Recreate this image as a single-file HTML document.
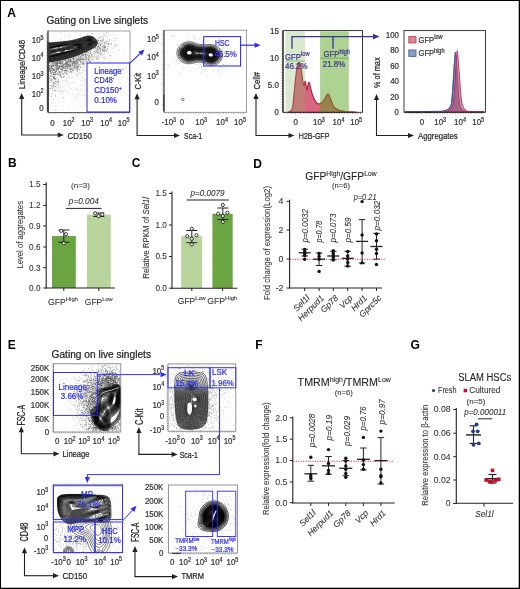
<!DOCTYPE html>
<html><head><meta charset="utf-8"><style>
html,body{margin:0;padding:0;background:#fff;}
body{width:520px;height:589px;overflow:hidden;}
svg{display:block;will-change:transform;}
</style></head><body>
<svg width="520" height="589" viewBox="0 0 520 589" font-family='"Liberation Sans", sans-serif'>
<rect x="0.00" y="0.00" width="520.00" height="589.00" fill="#fff" />
<text transform="translate(7.30 17.10)" font-size="12" fill="#000" font-weight="bold" >A</text>
<text transform="translate(46.50 24.30)" font-size="10" fill="#222" textLength="101.5" lengthAdjust="spacingAndGlyphs" stroke="#222" stroke-width="0.22" >Gating on Live singlets</text>
<path d="M105.2 46.5h0.55v0.55h-0.55zM87.8 59.5h0.55v0.55h-0.55zM73.2 57.7h0.55v0.55h-0.55zM56.2 65.2h0.55v0.55h-0.55zM60.3 66.3h0.55v0.55h-0.55zM71.0 61.7h0.55v0.55h-0.55zM61.6 77.5h0.55v0.55h-0.55zM98.1 50.2h0.55v0.55h-0.55zM77.4 66.6h0.55v0.55h-0.55zM65.5 59.7h0.55v0.55h-0.55zM52.1 77.8h0.55v0.55h-0.55zM69.9 60.3h0.55v0.55h-0.55zM50.4 80.1h0.55v0.55h-0.55zM104.1 47.1h0.55v0.55h-0.55zM78.6 66.0h0.55v0.55h-0.55zM48.6 64.4h0.55v0.55h-0.55zM58.9 62.2h0.55v0.55h-0.55zM86.5 58.6h0.55v0.55h-0.55zM58.4 79.9h0.55v0.55h-0.55zM97.5 58.0h0.55v0.55h-0.55zM103.9 58.0h0.55v0.55h-0.55zM60.3 74.5h0.55v0.55h-0.55zM59.1 67.2h0.55v0.55h-0.55zM52.7 64.0h0.55v0.55h-0.55zM72.2 64.3h0.55v0.55h-0.55zM53.2 82.8h0.55v0.55h-0.55zM53.6 71.8h0.55v0.55h-0.55zM80.9 58.5h0.55v0.55h-0.55zM74.5 60.5h0.55v0.55h-0.55zM67.7 63.0h0.55v0.55h-0.55zM80.4 67.0h0.55v0.55h-0.55zM77.4 61.4h0.55v0.55h-0.55zM104.5 45.8h0.55v0.55h-0.55zM66.1 62.3h0.55v0.55h-0.55zM59.4 71.1h0.55v0.55h-0.55zM65.3 69.0h0.55v0.55h-0.55zM85.2 59.1h0.55v0.55h-0.55zM59.3 76.4h0.55v0.55h-0.55zM73.1 58.3h0.55v0.55h-0.55zM84.0 63.0h0.55v0.55h-0.55zM79.8 57.1h0.55v0.55h-0.55zM63.2 64.4h0.55v0.55h-0.55zM64.3 64.4h0.55v0.55h-0.55zM55.6 71.2h0.55v0.55h-0.55zM103.6 38.6h0.55v0.55h-0.55zM70.3 65.5h0.55v0.55h-0.55zM90.9 57.0h0.55v0.55h-0.55zM57.9 68.0h0.55v0.55h-0.55zM62.1 62.7h0.55v0.55h-0.55zM109.5 43.7h0.55v0.55h-0.55zM82.4 64.6h0.55v0.55h-0.55zM69.2 64.0h0.55v0.55h-0.55zM80.7 60.1h0.55v0.55h-0.55zM49.1 69.8h0.55v0.55h-0.55zM55.6 71.9h0.55v0.55h-0.55zM76.8 61.1h0.55v0.55h-0.55zM104.3 42.6h0.55v0.55h-0.55zM51.9 67.5h0.55v0.55h-0.55zM73.8 68.8h0.55v0.55h-0.55zM50.1 79.0h0.55v0.55h-0.55zM62.1 63.6h0.55v0.55h-0.55zM103.2 44.9h0.55v0.55h-0.55zM80.5 63.7h0.55v0.55h-0.55zM62.3 66.0h0.55v0.55h-0.55zM66.3 64.7h0.55v0.55h-0.55zM83.2 61.9h0.55v0.55h-0.55zM72.3 63.7h0.55v0.55h-0.55zM102.9 48.8h0.55v0.55h-0.55zM101.2 43.8h0.55v0.55h-0.55zM51.5 73.3h0.55v0.55h-0.55zM106.2 41.2h0.55v0.55h-0.55zM84.8 63.7h0.55v0.55h-0.55zM77.3 56.7h0.55v0.55h-0.55zM70.6 66.5h0.55v0.55h-0.55zM61.2 63.0h0.55v0.55h-0.55zM103.7 49.0h0.55v0.55h-0.55zM102.5 47.3h0.55v0.55h-0.55zM87.7 52.4h0.55v0.55h-0.55zM55.0 81.3h0.55v0.55h-0.55zM76.9 66.7h0.55v0.55h-0.55zM59.6 63.2h0.55v0.55h-0.55zM76.1 63.5h0.55v0.55h-0.55zM102.4 42.4h0.55v0.55h-0.55zM107.5 41.5h0.55v0.55h-0.55zM83.5 62.3h0.55v0.55h-0.55zM76.0 58.0h0.55v0.55h-0.55zM89.6 56.5h0.55v0.55h-0.55zM83.3 58.4h0.55v0.55h-0.55zM54.5 66.3h0.55v0.55h-0.55zM76.5 61.7h0.55v0.55h-0.55zM82.0 55.3h0.55v0.55h-0.55zM104.1 44.7h0.55v0.55h-0.55zM56.0 63.8h0.55v0.55h-0.55zM107.0 48.0h0.55v0.55h-0.55zM65.2 70.7h0.55v0.55h-0.55zM52.6 70.1h0.55v0.55h-0.55zM82.4 59.4h0.55v0.55h-0.55zM50.3 85.2h0.55v0.55h-0.55zM55.6 109.6h0.55v0.55h-0.55zM54.5 83.0h0.55v0.55h-0.55zM99.6 48.4h0.55v0.55h-0.55zM88.9 54.6h0.55v0.55h-0.55zM66.1 72.2h0.55v0.55h-0.55zM54.4 77.1h0.55v0.55h-0.55zM80.0 59.2h0.55v0.55h-0.55zM73.6 64.7h0.55v0.55h-0.55zM72.8 58.6h0.55v0.55h-0.55zM67.4 74.2h0.55v0.55h-0.55zM54.0 76.2h0.55v0.55h-0.55zM71.3 61.6h0.55v0.55h-0.55zM97.0 52.6h0.55v0.55h-0.55zM67.5 64.9h0.55v0.55h-0.55zM62.6 67.8h0.55v0.55h-0.55zM98.1 51.8h0.55v0.55h-0.55zM68.8 65.4h0.55v0.55h-0.55zM94.6 50.9h0.55v0.55h-0.55zM74.6 58.1h0.55v0.55h-0.55zM100.3 40.1h0.55v0.55h-0.55zM57.6 68.5h0.55v0.55h-0.55zM97.8 40.5h0.55v0.55h-0.55zM105.9 45.8h0.55v0.55h-0.55zM70.2 63.9h0.55v0.55h-0.55zM49.7 70.9h0.55v0.55h-0.55zM66.6 59.4h0.55v0.55h-0.55zM75.6 62.8h0.55v0.55h-0.55zM57.3 66.4h0.55v0.55h-0.55zM56.7 67.2h0.55v0.55h-0.55zM70.9 59.5h0.55v0.55h-0.55zM89.5 52.4h0.55v0.55h-0.55zM65.6 62.8h0.55v0.55h-0.55zM85.1 60.9h0.55v0.55h-0.55zM100.6 54.4h0.55v0.55h-0.55zM57.5 73.2h0.55v0.55h-0.55zM77.5 66.4h0.55v0.55h-0.55zM68.2 64.2h0.55v0.55h-0.55zM71.2 71.2h0.55v0.55h-0.55zM73.7 57.5h0.55v0.55h-0.55zM86.0 60.4h0.55v0.55h-0.55zM69.1 60.4h0.55v0.55h-0.55zM84.7 54.9h0.55v0.55h-0.55zM90.8 50.1h0.55v0.55h-0.55zM79.7 60.9h0.55v0.55h-0.55zM89.4 58.8h0.55v0.55h-0.55zM61.3 66.6h0.55v0.55h-0.55zM86.5 59.0h0.55v0.55h-0.55zM71.3 61.6h0.55v0.55h-0.55zM65.2 67.1h0.55v0.55h-0.55zM101.1 49.4h0.55v0.55h-0.55zM100.2 48.4h0.55v0.55h-0.55zM53.5 65.7h0.55v0.55h-0.55zM58.9 73.5h0.55v0.55h-0.55zM102.4 48.9h0.55v0.55h-0.55zM60.9 68.7h0.55v0.55h-0.55zM68.3 65.5h0.55v0.55h-0.55zM56.1 63.7h0.55v0.55h-0.55zM81.9 57.6h0.55v0.55h-0.55zM64.6 60.5h0.55v0.55h-0.55zM52.6 66.5h0.55v0.55h-0.55zM75.4 69.7h0.55v0.55h-0.55zM60.4 75.1h0.55v0.55h-0.55zM62.9 63.0h0.55v0.55h-0.55zM75.9 67.5h0.55v0.55h-0.55zM64.8 72.3h0.55v0.55h-0.55zM55.4 74.1h0.55v0.55h-0.55zM77.9 60.9h0.55v0.55h-0.55zM62.3 70.7h0.55v0.55h-0.55zM62.4 60.2h0.55v0.55h-0.55zM52.1 86.5h0.55v0.55h-0.55zM53.4 70.1h0.55v0.55h-0.55zM65.7 70.9h0.55v0.55h-0.55zM51.8 79.9h0.55v0.55h-0.55zM65.7 60.6h0.55v0.55h-0.55zM76.1 67.2h0.55v0.55h-0.55zM58.1 84.5h0.55v0.55h-0.55zM64.7 73.6h0.55v0.55h-0.55zM75.7 61.1h0.55v0.55h-0.55zM62.8 61.6h0.55v0.55h-0.55zM104.7 40.9h0.55v0.55h-0.55zM103.5 33.8h0.55v0.55h-0.55zM99.7 40.0h0.55v0.55h-0.55zM71.9 70.6h0.55v0.55h-0.55zM49.9 81.8h0.55v0.55h-0.55zM52.2 68.2h0.55v0.55h-0.55zM56.0 80.8h0.55v0.55h-0.55zM71.5 65.7h0.55v0.55h-0.55zM79.9 56.5h0.55v0.55h-0.55zM63.5 68.1h0.55v0.55h-0.55zM64.1 68.6h0.55v0.55h-0.55zM79.1 59.3h0.55v0.55h-0.55zM53.6 69.6h0.55v0.55h-0.55zM70.4 60.4h0.55v0.55h-0.55zM50.0 72.5h0.55v0.55h-0.55zM49.8 67.4h0.55v0.55h-0.55zM65.9 68.3h0.55v0.55h-0.55zM68.3 58.9h0.55v0.55h-0.55zM85.3 55.1h0.55v0.55h-0.55zM89.8 61.1h0.55v0.55h-0.55zM104.9 46.1h0.55v0.55h-0.55zM107.3 46.8h0.55v0.55h-0.55zM73.6 61.0h0.55v0.55h-0.55zM97.7 56.2h0.55v0.55h-0.55zM64.0 63.2h0.55v0.55h-0.55zM103.7 51.4h0.55v0.55h-0.55zM90.4 61.9h0.55v0.55h-0.55zM58.7 67.2h0.55v0.55h-0.55zM57.7 62.9h0.55v0.55h-0.55zM98.1 45.6h0.55v0.55h-0.55zM57.5 61.4h0.55v0.55h-0.55zM76.7 58.7h0.55v0.55h-0.55zM53.0 72.2h0.55v0.55h-0.55zM77.3 63.3h0.55v0.55h-0.55zM76.9 63.0h0.55v0.55h-0.55zM55.3 62.0h0.55v0.55h-0.55zM61.9 62.6h0.55v0.55h-0.55zM74.2 67.7h0.55v0.55h-0.55zM104.0 49.6h0.55v0.55h-0.55zM63.4 66.9h0.55v0.55h-0.55zM82.8 67.3h0.55v0.55h-0.55zM100.5 40.2h0.55v0.55h-0.55zM58.4 65.7h0.55v0.55h-0.55zM55.8 70.0h0.55v0.55h-0.55zM86.2 58.2h0.55v0.55h-0.55zM89.2 61.5h0.55v0.55h-0.55zM89.4 60.4h0.55v0.55h-0.55zM109.2 55.6h0.55v0.55h-0.55zM79.9 59.4h0.55v0.55h-0.55zM69.0 61.5h0.55v0.55h-0.55zM82.3 72.4h0.55v0.55h-0.55zM70.7 59.6h0.55v0.55h-0.55zM70.7 59.1h0.55v0.55h-0.55zM61.2 77.2h0.55v0.55h-0.55zM92.8 59.5h0.55v0.55h-0.55zM66.1 61.7h0.55v0.55h-0.55zM80.3 57.8h0.55v0.55h-0.55zM85.6 60.3h0.55v0.55h-0.55zM75.4 66.4h0.55v0.55h-0.55zM93.3 53.4h0.55v0.55h-0.55zM104.1 44.5h0.55v0.55h-0.55zM67.3 68.3h0.55v0.55h-0.55zM85.1 61.1h0.55v0.55h-0.55zM50.8 64.2h0.55v0.55h-0.55zM92.2 54.7h0.55v0.55h-0.55zM74.0 61.1h0.55v0.55h-0.55zM95.8 51.2h0.55v0.55h-0.55zM93.3 51.4h0.55v0.55h-0.55zM61.0 69.0h0.55v0.55h-0.55zM76.9 65.6h0.55v0.55h-0.55zM51.2 65.9h0.55v0.55h-0.55zM98.0 53.8h0.55v0.55h-0.55zM69.0 68.0h0.55v0.55h-0.55zM75.9 59.8h0.55v0.55h-0.55zM70.9 59.9h0.55v0.55h-0.55zM54.0 68.3h0.55v0.55h-0.55zM83.0 54.1h0.55v0.55h-0.55zM104.3 53.6h0.55v0.55h-0.55zM81.1 55.5h0.55v0.55h-0.55zM107.3 48.1h0.55v0.55h-0.55zM55.7 78.0h0.55v0.55h-0.55zM58.5 67.0h0.55v0.55h-0.55zM54.0 69.7h0.55v0.55h-0.55zM57.0 64.5h0.55v0.55h-0.55zM67.1 61.2h0.55v0.55h-0.55zM99.8 44.2h0.55v0.55h-0.55zM81.5 61.0h0.55v0.55h-0.55zM54.6 74.4h0.55v0.55h-0.55zM95.5 52.5h0.55v0.55h-0.55zM54.8 63.0h0.55v0.55h-0.55zM54.3 79.3h0.55v0.55h-0.55zM96.5 58.5h0.55v0.55h-0.55zM51.4 73.3h0.55v0.55h-0.55zM86.7 52.6h0.55v0.55h-0.55zM62.2 69.4h0.55v0.55h-0.55zM101.7 48.5h0.55v0.55h-0.55zM80.5 61.6h0.55v0.55h-0.55zM50.0 71.7h0.55v0.55h-0.55zM103.3 56.9h0.55v0.55h-0.55zM52.4 63.4h0.55v0.55h-0.55zM61.2 62.6h0.55v0.55h-0.55zM59.7 60.9h0.55v0.55h-0.55zM53.2 64.9h0.55v0.55h-0.55zM53.3 77.8h0.55v0.55h-0.55zM48.9 78.0h0.55v0.55h-0.55zM83.2 55.1h0.55v0.55h-0.55zM106.4 50.2h0.55v0.55h-0.55zM99.1 41.8h0.55v0.55h-0.55zM82.4 63.3h0.55v0.55h-0.55zM90.9 54.9h0.55v0.55h-0.55zM61.3 65.7h0.55v0.55h-0.55zM69.4 63.4h0.55v0.55h-0.55zM61.0 62.8h0.55v0.55h-0.55zM100.4 48.8h0.55v0.55h-0.55zM69.3 65.0h0.55v0.55h-0.55zM70.5 60.1h0.55v0.55h-0.55zM94.5 57.2h0.55v0.55h-0.55zM60.3 68.2h0.55v0.55h-0.55zM51.6 69.0h0.55v0.55h-0.55zM63.1 64.3h0.55v0.55h-0.55zM63.0 76.2h0.55v0.55h-0.55zM53.2 68.9h0.55v0.55h-0.55zM62.6 65.3h0.55v0.55h-0.55zM52.7 63.4h0.55v0.55h-0.55zM60.7 71.9h0.55v0.55h-0.55zM87.7 55.8h0.55v0.55h-0.55zM86.6 56.6h0.55v0.55h-0.55zM91.6 55.6h0.55v0.55h-0.55zM56.4 68.4h0.55v0.55h-0.55zM82.3 59.5h0.55v0.55h-0.55zM51.0 67.2h0.55v0.55h-0.55zM76.4 62.3h0.55v0.55h-0.55zM53.4 86.5h0.55v0.55h-0.55zM66.9 64.4h0.55v0.55h-0.55zM99.9 51.2h0.55v0.55h-0.55zM69.2 61.7h0.55v0.55h-0.55zM92.2 35.9h0.55v0.55h-0.55zM56.0 70.5h0.55v0.55h-0.55zM66.7 60.7h0.55v0.55h-0.55zM96.4 46.7h0.55v0.55h-0.55zM60.5 66.5h0.55v0.55h-0.55zM57.6 64.5h0.55v0.55h-0.55zM57.1 61.2h0.55v0.55h-0.55zM57.9 73.9h0.55v0.55h-0.55zM58.1 70.2h0.55v0.55h-0.55zM62.4 65.0h0.55v0.55h-0.55zM49.8 90.8h0.55v0.55h-0.55zM53.6 91.5h0.55v0.55h-0.55zM95.2 48.8h0.55v0.55h-0.55zM56.6 63.7h0.55v0.55h-0.55zM57.2 66.6h0.55v0.55h-0.55zM54.8 71.5h0.55v0.55h-0.55zM66.7 68.8h0.55v0.55h-0.55zM87.1 61.5h0.55v0.55h-0.55zM68.7 66.6h0.55v0.55h-0.55zM69.2 69.7h0.55v0.55h-0.55zM63.4 60.6h0.55v0.55h-0.55zM52.4 69.4h0.55v0.55h-0.55zM57.1 66.5h0.55v0.55h-0.55zM60.1 66.2h0.55v0.55h-0.55zM70.3 59.0h0.55v0.55h-0.55zM56.1 62.4h0.55v0.55h-0.55zM52.8 68.3h0.55v0.55h-0.55zM103.1 40.6h0.55v0.55h-0.55zM54.6 79.2h0.55v0.55h-0.55zM76.3 63.3h0.55v0.55h-0.55zM53.9 82.8h0.55v0.55h-0.55zM56.1 61.9h0.55v0.55h-0.55zM49.3 65.0h0.55v0.55h-0.55zM105.3 42.7h0.55v0.55h-0.55zM66.7 60.9h0.55v0.55h-0.55zM53.3 73.3h0.55v0.55h-0.55zM66.0 62.8h0.55v0.55h-0.55zM57.2 74.4h0.55v0.55h-0.55zM79.9 61.3h0.55v0.55h-0.55zM66.6 70.1h0.55v0.55h-0.55zM63.9 65.3h0.55v0.55h-0.55zM58.1 62.7h0.55v0.55h-0.55zM60.6 71.5h0.55v0.55h-0.55zM91.6 54.5h0.55v0.55h-0.55zM105.5 47.7h0.55v0.55h-0.55zM79.8 60.7h0.55v0.55h-0.55zM57.1 88.2h0.55v0.55h-0.55zM52.0 62.0h0.55v0.55h-0.55zM53.6 77.8h0.55v0.55h-0.55zM101.0 46.4h0.55v0.55h-0.55zM58.9 66.3h0.55v0.55h-0.55zM69.1 61.8h0.55v0.55h-0.55zM48.9 71.4h0.55v0.55h-0.55zM106.2 42.7h0.55v0.55h-0.55zM61.0 61.5h0.55v0.55h-0.55zM62.7 67.0h0.55v0.55h-0.55zM52.0 88.4h0.55v0.55h-0.55zM59.2 66.1h0.55v0.55h-0.55zM88.0 60.2h0.55v0.55h-0.55zM62.6 70.9h0.55v0.55h-0.55zM60.0 66.8h0.55v0.55h-0.55zM66.9 61.0h0.55v0.55h-0.55zM66.0 70.0h0.55v0.55h-0.55zM55.0 95.3h0.55v0.55h-0.55zM64.9 67.7h0.55v0.55h-0.55zM73.2 65.6h0.55v0.55h-0.55zM66.6 64.6h0.55v0.55h-0.55zM69.5 66.0h0.55v0.55h-0.55zM97.8 53.0h0.55v0.55h-0.55zM68.7 77.4h0.55v0.55h-0.55zM102.2 36.0h0.55v0.55h-0.55zM61.9 91.1h0.55v0.55h-0.55zM57.1 61.3h0.55v0.55h-0.55zM58.5 79.7h0.55v0.55h-0.55zM52.5 69.5h0.55v0.55h-0.55zM74.5 62.7h0.55v0.55h-0.55zM51.0 81.6h0.55v0.55h-0.55zM59.1 61.3h0.55v0.55h-0.55zM65.0 66.2h0.55v0.55h-0.55zM58.7 65.5h0.55v0.55h-0.55zM72.1 62.8h0.55v0.55h-0.55zM83.7 54.8h0.55v0.55h-0.55zM71.5 62.9h0.55v0.55h-0.55zM53.0 87.1h0.55v0.55h-0.55zM103.0 48.8h0.55v0.55h-0.55zM85.4 53.8h0.55v0.55h-0.55zM52.4 62.0h0.55v0.55h-0.55zM83.4 63.2h0.55v0.55h-0.55zM56.4 68.1h0.55v0.55h-0.55zM73.4 58.6h0.55v0.55h-0.55zM70.7 63.2h0.55v0.55h-0.55zM91.4 54.6h0.55v0.55h-0.55zM55.2 86.3h0.55v0.55h-0.55zM51.7 70.2h0.55v0.55h-0.55zM106.5 42.9h0.55v0.55h-0.55zM62.6 97.5h0.55v0.55h-0.55zM83.1 66.3h0.55v0.55h-0.55zM93.1 48.7h0.55v0.55h-0.55zM81.3 54.2h0.55v0.55h-0.55zM57.1 63.7h0.55v0.55h-0.55zM104.6 48.5h0.55v0.55h-0.55zM69.9 64.8h0.55v0.55h-0.55zM53.3 74.1h0.55v0.55h-0.55zM80.6 55.9h0.55v0.55h-0.55zM53.9 90.2h0.55v0.55h-0.55zM51.5 72.1h0.55v0.55h-0.55zM76.6 58.9h0.55v0.55h-0.55zM54.9 72.9h0.55v0.55h-0.55zM72.5 69.4h0.55v0.55h-0.55zM64.0 66.4h0.55v0.55h-0.55zM76.7 62.4h0.55v0.55h-0.55zM96.1 50.9h0.55v0.55h-0.55zM70.2 69.8h0.55v0.55h-0.55zM57.2 61.5h0.55v0.55h-0.55zM77.2 68.8h0.55v0.55h-0.55zM69.6 61.4h0.55v0.55h-0.55zM52.6 68.2h0.55v0.55h-0.55zM68.5 62.5h0.55v0.55h-0.55zM76.8 71.3h0.55v0.55h-0.55zM51.6 68.6h0.55v0.55h-0.55zM102.9 38.3h0.55v0.55h-0.55zM96.4 57.9h0.55v0.55h-0.55zM53.7 70.0h0.55v0.55h-0.55zM53.0 77.4h0.55v0.55h-0.55zM69.6 62.0h0.55v0.55h-0.55zM54.5 73.4h0.55v0.55h-0.55zM102.4 46.4h0.55v0.55h-0.55zM49.5 67.8h0.55v0.55h-0.55zM56.2 67.8h0.55v0.55h-0.55zM59.4 62.8h0.55v0.55h-0.55zM102.1 55.5h0.55v0.55h-0.55zM98.7 43.2h0.55v0.55h-0.55zM81.6 63.1h0.55v0.55h-0.55zM52.9 76.8h0.55v0.55h-0.55zM61.6 60.2h0.55v0.55h-0.55zM88.2 59.2h0.55v0.55h-0.55zM71.6 66.9h0.55v0.55h-0.55zM60.8 60.8h0.55v0.55h-0.55zM67.4 65.3h0.55v0.55h-0.55zM112.8 47.9h0.55v0.55h-0.55zM72.9 61.9h0.55v0.55h-0.55zM51.4 78.7h0.55v0.55h-0.55zM106.1 49.4h0.55v0.55h-0.55zM67.5 66.9h0.55v0.55h-0.55zM56.4 66.6h0.55v0.55h-0.55zM79.7 70.3h0.55v0.55h-0.55zM58.1 74.2h0.55v0.55h-0.55zM58.8 60.9h0.55v0.55h-0.55zM49.2 69.2h0.55v0.55h-0.55zM49.5 69.0h0.55v0.55h-0.55zM61.8 63.1h0.55v0.55h-0.55zM68.4 59.9h0.55v0.55h-0.55zM69.0 66.9h0.55v0.55h-0.55zM52.2 66.5h0.55v0.55h-0.55zM98.0 46.4h0.55v0.55h-0.55zM61.3 64.7h0.55v0.55h-0.55zM86.3 53.7h0.55v0.55h-0.55zM73.7 62.9h0.55v0.55h-0.55zM70.3 58.3h0.55v0.55h-0.55zM62.1 62.9h0.55v0.55h-0.55zM67.2 66.3h0.55v0.55h-0.55zM48.6 82.3h0.55v0.55h-0.55zM103.8 56.5h0.55v0.55h-0.55zM97.4 51.1h0.55v0.55h-0.55zM98.9 37.9h0.55v0.55h-0.55zM60.1 63.3h0.55v0.55h-0.55zM56.4 62.0h0.55v0.55h-0.55zM100.3 51.6h0.55v0.55h-0.55zM98.2 46.0h0.55v0.55h-0.55zM90.5 53.4h0.55v0.55h-0.55zM53.7 76.2h0.55v0.55h-0.55zM88.5 53.4h0.55v0.55h-0.55zM49.2 68.4h0.55v0.55h-0.55zM53.6 74.1h0.55v0.55h-0.55zM76.4 69.7h0.55v0.55h-0.55zM73.4 58.9h0.55v0.55h-0.55zM51.8 79.0h0.55v0.55h-0.55zM83.2 54.4h0.55v0.55h-0.55zM68.0 59.4h0.55v0.55h-0.55zM50.7 68.6h0.55v0.55h-0.55zM87.0 52.0h0.55v0.55h-0.55zM67.5 67.8h0.55v0.55h-0.55zM59.2 61.8h0.55v0.55h-0.55zM82.1 61.2h0.55v0.55h-0.55zM52.3 72.1h0.55v0.55h-0.55zM70.0 65.4h0.55v0.55h-0.55zM94.7 53.6h0.55v0.55h-0.55zM86.1 54.5h0.55v0.55h-0.55zM80.1 61.4h0.55v0.55h-0.55zM90.6 52.4h0.55v0.55h-0.55zM97.8 49.0h0.55v0.55h-0.55zM52.2 66.4h0.55v0.55h-0.55zM105.1 46.8h0.55v0.55h-0.55zM111.0 43.6h0.55v0.55h-0.55zM69.5 59.6h0.55v0.55h-0.55zM77.3 59.7h0.55v0.55h-0.55zM111.7 47.3h0.55v0.55h-0.55zM65.1 70.8h0.55v0.55h-0.55zM91.6 59.3h0.55v0.55h-0.55zM66.0 72.2h0.55v0.55h-0.55zM98.8 57.2h0.55v0.55h-0.55zM99.9 50.1h0.55v0.55h-0.55zM51.8 65.2h0.55v0.55h-0.55zM60.3 67.9h0.55v0.55h-0.55zM78.3 62.2h0.55v0.55h-0.55zM62.5 61.3h0.55v0.55h-0.55zM99.5 47.8h0.55v0.55h-0.55zM50.2 67.9h0.55v0.55h-0.55zM106.6 40.8h0.55v0.55h-0.55zM75.0 62.2h0.55v0.55h-0.55zM61.1 91.7h0.55v0.55h-0.55zM97.8 55.8h0.55v0.55h-0.55zM54.8 64.6h0.55v0.55h-0.55zM57.7 63.5h0.55v0.55h-0.55zM89.1 57.0h0.55v0.55h-0.55zM49.8 65.6h0.55v0.55h-0.55zM85.3 63.2h0.55v0.55h-0.55zM55.6 65.8h0.55v0.55h-0.55zM52.8 62.1h0.55v0.55h-0.55zM84.3 59.1h0.55v0.55h-0.55zM62.8 71.7h0.55v0.55h-0.55zM100.2 45.1h0.55v0.55h-0.55zM77.8 69.7h0.55v0.55h-0.55zM53.3 78.3h0.55v0.55h-0.55zM78.2 66.5h0.55v0.55h-0.55zM54.6 70.0h0.55v0.55h-0.55zM59.0 65.9h0.55v0.55h-0.55zM100.7 53.1h0.55v0.55h-0.55zM73.0 66.7h0.55v0.55h-0.55zM63.8 75.9h0.55v0.55h-0.55zM65.4 67.7h0.55v0.55h-0.55zM54.7 62.2h0.55v0.55h-0.55zM80.9 67.8h0.55v0.55h-0.55zM61.7 69.4h0.55v0.55h-0.55zM100.5 49.6h0.55v0.55h-0.55zM70.4 63.2h0.55v0.55h-0.55zM86.9 52.2h0.55v0.55h-0.55zM73.7 70.5h0.55v0.55h-0.55zM94.8 56.3h0.55v0.55h-0.55zM57.6 72.6h0.55v0.55h-0.55zM85.8 52.4h0.55v0.55h-0.55zM49.3 66.5h0.55v0.55h-0.55zM65.0 62.7h0.55v0.55h-0.55zM71.7 69.7h0.55v0.55h-0.55zM56.4 67.5h0.55v0.55h-0.55zM63.8 63.7h0.55v0.55h-0.55zM58.2 66.7h0.55v0.55h-0.55zM62.6 67.2h0.55v0.55h-0.55zM65.7 60.8h0.55v0.55h-0.55zM61.0 67.0h0.55v0.55h-0.55zM83.8 59.9h0.55v0.55h-0.55zM76.3 67.7h0.55v0.55h-0.55zM94.5 48.5h0.55v0.55h-0.55zM53.1 77.7h0.55v0.55h-0.55zM97.4 47.7h0.55v0.55h-0.55zM69.4 71.7h0.55v0.55h-0.55zM67.7 64.4h0.55v0.55h-0.55zM60.9 65.8h0.55v0.55h-0.55zM68.3 64.9h0.55v0.55h-0.55zM72.2 64.5h0.55v0.55h-0.55zM75.9 63.3h0.55v0.55h-0.55zM70.2 62.0h0.55v0.55h-0.55zM53.2 99.0h0.55v0.55h-0.55zM101.5 42.7h0.55v0.55h-0.55zM85.6 54.8h0.55v0.55h-0.55zM58.1 61.3h0.55v0.55h-0.55zM74.3 67.8h0.55v0.55h-0.55zM51.4 66.3h0.55v0.55h-0.55zM85.2 54.6h0.55v0.55h-0.55zM77.5 67.6h0.55v0.55h-0.55zM70.0 59.8h0.55v0.55h-0.55zM70.4 61.3h0.55v0.55h-0.55zM65.9 74.4h0.55v0.55h-0.55zM115.1 38.4h0.55v0.55h-0.55zM99.4 42.4h0.55v0.55h-0.55zM98.5 50.3h0.55v0.55h-0.55zM57.9 79.5h0.55v0.55h-0.55zM58.6 72.7h0.55v0.55h-0.55zM57.1 63.1h0.55v0.55h-0.55zM55.0 72.4h0.55v0.55h-0.55zM50.1 74.8h0.55v0.55h-0.55zM114.5 44.6h0.55v0.55h-0.55zM98.6 34.5h0.55v0.55h-0.55zM89.7 51.1h0.55v0.55h-0.55zM72.5 63.3h0.55v0.55h-0.55zM71.5 71.8h0.55v0.55h-0.55zM69.7 60.6h0.55v0.55h-0.55zM67.1 71.4h0.55v0.55h-0.55zM85.3 53.6h0.55v0.55h-0.55zM55.5 74.1h0.55v0.55h-0.55zM97.3 50.7h0.55v0.55h-0.55zM75.5 59.0h0.55v0.55h-0.55zM100.3 49.4h0.55v0.55h-0.55zM80.0 62.0h0.55v0.55h-0.55zM69.9 65.3h0.55v0.55h-0.55zM90.0 51.2h0.55v0.55h-0.55zM53.7 68.1h0.55v0.55h-0.55zM82.4 55.7h0.55v0.55h-0.55zM52.0 89.2h0.55v0.55h-0.55zM48.8 77.0h0.55v0.55h-0.55zM103.4 45.6h0.55v0.55h-0.55zM78.6 66.2h0.55v0.55h-0.55zM96.5 56.0h0.55v0.55h-0.55zM70.2 67.5h0.55v0.55h-0.55zM53.3 76.0h0.55v0.55h-0.55zM59.1 73.6h0.55v0.55h-0.55zM68.5 68.0h0.55v0.55h-0.55zM58.2 62.4h0.55v0.55h-0.55zM58.0 65.4h0.55v0.55h-0.55zM51.1 70.2h0.55v0.55h-0.55zM80.0 59.1h0.55v0.55h-0.55zM70.2 58.4h0.55v0.55h-0.55zM55.1 83.2h0.55v0.55h-0.55zM67.9 58.9h0.55v0.55h-0.55zM52.8 70.4h0.55v0.55h-0.55zM54.9 72.8h0.55v0.55h-0.55zM55.0 74.7h0.55v0.55h-0.55zM53.1 69.1h0.55v0.55h-0.55zM108.6 39.9h0.55v0.55h-0.55zM66.4 65.3h0.55v0.55h-0.55zM53.8 63.3h0.55v0.55h-0.55zM67.2 63.8h0.55v0.55h-0.55zM58.2 82.4h0.55v0.55h-0.55zM101.3 40.2h0.55v0.55h-0.55zM66.3 59.8h0.55v0.55h-0.55zM57.7 89.9h0.55v0.55h-0.55zM86.6 61.3h0.55v0.55h-0.55zM49.9 71.6h0.55v0.55h-0.55zM95.8 48.7h0.55v0.55h-0.55zM67.3 63.5h0.55v0.55h-0.55zM59.9 62.8h0.55v0.55h-0.55zM95.6 50.4h0.55v0.55h-0.55zM57.6 65.0h0.55v0.55h-0.55zM56.2 62.9h0.55v0.55h-0.55zM62.7 67.1h0.55v0.55h-0.55zM65.2 61.6h0.55v0.55h-0.55zM75.7 64.1h0.55v0.55h-0.55zM52.6 84.3h0.55v0.55h-0.55zM49.5 68.6h0.55v0.55h-0.55zM107.3 38.5h0.55v0.55h-0.55zM50.5 73.2h0.55v0.55h-0.55zM55.3 68.7h0.55v0.55h-0.55zM110.9 44.3h0.55v0.55h-0.55zM80.6 57.9h0.55v0.55h-0.55zM74.6 62.2h0.55v0.55h-0.55zM54.1 79.6h0.55v0.55h-0.55zM57.3 62.1h0.55v0.55h-0.55zM51.3 67.2h0.55v0.55h-0.55zM73.8 63.5h0.55v0.55h-0.55zM58.4 69.4h0.55v0.55h-0.55zM55.5 72.5h0.55v0.55h-0.55zM76.9 69.6h0.55v0.55h-0.55zM50.6 66.0h0.55v0.55h-0.55zM52.2 65.4h0.55v0.55h-0.55zM50.6 70.5h0.55v0.55h-0.55zM102.3 42.2h0.55v0.55h-0.55zM59.3 66.4h0.55v0.55h-0.55zM49.5 70.7h0.55v0.55h-0.55zM63.1 76.9h0.55v0.55h-0.55zM104.7 45.9h0.55v0.55h-0.55zM67.8 58.8h0.55v0.55h-0.55zM66.1 91.0h0.55v0.55h-0.55zM67.1 68.4h0.55v0.55h-0.55zM88.7 58.5h0.55v0.55h-0.55zM72.4 58.4h0.55v0.55h-0.55zM72.5 58.4h0.55v0.55h-0.55zM64.1 72.4h0.55v0.55h-0.55zM77.1 66.7h0.55v0.55h-0.55zM73.2 61.3h0.55v0.55h-0.55zM54.0 62.6h0.55v0.55h-0.55zM79.3 64.4h0.55v0.55h-0.55zM61.0 66.2h0.55v0.55h-0.55zM60.2 75.4h0.55v0.55h-0.55zM58.2 81.1h0.55v0.55h-0.55zM63.2 60.8h0.55v0.55h-0.55zM104.5 50.3h0.55v0.55h-0.55zM52.3 85.3h0.55v0.55h-0.55zM51.2 75.0h0.55v0.55h-0.55zM61.4 69.4h0.55v0.55h-0.55zM87.6 34.6h0.55v0.55h-0.55zM96.4 47.0h0.55v0.55h-0.55zM70.8 65.0h0.55v0.55h-0.55zM57.4 68.1h0.55v0.55h-0.55zM82.5 54.6h0.55v0.55h-0.55zM62.0 63.8h0.55v0.55h-0.55zM79.5 60.9h0.55v0.55h-0.55zM114.0 46.0h0.55v0.55h-0.55zM65.3 70.0h0.55v0.55h-0.55zM98.0 44.5h0.55v0.55h-0.55zM102.6 47.5h0.55v0.55h-0.55zM82.2 63.9h0.55v0.55h-0.55zM63.0 65.5h0.55v0.55h-0.55zM67.2 67.0h0.55v0.55h-0.55zM65.9 66.6h0.55v0.55h-0.55zM81.7 59.5h0.55v0.55h-0.55zM74.9 61.3h0.55v0.55h-0.55zM68.6 61.2h0.55v0.55h-0.55zM91.2 55.0h0.55v0.55h-0.55zM59.3 65.7h0.55v0.55h-0.55zM82.3 55.4h0.55v0.55h-0.55zM100.5 44.5h0.55v0.55h-0.55zM56.4 74.4h0.55v0.55h-0.55zM118.4 49.6h0.55v0.55h-0.55zM102.4 40.6h0.55v0.55h-0.55zM96.5 48.4h0.55v0.55h-0.55zM100.8 37.1h0.55v0.55h-0.55zM49.0 70.6h0.55v0.55h-0.55zM60.5 63.0h0.55v0.55h-0.55zM77.9 62.6h0.55v0.55h-0.55zM83.4 61.4h0.55v0.55h-0.55zM104.7 43.5h0.55v0.55h-0.55zM57.1 62.0h0.55v0.55h-0.55zM104.3 51.1h0.55v0.55h-0.55zM60.5 64.9h0.55v0.55h-0.55zM56.4 69.4h0.55v0.55h-0.55zM50.8 75.5h0.55v0.55h-0.55zM102.1 51.5h0.55v0.55h-0.55zM106.5 32.5h0.55v0.55h-0.55zM56.2 70.6h0.55v0.55h-0.55zM89.9 61.2h0.55v0.55h-0.55zM54.0 89.9h0.55v0.55h-0.55zM71.2 64.7h0.55v0.55h-0.55zM81.1 56.5h0.55v0.55h-0.55zM72.0 64.7h0.55v0.55h-0.55zM97.1 48.8h0.55v0.55h-0.55zM84.9 56.1h0.55v0.55h-0.55zM62.3 66.4h0.55v0.55h-0.55zM88.5 59.4h0.55v0.55h-0.55zM97.7 48.9h0.55v0.55h-0.55zM85.4 54.6h0.55v0.55h-0.55zM51.7 66.8h0.55v0.55h-0.55zM66.7 61.7h0.55v0.55h-0.55zM70.9 69.1h0.55v0.55h-0.55zM94.5 51.4h0.55v0.55h-0.55zM88.3 58.0h0.55v0.55h-0.55zM70.6 64.3h0.55v0.55h-0.55zM63.4 64.5h0.55v0.55h-0.55zM74.9 66.9h0.55v0.55h-0.55zM67.4 68.7h0.55v0.55h-0.55zM82.7 62.6h0.55v0.55h-0.55zM82.1 58.6h0.55v0.55h-0.55zM52.0 74.7h0.55v0.55h-0.55zM82.1 62.1h0.55v0.55h-0.55zM100.1 53.9h0.55v0.55h-0.55zM72.8 70.8h0.55v0.55h-0.55zM75.7 64.7h0.55v0.55h-0.55zM74.8 57.2h0.55v0.55h-0.55zM74.5 65.1h0.55v0.55h-0.55zM53.9 77.6h0.55v0.55h-0.55zM57.1 63.7h0.55v0.55h-0.55zM58.6 74.0h0.55v0.55h-0.55zM108.2 44.4h0.55v0.55h-0.55zM52.0 89.4h0.55v0.55h-0.55zM69.9 71.6h0.55v0.55h-0.55zM96.6 52.1h0.55v0.55h-0.55zM65.7 66.1h0.55v0.55h-0.55zM55.7 68.1h0.55v0.55h-0.55zM49.9 75.1h0.55v0.55h-0.55zM51.6 69.0h0.55v0.55h-0.55zM74.0 63.4h0.55v0.55h-0.55zM99.8 37.4h0.55v0.55h-0.55zM92.6 53.8h0.55v0.55h-0.55zM58.3 67.6h0.55v0.55h-0.55zM103.9 41.9h0.55v0.55h-0.55zM64.8 66.4h0.55v0.55h-0.55zM80.6 55.6h0.55v0.55h-0.55zM59.9 61.0h0.55v0.55h-0.55zM57.9 70.9h0.55v0.55h-0.55zM59.5 63.7h0.55v0.55h-0.55zM63.4 66.0h0.55v0.55h-0.55zM97.8 45.8h0.55v0.55h-0.55zM51.8 63.3h0.55v0.55h-0.55zM51.4 68.7h0.55v0.55h-0.55zM49.7 75.9h0.55v0.55h-0.55zM108.4 46.6h0.55v0.55h-0.55zM69.8 66.8h0.55v0.55h-0.55zM74.2 62.6h0.55v0.55h-0.55zM60.1 73.9h0.55v0.55h-0.55zM62.4 65.2h0.55v0.55h-0.55zM86.1 60.5h0.55v0.55h-0.55zM103.1 46.3h0.55v0.55h-0.55zM76.3 74.6h0.55v0.55h-0.55zM49.0 68.9h0.55v0.55h-0.55zM77.9 67.1h0.55v0.55h-0.55zM55.3 64.9h0.55v0.55h-0.55zM55.6 81.0h0.55v0.55h-0.55zM52.7 65.6h0.55v0.55h-0.55zM60.4 73.3h0.55v0.55h-0.55zM65.1 67.1h0.55v0.55h-0.55zM77.3 58.1h0.55v0.55h-0.55zM54.5 70.4h0.55v0.55h-0.55zM52.7 82.4h0.55v0.55h-0.55zM64.4 76.2h0.55v0.55h-0.55zM49.4 78.8h0.55v0.55h-0.55zM62.0 72.7h0.55v0.55h-0.55zM98.3 40.1h0.55v0.55h-0.55zM49.9 67.5h0.55v0.55h-0.55zM54.3 64.5h0.55v0.55h-0.55zM52.7 69.4h0.55v0.55h-0.55zM70.5 66.3h0.55v0.55h-0.55zM52.6 76.1h0.55v0.55h-0.55zM54.1 69.4h0.55v0.55h-0.55zM62.6 67.0h0.55v0.55h-0.55zM60.2 61.0h0.55v0.55h-0.55zM99.0 43.6h0.55v0.55h-0.55zM53.8 74.6h0.55v0.55h-0.55zM98.3 52.3h0.55v0.55h-0.55zM98.4 47.4h0.55v0.55h-0.55zM67.3 63.8h0.55v0.55h-0.55zM104.7 47.3h0.55v0.55h-0.55zM76.6 56.0h0.55v0.55h-0.55zM85.8 56.5h0.55v0.55h-0.55zM78.9 55.8h0.55v0.55h-0.55zM63.3 65.2h0.55v0.55h-0.55zM49.2 64.9h0.55v0.55h-0.55zM77.9 59.0h0.55v0.55h-0.55zM74.1 64.7h0.55v0.55h-0.55zM59.8 66.8h0.55v0.55h-0.55zM58.8 67.8h0.55v0.55h-0.55zM57.9 65.4h0.55v0.55h-0.55zM82.4 56.8h0.55v0.55h-0.55zM103.7 33.6h0.55v0.55h-0.55zM66.9 58.9h0.55v0.55h-0.55zM100.1 44.1h0.55v0.55h-0.55zM57.4 81.1h0.55v0.55h-0.55zM66.0 63.1h0.55v0.55h-0.55zM90.0 60.7h0.55v0.55h-0.55zM55.6 78.3h0.55v0.55h-0.55zM106.2 36.4h0.55v0.55h-0.55zM75.5 67.1h0.55v0.55h-0.55zM116.9 44.6h0.55v0.55h-0.55zM88.9 55.3h0.55v0.55h-0.55zM78.9 69.4h0.55v0.55h-0.55zM55.9 84.9h0.55v0.55h-0.55zM57.2 63.0h0.55v0.55h-0.55zM50.0 69.8h0.55v0.55h-0.55zM59.8 68.7h0.55v0.55h-0.55zM61.3 71.0h0.55v0.55h-0.55zM51.6 79.6h0.55v0.55h-0.55zM65.7 72.9h0.55v0.55h-0.55zM104.7 45.0h0.55v0.55h-0.55zM83.9 70.3h0.55v0.55h-0.55zM50.8 68.0h0.55v0.55h-0.55zM97.7 39.5h0.55v0.55h-0.55zM55.7 63.2h0.55v0.55h-0.55zM52.9 84.3h0.55v0.55h-0.55zM62.8 71.7h0.55v0.55h-0.55zM104.3 35.2h0.55v0.55h-0.55zM92.9 56.5h0.55v0.55h-0.55zM99.7 44.3h0.55v0.55h-0.55zM57.4 77.4h0.55v0.55h-0.55zM57.2 63.8h0.55v0.55h-0.55zM64.1 70.3h0.55v0.55h-0.55zM73.5 58.9h0.55v0.55h-0.55zM53.8 68.4h0.55v0.55h-0.55zM62.8 70.3h0.55v0.55h-0.55zM75.0 66.4h0.55v0.55h-0.55zM75.1 63.6h0.55v0.55h-0.55zM80.6 62.4h0.55v0.55h-0.55zM90.3 52.9h0.55v0.55h-0.55zM68.3 60.5h0.55v0.55h-0.55zM56.0 70.2h0.55v0.55h-0.55zM48.8 82.4h0.55v0.55h-0.55zM85.4 57.9h0.55v0.55h-0.55zM71.2 68.7h0.55v0.55h-0.55zM54.1 88.4h0.55v0.55h-0.55zM69.3 64.1h0.55v0.55h-0.55zM50.5 88.1h0.55v0.55h-0.55zM78.9 64.2h0.55v0.55h-0.55zM55.3 69.3h0.55v0.55h-0.55zM97.6 37.5h0.55v0.55h-0.55zM73.3 69.9h0.55v0.55h-0.55zM111.7 40.7h0.55v0.55h-0.55zM97.8 61.3h0.55v0.55h-0.55zM79.7 72.3h0.55v0.55h-0.55zM75.1 66.4h0.55v0.55h-0.55zM62.5 69.3h0.55v0.55h-0.55zM74.4 66.4h0.55v0.55h-0.55zM62.5 76.9h0.55v0.55h-0.55zM51.8 94.8h0.55v0.55h-0.55zM56.1 64.5h0.55v0.55h-0.55zM65.3 63.3h0.55v0.55h-0.55zM98.6 46.1h0.55v0.55h-0.55zM115.0 44.7h0.55v0.55h-0.55zM58.8 63.7h0.55v0.55h-0.55zM51.3 65.5h0.55v0.55h-0.55zM67.3 60.7h0.55v0.55h-0.55zM96.6 49.7h0.55v0.55h-0.55zM77.4 60.4h0.55v0.55h-0.55zM50.5 76.3h0.55v0.55h-0.55zM74.6 65.3h0.55v0.55h-0.55zM85.2 54.2h0.55v0.55h-0.55zM61.5 67.9h0.55v0.55h-0.55zM48.7 66.8h0.55v0.55h-0.55zM68.8 62.3h0.55v0.55h-0.55zM57.1 61.5h0.55v0.55h-0.55zM77.5 74.6h0.55v0.55h-0.55zM57.5 72.8h0.55v0.55h-0.55zM59.3 66.7h0.55v0.55h-0.55zM50.7 81.0h0.55v0.55h-0.55zM64.1 70.1h0.55v0.55h-0.55zM75.0 57.1h0.55v0.55h-0.55zM88.2 56.3h0.55v0.55h-0.55zM101.4 56.0h0.55v0.55h-0.55zM109.0 39.5h0.55v0.55h-0.55zM64.8 70.4h0.55v0.55h-0.55zM55.4 64.9h0.55v0.55h-0.55zM75.7 59.7h0.55v0.55h-0.55zM78.9 58.1h0.55v0.55h-0.55zM65.7 64.3h0.55v0.55h-0.55zM89.8 58.8h0.55v0.55h-0.55zM70.5 69.1h0.55v0.55h-0.55zM58.4 68.1h0.55v0.55h-0.55zM97.2 52.9h0.55v0.55h-0.55zM56.8 63.4h0.55v0.55h-0.55zM102.2 50.1h0.55v0.55h-0.55zM50.7 87.3h0.55v0.55h-0.55zM60.2 75.1h0.55v0.55h-0.55zM55.5 74.7h0.55v0.55h-0.55zM92.0 56.0h0.55v0.55h-0.55zM49.2 77.8h0.55v0.55h-0.55zM88.3 56.6h0.55v0.55h-0.55zM102.4 39.6h0.55v0.55h-0.55zM78.5 65.7h0.55v0.55h-0.55zM74.1 61.0h0.55v0.55h-0.55zM65.2 65.3h0.55v0.55h-0.55zM54.9 67.1h0.55v0.55h-0.55zM83.2 59.7h0.55v0.55h-0.55zM84.3 56.8h0.55v0.55h-0.55zM78.4 59.5h0.55v0.55h-0.55zM61.9 70.5h0.55v0.55h-0.55zM60.7 65.9h0.55v0.55h-0.55zM74.3 63.7h0.55v0.55h-0.55zM99.6 53.6h0.55v0.55h-0.55zM59.9 60.7h0.55v0.55h-0.55zM73.5 61.0h0.55v0.55h-0.55zM53.8 62.1h0.55v0.55h-0.55zM74.8 64.8h0.55v0.55h-0.55zM76.0 68.4h0.55v0.55h-0.55zM78.1 58.2h0.55v0.55h-0.55zM108.8 41.4h0.55v0.55h-0.55zM50.4 71.3h0.55v0.55h-0.55zM99.7 47.1h0.55v0.55h-0.55zM65.0 61.9h0.55v0.55h-0.55zM79.3 60.2h0.55v0.55h-0.55zM69.6 72.5h0.55v0.55h-0.55zM61.8 69.2h0.55v0.55h-0.55zM61.8 66.9h0.55v0.55h-0.55zM86.5 61.6h0.55v0.55h-0.55zM76.9 64.1h0.55v0.55h-0.55zM84.0 64.3h0.55v0.55h-0.55zM90.5 52.3h0.55v0.55h-0.55zM110.7 55.1h0.55v0.55h-0.55zM75.5 60.4h0.55v0.55h-0.55zM72.1 62.1h0.55v0.55h-0.55zM49.7 66.1h0.55v0.55h-0.55zM64.9 62.1h0.55v0.55h-0.55zM105.4 49.9h0.55v0.55h-0.55zM60.4 87.4h0.55v0.55h-0.55zM83.3 60.0h0.55v0.55h-0.55zM53.4 70.6h0.55v0.55h-0.55zM56.7 85.4h0.55v0.55h-0.55zM71.4 72.3h0.55v0.55h-0.55zM78.6 64.4h0.55v0.55h-0.55zM58.9 81.7h0.55v0.55h-0.55zM77.7 61.2h0.55v0.55h-0.55zM49.8 68.7h0.55v0.55h-0.55zM78.7 65.1h0.55v0.55h-0.55zM73.4 62.1h0.55v0.55h-0.55zM60.7 73.7h0.55v0.55h-0.55zM56.1 61.6h0.55v0.55h-0.55zM51.1 96.1h0.55v0.55h-0.55zM49.0 70.8h0.55v0.55h-0.55zM65.8 60.4h0.55v0.55h-0.55zM51.9 74.0h0.55v0.55h-0.55zM53.6 78.3h0.55v0.55h-0.55zM99.2 47.4h0.55v0.55h-0.55zM61.0 65.6h0.55v0.55h-0.55zM55.8 71.5h0.55v0.55h-0.55zM52.0 70.7h0.55v0.55h-0.55zM70.7 60.6h0.55v0.55h-0.55zM55.8 64.3h0.55v0.55h-0.55zM65.8 70.3h0.55v0.55h-0.55zM82.6 64.4h0.55v0.55h-0.55zM72.0 63.2h0.55v0.55h-0.55zM80.4 59.1h0.55v0.55h-0.55zM80.3 58.0h0.55v0.55h-0.55zM52.9 65.0h0.55v0.55h-0.55zM67.7 64.0h0.55v0.55h-0.55zM60.6 62.4h0.55v0.55h-0.55zM53.0 65.8h0.55v0.55h-0.55zM77.2 70.7h0.55v0.55h-0.55zM72.1 69.0h0.55v0.55h-0.55zM50.3 70.7h0.55v0.55h-0.55zM73.5 63.8h0.55v0.55h-0.55zM107.7 43.1h0.55v0.55h-0.55zM89.4 60.7h0.55v0.55h-0.55zM53.6 68.3h0.55v0.55h-0.55zM66.2 65.7h0.55v0.55h-0.55zM51.7 66.4h0.55v0.55h-0.55zM71.5 61.3h0.55v0.55h-0.55zM107.1 49.9h0.55v0.55h-0.55zM61.4 67.7h0.55v0.55h-0.55zM82.4 54.0h0.55v0.55h-0.55zM77.8 63.2h0.55v0.55h-0.55zM94.2 54.7h0.55v0.55h-0.55zM63.3 74.1h0.55v0.55h-0.55zM102.1 51.8h0.55v0.55h-0.55zM66.6 65.6h0.55v0.55h-0.55zM64.6 59.9h0.55v0.55h-0.55zM61.3 76.5h0.55v0.55h-0.55zM73.5 68.0h0.55v0.55h-0.55zM72.3 61.8h0.55v0.55h-0.55zM56.1 71.1h0.55v0.55h-0.55zM100.6 36.7h0.55v0.55h-0.55zM74.1 68.6h0.55v0.55h-0.55zM68.8 64.1h0.55v0.55h-0.55zM82.6 55.5h0.55v0.55h-0.55zM60.7 75.3h0.55v0.55h-0.55zM82.5 63.2h0.55v0.55h-0.55zM54.0 78.4h0.55v0.55h-0.55zM55.1 65.6h0.55v0.55h-0.55zM56.6 62.8h0.55v0.55h-0.55zM73.8 65.7h0.55v0.55h-0.55zM50.9 66.5h0.55v0.55h-0.55zM53.8 84.8h0.55v0.55h-0.55zM100.8 53.4h0.55v0.55h-0.55zM66.3 73.2h0.55v0.55h-0.55zM54.4 64.3h0.55v0.55h-0.55zM62.0 65.6h0.55v0.55h-0.55zM67.7 60.9h0.55v0.55h-0.55zM104.3 58.5h0.55v0.55h-0.55zM52.5 69.6h0.55v0.55h-0.55zM56.2 68.0h0.55v0.55h-0.55zM76.9 68.1h0.55v0.55h-0.55zM57.7 68.3h0.55v0.55h-0.55zM111.6 34.4h0.55v0.55h-0.55zM56.4 64.3h0.55v0.55h-0.55zM53.8 72.7h0.55v0.55h-0.55zM59.8 62.8h0.55v0.55h-0.55zM88.4 60.5h0.55v0.55h-0.55zM51.1 62.4h0.55v0.55h-0.55zM69.5 62.3h0.55v0.55h-0.55zM55.9 81.9h0.55v0.55h-0.55zM80.8 57.9h0.55v0.55h-0.55zM58.2 68.6h0.55v0.55h-0.55zM62.0 65.6h0.55v0.55h-0.55zM59.1 62.9h0.55v0.55h-0.55zM50.9 66.6h0.55v0.55h-0.55zM80.1 64.0h0.55v0.55h-0.55zM62.1 62.4h0.55v0.55h-0.55zM53.8 65.1h0.55v0.55h-0.55zM82.9 56.6h0.55v0.55h-0.55zM72.4 60.5h0.55v0.55h-0.55zM65.6 65.3h0.55v0.55h-0.55zM58.9 67.8h0.55v0.55h-0.55zM93.1 48.8h0.55v0.55h-0.55zM63.8 64.5h0.55v0.55h-0.55zM81.3 59.3h0.55v0.55h-0.55zM88.1 51.9h0.55v0.55h-0.55zM87.1 58.2h0.55v0.55h-0.55zM67.9 65.9h0.55v0.55h-0.55zM55.4 62.5h0.55v0.55h-0.55zM68.6 64.3h0.55v0.55h-0.55zM62.0 73.5h0.55v0.55h-0.55zM107.7 43.9h0.55v0.55h-0.55zM66.9 62.4h0.55v0.55h-0.55zM63.6 67.8h0.55v0.55h-0.55zM96.9 46.6h0.55v0.55h-0.55zM66.4 63.0h0.55v0.55h-0.55zM72.8 60.7h0.55v0.55h-0.55zM63.0 67.7h0.55v0.55h-0.55zM70.7 61.8h0.55v0.55h-0.55zM73.7 59.5h0.55v0.55h-0.55zM76.5 66.5h0.55v0.55h-0.55zM108.1 52.0h0.55v0.55h-0.55zM75.1 57.5h0.55v0.55h-0.55zM59.1 62.5h0.55v0.55h-0.55zM79.2 59.7h0.55v0.55h-0.55zM103.0 37.0h0.55v0.55h-0.55zM59.9 64.2h0.55v0.55h-0.55zM50.1 79.0h0.55v0.55h-0.55zM70.5 71.2h0.55v0.55h-0.55zM99.4 48.2h0.55v0.55h-0.55zM114.4 38.0h0.55v0.55h-0.55zM92.7 57.1h0.55v0.55h-0.55zM88.1 53.5h0.55v0.55h-0.55zM84.5 54.1h0.55v0.55h-0.55zM55.3 72.3h0.55v0.55h-0.55zM106.9 50.7h0.55v0.55h-0.55zM62.4 69.0h0.55v0.55h-0.55zM78.5 65.7h0.55v0.55h-0.55zM103.0 35.7h0.55v0.55h-0.55zM58.5 71.3h0.55v0.55h-0.55zM62.8 61.2h0.55v0.55h-0.55zM56.7 66.0h0.55v0.55h-0.55zM89.8 56.6h0.55v0.55h-0.55zM76.9 62.0h0.55v0.55h-0.55zM49.7 67.0h0.55v0.55h-0.55zM80.0 66.1h0.55v0.55h-0.55zM53.2 69.8h0.55v0.55h-0.55zM55.7 63.5h0.55v0.55h-0.55zM73.7 67.6h0.55v0.55h-0.55zM76.7 57.9h0.55v0.55h-0.55zM74.8 63.1h0.55v0.55h-0.55zM77.9 69.7h0.55v0.55h-0.55zM90.6 61.5h0.55v0.55h-0.55zM57.0 82.9h0.55v0.55h-0.55zM99.3 52.1h0.55v0.55h-0.55zM57.8 63.3h0.55v0.55h-0.55zM77.1 67.7h0.55v0.55h-0.55zM57.3 72.4h0.55v0.55h-0.55zM63.0 66.4h0.55v0.55h-0.55zM55.3 79.0h0.55v0.55h-0.55zM59.9 62.2h0.55v0.55h-0.55zM66.5 62.3h0.55v0.55h-0.55zM69.0 58.6h0.55v0.55h-0.55zM71.6 70.0h0.55v0.55h-0.55zM51.3 68.6h0.55v0.55h-0.55zM49.6 73.9h0.55v0.55h-0.55zM73.1 63.8h0.55v0.55h-0.55zM69.1 68.8h0.55v0.55h-0.55zM83.1 63.0h0.55v0.55h-0.55zM58.7 63.4h0.55v0.55h-0.55zM95.0 48.6h0.55v0.55h-0.55zM56.4 63.7h0.55v0.55h-0.55zM52.9 87.1h0.55v0.55h-0.55zM66.8 70.3h0.55v0.55h-0.55zM83.1 59.1h0.55v0.55h-0.55zM78.6 59.1h0.55v0.55h-0.55zM102.1 49.8h0.55v0.55h-0.55zM80.0 61.2h0.55v0.55h-0.55zM73.8 65.7h0.55v0.55h-0.55zM74.7 61.3h0.55v0.55h-0.55zM52.8 69.5h0.55v0.55h-0.55zM67.7 65.6h0.55v0.55h-0.55zM79.4 57.0h0.55v0.55h-0.55zM98.5 40.8h0.55v0.55h-0.55zM97.2 49.6h0.55v0.55h-0.55zM73.9 68.8h0.55v0.55h-0.55zM55.3 63.6h0.55v0.55h-0.55zM65.6 70.3h0.55v0.55h-0.55zM64.9 71.8h0.55v0.55h-0.55zM66.8 61.9h0.55v0.55h-0.55zM55.7 71.1h0.55v0.55h-0.55zM55.1 80.7h0.55v0.55h-0.55zM62.9 90.7h0.55v0.55h-0.55zM53.4 77.2h0.55v0.55h-0.55zM102.2 44.5h0.55v0.55h-0.55zM99.2 48.6h0.55v0.55h-0.55zM60.2 72.2h0.55v0.55h-0.55zM63.0 66.5h0.55v0.55h-0.55zM79.1 55.1h0.55v0.55h-0.55zM86.6 54.2h0.55v0.55h-0.55zM78.4 56.8h0.55v0.55h-0.55zM53.2 63.5h0.55v0.55h-0.55zM74.1 66.9h0.55v0.55h-0.55zM53.9 82.7h0.55v0.55h-0.55zM84.3 56.8h0.55v0.55h-0.55zM76.6 56.2h0.55v0.55h-0.55zM56.3 70.8h0.55v0.55h-0.55zM62.3 66.6h0.55v0.55h-0.55zM90.1 51.4h0.55v0.55h-0.55zM56.8 86.9h0.55v0.55h-0.55zM55.9 66.5h0.55v0.55h-0.55zM83.0 64.3h0.55v0.55h-0.55zM82.9 62.4h0.55v0.55h-0.55zM59.4 71.8h0.55v0.55h-0.55zM55.6 63.6h0.55v0.55h-0.55zM85.1 57.8h0.55v0.55h-0.55zM49.6 85.2h0.55v0.55h-0.55zM64.8 69.8h0.55v0.55h-0.55zM87.6 54.2h0.55v0.55h-0.55zM52.4 64.0h0.55v0.55h-0.55zM59.0 62.8h0.55v0.55h-0.55zM60.5 69.5h0.55v0.55h-0.55zM65.5 71.1h0.55v0.55h-0.55zM61.2 69.2h0.55v0.55h-0.55zM54.2 82.3h0.55v0.55h-0.55zM99.6 44.9h0.55v0.55h-0.55zM54.7 70.8h0.55v0.55h-0.55zM57.0 67.8h0.55v0.55h-0.55zM53.1 85.6h0.55v0.55h-0.55zM62.8 62.4h0.55v0.55h-0.55zM62.1 68.8h0.55v0.55h-0.55zM50.2 63.7h0.55v0.55h-0.55zM87.7 59.1h0.55v0.55h-0.55zM79.0 59.3h0.55v0.55h-0.55zM59.6 65.6h0.55v0.55h-0.55zM53.5 71.9h0.55v0.55h-0.55zM50.9 76.4h0.55v0.55h-0.55zM78.4 59.9h0.55v0.55h-0.55zM97.8 45.4h0.55v0.55h-0.55zM49.5 92.8h0.55v0.55h-0.55zM66.7 62.6h0.55v0.55h-0.55zM54.6 70.2h0.55v0.55h-0.55zM103.7 49.1h0.55v0.55h-0.55zM70.8 65.1h0.55v0.55h-0.55zM79.4 60.3h0.55v0.55h-0.55zM85.3 56.9h0.55v0.55h-0.55zM98.9 48.5h0.55v0.55h-0.55zM54.8 64.4h0.55v0.55h-0.55zM68.3 63.6h0.55v0.55h-0.55zM115.7 46.1h0.55v0.55h-0.55zM59.1 91.6h0.55v0.55h-0.55zM57.9 82.9h0.55v0.55h-0.55zM99.7 46.9h0.55v0.55h-0.55zM53.5 64.0h0.55v0.55h-0.55zM74.4 60.7h0.55v0.55h-0.55zM53.8 86.7h0.55v0.55h-0.55zM60.3 68.6h0.55v0.55h-0.55zM51.2 63.4h0.55v0.55h-0.55zM49.9 69.9h0.55v0.55h-0.55zM68.1 60.7h0.55v0.55h-0.55zM72.2 66.7h0.55v0.55h-0.55zM74.3 60.5h0.55v0.55h-0.55zM62.1 66.2h0.55v0.55h-0.55zM62.7 69.7h0.55v0.55h-0.55zM63.6 74.3h0.55v0.55h-0.55zM55.0 70.8h0.55v0.55h-0.55zM59.9 62.5h0.55v0.55h-0.55zM94.6 54.0h0.55v0.55h-0.55zM55.1 72.2h0.55v0.55h-0.55zM75.6 59.2h0.55v0.55h-0.55zM53.9 63.1h0.55v0.55h-0.55zM74.1 66.5h0.55v0.55h-0.55zM52.9 66.1h0.55v0.55h-0.55zM54.3 72.2h0.55v0.55h-0.55zM85.4 59.3h0.55v0.55h-0.55zM56.7 69.0h0.55v0.55h-0.55zM55.4 78.0h0.55v0.55h-0.55zM61.6 61.4h0.55v0.55h-0.55zM62.1 60.3h0.55v0.55h-0.55zM55.4 86.6h0.55v0.55h-0.55zM73.1 62.5h0.55v0.55h-0.55zM63.5 73.0h0.55v0.55h-0.55zM70.2 68.0h0.55v0.55h-0.55zM53.5 64.9h0.55v0.55h-0.55zM103.6 51.1h0.55v0.55h-0.55zM57.2 65.2h0.55v0.55h-0.55zM67.8 67.4h0.55v0.55h-0.55zM79.4 59.6h0.55v0.55h-0.55zM89.3 55.9h0.55v0.55h-0.55zM54.2 82.6h0.55v0.55h-0.55zM54.8 78.5h0.55v0.55h-0.55zM98.0 48.0h0.55v0.55h-0.55zM96.7 55.5h0.55v0.55h-0.55zM62.7 63.9h0.55v0.55h-0.55zM98.8 37.2h0.55v0.55h-0.55zM88.4 55.1h0.55v0.55h-0.55zM50.5 68.0h0.55v0.55h-0.55zM52.1 71.6h0.55v0.55h-0.55zM78.6 57.3h0.55v0.55h-0.55zM56.6 69.7h0.55v0.55h-0.55zM81.4 55.3h0.55v0.55h-0.55zM114.0 39.9h0.55v0.55h-0.55zM100.4 46.7h0.55v0.55h-0.55zM99.8 42.2h0.55v0.55h-0.55zM98.1 42.8h0.55v0.55h-0.55zM66.1 62.0h0.55v0.55h-0.55zM102.3 43.8h0.55v0.55h-0.55zM57.0 62.0h0.55v0.55h-0.55zM53.5 68.0h0.55v0.55h-0.55zM95.7 58.9h0.55v0.55h-0.55zM61.5 64.1h0.55v0.55h-0.55zM104.8 42.3h0.55v0.55h-0.55zM75.4 60.0h0.55v0.55h-0.55zM64.6 67.8h0.55v0.55h-0.55zM100.6 45.6h0.55v0.55h-0.55zM102.9 54.2h0.55v0.55h-0.55zM48.9 67.7h0.55v0.55h-0.55zM80.7 59.7h0.55v0.55h-0.55zM70.0 61.9h0.55v0.55h-0.55zM59.6 74.9h0.55v0.55h-0.55zM73.2 57.3h0.55v0.55h-0.55zM66.4 65.7h0.55v0.55h-0.55zM102.7 50.1h0.55v0.55h-0.55zM72.1 61.8h0.55v0.55h-0.55zM78.3 60.3h0.55v0.55h-0.55zM95.1 47.4h0.55v0.55h-0.55zM69.9 66.4h0.55v0.55h-0.55zM81.9 59.5h0.55v0.55h-0.55zM68.2 61.0h0.55v0.55h-0.55zM67.5 66.1h0.55v0.55h-0.55zM89.1 55.8h0.55v0.55h-0.55zM49.0 63.5h0.55v0.55h-0.55zM110.4 39.7h0.55v0.55h-0.55zM73.4 59.6h0.55v0.55h-0.55zM103.1 49.9h0.55v0.55h-0.55zM79.7 68.0h0.55v0.55h-0.55zM79.9 57.1h0.55v0.55h-0.55zM54.6 72.3h0.55v0.55h-0.55zM79.3 69.4h0.55v0.55h-0.55zM72.5 66.4h0.55v0.55h-0.55zM57.6 64.9h0.55v0.55h-0.55zM70.1 60.6h0.55v0.55h-0.55zM94.4 50.9h0.55v0.55h-0.55zM53.6 73.1h0.55v0.55h-0.55zM49.9 70.4h0.55v0.55h-0.55zM90.2 53.5h0.55v0.55h-0.55zM77.9 65.6h0.55v0.55h-0.55zM58.1 69.3h0.55v0.55h-0.55zM62.2 86.0h0.55v0.55h-0.55zM71.1 69.1h0.55v0.55h-0.55zM67.4 70.8h0.55v0.55h-0.55zM66.6 60.7h0.55v0.55h-0.55zM101.1 39.4h0.55v0.55h-0.55zM81.4 58.2h0.55v0.55h-0.55zM56.1 61.9h0.55v0.55h-0.55zM50.6 88.1h0.55v0.55h-0.55zM66.1 63.6h0.55v0.55h-0.55zM52.6 62.1h0.55v0.55h-0.55zM77.7 71.6h0.55v0.55h-0.55zM52.5 64.1h0.55v0.55h-0.55zM58.1 86.6h0.55v0.55h-0.55zM50.4 65.4h0.55v0.55h-0.55zM65.1 80.5h0.55v0.55h-0.55zM68.3 64.9h0.55v0.55h-0.55zM49.3 65.6h0.55v0.55h-0.55zM65.0 63.3h0.55v0.55h-0.55zM50.7 69.2h0.55v0.55h-0.55zM65.4 60.6h0.55v0.55h-0.55zM73.6 57.8h0.55v0.55h-0.55zM69.9 68.8h0.55v0.55h-0.55zM106.3 32.3h0.55v0.55h-0.55zM71.6 61.1h0.55v0.55h-0.55zM56.5 81.7h0.55v0.55h-0.55zM97.5 40.5h0.55v0.55h-0.55zM95.2 47.1h0.55v0.55h-0.55zM57.9 62.2h0.55v0.55h-0.55zM60.3 63.4h0.55v0.55h-0.55zM76.3 64.6h0.55v0.55h-0.55zM48.7 64.8h0.55v0.55h-0.55zM61.4 69.7h0.55v0.55h-0.55zM51.7 85.5h0.55v0.55h-0.55zM91.4 53.4h0.55v0.55h-0.55zM69.4 63.4h0.55v0.55h-0.55zM66.7 66.6h0.55v0.55h-0.55zM53.9 83.5h0.55v0.55h-0.55zM61.1 62.2h0.55v0.55h-0.55zM71.9 58.8h0.55v0.55h-0.55zM71.7 58.6h0.55v0.55h-0.55zM79.4 57.2h0.55v0.55h-0.55zM57.6 69.3h0.55v0.55h-0.55zM80.1 55.9h0.55v0.55h-0.55zM68.3 61.3h0.55v0.55h-0.55zM84.6 53.8h0.55v0.55h-0.55zM75.3 61.8h0.55v0.55h-0.55zM77.4 69.5h0.55v0.55h-0.55zM72.7 60.7h0.55v0.55h-0.55zM72.6 64.4h0.55v0.55h-0.55zM52.2 67.6h0.55v0.55h-0.55zM58.4 66.2h0.55v0.55h-0.55zM97.0 57.6h0.55v0.55h-0.55zM59.1 72.1h0.55v0.55h-0.55zM53.6 78.8h0.55v0.55h-0.55zM50.5 71.5h0.55v0.55h-0.55zM72.4 64.9h0.55v0.55h-0.55zM101.1 52.8h0.55v0.55h-0.55zM56.6 73.8h0.55v0.55h-0.55zM73.9 61.6h0.55v0.55h-0.55zM77.4 63.0h0.55v0.55h-0.55zM92.2 32.9h0.55v0.55h-0.55zM105.2 47.0h0.55v0.55h-0.55zM60.0 89.5h0.55v0.55h-0.55zM103.1 47.7h0.55v0.55h-0.55zM97.6 45.3h0.55v0.55h-0.55zM87.5 55.0h0.55v0.55h-0.55zM78.0 56.0h0.55v0.55h-0.55zM116.8 39.7h0.55v0.55h-0.55zM84.1 58.4h0.55v0.55h-0.55zM105.5 47.6h0.55v0.55h-0.55zM49.6 80.8h0.55v0.55h-0.55zM70.7 68.3h0.55v0.55h-0.55zM68.1 61.2h0.55v0.55h-0.55zM101.0 54.5h0.55v0.55h-0.55zM50.9 73.6h0.55v0.55h-0.55zM67.9 62.8h0.55v0.55h-0.55zM73.4 71.9h0.55v0.55h-0.55zM51.0 64.8h0.55v0.55h-0.55zM64.3 66.9h0.55v0.55h-0.55zM56.9 67.0h0.55v0.55h-0.55zM60.6 65.9h0.55v0.55h-0.55zM64.8 64.1h0.55v0.55h-0.55zM96.6 50.3h0.55v0.55h-0.55zM77.2 59.0h0.55v0.55h-0.55zM51.8 93.4h0.55v0.55h-0.55zM51.2 65.8h0.55v0.55h-0.55zM66.8 61.9h0.55v0.55h-0.55zM69.6 60.3h0.55v0.55h-0.55zM60.2 87.5h0.55v0.55h-0.55zM110.5 44.2h0.55v0.55h-0.55zM61.9 63.8h0.55v0.55h-0.55zM87.7 58.9h0.55v0.55h-0.55zM105.1 49.4h0.55v0.55h-0.55zM114.3 41.4h0.55v0.55h-0.55zM49.9 72.9h0.55v0.55h-0.55zM77.7 61.1h0.55v0.55h-0.55zM53.5 82.3h0.55v0.55h-0.55zM108.4 43.5h0.55v0.55h-0.55zM72.8 59.4h0.55v0.55h-0.55zM71.7 65.8h0.55v0.55h-0.55zM66.3 63.7h0.55v0.55h-0.55zM63.0 67.8h0.55v0.55h-0.55zM55.5 71.3h0.55v0.55h-0.55zM61.4 72.8h0.55v0.55h-0.55zM97.4 59.5h0.55v0.55h-0.55zM54.9 62.1h0.55v0.55h-0.55zM55.1 90.1h0.55v0.55h-0.55zM68.7 65.1h0.55v0.55h-0.55zM53.7 83.4h0.55v0.55h-0.55zM57.3 68.8h0.55v0.55h-0.55zM108.4 42.8h0.55v0.55h-0.55zM57.1 69.7h0.55v0.55h-0.55zM76.0 59.4h0.55v0.55h-0.55zM68.3 63.6h0.55v0.55h-0.55zM76.6 59.8h0.55v0.55h-0.55zM71.0 61.6h0.55v0.55h-0.55zM49.5 87.9h0.55v0.55h-0.55zM59.8 61.5h0.55v0.55h-0.55zM106.6 51.6h0.55v0.55h-0.55zM74.6 60.7h0.55v0.55h-0.55zM60.0 77.0h0.55v0.55h-0.55zM85.9 57.4h0.55v0.55h-0.55zM69.4 66.5h0.55v0.55h-0.55zM56.6 66.6h0.55v0.55h-0.55zM72.9 61.1h0.55v0.55h-0.55zM50.4 68.0h0.55v0.55h-0.55zM76.0 60.3h0.55v0.55h-0.55zM61.3 63.3h0.55v0.55h-0.55zM82.8 60.3h0.55v0.55h-0.55zM50.2 77.9h0.55v0.55h-0.55zM65.1 65.8h0.55v0.55h-0.55zM58.6 68.2h0.55v0.55h-0.55zM95.2 52.5h0.55v0.55h-0.55zM104.8 50.2h0.55v0.55h-0.55zM76.0 65.9h0.55v0.55h-0.55zM64.7 63.0h0.55v0.55h-0.55zM54.8 65.3h0.55v0.55h-0.55zM101.9 48.6h0.55v0.55h-0.55zM97.7 46.9h0.55v0.55h-0.55zM104.1 47.6h0.55v0.55h-0.55zM55.5 93.7h0.55v0.55h-0.55zM56.5 62.6h0.55v0.55h-0.55zM60.7 61.8h0.55v0.55h-0.55zM71.5 68.2h0.55v0.55h-0.55zM57.2 65.4h0.55v0.55h-0.55zM72.6 68.0h0.55v0.55h-0.55zM63.1 67.3h0.55v0.55h-0.55zM58.7 72.1h0.55v0.55h-0.55zM82.4 58.7h0.55v0.55h-0.55zM77.9 65.8h0.55v0.55h-0.55zM63.6 65.7h0.55v0.55h-0.55zM97.5 46.3h0.55v0.55h-0.55zM54.4 62.9h0.55v0.55h-0.55zM108.3 42.9h0.55v0.55h-0.55zM90.8 59.9h0.55v0.55h-0.55zM81.5 57.0h0.55v0.55h-0.55zM101.2 41.4h0.55v0.55h-0.55zM52.9 74.1h0.55v0.55h-0.55zM56.4 78.7h0.55v0.55h-0.55zM64.0 70.8h0.55v0.55h-0.55zM67.2 63.2h0.55v0.55h-0.55zM68.5 71.0h0.55v0.55h-0.55zM62.2 64.0h0.55v0.55h-0.55zM72.8 60.9h0.55v0.55h-0.55zM51.1 72.3h0.55v0.55h-0.55zM93.2 59.9h0.55v0.55h-0.55zM102.7 39.7h0.55v0.55h-0.55zM66.3 70.3h0.55v0.55h-0.55zM54.5 67.4h0.55v0.55h-0.55zM66.4 69.7h0.55v0.55h-0.55zM86.4 61.9h0.55v0.55h-0.55zM99.7 47.1h0.55v0.55h-0.55zM88.8 57.5h0.55v0.55h-0.55zM59.5 67.2h0.55v0.55h-0.55zM73.8 62.7h0.55v0.55h-0.55zM82.7 69.0h0.55v0.55h-0.55zM95.3 47.2h0.55v0.55h-0.55zM67.5 64.5h0.55v0.55h-0.55zM103.7 46.8h0.55v0.55h-0.55zM66.3 63.4h0.55v0.55h-0.55zM56.7 65.1h0.55v0.55h-0.55zM86.1 57.0h0.55v0.55h-0.55zM71.7 63.2h0.55v0.55h-0.55zM56.2 69.7h0.55v0.55h-0.55zM54.3 73.6h0.55v0.55h-0.55z" fill="#3a3a3a" opacity="0.85"/>
<path d="M70.9 76.9h0.5v0.5h-0.5zM64.1 89.0h0.5v0.5h-0.5zM91.8 33.6h0.5v0.5h-0.5zM68.7 65.2h0.5v0.5h-0.5zM78.2 106.1h0.5v0.5h-0.5zM63.9 63.9h0.5v0.5h-0.5zM48.7 41.0h0.5v0.5h-0.5zM88.9 35.1h0.5v0.5h-0.5zM53.9 75.8h0.5v0.5h-0.5zM82.5 90.1h0.5v0.5h-0.5zM84.3 93.9h0.5v0.5h-0.5zM52.6 110.1h0.5v0.5h-0.5zM81.3 75.9h0.5v0.5h-0.5zM72.5 78.6h0.5v0.5h-0.5zM71.7 62.1h0.5v0.5h-0.5zM66.6 60.2h0.5v0.5h-0.5zM83.5 58.7h0.5v0.5h-0.5zM90.3 57.7h0.5v0.5h-0.5zM91.5 33.9h0.5v0.5h-0.5zM51.1 85.5h0.5v0.5h-0.5zM101.6 35.8h0.5v0.5h-0.5zM84.0 80.0h0.5v0.5h-0.5zM55.9 72.7h0.5v0.5h-0.5zM77.9 88.7h0.5v0.5h-0.5zM69.0 89.8h0.5v0.5h-0.5zM57.4 73.9h0.5v0.5h-0.5zM63.1 98.0h0.5v0.5h-0.5zM60.8 38.8h0.5v0.5h-0.5zM76.1 76.4h0.5v0.5h-0.5zM81.1 102.5h0.5v0.5h-0.5zM67.4 77.2h0.5v0.5h-0.5zM95.2 56.7h0.5v0.5h-0.5zM50.4 71.2h0.5v0.5h-0.5zM106.8 32.0h0.5v0.5h-0.5zM63.5 76.1h0.5v0.5h-0.5zM123.7 51.1h0.5v0.5h-0.5zM54.9 103.7h0.5v0.5h-0.5zM76.3 100.2h0.5v0.5h-0.5zM75.9 71.7h0.5v0.5h-0.5zM68.5 74.1h0.5v0.5h-0.5zM92.9 59.5h0.5v0.5h-0.5zM82.9 97.1h0.5v0.5h-0.5zM81.1 84.7h0.5v0.5h-0.5zM75.6 110.7h0.5v0.5h-0.5zM71.9 91.0h0.5v0.5h-0.5zM80.2 74.1h0.5v0.5h-0.5zM70.5 88.2h0.5v0.5h-0.5zM84.1 83.1h0.5v0.5h-0.5zM80.5 84.9h0.5v0.5h-0.5zM69.5 36.6h0.5v0.5h-0.5zM53.7 74.2h0.5v0.5h-0.5zM91.5 57.5h0.5v0.5h-0.5zM55.5 96.5h0.5v0.5h-0.5zM77.2 95.4h0.5v0.5h-0.5zM98.3 59.0h0.5v0.5h-0.5zM73.9 31.8h0.5v0.5h-0.5zM70.0 70.6h0.5v0.5h-0.5zM86.5 53.1h0.5v0.5h-0.5zM68.8 83.2h0.5v0.5h-0.5zM80.1 79.9h0.5v0.5h-0.5zM73.2 98.2h0.5v0.5h-0.5zM87.2 55.6h0.5v0.5h-0.5zM58.0 74.3h0.5v0.5h-0.5zM67.0 62.1h0.5v0.5h-0.5zM80.4 89.0h0.5v0.5h-0.5zM51.1 77.4h0.5v0.5h-0.5zM81.7 81.3h0.5v0.5h-0.5zM72.1 94.5h0.5v0.5h-0.5zM65.2 61.4h0.5v0.5h-0.5zM63.9 67.8h0.5v0.5h-0.5zM84.5 95.6h0.5v0.5h-0.5zM68.0 109.3h0.5v0.5h-0.5zM99.2 56.7h0.5v0.5h-0.5zM60.7 66.5h0.5v0.5h-0.5zM63.0 68.7h0.5v0.5h-0.5zM60.5 39.3h0.5v0.5h-0.5zM74.6 89.8h0.5v0.5h-0.5zM75.7 69.4h0.5v0.5h-0.5zM65.7 81.1h0.5v0.5h-0.5zM69.2 34.2h0.5v0.5h-0.5zM65.0 66.4h0.5v0.5h-0.5zM80.4 59.0h0.5v0.5h-0.5zM78.1 57.8h0.5v0.5h-0.5zM82.7 78.4h0.5v0.5h-0.5zM80.7 90.5h0.5v0.5h-0.5zM59.4 85.2h0.5v0.5h-0.5zM68.7 36.0h0.5v0.5h-0.5zM80.2 66.3h0.5v0.5h-0.5zM84.1 79.6h0.5v0.5h-0.5zM71.6 82.2h0.5v0.5h-0.5zM69.3 66.9h0.5v0.5h-0.5zM70.3 59.2h0.5v0.5h-0.5zM73.8 58.5h0.5v0.5h-0.5zM71.2 73.4h0.5v0.5h-0.5zM51.5 86.2h0.5v0.5h-0.5zM66.0 78.2h0.5v0.5h-0.5zM63.0 109.1h0.5v0.5h-0.5zM68.4 72.2h0.5v0.5h-0.5zM65.9 81.6h0.5v0.5h-0.5zM61.4 75.7h0.5v0.5h-0.5zM68.8 93.9h0.5v0.5h-0.5zM104.3 46.0h0.5v0.5h-0.5zM77.9 57.5h0.5v0.5h-0.5zM62.7 101.5h0.5v0.5h-0.5zM51.5 64.8h0.5v0.5h-0.5zM79.7 93.7h0.5v0.5h-0.5zM62.4 40.1h0.5v0.5h-0.5zM56.2 68.7h0.5v0.5h-0.5zM74.7 65.9h0.5v0.5h-0.5zM54.5 33.2h0.5v0.5h-0.5zM104.6 34.7h0.5v0.5h-0.5zM76.6 96.2h0.5v0.5h-0.5zM50.8 36.4h0.5v0.5h-0.5zM86.7 59.1h0.5v0.5h-0.5zM74.1 105.2h0.5v0.5h-0.5zM57.1 85.7h0.5v0.5h-0.5zM49.2 88.6h0.5v0.5h-0.5zM76.1 61.4h0.5v0.5h-0.5zM71.2 88.3h0.5v0.5h-0.5zM49.7 105.9h0.5v0.5h-0.5zM55.4 40.5h0.5v0.5h-0.5zM84.8 57.2h0.5v0.5h-0.5zM108.2 33.8h0.5v0.5h-0.5zM60.7 80.9h0.5v0.5h-0.5zM94.1 51.9h0.5v0.5h-0.5zM48.6 77.4h0.5v0.5h-0.5zM65.2 64.2h0.5v0.5h-0.5zM76.0 94.2h0.5v0.5h-0.5zM74.3 96.5h0.5v0.5h-0.5zM69.6 109.9h0.5v0.5h-0.5zM85.7 70.1h0.5v0.5h-0.5zM82.1 77.6h0.5v0.5h-0.5zM63.0 96.3h0.5v0.5h-0.5zM82.1 53.7h0.5v0.5h-0.5zM74.9 89.0h0.5v0.5h-0.5zM52.7 92.3h0.5v0.5h-0.5zM62.6 80.1h0.5v0.5h-0.5zM76.9 57.1h0.5v0.5h-0.5zM84.1 83.9h0.5v0.5h-0.5zM79.1 73.6h0.5v0.5h-0.5zM77.7 65.0h0.5v0.5h-0.5zM75.9 32.5h0.5v0.5h-0.5zM80.4 105.7h0.5v0.5h-0.5zM88.7 57.9h0.5v0.5h-0.5zM78.3 92.6h0.5v0.5h-0.5zM53.2 80.5h0.5v0.5h-0.5zM60.1 62.1h0.5v0.5h-0.5zM57.9 106.2h0.5v0.5h-0.5zM56.4 66.2h0.5v0.5h-0.5zM85.4 89.4h0.5v0.5h-0.5zM49.1 63.0h0.5v0.5h-0.5zM65.9 67.7h0.5v0.5h-0.5zM73.7 64.2h0.5v0.5h-0.5zM78.8 56.0h0.5v0.5h-0.5zM74.6 82.5h0.5v0.5h-0.5zM56.0 65.6h0.5v0.5h-0.5zM77.6 89.7h0.5v0.5h-0.5zM64.4 102.4h0.5v0.5h-0.5zM64.7 60.1h0.5v0.5h-0.5zM55.1 105.9h0.5v0.5h-0.5zM73.0 82.6h0.5v0.5h-0.5zM85.9 78.7h0.5v0.5h-0.5zM60.4 97.6h0.5v0.5h-0.5zM66.7 81.2h0.5v0.5h-0.5zM68.0 81.0h0.5v0.5h-0.5zM68.9 70.0h0.5v0.5h-0.5zM54.0 76.2h0.5v0.5h-0.5zM118.0 46.2h0.5v0.5h-0.5zM60.6 90.7h0.5v0.5h-0.5zM49.4 93.9h0.5v0.5h-0.5zM50.0 104.6h0.5v0.5h-0.5zM81.8 63.2h0.5v0.5h-0.5zM65.9 68.7h0.5v0.5h-0.5zM57.7 99.5h0.5v0.5h-0.5zM77.7 55.8h0.5v0.5h-0.5zM77.4 90.8h0.5v0.5h-0.5zM73.6 68.4h0.5v0.5h-0.5zM60.5 32.5h0.5v0.5h-0.5zM83.7 95.0h0.5v0.5h-0.5zM68.8 84.5h0.5v0.5h-0.5z" fill="#666" opacity="0.8"/>
<clipPath id="cp1"><rect x="48" y="31" width="82" height="81.5"/></clipPath><g clip-path="url(#cp1)"><path d="M42.0 42.1 42.2 41.9 42.5 42.1 43.5 42.1 43.8 42.4 44.5 42.4 44.8 42.6 45.5 42.6 45.8 42.9 47.8 42.9 48.0 43.1 48.2 42.9 51.2 42.9 51.5 42.6 54.2 42.6 54.5 42.4 57.2 42.4 57.5 42.1 59.8 42.1 60.0 41.9 62.5 41.9 62.8 41.6 65.0 41.6 65.2 41.4 67.0 41.4 67.2 41.1 68.8 41.1 69.0 40.9 70.2 40.9 70.5 40.6 71.2 40.6 71.5 40.4 72.5 40.4 72.8 40.1 73.5 40.1 73.8 39.9 74.5 39.9 74.8 39.6 75.5 39.6 75.8 39.4 76.5 39.4 77.5 38.9 78.2 38.9 78.5 38.6 79.2 38.6 80.2 38.1 81.0 38.1 81.2 37.9 81.8 37.9 82.5 37.4 83.8 37.1 84.8 36.6 85.5 36.6 85.8 36.4 86.8 36.4 87.0 36.1 90.5 36.1 90.8 36.4 91.8 36.4 92.5 36.9 93.0 36.9 93.5 37.1 94.0 37.6 94.2 37.6 96.4 39.8 97.1 41.2 97.1 41.8 97.4 42.0 97.4 43.5 97.1 43.8 97.1 44.2 96.6 45.2 95.5 46.6 95.2 46.6 93.8 47.9 93.0 48.1 92.5 48.6 86.0 51.9 85.5 51.9 84.2 52.6 83.8 52.6 82.5 53.4 82.0 53.4 81.2 53.9 80.8 53.9 80.0 54.4 79.5 54.4 77.5 55.4 77.0 55.4 76.2 55.9 75.8 55.9 75.5 56.1 75.0 56.1 74.8 56.4 74.2 56.4 73.2 56.9 72.8 56.9 72.5 57.1 72.0 57.1 71.0 57.6 70.2 57.6 70.0 57.9 69.5 57.9 68.5 58.4 67.8 58.4 67.5 58.6 66.8 58.6 65.8 59.1 65.0 59.1 64.8 59.4 63.8 59.4 63.5 59.6 62.8 59.6 62.5 59.9 61.5 59.9 61.2 60.1 60.2 60.1 60.0 60.4 57.8 60.6 57.5 60.9 54.8 61.1 54.5 61.4 53.5 61.4 53.2 61.6 51.8 61.6 51.5 61.9 50.0 61.9 49.8 62.1 48.0 62.1 47.8 62.4 46.8 62.4 46.5 62.6 46.0 62.6 45.2 63.1 44.0 63.4 43.8 63.6 42.0 63.9M42.0 42.4 43.2 42.4 45.8 43.2 47.5 43.2 48.0 43.4 48.5 43.2 51.2 43.2 51.8 42.9 54.2 42.9 54.8 42.7 57.2 42.7 57.8 42.4 59.8 42.4 60.2 42.2 62.5 42.2 63.0 41.9 65.0 41.9 65.5 41.7 67.0 41.7 67.5 41.4 70.2 41.2 71.8 40.7 72.5 40.7 76.0 39.7 76.5 39.7 77.8 39.2 81.0 38.4 85.0 36.9 86.8 36.7 87.2 36.4 90.2 36.4 90.8 36.7 91.5 36.7 93.4 37.5 94.2 38.1 95.9 39.8 97.1 42.2 97.1 43.2 96.2 45.1 95.5 46.2 93.6 47.5 85.8 51.6 76.0 55.6 70.8 57.3 70.2 57.3 68.2 58.1 66.8 58.3 64.5 59.1 63.8 59.1 62.2 59.6 61.5 59.6 61.0 59.8 57.8 60.3 57.2 60.6 54.8 60.8 53.0 61.3 51.8 61.3 51.2 61.6 50.0 61.6 49.5 61.8 48.0 61.8 47.5 62.1 46.8 62.1 46.0 62.3 43.5 63.3 42.0 63.6M42.0 42.8 43.0 42.8 45.5 43.6 47.2 43.6 48.0 43.8 48.8 43.6 51.2 43.6 52.0 43.3 57.2 43.1 58.0 42.8 59.8 42.8 60.5 42.6 62.5 42.6 63.2 42.3 67.0 42.1 67.8 41.8 70.5 41.6 76.8 40.1 81.2 38.8 85.2 37.3 87.5 36.8 90.0 36.8 91.5 37.2 93.2 37.9 94.0 38.4 95.6 40.0 96.7 42.5 96.3 44.0 95.3 45.8 93.5 47.1 85.8 51.1 76.0 55.1 70.5 56.9 64.2 58.7 52.8 60.9 51.8 60.9 51.0 61.2 46.5 61.7 43.5 62.8 42.0 63.2M42.0 43.3 43.0 43.3 45.5 44.0 47.2 44.0 48.0 44.3 48.8 44.0 51.2 44.0 52.0 43.8 57.2 43.5 58.0 43.3 59.8 43.3 60.5 43.0 62.5 43.0 63.2 42.8 67.2 42.5 67.8 42.3 70.5 42.0 76.8 40.5 81.5 39.2 85.2 37.8 87.5 37.3 90.0 37.2 91.2 37.5 93.0 38.2 93.8 38.8 95.3 40.2 96.2 42.5 96.0 43.8 95.0 45.5 92.0 47.5 85.5 50.7 75.8 54.7 70.5 56.5 64.2 58.2 63.5 58.3 62.0 58.7 61.2 58.8 57.0 59.7 54.5 60.0 52.8 60.5 51.5 60.5 51.0 60.7 46.5 61.3 43.2 62.5 42.0 62.7M42.0 43.7 42.8 43.7 45.5 44.4 47.0 44.4 48.0 44.7 49.0 44.4 51.2 44.4 52.2 44.2 54.5 44.2 55.2 43.9 57.5 43.9 58.2 43.7 60.0 43.7 60.8 43.4 62.8 43.4 63.5 43.2 67.2 42.9 70.5 42.4 77.0 40.9 81.5 39.6 85.2 38.2 87.8 37.7 89.8 37.6 91.2 37.9 92.8 38.6 93.5 39.1 94.9 40.5 95.8 42.8 95.4 44.0 94.8 45.0 93.8 45.9 91.8 47.1 85.8 50.1 75.5 54.3 70.5 56.0 64.0 57.8 52.5 60.1 46.5 60.8 42.0 62.3M42.0 44.1 42.8 44.1 45.5 44.8 47.0 44.9 48.0 45.1 49.0 44.9 51.5 44.8 52.2 44.6 57.5 44.3 58.2 44.1 60.0 44.1 60.8 43.9 62.8 43.8 63.5 43.6 67.2 43.3 70.8 42.8 77.0 41.3 81.6 40.0 85.5 38.6 88.2 38.1 89.8 38.0 91.0 38.3 92.5 38.9 93.4 39.5 94.6 40.8 95.4 42.8 95.1 43.8 94.4 44.8 93.5 45.6 91.5 46.8 85.2 49.9 75.5 53.9 70.2 55.6 64.0 57.4 52.5 59.6 46.2 60.5 42.0 61.9M42.0 44.5 45.2 45.2 48.0 45.5 49.2 45.3 51.5 45.3 52.5 45.0 57.5 44.7 58.5 44.5 67.2 43.7 73.0 42.7 81.8 40.4 86.5 38.8 89.0 38.4 91.0 38.6 93.0 39.6 94.3 41.0 95.0 42.8 94.5 44.0 94.0 44.6 91.2 46.5 85.2 49.4 75.2 53.5 70.2 55.2 64.0 56.9 52.5 59.2 46.2 60.0 42.0 61.4M42.0 44.9 45.2 45.6 48.0 45.9 49.2 45.7 51.5 45.7 52.5 45.4 57.5 45.1 61.0 44.6 69.2 43.8 73.2 43.1 77.2 42.1 82.0 40.8 85.8 39.4 88.0 38.8 89.2 38.7 91.0 39.0 92.9 40.0 94.0 41.2 94.6 42.8 93.8 44.3 91.0 46.1 85.0 49.1 75.2 53.1 70.0 54.8 63.8 56.6 52.2 58.8 46.2 59.6 42.0 61.0M42.0 45.4 45.2 46.1 48.2 46.3 49.2 46.1 54.5 45.8 61.0 44.9 70.8 44.0 77.3 42.5 82.0 41.2 86.8 39.5 89.2 39.1 91.0 39.3 92.7 40.2 93.7 41.5 94.2 42.8 93.5 44.0 90.8 45.8 85.0 48.6 75.0 52.7 70.0 54.4 63.8 56.1 52.2 58.4 46.0 59.2 42.0 60.5M42.0 45.8 45.2 46.5 48.2 46.8 54.5 46.1 63.8 44.9 71.0 44.3 80.2 42.1 88.0 39.5 89.2 39.3 90.8 39.5 92.5 40.5 93.4 41.5 93.8 42.8 93.3 43.8 92.7 44.2 90.5 45.6 84.8 48.3 75.0 52.3 70.0 53.9 63.8 55.7 52.2 57.9 46.0 58.8 42.0 60.1M42.0 46.2 45.0 46.9 48.2 47.2 61.2 45.3 71.0 44.8 80.5 42.5 83.2 41.7 88.0 39.8 89.2 39.6 90.8 39.8 91.8 40.2 93.0 41.5 93.4 42.8 93.0 43.6 91.8 44.5 84.8 47.8 74.8 51.9 70.2 53.4 64.5 55.1 61.2 55.8 52.0 57.6 45.8 58.4 42.0 59.7M42.0 46.6 45.0 47.3 48.0 47.6 61.2 45.5 64.0 45.3 67.5 45.6 69.5 45.5 71.2 45.2 80.5 42.9 83.2 42.1 88.2 40.1 89.2 39.9 90.5 40.0 91.6 40.5 92.6 41.5 93.1 42.8 92.8 43.4 91.5 44.3 87.8 45.9 84.5 47.5 74.8 51.5 70.2 53.0 61.2 55.4 52.0 57.1 45.8 58.0 42.0 59.2M42.0 47.0 45.0 47.7 47.8 47.9 61.2 45.7 64.0 45.6 65.8 46.1 69.5 45.9 82.5 42.8 88.2 40.3 89.2 40.1 90.5 40.3 91.5 40.7 92.3 41.5 92.8 42.8 92.2 43.5 91.2 44.2 87.5 45.6 82.5 48.0 74.5 51.2 70.0 52.7 61.2 55.0 52.0 56.8 45.8 57.7 42.0 58.8M42.0 47.5 45.0 48.1 47.8 48.3 55.8 46.7 61.2 46.0 62.5 46.1 65.2 46.9 69.5 46.4 71.5 46.0 75.2 44.7 82.5 43.2 85.5 42.1 88.2 40.6 89.2 40.4 90.5 40.5 91.5 41.0 92.1 41.8 92.5 42.8 91.4 43.8 90.0 44.4 87.2 45.2 82.5 47.6 77.0 49.9 70.0 52.3 61.0 54.7 52.0 56.4 45.5 57.3 42.0 58.4M42.0 47.9 44.8 48.5 47.5 48.6 58.8 46.4 61.2 46.3 61.8 46.5 61.8 47.2 62.8 47.5 69.5 46.8 71.5 46.4 76.2 44.7 82.8 43.6 85.5 42.5 88.2 40.9 89.2 40.6 90.5 40.8 91.2 41.1 91.8 41.6 92.2 42.5 92.2 42.8 91.8 43.2 90.8 43.8 86.8 45.0 80.5 48.1 74.2 50.6 69.8 52.1 61.0 54.4 51.8 56.2 45.5 57.0 42.0 58.0M42.0 48.3 44.8 48.9 48.0 49.0 55.8 47.2 58.8 46.7 59.2 46.8 59.6 47.0 59.0 47.6 57.8 48.0 58.0 48.2 59.0 48.0 60.2 48.2 65.8 47.8 71.5 46.9 76.2 44.9 83.0 44.0 85.8 42.9 88.2 41.2 89.2 40.9 90.2 40.9 91.0 41.3 91.5 41.8 91.9 42.5 91.6 43.0 90.8 43.6 89.5 44.0 86.5 44.7 80.5 47.7 74.2 50.3 69.8 51.8 64.0 53.4 58.5 54.7 51.8 55.9 45.2 56.6 42.0 57.6M42.0 48.7 44.5 49.3 48.0 49.5 49.8 49.0 52.2 49.0 53.0 48.3 53.8 48.9 54.8 49.1 56.0 48.8 58.0 48.9 67.8 47.9 72.0 47.2 73.5 46.6 75.3 45.5 76.5 45.1 82.5 44.5 84.0 44.1 86.0 43.2 89.0 41.2 90.5 41.3 91.1 41.8 91.6 42.5 91.5 42.8 90.5 43.4 89.5 43.8 86.2 44.3 80.5 47.4 77.2 48.5 73.5 50.3 67.2 52.3 63.2 53.4 56.0 54.9 51.8 55.6 45.2 56.1 42.0 57.2M56.0 47.8 55.8 47.8 56.0 47.8M86.5 43.8 86.0 43.9 85.9 43.8 87.0 43.1 89.0 41.5 90.2 41.5 91.0 42.0 91.2 42.5 90.8 43.0 89.8 43.4 86.5 43.8M42.0 49.2 44.5 49.7 48.2 50.0 50.0 49.8 54.8 49.6 65.8 48.6 72.0 47.6 73.8 47.0 75.4 45.8 76.7 45.2 78.8 45.0 82.8 44.8 85.5 43.9 85.9 44.0 84.2 44.8 82.0 46.3 80.5 47.1 76.8 48.2 72.7 50.2 66.8 52.3 61.0 53.7 56.0 54.7 51.8 55.3 46.8 55.4 44.8 55.7 42.0 56.7M89.2 43.3 87.5 43.2 89.0 41.9 90.0 41.8 90.8 42.3 90.9 42.5 90.7 42.8 89.2 43.3M42.0 49.6 44.5 50.1 48.2 50.5 65.8 49.0 71.5 48.2 73.8 47.6 74.5 47.2 75.6 46.0 77.2 45.3 79.2 45.1 82.7 45.2 81.8 46.1 80.2 47.0 75.5 48.2 70.6 50.8 64.0 52.8 58.5 54.0 54.5 54.7 51.8 54.9 49.0 54.7 46.8 54.9 44.7 55.2 42.0 56.2M89.0 43.0 88.5 42.8 89.0 42.3 90.0 42.2 90.4 42.5 90.1 42.8 89.0 43.0M75.5 47.8 74.8 48.0 74.7 47.8 75.4 47.2 75.9 46.2 76.6 45.8 79.0 45.3 81.8 45.5 81.0 46.2 80.0 46.8 75.5 47.8M74.5 48.1 73.9 48.0 74.7 48.0 74.5 48.1M42.0 50.0 44.8 50.6 48.5 51.0 65.8 49.4 70.0 48.8 73.5 48.1 74.0 48.2 71.9 49.2 69.5 50.8 67.0 51.8 63.0 52.9 55.8 54.2 54.2 54.3 50.8 54.0 46.8 54.4 44.5 54.9 42.0 55.8M77.0 47.3 76.4 47.2 76.4 46.5 76.8 46.0 77.2 45.8 79.0 45.5 80.9 45.8 80.5 46.2 79.8 46.7 77.0 47.3M70.0 49.3 69.5 49.5 69.3 49.2 70.0 49.3M42.0 50.4 44.5 51.0 48.2 51.4 58.0 50.6 69.2 49.3 69.5 49.5 68.5 50.2 67.8 51.0 66.8 51.5 61.4 53.0 57.0 53.7 55.8 53.5 55.7 53.2 55.2 53.0 53.5 53.1 46.4 54.0 44.2 54.5 42.0 55.3M78.8 46.8 77.5 47.0 77.2 46.5 77.5 46.1 78.0 45.9 79.2 45.8 80.3 46.0 79.8 46.4 78.8 46.8M65.0 50.3 64.4 50.2 65.1 50.2 65.0 50.3M42.0 50.9 44.5 51.5 48.2 51.8 58.0 51.0 61.8 50.5 64.2 50.5 62.8 51.1 62.0 51.1 51.5 52.9 46.2 53.6 44.2 54.0 42.0 54.9M60.8 52.8 60.3 52.8 60.1 52.5 60.5 52.2 62.2 51.8 62.8 51.4 63.5 51.3 64.5 51.5 64.0 52.0 60.8 52.8M42.0 51.3 44.2 51.9 47.8 52.2 53.5 51.7 55.7 51.8 54.5 51.8 54.0 52.0 51.2 52.5 46.2 53.2 44.2 53.6 42.0 54.4M56.8 51.5 56.4 51.5 57.0 51.5 56.8 51.5M42.0 51.8 44.0 52.3 46.2 52.5 46.2 52.8 44.0 53.2 42.0 54.0M42.0 52.2 44.2 52.8 42.0 53.5M42.0 52.6 42.5 52.8 42.0 53.0" fill="none" stroke="#000" stroke-width="0.6" stroke-linejoin="round"/></g>
<path d="M46.5 33.0h1.5M46.5 34.4h1.5M46.5 35.8h1.5M46.5 37.2h1.5M46.5 38.6h1.5M46.5 40.0h1.5M46.5 41.4h1.5M46.5 42.8h1.5M46.5 44.2h1.5M46.5 45.6h1.5M46.5 47.0h1.5M46.5 48.4h1.5M46.5 49.8h1.5M46.5 51.2h1.5M46.5 52.6h1.5M46.5 54.0h1.5M46.5 55.4h1.5M46.5 56.8h1.5M46.5 58.2h1.5M46.5 59.6h1.5M46.5 61.0h1.5M46.5 62.4h1.5M46.5 63.8h1.5M46.5 65.2h1.5M46.5 66.6h1.5M46.5 68.0h1.5M46.5 69.4h1.5M46.5 70.8h1.5M46.5 72.2h1.5M46.5 73.6h1.5M46.5 75.0h1.5M46.5 76.4h1.5M46.5 77.8h1.5M46.5 79.2h1.5M46.5 80.6h1.5M46.5 82.0h1.5M46.5 83.4h1.5M46.5 84.8h1.5M46.5 86.2h1.5M46.5 87.6h1.5M46.5 89.0h1.5M46.5 90.4h1.5M46.5 91.8h1.5M46.5 93.2h1.5M46.5 94.6h1.5M46.5 96.0h1.5M46.5 97.4h1.5M46.5 98.8h1.5M46.5 100.2h1.5M46.5 101.6h1.5M46.5 103.0h1.5M46.5 104.4h1.5M46.5 105.8h1.5M46.5 107.2h1.5M46.5 108.6h1.5M46.5 110.0h1.5" stroke="#333" stroke-width="0.5" fill="none"/>
<path d="M49.0 112.5v1.5M51.2 112.5v1.5M53.4 112.5v1.5M55.6 112.5v1.5M57.8 112.5v1.5M60.0 112.5v1.5M62.2 112.5v1.5M64.4 112.5v1.5M66.6 112.5v1.5M68.8 112.5v1.5M71.0 112.5v1.5M73.2 112.5v1.5M75.4 112.5v1.5M77.6 112.5v1.5M79.8 112.5v1.5M82.0 112.5v1.5M84.2 112.5v1.5M86.4 112.5v1.5M88.6 112.5v1.5M90.8 112.5v1.5M93.0 112.5v1.5M95.2 112.5v1.5M97.4 112.5v1.5M99.6 112.5v1.5M101.8 112.5v1.5M104.0 112.5v1.5M106.2 112.5v1.5M108.4 112.5v1.5M110.6 112.5v1.5M112.8 112.5v1.5M115.0 112.5v1.5M117.2 112.5v1.5M119.4 112.5v1.5M121.6 112.5v1.5M123.8 112.5v1.5M126.0 112.5v1.5M128.2 112.5v1.5" stroke="#777" stroke-width="0.5" fill="none"/>
<rect x="47.2" y="42" width="1.6" height="70" fill="#111"/>
<rect x="48.00" y="31.00" width="82.00" height="81.50" fill="none" stroke="#888" stroke-width="0.8" />
<line x1="48.00" y1="30.60" x2="48.00" y2="112.50" stroke="#333" stroke-width="1" />
<line x1="48.00" y1="112.50" x2="130.00" y2="112.50" stroke="#555" stroke-width="0.8" />
<text transform="translate(43.60 43.30) scale(0.85 1)" font-size="9.3" fill="#333" text-anchor="end" stroke="#333" stroke-width="0.25" >10<tspan dy="-3.6" font-size="6.4">5</tspan></text>
<text transform="translate(43.60 60.90) scale(0.85 1)" font-size="9.3" fill="#333" text-anchor="end" stroke="#333" stroke-width="0.25" >10<tspan dy="-3.6" font-size="6.4">4</tspan></text>
<text transform="translate(43.60 79.30) scale(0.85 1)" font-size="9.3" fill="#333" text-anchor="end" stroke="#333" stroke-width="0.25" >10<tspan dy="-3.6" font-size="6.4">3</tspan></text>
<text transform="translate(43.60 97.00) scale(0.85 1)" font-size="9.3" fill="#333" text-anchor="end" stroke="#333" stroke-width="0.25" >10<tspan dy="-3.6" font-size="6.4">2</tspan></text>
<text transform="translate(43.60 110.50) scale(0.85 1)" font-size="9.3" fill="#333" text-anchor="end" stroke="#333" stroke-width="0.25" >0</text>
<text transform="translate(52.50 125.60) scale(0.85 1)" font-size="9.3" fill="#333" text-anchor="middle" stroke="#333" stroke-width="0.25" >0</text>
<text transform="translate(68.70 125.60) scale(0.85 1)" font-size="9.3" fill="#333" text-anchor="middle" stroke="#333" stroke-width="0.25" >10<tspan dy="-3.6" font-size="6.4">2</tspan></text>
<text transform="translate(87.20 125.60) scale(0.85 1)" font-size="9.3" fill="#333" text-anchor="middle" stroke="#333" stroke-width="0.25" >10<tspan dy="-3.6" font-size="6.4">3</tspan></text>
<text transform="translate(106.20 125.60) scale(0.85 1)" font-size="9.3" fill="#333" text-anchor="middle" stroke="#333" stroke-width="0.25" >10<tspan dy="-3.6" font-size="6.4">4</tspan></text>
<text transform="translate(123.70 125.60) scale(0.85 1)" font-size="9.3" fill="#333" text-anchor="middle" stroke="#333" stroke-width="0.25" >10<tspan dy="-3.6" font-size="6.4">5</tspan></text>
<line x1="21.70" y1="135.00" x2="21.70" y2="97.00" stroke="#222" stroke-width="1.1" />
<line x1="21.15" y1="135.00" x2="59.80" y2="135.00" stroke="#222" stroke-width="1.1" />
<polygon points="21.70,93.00 19.10,99.00 24.30,99.00" fill="#222"/>
<polygon points="63.80,135.00 57.80,132.40 57.80,137.60" fill="#222"/>
<text transform="translate(25.23 89.00) rotate(-90)" font-size="9.8" fill="#222" textLength="49" lengthAdjust="spacingAndGlyphs" stroke="#222" stroke-width="0.22" >Lineage/CD48</text>
<text transform="translate(67.50 138.90)" font-size="9.8" fill="#222" textLength="24.5" lengthAdjust="spacingAndGlyphs" stroke="#222" stroke-width="0.22" >CD150</text>
<rect x="87.00" y="63.00" width="42.60" height="49.00" fill="none" stroke="#2b2bf0" stroke-width="1.05" />
<text transform="translate(94.20 73.50)" font-size="8.4" fill="#2b2bf0" textLength="29" lengthAdjust="spacingAndGlyphs" stroke="#2b2bf0" stroke-width="0.22" >Lineage<tspan dy="-3" font-size="5">-</tspan></text>
<text transform="translate(94.20 83.00)" font-size="8.4" fill="#2b2bf0" textLength="20" lengthAdjust="spacingAndGlyphs" stroke="#2b2bf0" stroke-width="0.22" >CD48<tspan dy="-3" font-size="5">-</tspan></text>
<text transform="translate(94.20 93.00)" font-size="8.4" fill="#2b2bf0" textLength="27.5" lengthAdjust="spacingAndGlyphs" stroke="#2b2bf0" stroke-width="0.22" >CD150<tspan dy="-3" font-size="5">+</tspan></text>
<text transform="translate(94.20 103.00)" font-size="8.4" fill="#2b2bf0" textLength="22.8" lengthAdjust="spacingAndGlyphs" stroke="#2b2bf0" stroke-width="0.22" >0.10%</text>
<line x1="129.60" y1="63.40" x2="140.33" y2="53.39" stroke="#2b2bf0" stroke-width="1.2" />
<polygon points="144.50,49.50 141.89,55.49 138.34,51.69" fill="#2b2bf0"/>
<path d="M218.9 67.6h0.55v0.55h-0.55zM202.0 69.4h0.55v0.55h-0.55zM189.0 35.8h0.55v0.55h-0.55zM176.1 59.7h0.55v0.55h-0.55zM224.4 52.4h0.55v0.55h-0.55zM233.6 56.8h0.55v0.55h-0.55zM199.5 39.0h0.55v0.55h-0.55zM180.5 72.2h0.55v0.55h-0.55zM223.0 64.2h0.55v0.55h-0.55zM221.8 45.1h0.55v0.55h-0.55zM194.0 36.2h0.55v0.55h-0.55zM211.7 41.3h0.55v0.55h-0.55zM177.1 44.6h0.55v0.55h-0.55zM205.1 42.2h0.55v0.55h-0.55zM172.9 56.9h0.55v0.55h-0.55zM221.0 72.7h0.55v0.55h-0.55zM188.6 36.0h0.55v0.55h-0.55zM176.8 44.7h0.55v0.55h-0.55zM226.6 38.3h0.55v0.55h-0.55zM194.1 38.3h0.55v0.55h-0.55zM233.0 50.7h0.55v0.55h-0.55zM173.8 35.2h0.55v0.55h-0.55zM176.0 60.7h0.55v0.55h-0.55zM217.0 43.2h0.55v0.55h-0.55zM223.3 49.8h0.55v0.55h-0.55zM206.2 74.8h0.55v0.55h-0.55zM168.3 65.4h0.55v0.55h-0.55zM187.5 37.9h0.55v0.55h-0.55zM169.5 38.7h0.55v0.55h-0.55zM225.8 44.1h0.55v0.55h-0.55zM218.7 39.8h0.55v0.55h-0.55zM204.2 69.3h0.55v0.55h-0.55zM223.6 51.9h0.55v0.55h-0.55zM194.8 38.5h0.55v0.55h-0.55zM187.8 40.0h0.55v0.55h-0.55zM226.5 69.3h0.55v0.55h-0.55zM177.8 41.2h0.55v0.55h-0.55zM207.1 40.7h0.55v0.55h-0.55zM167.7 63.9h0.55v0.55h-0.55zM222.1 67.5h0.55v0.55h-0.55zM219.0 38.6h0.55v0.55h-0.55zM195.5 64.4h0.55v0.55h-0.55zM179.6 63.3h0.55v0.55h-0.55zM203.7 42.9h0.55v0.55h-0.55zM173.9 59.2h0.55v0.55h-0.55zM197.6 64.1h0.55v0.55h-0.55zM237.7 59.7h0.55v0.55h-0.55zM224.2 51.4h0.55v0.55h-0.55zM202.8 40.3h0.55v0.55h-0.55zM223.7 64.5h0.55v0.55h-0.55zM227.9 53.0h0.55v0.55h-0.55zM201.4 66.8h0.55v0.55h-0.55zM199.1 66.5h0.55v0.55h-0.55zM189.1 70.5h0.55v0.55h-0.55zM201.6 41.1h0.55v0.55h-0.55zM166.7 51.8h0.55v0.55h-0.55zM205.6 67.0h0.55v0.55h-0.55zM213.0 69.9h0.55v0.55h-0.55zM205.8 69.2h0.55v0.55h-0.55zM172.3 35.6h0.55v0.55h-0.55zM201.0 66.1h0.55v0.55h-0.55zM224.8 53.8h0.55v0.55h-0.55zM219.3 45.2h0.55v0.55h-0.55zM200.4 63.9h0.55v0.55h-0.55zM224.7 56.1h0.55v0.55h-0.55zM223.4 47.5h0.55v0.55h-0.55zM183.2 67.5h0.55v0.55h-0.55zM193.4 67.9h0.55v0.55h-0.55zM200.4 73.2h0.55v0.55h-0.55zM218.5 70.6h0.55v0.55h-0.55z" fill="#555" opacity="0.9"/>
<clipPath id="cp2"><rect x="164" y="30.2" width="82.6" height="82.1"/></clipPath><g clip-path="url(#cp2)"><path d="M212.0 65.5 210.0 65.4 208.2 65.1 206.2 64.4 202.6 62.7 200.2 62.2 196.8 62.3 191.8 63.5 189.2 63.8 186.2 63.6 183.2 62.6 181.5 61.6 179.9 60.2 178.6 58.7 177.6 56.7 177.0 54.5 176.9 52.5 177.2 50.5 177.9 48.5 179.8 45.8 182.2 43.8 185.2 42.4 188.2 41.8 190.2 41.8 192.2 42.1 197.7 44.0 200.0 44.4 204.5 44.8 209.2 44.5 211.5 44.5 214.0 45.0 216.2 45.9 217.8 46.8 219.2 48.0 220.5 49.5 221.4 51.0 222.1 52.7 222.4 54.2 222.5 55.7 222.3 57.5 221.8 59.0 221.1 60.5 220.0 61.9 218.8 63.0 217.2 64.0 215.5 64.8 213.8 65.3 212.0 65.5M213.0 64.2 211.0 64.3 208.8 64.0 206.8 63.4 203.0 61.6 200.8 61.1 196.5 61.2 191.8 62.3 189.2 62.6 186.5 62.4 184.0 61.6 182.2 60.6 180.9 59.5 179.7 58.0 178.9 56.5 178.3 54.7 178.2 53.0 178.3 51.2 178.9 49.5 180.4 47.0 182.5 45.0 185.2 43.6 188.2 43.0 190.2 43.0 192.0 43.3 196.9 45.0 199.3 45.5 204.8 45.9 211.0 45.6 213.0 45.9 215.0 46.5 217.8 48.2 219.0 49.4 219.9 50.7 220.6 52.0 221.1 53.5 221.3 55.0 221.2 56.5 220.9 58.0 220.4 59.2 219.6 60.5 218.5 61.7 216.0 63.4 213.0 64.2M212.8 63.5 210.8 63.5 208.5 63.2 206.8 62.5 203.2 60.8 201.0 60.4 196.5 60.4 191.5 61.5 189.2 61.8 187.0 61.6 184.8 61.0 183.2 60.2 181.9 59.2 180.8 58.0 179.9 56.5 179.3 55.0 179.1 53.2 179.2 51.7 179.6 50.0 180.9 47.7 183.0 45.7 185.5 44.4 188.2 43.8 190.0 43.8 191.8 44.1 196.5 45.7 198.8 46.2 204.8 46.7 211.0 46.4 212.8 46.7 214.8 47.3 217.2 48.8 219.1 51.0 220.2 53.5 220.4 54.7 220.4 56.2 219.7 58.7 218.9 60.0 218.0 61.0 215.8 62.6 214.2 63.2 212.8 63.5M213.2 62.7 211.2 62.9 209.0 62.6 207.2 62.0 203.5 60.2 201.0 59.7 196.2 59.7 191.5 60.9 189.5 61.1 187.5 61.0 185.5 60.5 184.0 59.9 182.7 59.0 181.5 57.7 180.7 56.5 180.1 55.0 179.8 53.5 179.9 51.7 180.3 50.2 181.6 48.0 183.5 46.2 185.8 45.1 188.5 44.5 190.2 44.5 191.8 44.8 196.5 46.4 198.5 46.8 204.8 47.4 210.8 47.0 212.5 47.3 214.0 47.7 216.5 49.1 218.3 51.0 219.4 53.2 219.7 55.7 219.1 58.2 217.8 60.2 215.8 61.8 213.2 62.7M212.5 62.5 210.8 62.5 208.8 62.2 207.0 61.5 203.5 59.8 201.2 59.3 196.2 59.3 191.2 60.5 189.5 60.7 187.5 60.6 185.5 60.1 184.0 59.4 182.8 58.4 181.7 57.2 180.9 56.0 180.4 54.5 180.3 53.2 180.4 51.7 180.8 50.2 182.0 48.2 183.8 46.6 186.0 45.4 188.5 44.9 191.5 45.1 196.2 46.8 198.2 47.2 204.8 47.8 210.8 47.4 212.5 47.6 214.0 48.1 216.2 49.4 218.0 51.2 219.0 53.5 219.3 56.0 218.6 58.2 217.2 60.2 216.2 61.0 215.0 61.7 212.5 62.5M211.5 62.2 210.0 62.1 208.5 61.8 203.8 59.5 201.5 59.0 196.0 59.0 191.5 60.1 189.5 60.4 187.5 60.3 185.8 59.8 184.2 59.1 183.0 58.2 182.1 57.2 181.3 56.0 180.9 54.7 180.6 53.2 180.7 52.0 181.1 50.5 182.2 48.5 184.0 46.8 186.0 45.8 188.5 45.2 190.2 45.3 191.8 45.5 196.0 47.1 198.0 47.5 204.8 48.2 210.8 47.7 212.2 47.9 213.8 48.3 216.1 49.7 217.9 51.7 218.8 54.0 218.9 55.2 218.8 56.5 218.0 58.7 216.2 60.6 214.0 61.8 211.5 62.2M213.0 61.7 211.0 61.9 209.0 61.6 207.2 61.0 203.8 59.1 201.5 58.7 196.0 58.6 191.5 59.8 189.5 60.1 187.8 60.0 186.0 59.6 184.8 59.0 183.5 58.2 182.5 57.2 181.7 56.0 181.2 54.7 181.0 53.5 181.1 52.0 181.4 50.7 182.5 48.7 184.0 47.2 186.0 46.1 188.5 45.5 191.5 45.8 196.0 47.4 198.0 47.8 204.8 48.5 210.8 48.0 213.5 48.6 215.5 49.6 217.2 51.3 218.3 53.5 218.6 55.5 218.1 57.7 217.0 59.5 215.2 60.9 213.0 61.7M213.0 61.5 211.0 61.7 209.0 61.3 207.2 60.7 204.0 58.9 201.8 58.4 196.0 58.3 191.2 59.6 189.5 59.8 187.8 59.7 186.2 59.4 185.0 58.8 183.8 58.0 182.8 57.0 182.0 56.0 181.5 54.7 181.3 53.5 181.3 52.2 181.6 51.0 182.6 49.0 184.2 47.4 186.2 46.3 188.5 45.8 190.0 45.8 191.5 46.1 195.9 47.7 197.8 48.1 204.5 48.8 210.2 48.3 211.8 48.4 213.2 48.7 215.2 49.7 217.0 51.5 218.0 53.5 218.3 55.5 217.9 57.5 216.8 59.3 215.0 60.7 213.0 61.5M213.0 61.2 211.0 61.4 209.0 61.1 207.2 60.4 204.0 58.6 201.8 58.1 196.0 58.1 191.2 59.3 189.5 59.6 187.8 59.5 186.2 59.1 184.0 57.9 183.0 57.0 182.4 56.0 181.8 54.7 181.6 53.5 181.6 52.2 181.9 51.0 183.0 49.0 184.5 47.5 186.5 46.5 188.8 46.0 191.5 46.3 195.8 47.9 197.8 48.4 204.5 49.1 210.0 48.5 211.5 48.6 213.0 48.9 215.0 49.9 216.7 51.5 217.7 53.2 218.1 55.2 217.7 57.2 216.8 59.0 215.0 60.4 213.0 61.2M211.5 61.2 210.0 61.1 208.5 60.7 204.2 58.5 202.0 57.9 196.0 57.8 191.2 59.1 189.5 59.3 187.8 59.3 186.2 58.9 184.0 57.6 182.5 55.7 181.8 53.5 181.9 52.2 182.1 51.0 183.1 49.2 184.6 47.7 186.5 46.7 188.8 46.3 191.5 46.6 195.8 48.2 197.8 48.6 204.5 49.3 210.0 48.7 211.5 48.8 213.0 49.1 215.0 50.1 216.6 51.7 217.6 53.7 217.8 56.0 217.1 58.0 215.8 59.6 213.8 60.8 211.5 61.2M212.0 61.0 210.5 61.0 208.8 60.6 207.2 59.9 204.2 58.2 202.2 57.7 196.0 57.6 191.2 58.9 189.5 59.1 188.0 59.1 186.5 58.7 184.2 57.5 182.8 55.7 182.3 54.7 182.1 53.5 182.1 52.2 182.4 51.0 183.4 49.2 184.8 47.9 186.8 46.9 188.8 46.5 191.5 46.8 195.7 48.5 197.5 48.8 204.5 49.6 210.0 48.9 211.5 49.0 213.0 49.4 215.0 50.4 216.5 51.9 217.4 53.7 217.6 55.7 217.1 57.5 215.9 59.2 214.2 60.3 212.0 61.0M212.2 60.7 210.5 60.8 208.8 60.4 207.2 59.7 204.2 57.9 202.2 57.4 196.2 57.3 194.8 57.6 190.2 58.8 188.5 58.9 186.8 58.6 184.6 57.5 183.0 55.7 182.6 54.7 182.3 53.5 182.5 51.2 183.4 49.5 184.8 48.1 186.8 47.1 188.8 46.7 191.5 47.0 195.7 48.7 197.5 49.1 204.5 49.8 210.0 49.1 212.8 49.5 214.5 50.3 216.1 51.7 217.1 53.5 217.4 55.5 216.9 57.5 215.9 59.0 214.2 60.1 212.2 60.7M212.8 60.5 211.0 60.6 209.0 60.3 207.5 59.6 204.2 57.7 202.2 57.2 196.2 57.1 194.8 57.3 190.2 58.7 188.5 58.7 186.8 58.4 184.8 57.3 183.3 55.7 182.5 53.7 182.7 51.5 183.5 49.7 185.0 48.2 186.8 47.3 188.8 46.9 191.5 47.2 195.5 48.9 197.5 49.3 204.5 50.1 209.8 49.3 212.5 49.6 214.2 50.3 215.8 51.7 216.9 53.5 217.2 55.2 216.9 57.0 216.0 58.5 214.5 59.8 212.8 60.5M213.0 60.2 211.2 60.4 209.2 60.2 207.5 59.4 204.2 57.4 202.2 57.0 196.2 56.9 194.8 57.1 190.2 58.5 188.5 58.5 187.0 58.3 185.0 57.3 183.5 55.7 182.8 53.7 182.7 52.7 182.9 51.5 183.8 49.7 185.0 48.4 186.8 47.5 188.8 47.1 190.0 47.1 191.5 47.4 195.5 49.1 197.2 49.5 200.5 49.7 204.5 50.3 209.8 49.5 211.2 49.5 212.5 49.8 214.2 50.6 215.6 51.7 216.6 53.2 217.0 55.0 216.8 56.7 216.0 58.2 214.8 59.4 213.0 60.2M212.0 60.2 210.5 60.2 208.8 59.8 207.2 59.1 204.5 57.3 202.5 56.8 196.2 56.6 194.8 56.9 190.2 58.3 188.5 58.4 187.0 58.1 185.0 57.1 183.6 55.5 182.9 53.5 183.1 51.5 184.0 49.7 185.2 48.5 187.0 47.6 188.8 47.2 190.0 47.3 191.5 47.6 195.5 49.3 197.2 49.7 200.5 49.9 204.5 50.5 209.8 49.7 211.2 49.7 212.5 49.9 214.2 50.8 215.8 52.2 216.6 53.7 216.8 55.5 216.4 57.2 215.3 58.7 213.8 59.7 212.0 60.2M212.5 60.0 210.8 60.1 209.0 59.7 207.5 59.1 204.5 57.1 202.5 56.5 196.0 56.4 190.5 58.1 188.8 58.2 187.2 58.0 185.2 57.0 183.8 55.5 183.1 53.5 183.3 51.5 184.2 49.7 185.5 48.5 187.2 47.7 189.0 47.4 191.5 47.8 195.2 49.4 196.5 49.8 200.5 50.1 203.8 50.7 205.5 50.7 209.8 49.8 211.2 49.9 212.5 50.1 214.2 51.0 215.5 52.1 216.4 53.7 216.6 55.2 216.4 56.7 215.5 58.2 214.2 59.3 212.5 60.0M211.5 60.0 210.0 59.8 208.5 59.4 204.5 56.8 202.8 56.3 196.0 56.2 190.5 57.9 188.8 58.0 187.2 57.8 185.2 56.8 183.9 55.2 183.3 53.5 183.5 51.5 184.3 50.0 185.5 48.7 187.2 47.9 189.0 47.6 190.2 47.6 191.8 48.0 196.2 50.0 200.8 50.4 203.8 50.9 205.5 50.9 209.8 50.0 211.2 50.0 212.5 50.3 214.2 51.1 215.5 52.5 216.3 54.0 216.4 55.7 215.8 57.5 214.8 58.7 213.2 59.6 211.5 60.0M212.2 59.7 210.5 59.8 208.8 59.3 207.2 58.5 204.5 56.6 202.8 56.1 196.0 56.0 190.5 57.7 188.8 57.9 187.2 57.6 185.4 56.7 184.1 55.2 183.5 53.5 183.6 51.7 184.3 50.2 185.5 48.9 187.2 48.0 189.0 47.7 191.5 48.1 196.2 50.2 200.5 50.6 203.8 51.2 205.5 51.1 209.8 50.1 212.2 50.4 213.8 51.0 215.2 52.2 216.0 53.7 216.3 55.2 216.0 56.7 215.1 58.2 213.8 59.2 212.2 59.7M212.5 59.5 210.8 59.6 209.0 59.3 207.4 58.5 204.5 56.3 202.8 55.8 196.0 55.8 190.5 57.6 189.0 57.7 187.5 57.5 185.7 56.7 184.3 55.2 183.6 53.5 183.8 51.7 184.5 50.2 185.8 49.0 187.2 48.2 189.0 47.9 191.5 48.3 196.2 50.5 200.5 50.8 203.8 51.4 205.2 51.4 209.5 50.3 211.0 50.3 212.2 50.5 213.8 51.2 215.0 52.3 215.8 53.7 216.1 55.2 215.8 56.7 215.1 58.0 214.0 58.9 212.5 59.5M211.8 59.5 210.2 59.4 208.8 59.0 207.3 58.2 204.5 56.1 203.0 55.6 196.0 55.5 194.8 55.8 190.8 57.4 189.0 57.6 187.5 57.4 185.8 56.6 184.5 55.2 183.8 53.5 183.9 51.7 184.7 50.2 185.8 49.1 187.2 48.4 189.0 48.0 190.2 48.1 191.8 48.5 196.2 50.7 200.5 51.0 203.8 51.7 205.2 51.6 209.5 50.5 211.0 50.4 212.2 50.7 213.8 51.4 215.0 52.5 215.8 54.0 215.9 55.5 215.6 57.0 214.6 58.2 213.2 59.1 211.8 59.5M212.2 59.3 210.5 59.3 208.8 58.8 207.2 58.0 204.5 55.8 203.0 55.3 200.0 55.4 196.0 55.3 194.8 55.6 190.8 57.2 189.0 57.4 187.5 57.2 185.9 56.5 184.7 55.2 184.0 53.5 184.1 51.7 184.8 50.4 185.9 49.2 187.2 48.5 189.0 48.2 190.2 48.3 191.5 48.6 196.2 50.9 200.5 51.2 203.8 52.0 205.2 51.9 209.2 50.7 210.8 50.6 212.0 50.7 213.5 51.4 214.8 52.4 215.5 53.7 215.8 55.0 215.6 56.5 214.9 57.7 213.8 58.7 212.2 59.3M211.5 59.2 210.0 59.1 208.5 58.6 207.1 57.7 204.5 55.4 203.2 55.0 200.0 55.2 196.0 55.0 190.8 57.1 189.0 57.3 187.5 57.1 185.8 56.2 184.7 55.0 184.2 53.5 184.3 51.7 184.9 50.5 186.0 49.3 187.5 48.6 189.0 48.3 190.2 48.4 191.8 48.9 195.2 50.8 196.2 51.2 200.5 51.5 203.8 52.3 205.0 52.2 209.2 50.8 210.8 50.7 212.0 50.9 213.5 51.5 214.8 52.7 215.4 54.0 215.6 55.5 215.3 56.7 214.4 58.0 213.0 58.9 211.5 59.2M212.2 59.0 210.5 59.0 208.6 58.5 207.1 57.5 204.5 55.0 203.2 54.5 200.0 54.9 196.0 54.7 190.8 56.9 189.2 57.1 187.8 57.0 186.2 56.3 185.0 55.1 184.4 53.7 184.4 52.0 184.9 50.7 186.0 49.5 187.5 48.8 189.0 48.5 190.2 48.6 191.8 49.0 195.2 51.1 196.2 51.5 200.5 51.8 203.8 52.8 205.0 52.6 209.0 51.0 210.5 50.8 212.0 51.0 213.2 51.5 214.4 52.5 215.2 53.7 215.5 55.0 215.3 56.2 214.7 57.5 213.5 58.5 212.2 59.0M189.8 57.0 188.0 56.9 186.3 56.2 185.2 55.2 184.5 53.7 184.5 52.2 185.1 50.7 186.2 49.5 187.8 48.8 189.2 48.6 191.0 48.9 192.5 49.6 196.0 51.8 197.0 52.0 199.5 51.9 200.8 52.1 202.2 52.7 203.0 53.5 203.0 53.7 202.7 54.0 200.8 54.6 196.0 54.4 191.8 56.4 189.8 57.0M212.5 58.8 211.5 58.9 210.2 58.9 208.2 58.1 206.2 56.5 204.3 54.2 204.1 53.7 206.3 52.2 209.0 51.1 211.2 51.0 213.2 51.7 214.2 52.5 214.9 53.5 215.3 54.5 215.3 55.5 215.1 56.5 214.5 57.5 213.7 58.2 212.5 58.8M190.2 56.7 188.5 56.8 187.0 56.4 185.7 55.5 184.9 54.2 184.6 52.7 185.0 51.2 186.0 49.9 187.5 49.1 189.0 48.8 190.8 49.0 192.8 49.9 196.2 52.3 197.0 52.5 200.0 52.4 201.1 52.7 201.7 53.2 201.7 53.5 201.5 53.8 200.2 54.2 199.0 54.2 197.0 53.8 196.2 53.9 192.2 56.0 190.2 56.7M212.0 58.7 211.0 58.8 209.8 58.6 207.8 57.6 206.5 56.5 205.3 55.0 205.0 54.2 205.1 53.5 206.0 52.7 207.2 52.0 209.5 51.2 211.8 51.2 213.5 52.0 214.2 52.7 214.9 53.7 215.1 54.7 215.1 56.0 214.7 57.0 214.0 57.8 213.0 58.4 212.0 58.7M189.2 56.7 187.5 56.4 186.2 55.7 185.1 54.5 184.8 53.0 185.1 51.5 186.0 50.1 187.5 49.2 189.2 48.9 191.0 49.2 192.8 50.1 195.3 52.2 195.7 52.7 195.8 53.2 194.8 54.2 192.5 55.7 190.8 56.5 189.2 56.7M212.5 58.5 211.5 58.7 210.2 58.6 209.0 58.2 208.0 57.6 206.7 56.5 205.8 55.2 205.4 54.2 205.6 53.5 207.1 52.2 209.5 51.3 211.8 51.4 213.5 52.2 214.7 53.7 215.0 54.7 215.0 55.7 214.6 56.7 214.1 57.5 212.5 58.5M200.0 53.5 199.2 53.6 198.9 53.5 198.8 53.2 199.8 53.0 200.2 53.2 200.0 53.5M190.0 56.5 188.5 56.5 187.0 56.1 185.8 55.2 185.1 54.0 184.9 52.5 185.3 51.2 186.2 50.1 187.8 49.3 189.5 49.1 191.5 49.6 193.6 51.0 195.1 52.7 195.1 53.2 194.8 53.7 193.8 54.7 191.8 55.9 190.0 56.5M211.8 58.5 210.5 58.5 209.2 58.2 208.2 57.6 207.2 56.7 206.2 55.5 205.8 54.5 205.9 53.7 206.5 53.0 208.2 51.8 210.2 51.4 212.2 51.7 213.8 52.7 214.4 53.5 214.8 54.5 214.9 55.5 214.7 56.2 214.3 57.0 213.6 57.7 212.8 58.2 211.8 58.5M190.5 56.2 189.0 56.4 187.5 56.1 186.2 55.4 185.4 54.2 185.1 53.0 185.3 51.7 186.1 50.5 187.2 49.6 189.0 49.2 191.0 49.5 193.0 50.7 194.5 52.5 194.5 53.5 193.7 54.5 192.2 55.5 190.5 56.2M212.2 58.2 211.2 58.4 210.0 58.3 208.8 57.8 207.8 57.1 206.8 56.0 206.2 55.0 206.1 54.0 206.5 53.2 208.0 52.1 210.0 51.5 212.0 51.7 213.5 52.6 214.5 54.0 214.7 54.7 214.7 55.7 213.9 57.2 213.2 57.8 212.2 58.2M190.0 56.2 188.5 56.2 187.2 55.9 186.0 55.0 185.4 54.0 185.2 52.7 185.6 51.5 186.5 50.3 187.8 49.6 189.5 49.3 191.2 49.8 193.0 51.0 194.2 52.5 194.2 53.5 193.4 54.5 191.8 55.6 190.0 56.2M211.8 58.2 210.5 58.2 209.4 58.0 208.2 57.3 207.4 56.5 206.7 55.5 206.4 54.5 206.5 53.7 207.1 53.0 208.8 52.0 210.5 51.7 212.2 52.0 213.8 53.0 214.5 54.5 214.6 55.5 214.4 56.2 213.5 57.5 212.8 57.9 211.8 58.2M190.2 56.0 188.8 56.1 187.5 55.8 186.5 55.2 185.7 54.2 185.4 53.0 185.6 51.7 186.3 50.7 187.5 49.8 189.2 49.5 191.0 49.8 192.8 50.9 193.8 52.2 193.9 53.2 193.4 54.2 192.0 55.3 190.2 56.0M212.0 58.0 211.0 58.1 209.8 57.9 208.5 57.3 207.6 56.5 206.9 55.5 206.6 54.5 206.8 53.7 207.4 53.0 208.8 52.1 210.5 51.8 212.2 52.1 213.5 53.0 214.3 54.5 214.3 56.0 213.5 57.2 212.0 58.0M189.5 56.0 188.0 55.8 186.8 55.2 186.0 54.4 185.6 53.2 185.7 52.0 186.3 51.0 187.2 50.1 188.8 49.7 190.2 49.8 191.8 50.4 193.0 51.5 193.6 52.7 193.4 53.7 192.5 54.7 191.0 55.6 189.5 56.0M211.5 58.0 210.2 57.9 209.2 57.6 208.2 56.9 207.4 56.0 206.9 55.0 206.9 54.2 207.2 53.5 208.0 52.7 209.5 52.1 211.2 52.0 212.8 52.5 213.8 53.5 214.3 55.0 214.0 56.3 213.0 57.4 211.5 58.0M190.2 55.7 189.0 55.8 187.8 55.6 186.7 55.0 186.0 54.0 185.7 53.0 185.9 52.0 186.5 51.0 187.5 50.2 189.0 49.8 190.5 50.0 191.9 50.7 193.1 52.0 193.4 53.0 193.0 54.0 191.9 55.0 190.2 55.7M212.0 57.7 211.0 57.8 209.8 57.6 208.8 57.1 207.8 56.2 207.2 55.2 207.1 54.5 207.3 53.7 208.0 53.0 209.5 52.2 211.0 52.1 212.5 52.6 213.5 53.4 214.1 54.7 214.0 56.0 213.2 57.0 212.0 57.7M190.5 55.5 189.2 55.7 188.0 55.5 187.0 55.0 186.3 54.2 185.9 53.2 186.0 52.2 186.5 51.2 187.2 50.5 188.5 50.0 190.0 50.0 191.5 50.6 192.7 51.7 193.1 52.7 192.9 53.7 192.0 54.7 190.5 55.5M211.0 57.7 209.8 57.5 208.8 57.0 208.0 56.2 207.4 55.2 207.4 54.2 207.7 53.5 208.5 52.8 209.5 52.4 211.0 52.2 212.2 52.6 213.2 53.3 213.9 54.5 213.9 55.7 213.4 56.7 212.2 57.5 211.0 57.7M190.0 55.5 188.8 55.5 187.8 55.3 186.9 54.7 186.2 53.8 186.1 53.0 186.2 51.9 186.9 51.0 187.8 50.4 189.0 50.1 190.5 50.3 191.8 51.0 192.7 52.2 192.8 53.2 192.2 54.2 191.2 55.0 190.0 55.5M211.8 57.5 210.8 57.5 209.8 57.3 208.8 56.7 208.0 56.0 207.6 55.2 207.6 54.5 207.8 53.7 208.5 53.0 209.8 52.5 211.2 52.4 212.5 52.9 213.3 53.7 213.7 54.7 213.6 56.0 212.9 57.0 211.8 57.5M190.2 55.2 189.0 55.4 188.0 55.2 187.2 54.7 186.5 54.0 186.3 53.2 186.3 52.2 186.8 51.4 187.5 50.7 188.8 50.3 190.2 50.4 191.4 51.0 192.3 52.0 192.6 53.0 192.3 53.7 191.5 54.6 190.2 55.2M212.0 57.2 211.0 57.4 210.0 57.2 209.2 56.9 208.4 56.2 207.9 55.5 207.8 54.7 207.9 54.0 208.5 53.2 209.5 52.7 210.8 52.5 212.0 52.8 213.0 53.5 213.5 54.5 213.5 55.7 213.0 56.6 212.0 57.2M189.5 55.2 188.5 55.1 187.5 54.7 186.8 54.0 186.5 53.2 186.5 52.2 186.9 51.5 187.8 50.8 188.8 50.4 190.0 50.5 191.1 51.0 191.9 51.7 192.3 52.7 192.2 53.5 191.5 54.4 190.5 55.0 189.5 55.2M211.5 57.2 210.5 57.2 209.8 57.0 208.4 56.0 208.1 55.2 208.0 54.5 208.3 53.7 208.9 53.2 210.0 52.7 211.2 52.7 212.4 53.2 213.1 54.0 213.4 55.0 213.2 56.0 212.5 56.8 211.5 57.2M189.8 55.0 188.8 55.0 187.8 54.7 187.2 54.2 186.7 53.5 186.6 52.7 186.8 52.0 187.4 51.2 188.2 50.7 189.2 50.6 190.5 50.8 191.4 51.5 192.0 52.2 192.0 53.2 191.6 54.0 190.8 54.7 189.8 55.0M211.8 57.0 211.0 57.1 210.0 56.9 208.7 56.0 208.2 54.7 208.4 54.0 208.8 53.5 209.8 53.0 211.0 52.9 212.0 53.2 212.8 53.8 213.2 54.7 213.1 55.7 212.7 56.5 211.8 57.0" fill="none" stroke="#111" stroke-width="0.6" stroke-linejoin="round"/></g>
<ellipse cx="182.8" cy="99.4" rx="1.3" ry="1.2" fill="none" stroke="#222" stroke-width="0.6"/>
<path d="M162.5 32.0h1.5M162.5 34.5h1.5M162.5 37.0h1.5M162.5 39.5h1.5M162.5 42.0h1.5M162.5 44.5h1.5M162.5 47.0h1.5M162.5 49.5h1.5M162.5 52.0h1.5M162.5 54.5h1.5M162.5 57.0h1.5M162.5 59.5h1.5M162.5 62.0h1.5M162.5 64.5h1.5M162.5 67.0h1.5M162.5 69.5h1.5M162.5 72.0h1.5M162.5 74.5h1.5M162.5 77.0h1.5M162.5 79.5h1.5M162.5 82.0h1.5M162.5 84.5h1.5M162.5 87.0h1.5M162.5 89.5h1.5M162.5 92.0h1.5M162.5 94.5h1.5M162.5 97.0h1.5M162.5 99.5h1.5M162.5 102.0h1.5M162.5 104.5h1.5M162.5 107.0h1.5M162.5 109.5h1.5" stroke="#444" stroke-width="0.5" fill="none"/>
<path d="M166.0 112.3v1.5M168.5 112.3v1.5M171.0 112.3v1.5M173.5 112.3v1.5M176.0 112.3v1.5M178.5 112.3v1.5M181.0 112.3v1.5M183.5 112.3v1.5M186.0 112.3v1.5M188.5 112.3v1.5M191.0 112.3v1.5M193.5 112.3v1.5M196.0 112.3v1.5M198.5 112.3v1.5M201.0 112.3v1.5M203.5 112.3v1.5M206.0 112.3v1.5M208.5 112.3v1.5M211.0 112.3v1.5M213.5 112.3v1.5M216.0 112.3v1.5M218.5 112.3v1.5M221.0 112.3v1.5M223.5 112.3v1.5M226.0 112.3v1.5M228.5 112.3v1.5M231.0 112.3v1.5M233.5 112.3v1.5M236.0 112.3v1.5M238.5 112.3v1.5M241.0 112.3v1.5M243.5 112.3v1.5" stroke="#666" stroke-width="0.5" fill="none"/>
<rect x="163.2" y="95" width="1.2" height="16" fill="#111"/>
<rect x="164.00" y="30.20" width="82.60" height="82.10" fill="none" stroke="#888" stroke-width="0.8" />
<line x1="164.00" y1="30.20" x2="164.00" y2="112.30" stroke="#333" stroke-width="1" />
<text transform="translate(158.80 42.10) scale(0.85 1)" font-size="9.3" fill="#333" text-anchor="end" stroke="#333" stroke-width="0.25" >10<tspan dy="-3.6" font-size="6.4">5</tspan></text>
<text transform="translate(158.80 60.10) scale(0.85 1)" font-size="9.3" fill="#333" text-anchor="end" stroke="#333" stroke-width="0.25" >10<tspan dy="-3.6" font-size="6.4">4</tspan></text>
<text transform="translate(158.80 78.50) scale(0.85 1)" font-size="9.3" fill="#333" text-anchor="end" stroke="#333" stroke-width="0.25" >10<tspan dy="-3.6" font-size="6.4">3</tspan></text>
<text transform="translate(158.80 105.10) scale(0.85 1)" font-size="9.3" fill="#333" text-anchor="end" stroke="#333" stroke-width="0.25" >0</text>
<text transform="translate(168.90 125.40) scale(0.85 1)" font-size="9.3" fill="#333" text-anchor="middle" stroke="#333" stroke-width="0.25" >-10<tspan dy="-3.6" font-size="6.4">3</tspan></text>
<text transform="translate(182.00 125.40) scale(0.85 1)" font-size="9.3" fill="#333" text-anchor="middle" stroke="#333" stroke-width="0.25" >0</text>
<text transform="translate(201.20 125.40) scale(0.85 1)" font-size="9.3" fill="#333" text-anchor="middle" stroke="#333" stroke-width="0.25" >10<tspan dy="-3.6" font-size="6.4">3</tspan></text>
<text transform="translate(222.00 125.40) scale(0.85 1)" font-size="9.3" fill="#333" text-anchor="middle" stroke="#333" stroke-width="0.25" >10<tspan dy="-3.6" font-size="6.4">4</tspan></text>
<text transform="translate(240.00 125.40) scale(0.85 1)" font-size="9.3" fill="#333" text-anchor="middle" stroke="#333" stroke-width="0.25" >10<tspan dy="-3.6" font-size="6.4">5</tspan></text>
<line x1="137.10" y1="135.50" x2="137.10" y2="97.30" stroke="#222" stroke-width="1.1" />
<line x1="136.55" y1="135.50" x2="176.00" y2="135.50" stroke="#222" stroke-width="1.1" />
<polygon points="137.10,93.30 134.50,99.30 139.70,99.30" fill="#222"/>
<polygon points="180.00,135.50 174.00,132.90 174.00,138.10" fill="#222"/>
<text transform="translate(140.63 89.60) rotate(-90)" font-size="9.8" fill="#222" textLength="16.599999999999994" lengthAdjust="spacingAndGlyphs" stroke="#222" stroke-width="0.22" >C-Kit</text>
<text transform="translate(184.00 139.10)" font-size="9.8" fill="#222" textLength="18.2" lengthAdjust="spacingAndGlyphs" stroke="#222" stroke-width="0.22" >Sca-1</text>
<rect x="203.70" y="36.60" width="36.90" height="29.40" fill="none" stroke="#2b2bf0" stroke-width="1.05" />
<text transform="translate(215.00 45.80)" font-size="8.4" fill="#2b2bf0" textLength="14.5" lengthAdjust="spacingAndGlyphs" stroke="#2b2bf0" stroke-width="0.22" >HSC</text>
<text transform="translate(214.30 57.00)" font-size="8.4" fill="#2b2bf0" textLength="22.5" lengthAdjust="spacingAndGlyphs" stroke="#2b2bf0" stroke-width="0.22" >45.5%</text>
<line x1="240.60" y1="45.20" x2="254.90" y2="45.20" stroke="#2b2bf0" stroke-width="1.2" />
<polygon points="260.60,45.20 254.60,47.80 254.60,42.60" fill="#2b2bf0"/>
<path d="M288.50,112.2 L288.50,112.00C288.83,111.83 289.80,111.92 290.50,111.00C291.20,110.08 291.98,110.67 292.70,106.50C293.42,102.33 294.10,92.42 294.80,86.00C295.50,79.58 296.18,71.92 296.90,68.00C297.62,64.08 298.48,62.92 299.10,62.50C299.72,62.08 300.08,63.25 300.60,65.50C301.12,67.75 301.68,72.67 302.20,76.00C302.72,79.33 303.25,84.57 303.70,85.50C304.15,86.43 304.58,82.10 304.90,81.60C305.22,81.10 305.27,81.13 305.60,82.50C305.93,83.87 306.45,89.65 306.90,89.80C307.35,89.95 307.92,84.60 308.30,83.40C308.68,82.20 308.85,82.00 309.20,82.60C309.55,83.20 309.97,85.35 310.40,87.00C310.83,88.65 311.22,90.58 311.80,92.50C312.38,94.42 313.02,96.72 313.90,98.50C314.78,100.28 316.02,102.35 317.10,103.20C318.18,104.05 319.22,104.20 320.40,103.60C321.58,103.00 322.92,101.25 324.20,99.60C325.48,97.95 327.02,93.72 328.10,93.70C329.18,93.68 329.73,97.32 330.70,99.50C331.67,101.68 332.62,105.07 333.90,106.80C335.18,108.53 336.78,109.17 338.40,109.90C340.02,110.63 341.67,110.87 343.60,111.20C345.53,111.53 347.93,111.75 350.00,111.90C352.07,112.05 355.00,112.07 356.00,112.10 L356.00,112.2 Z" fill="#d8667f" stroke="#b3193c" stroke-width="1.1"/>
<rect x="285.4" y="31.4" width="19.6" height="80.8" fill="#84b25f" opacity="0.30"/>
<rect x="320.1" y="31.4" width="28.7" height="80.8" fill="#53a01a" opacity="0.48"/>
<rect x="285.4" y="60.4" width="19.6" height="1.4" fill="#9cc585" opacity="0.9"/>
<rect x="320.1" y="57.6" width="28.7" height="1.4" fill="#7eb85c" opacity="0.9"/>
<path d="M281.5 32.0h1.5M281.5 34.7h1.5M281.5 37.4h1.5M281.5 40.1h1.5M281.5 42.8h1.5M281.5 45.5h1.5M281.5 48.2h1.5M281.5 50.9h1.5M281.5 53.6h1.5M281.5 56.3h1.5M281.5 59.0h1.5M281.5 61.7h1.5M281.5 64.4h1.5M281.5 67.1h1.5M281.5 69.8h1.5M281.5 72.5h1.5M281.5 75.2h1.5M281.5 77.9h1.5M281.5 80.6h1.5M281.5 83.3h1.5M281.5 86.0h1.5M281.5 88.7h1.5M281.5 91.4h1.5M281.5 94.1h1.5M281.5 96.8h1.5M281.5 99.5h1.5M281.5 102.2h1.5M281.5 104.9h1.5M281.5 107.6h1.5M281.5 110.3h1.5" stroke="#333" stroke-width="0.5" fill="none"/>
<path d="M285.0 112.3v1.5M287.6 112.3v1.5M290.2 112.3v1.5M292.8 112.3v1.5M295.4 112.3v1.5M298.0 112.3v1.5M300.6 112.3v1.5M303.2 112.3v1.5M305.8 112.3v1.5M308.4 112.3v1.5M311.0 112.3v1.5M313.6 112.3v1.5M316.2 112.3v1.5M318.8 112.3v1.5M321.4 112.3v1.5M324.0 112.3v1.5M326.6 112.3v1.5M329.2 112.3v1.5M331.8 112.3v1.5M334.4 112.3v1.5M337.0 112.3v1.5M339.6 112.3v1.5M342.2 112.3v1.5M344.8 112.3v1.5M347.4 112.3v1.5M350.0 112.3v1.5M352.6 112.3v1.5M355.2 112.3v1.5M357.8 112.3v1.5M360.4 112.3v1.5" stroke="#333" stroke-width="0.5" fill="none"/>
<line x1="283.00" y1="30.60" x2="283.00" y2="112.30" stroke="#222" stroke-width="1" />
<rect x="283.00" y="30.60" width="79.50" height="81.70" fill="none" stroke="#222" stroke-width="0.9" />
<text transform="translate(278.80 34.10) scale(0.85 1)" font-size="9.3" fill="#333" text-anchor="end" stroke="#333" stroke-width="0.25" >15</text>
<text transform="translate(278.80 61.10) scale(0.85 1)" font-size="9.3" fill="#333" text-anchor="end" stroke="#333" stroke-width="0.25" >10</text>
<text transform="translate(278.80 88.40) scale(0.85 1)" font-size="9.3" fill="#333" text-anchor="end" stroke="#333" stroke-width="0.25" >5.0</text>
<text transform="translate(278.80 115.10) scale(0.85 1)" font-size="9.3" fill="#333" text-anchor="end" stroke="#333" stroke-width="0.25" >0</text>
<text transform="translate(295.80 125.40) scale(0.85 1)" font-size="9.3" fill="#333" text-anchor="middle" stroke="#333" stroke-width="0.25" >0</text>
<text transform="translate(318.90 125.40) scale(0.85 1)" font-size="9.3" fill="#333" text-anchor="middle" stroke="#333" stroke-width="0.25" >10<tspan dy="-3.6" font-size="6.4">3</tspan></text>
<text transform="translate(338.50 125.40) scale(0.85 1)" font-size="9.3" fill="#333" text-anchor="middle" stroke="#333" stroke-width="0.25" >10<tspan dy="-3.6" font-size="6.4">4</tspan></text>
<text transform="translate(356.20 125.40) scale(0.85 1)" font-size="9.3" fill="#333" text-anchor="middle" stroke="#333" stroke-width="0.25" >10<tspan dy="-3.6" font-size="6.4">5</tspan></text>
<line x1="256.00" y1="135.50" x2="256.00" y2="97.00" stroke="#222" stroke-width="1.1" />
<line x1="255.45" y1="135.50" x2="290.50" y2="135.50" stroke="#222" stroke-width="1.1" />
<polygon points="256.00,93.00 253.40,99.00 258.60,99.00" fill="#222"/>
<polygon points="294.50,135.50 288.50,132.90 288.50,138.10" fill="#222"/>
<text transform="translate(259.53 89.60) rotate(-90)" font-size="9.8" fill="#222" textLength="17.599999999999994" lengthAdjust="spacingAndGlyphs" stroke="#222" stroke-width="0.22" >Cell#</text>
<text transform="translate(298.80 139.10)" font-size="9.6" fill="#222" textLength="30.6" lengthAdjust="spacingAndGlyphs" stroke="#222" stroke-width="0.22" >H2B-GFP</text>
<line x1="292.00" y1="36.60" x2="374.00" y2="36.60" stroke="#3c348f" stroke-width="1.3" />
<line x1="292.00" y1="36.00" x2="292.00" y2="48.80" stroke="#3c348f" stroke-width="1.3" />
<line x1="333.00" y1="36.00" x2="333.00" y2="48.80" stroke="#3c348f" stroke-width="1.3" />
<polygon points="379.50,36.60 373.00,33.80 373.00,39.40" fill="#3c348f"/>
<text transform="translate(285.00 59.70)" font-size="8.8" fill="#3c348f" textLength="24.5" lengthAdjust="spacingAndGlyphs" stroke="#3c348f" stroke-width="0.22" >GFP<tspan dy="-3.6" font-size="6.4">low</tspan></text>
<text transform="translate(285.00 69.30)" font-size="8.6" fill="#3c348f" textLength="22.5" lengthAdjust="spacingAndGlyphs" stroke="#3c348f" stroke-width="0.22" >46.2%</text>
<text transform="translate(323.50 57.20)" font-size="8.8" fill="#3c348f" textLength="26.5" lengthAdjust="spacingAndGlyphs" stroke="#3c348f" stroke-width="0.22" >GFP<tspan dy="-3.6" font-size="6.4">high</tspan></text>
<text transform="translate(322.80 66.50)" font-size="8.6" fill="#3c348f" textLength="22.5" lengthAdjust="spacingAndGlyphs" stroke="#3c348f" stroke-width="0.22" >21.8%</text>
<path d="M405 111.6 L440 111.4 C446 111.2 449.5 109.5 451.5 104 C453 90 454.3 60 455.4 52.3 C456.6 60 457.8 88 459.3 102 C460.5 109 462.5 111.3 468 111.7 L484 111.8 L484 112 L405 112Z" fill="#5d6fa3" fill-opacity="0.75" stroke="#3b56a0" stroke-width="0.9"/>
<path d="M405 111.8 L444 111.7 C449 111.4 452 109.5 453.5 103 C455 88 456.2 58 457.2 50.6 C458.5 58 459.8 86 461.5 101 C463 108.5 465 111.2 470 111.8 L484 111.9 L484 112 L405 112Z" fill="#c0405f" fill-opacity="0.55" stroke="#c41e45" stroke-width="0.9"/>
<path d="M405 111.6 L440 111.4 C446 111.2 449.5 109.5 451.5 104 C453 90 454.3 60 455.4 52.3" fill="none" stroke="#3b56a0" stroke-width="0.9"/>
<path d="M406.0 112.3v1.5M408.6 112.3v1.5M411.2 112.3v1.5M413.8 112.3v1.5M416.4 112.3v1.5M419.0 112.3v1.5M421.6 112.3v1.5M424.2 112.3v1.5M426.8 112.3v1.5M429.4 112.3v1.5M432.0 112.3v1.5M434.6 112.3v1.5M437.2 112.3v1.5M439.8 112.3v1.5M442.4 112.3v1.5M445.0 112.3v1.5M447.6 112.3v1.5M450.2 112.3v1.5M452.8 112.3v1.5M455.4 112.3v1.5M458.0 112.3v1.5M460.6 112.3v1.5M463.2 112.3v1.5M465.8 112.3v1.5M468.4 112.3v1.5M471.0 112.3v1.5M473.6 112.3v1.5M476.2 112.3v1.5M478.8 112.3v1.5M481.4 112.3v1.5" stroke="#333" stroke-width="0.5" fill="none"/>
<path d="M410 112.4 h10 M425 112.4 h6" stroke="#222" stroke-width="1.2"/>
<rect x="404.00" y="30.60" width="81.40" height="81.70" fill="none" stroke="#222" stroke-width="0.9" />
<text transform="translate(399.00 37.60) scale(0.85 1)" font-size="9.3" fill="#333" text-anchor="end" stroke="#333" stroke-width="0.25" >100</text>
<text transform="translate(399.00 53.10) scale(0.85 1)" font-size="9.3" fill="#333" text-anchor="end" stroke="#333" stroke-width="0.25" >80</text>
<text transform="translate(399.00 68.60) scale(0.85 1)" font-size="9.3" fill="#333" text-anchor="end" stroke="#333" stroke-width="0.25" >60</text>
<text transform="translate(399.00 84.10) scale(0.85 1)" font-size="9.3" fill="#333" text-anchor="end" stroke="#333" stroke-width="0.25" >40</text>
<text transform="translate(399.00 99.70) scale(0.85 1)" font-size="9.3" fill="#333" text-anchor="end" stroke="#333" stroke-width="0.25" >20</text>
<text transform="translate(399.00 115.10) scale(0.85 1)" font-size="9.3" fill="#333" text-anchor="end" stroke="#333" stroke-width="0.25" >0</text>
<text transform="translate(422.00 125.40) scale(0.85 1)" font-size="9.3" fill="#333" text-anchor="middle" stroke="#333" stroke-width="0.25" >0</text>
<text transform="translate(440.20 125.40) scale(0.85 1)" font-size="9.3" fill="#333" text-anchor="middle" stroke="#333" stroke-width="0.25" >10<tspan dy="-3.6" font-size="6.4">3</tspan></text>
<text transform="translate(460.00 125.40) scale(0.85 1)" font-size="9.3" fill="#333" text-anchor="middle" stroke="#333" stroke-width="0.25" >10<tspan dy="-3.6" font-size="6.4">4</tspan></text>
<text transform="translate(478.20 125.40) scale(0.85 1)" font-size="9.3" fill="#333" text-anchor="middle" stroke="#333" stroke-width="0.25" >10<tspan dy="-3.6" font-size="6.4">5</tspan></text>
<line x1="376.50" y1="135.50" x2="376.50" y2="98.00" stroke="#222" stroke-width="1.1" />
<line x1="375.95" y1="135.50" x2="410.00" y2="135.50" stroke="#222" stroke-width="1.1" />
<polygon points="376.50,94.00 373.90,100.00 379.10,100.00" fill="#222"/>
<polygon points="414.00,135.50 408.00,132.90 408.00,138.10" fill="#222"/>
<text transform="translate(380.03 88.00) rotate(-90)" font-size="9.8" fill="#222" textLength="30.6" lengthAdjust="spacingAndGlyphs" stroke="#222" stroke-width="0.22" >% of max</text>
<text transform="translate(418.00 138.60)" font-size="9.8" fill="#222" textLength="39.7" lengthAdjust="spacingAndGlyphs" stroke="#222" stroke-width="0.22" >Aggregates</text>
<rect x="408.80" y="36.60" width="7.20" height="6.40" fill="#d9899b" stroke="#c0304a" stroke-width="0.8" />
<rect x="408.80" y="50.00" width="7.20" height="6.40" fill="#8a9cc4" stroke="#3d5b9c" stroke-width="0.8" />
<text transform="translate(418.50 42.80)" font-size="8.8" fill="#333" textLength="24" lengthAdjust="spacingAndGlyphs" stroke="#333" stroke-width="0.22" >GFP<tspan dy="-3.6" font-size="6.4">low</tspan></text>
<text transform="translate(418.50 56.30)" font-size="8.8" fill="#333" textLength="26" lengthAdjust="spacingAndGlyphs" stroke="#333" stroke-width="0.22" >GFP<tspan dy="-3.6" font-size="6.4">high</tspan></text>
<text transform="translate(8.00 167.30)" font-size="12" fill="#000" font-weight="bold" >B</text>
<rect x="52.00" y="236.00" width="23.80" height="52.00" fill="#6ba542" />
<rect x="87.00" y="214.60" width="23.80" height="73.40" fill="#b9d39d" />
<line x1="46.20" y1="182.30" x2="46.20" y2="288.50" stroke="#222" stroke-width="1.1" />
<line x1="45.70" y1="288.00" x2="115.00" y2="288.00" stroke="#222" stroke-width="1.1" />
<line x1="43.20" y1="184.50" x2="46.20" y2="184.50" stroke="#222" stroke-width="1" />
<text transform="translate(40.50 187.40)" font-size="8.2" fill="#333" text-anchor="end" stroke="#333" stroke-width="0.08" >1.5</text>
<line x1="43.20" y1="205.40" x2="46.20" y2="205.40" stroke="#222" stroke-width="1" />
<text transform="translate(40.50 208.30)" font-size="8.2" fill="#333" text-anchor="end" stroke="#333" stroke-width="0.08" >1.2</text>
<line x1="43.20" y1="226.00" x2="46.20" y2="226.00" stroke="#222" stroke-width="1" />
<text transform="translate(40.50 228.90)" font-size="8.2" fill="#333" text-anchor="end" stroke="#333" stroke-width="0.08" >0.9</text>
<line x1="43.20" y1="247.00" x2="46.20" y2="247.00" stroke="#222" stroke-width="1" />
<text transform="translate(40.50 249.90)" font-size="8.2" fill="#333" text-anchor="end" stroke="#333" stroke-width="0.08" >0.6</text>
<line x1="43.20" y1="267.70" x2="46.20" y2="267.70" stroke="#222" stroke-width="1" />
<text transform="translate(40.50 270.60)" font-size="8.2" fill="#333" text-anchor="end" stroke="#333" stroke-width="0.08" >0.3</text>
<line x1="43.20" y1="288.00" x2="46.20" y2="288.00" stroke="#222" stroke-width="1" />
<text transform="translate(40.50 290.90)" font-size="8.2" fill="#333" text-anchor="end" stroke="#333" stroke-width="0.08" >0.0</text>
<line x1="63.80" y1="288.00" x2="63.80" y2="291.00" stroke="#222" stroke-width="1" />
<line x1="98.80" y1="288.00" x2="98.80" y2="291.00" stroke="#222" stroke-width="1" />
<line x1="63.80" y1="230.00" x2="63.80" y2="242.30" stroke="#222" stroke-width="1.0" />
<line x1="58.30" y1="230.00" x2="69.30" y2="230.00" stroke="#222" stroke-width="1.0" />
<line x1="58.30" y1="242.30" x2="69.30" y2="242.30" stroke="#222" stroke-width="1.0" />
<circle cx="61.20" cy="230.80" r="1.6" fill="#fff" stroke="#222" stroke-width="0.9"/>
<circle cx="66.00" cy="234.20" r="1.6" fill="#fff" stroke="#222" stroke-width="0.9"/>
<circle cx="63.80" cy="243.30" r="1.6" fill="#fff" stroke="#222" stroke-width="0.9"/>
<line x1="98.80" y1="213.00" x2="98.80" y2="216.50" stroke="#222" stroke-width="1.0" />
<line x1="93.30" y1="213.00" x2="104.30" y2="213.00" stroke="#222" stroke-width="1.0" />
<line x1="93.30" y1="216.50" x2="104.30" y2="216.50" stroke="#222" stroke-width="1.0" />
<circle cx="95.20" cy="213.40" r="1.6" fill="#fff" stroke="#222" stroke-width="0.9"/>
<circle cx="98.60" cy="216.20" r="1.6" fill="#fff" stroke="#222" stroke-width="0.9"/>
<circle cx="102.30" cy="214.60" r="1.6" fill="#fff" stroke="#222" stroke-width="0.9"/>
<text transform="translate(80.50 188.00)" font-size="7.5" fill="#333" text-anchor="middle" textLength="19" lengthAdjust="spacingAndGlyphs" stroke="#333" stroke-width="0.08" >(n=3)</text>
<text transform="translate(68.80 204.00)" font-size="8.2" fill="#333" font-style="italic" textLength="30" lengthAdjust="spacingAndGlyphs" stroke="#333" stroke-width="0.08" >p=0.004</text>
<line x1="65.80" y1="208.40" x2="101.50" y2="208.40" stroke="#222" stroke-width="1" />
<text transform="translate(63.00 304.60)" font-size="8.2" fill="#333" text-anchor="middle" textLength="30" lengthAdjust="spacingAndGlyphs" stroke="#333" stroke-width="0.08" >GFP<tspan dy="-3.4" font-size="5.6">High</tspan></text>
<text transform="translate(98.80 304.60)" font-size="8.2" fill="#333" text-anchor="middle" textLength="28" lengthAdjust="spacingAndGlyphs" stroke="#333" stroke-width="0.08" >GFP<tspan dy="-3.4" font-size="5.6">Low</tspan></text>
<text transform="translate(22.84 268.60) rotate(-90)" font-size="9" fill="#333" textLength="67.60000000000002" lengthAdjust="spacingAndGlyphs" stroke="#333" stroke-width="0.08" >Level of aggregates</text>
<text transform="translate(131.80 167.30)" font-size="12" fill="#000" font-weight="bold" >C</text>
<rect x="181.20" y="236.20" width="21.00" height="52.00" fill="#b9d39d" />
<rect x="212.40" y="213.80" width="20.30" height="74.40" fill="#6ba542" />
<line x1="172.00" y1="191.50" x2="172.00" y2="288.70" stroke="#222" stroke-width="1.1" />
<line x1="171.50" y1="288.20" x2="237.30" y2="288.20" stroke="#222" stroke-width="1.1" />
<line x1="169.00" y1="193.40" x2="172.00" y2="193.40" stroke="#222" stroke-width="1" />
<text transform="translate(166.80 196.30)" font-size="8.2" fill="#333" text-anchor="end" stroke="#333" stroke-width="0.08" >1.5</text>
<line x1="169.00" y1="225.00" x2="172.00" y2="225.00" stroke="#222" stroke-width="1" />
<text transform="translate(166.80 227.90)" font-size="8.2" fill="#333" text-anchor="end" stroke="#333" stroke-width="0.08" >1.0</text>
<line x1="169.00" y1="256.50" x2="172.00" y2="256.50" stroke="#222" stroke-width="1" />
<text transform="translate(166.80 259.40)" font-size="8.2" fill="#333" text-anchor="end" stroke="#333" stroke-width="0.08" >0.5</text>
<line x1="169.00" y1="288.20" x2="172.00" y2="288.20" stroke="#222" stroke-width="1" />
<text transform="translate(166.80 291.10)" font-size="8.2" fill="#333" text-anchor="end" stroke="#333" stroke-width="0.08" >0.0</text>
<line x1="191.80" y1="288.00" x2="191.80" y2="291.00" stroke="#222" stroke-width="1" />
<line x1="222.60" y1="288.00" x2="222.60" y2="291.00" stroke="#222" stroke-width="1" />
<line x1="191.80" y1="230.50" x2="191.80" y2="242.70" stroke="#222" stroke-width="1.0" />
<line x1="186.30" y1="230.50" x2="197.30" y2="230.50" stroke="#222" stroke-width="1.0" />
<line x1="186.30" y1="242.70" x2="197.30" y2="242.70" stroke="#222" stroke-width="1.0" />
<circle cx="191.80" cy="228.80" r="1.6" fill="#fff" stroke="#222" stroke-width="0.9"/>
<circle cx="187.20" cy="236.20" r="1.6" fill="#fff" stroke="#222" stroke-width="0.9"/>
<circle cx="196.50" cy="235.30" r="1.6" fill="#fff" stroke="#222" stroke-width="0.9"/>
<circle cx="191.80" cy="238.80" r="1.6" fill="#fff" stroke="#222" stroke-width="0.9"/>
<circle cx="191.80" cy="244.50" r="1.6" fill="#fff" stroke="#222" stroke-width="0.9"/>
<line x1="222.80" y1="208.00" x2="222.80" y2="219.60" stroke="#222" stroke-width="1.0" />
<line x1="217.30" y1="208.00" x2="228.30" y2="208.00" stroke="#222" stroke-width="1.0" />
<line x1="217.30" y1="219.60" x2="228.30" y2="219.60" stroke="#222" stroke-width="1.0" />
<circle cx="222.80" cy="205.00" r="1.6" fill="#fff" stroke="#222" stroke-width="0.9"/>
<circle cx="218.20" cy="213.80" r="1.6" fill="#fff" stroke="#222" stroke-width="0.9"/>
<circle cx="227.40" cy="212.70" r="1.6" fill="#fff" stroke="#222" stroke-width="0.9"/>
<circle cx="222.80" cy="216.00" r="1.6" fill="#fff" stroke="#222" stroke-width="0.9"/>
<circle cx="222.80" cy="222.00" r="1.6" fill="#fff" stroke="#222" stroke-width="0.9"/>
<text transform="translate(190.50 196.00)" font-size="8.2" fill="#333" font-style="italic" textLength="34" lengthAdjust="spacingAndGlyphs" stroke="#333" stroke-width="0.08" >p=0.0079</text>
<line x1="186.50" y1="200.00" x2="228.80" y2="200.00" stroke="#222" stroke-width="1" />
<text transform="translate(191.80 303.80)" font-size="8.2" fill="#333" text-anchor="middle" textLength="28" lengthAdjust="spacingAndGlyphs" stroke="#333" stroke-width="0.08" >GFP<tspan dy="-3.4" font-size="5.6">Low</tspan></text>
<text transform="translate(222.30 303.80)" font-size="8.2" fill="#333" text-anchor="middle" textLength="30" lengthAdjust="spacingAndGlyphs" stroke="#333" stroke-width="0.08" >GFP<tspan dy="-3.4" font-size="5.6">High</tspan></text>
<text transform="translate(148.54 278.80) rotate(-90)" font-size="9" fill="#333" textLength="81.80000000000001" lengthAdjust="spacingAndGlyphs" stroke="#333" stroke-width="0.08" >Relative RPKM of <tspan font-style="italic">Sel1l</tspan></text>
<text transform="translate(253.20 167.50)" font-size="12" fill="#000" font-weight="bold" >D</text>
<text transform="translate(305.20 179.60)" font-size="10" fill="#222" textLength="71.3" lengthAdjust="spacingAndGlyphs" stroke="#222" stroke-width="0.08" >GFP<tspan dy="-3.8" font-size="6.5">High</tspan><tspan dy="3.8">/GFP</tspan><tspan dy="-3.8" font-size="6.5">Low</tspan></text>
<text transform="translate(341.00 188.20)" font-size="7.2" fill="#333" text-anchor="middle" textLength="18" lengthAdjust="spacingAndGlyphs" stroke="#333" stroke-width="0.08" >(n=6)</text>
<line x1="290.00" y1="259.20" x2="385.80" y2="259.20" stroke="#c8304a" stroke-width="1.1" stroke-dasharray="1.1 1.3"/>
<line x1="289.60" y1="199.80" x2="289.60" y2="288.50" stroke="#222" stroke-width="1.1" />
<line x1="289.10" y1="288.00" x2="382.00" y2="288.00" stroke="#222" stroke-width="1.1" />
<line x1="286.60" y1="201.40" x2="289.60" y2="201.40" stroke="#222" stroke-width="1" />
<text transform="translate(283.50 204.30)" font-size="8.8" fill="#333" text-anchor="end" stroke="#333" stroke-width="0.08" >4</text>
<line x1="286.60" y1="230.00" x2="289.60" y2="230.00" stroke="#222" stroke-width="1" />
<text transform="translate(283.50 232.90)" font-size="8.8" fill="#333" text-anchor="end" stroke="#333" stroke-width="0.08" >2</text>
<line x1="286.60" y1="259.00" x2="289.60" y2="259.00" stroke="#222" stroke-width="1" />
<text transform="translate(283.50 261.90)" font-size="8.8" fill="#333" text-anchor="end" stroke="#333" stroke-width="0.08" >0</text>
<line x1="286.60" y1="288.00" x2="289.60" y2="288.00" stroke="#222" stroke-width="1" />
<text transform="translate(283.50 290.90)" font-size="8.8" fill="#333" text-anchor="end" stroke="#333" stroke-width="0.08" >-2</text>
<line x1="304.70" y1="288.00" x2="304.70" y2="291.00" stroke="#222" stroke-width="1" />
<line x1="304.70" y1="249.20" x2="304.70" y2="256.00" stroke="#222" stroke-width="1.0" />
<line x1="301.45" y1="249.20" x2="307.95" y2="249.20" stroke="#222" stroke-width="1.0" />
<line x1="301.45" y1="256.00" x2="307.95" y2="256.00" stroke="#222" stroke-width="1.0" />
<line x1="298.70" y1="252.80" x2="310.70" y2="252.80" stroke="#222" stroke-width="1.3" />
<circle cx="304.70" cy="249.50" r="1.7" fill="#111"/>
<circle cx="304.70" cy="251.50" r="1.7" fill="#111"/>
<circle cx="304.70" cy="253.50" r="1.7" fill="#111"/>
<circle cx="304.70" cy="255.50" r="1.7" fill="#111"/>
<circle cx="304.70" cy="259.30" r="1.7" fill="#111"/>
<line x1="319.10" y1="288.00" x2="319.10" y2="291.00" stroke="#222" stroke-width="1" />
<line x1="319.10" y1="253.00" x2="319.10" y2="265.50" stroke="#222" stroke-width="1.0" />
<line x1="315.85" y1="253.00" x2="322.35" y2="253.00" stroke="#222" stroke-width="1.0" />
<line x1="315.85" y1="265.50" x2="322.35" y2="265.50" stroke="#222" stroke-width="1.0" />
<line x1="313.10" y1="259.20" x2="325.10" y2="259.20" stroke="#222" stroke-width="1.3" />
<circle cx="319.10" cy="253.50" r="1.7" fill="#111"/>
<circle cx="319.10" cy="256.50" r="1.7" fill="#111"/>
<circle cx="319.10" cy="259.20" r="1.7" fill="#111"/>
<circle cx="319.10" cy="271.40" r="1.7" fill="#111"/>
<line x1="333.30" y1="288.00" x2="333.30" y2="291.00" stroke="#222" stroke-width="1" />
<line x1="333.30" y1="251.30" x2="333.30" y2="259.80" stroke="#222" stroke-width="1.0" />
<line x1="330.05" y1="251.30" x2="336.55" y2="251.30" stroke="#222" stroke-width="1.0" />
<line x1="330.05" y1="259.80" x2="336.55" y2="259.80" stroke="#222" stroke-width="1.0" />
<line x1="327.30" y1="256.00" x2="339.30" y2="256.00" stroke="#222" stroke-width="1.3" />
<circle cx="333.30" cy="250.60" r="1.7" fill="#111"/>
<circle cx="333.30" cy="253.00" r="1.7" fill="#111"/>
<circle cx="333.30" cy="255.00" r="1.7" fill="#111"/>
<circle cx="333.30" cy="257.50" r="1.7" fill="#111"/>
<circle cx="333.30" cy="260.00" r="1.7" fill="#111"/>
<line x1="347.70" y1="288.00" x2="347.70" y2="291.00" stroke="#222" stroke-width="1" />
<line x1="347.70" y1="251.30" x2="347.70" y2="266.20" stroke="#222" stroke-width="1.0" />
<line x1="344.45" y1="251.30" x2="350.95" y2="251.30" stroke="#222" stroke-width="1.0" />
<line x1="344.45" y1="266.20" x2="350.95" y2="266.20" stroke="#222" stroke-width="1.0" />
<line x1="341.70" y1="258.30" x2="353.70" y2="258.30" stroke="#222" stroke-width="1.3" />
<circle cx="347.70" cy="251.50" r="1.7" fill="#111"/>
<circle cx="347.70" cy="256.00" r="1.7" fill="#111"/>
<circle cx="347.70" cy="259.00" r="1.7" fill="#111"/>
<circle cx="347.70" cy="262.50" r="1.7" fill="#111"/>
<circle cx="347.70" cy="266.00" r="1.7" fill="#111"/>
<line x1="362.10" y1="288.00" x2="362.10" y2="291.00" stroke="#222" stroke-width="1" />
<line x1="362.10" y1="219.60" x2="362.10" y2="263.00" stroke="#222" stroke-width="1.0" />
<line x1="358.85" y1="219.60" x2="365.35" y2="219.60" stroke="#222" stroke-width="1.0" />
<line x1="358.85" y1="263.00" x2="365.35" y2="263.00" stroke="#222" stroke-width="1.0" />
<line x1="356.10" y1="241.40" x2="368.10" y2="241.40" stroke="#222" stroke-width="1.3" />
<circle cx="362.10" cy="201.60" r="1.7" fill="#111"/>
<circle cx="362.10" cy="235.00" r="1.7" fill="#111"/>
<circle cx="362.10" cy="253.00" r="1.7" fill="#111"/>
<line x1="376.50" y1="288.00" x2="376.50" y2="291.00" stroke="#222" stroke-width="1" />
<line x1="376.50" y1="233.40" x2="376.50" y2="259.20" stroke="#222" stroke-width="1.0" />
<line x1="373.25" y1="233.40" x2="379.75" y2="233.40" stroke="#222" stroke-width="1.0" />
<line x1="373.25" y1="259.20" x2="379.75" y2="259.20" stroke="#222" stroke-width="1.0" />
<line x1="370.50" y1="246.50" x2="382.50" y2="246.50" stroke="#222" stroke-width="1.3" />
<circle cx="376.50" cy="234.00" r="1.7" fill="#111"/>
<circle cx="376.50" cy="240.80" r="1.7" fill="#111"/>
<circle cx="376.50" cy="249.20" r="1.7" fill="#111"/>
<circle cx="376.50" cy="253.50" r="1.7" fill="#111"/>
<circle cx="376.50" cy="264.50" r="1.7" fill="#111"/>
<polygon points="362.1,260.2 359.6,264.3 364.6,264.3" fill="#111"/>
<text transform="translate(307.75 242.50) rotate(-90)" font-size="8.4" fill="#333" font-style="italic" textLength="33.5" lengthAdjust="spacingAndGlyphs" stroke="#333" stroke-width="0.08" ><tspan font-style="italic">p</tspan>=0.0032</text>
<text transform="translate(322.10 242.50) rotate(-90)" font-size="8.4" fill="#333" font-style="italic" textLength="21.80000000000001" lengthAdjust="spacingAndGlyphs" stroke="#333" stroke-width="0.08" ><tspan font-style="italic">p</tspan>=0.78</text>
<text transform="translate(336.30 242.50) rotate(-90)" font-size="8.4" fill="#333" font-style="italic" textLength="28.80000000000001" lengthAdjust="spacingAndGlyphs" stroke="#333" stroke-width="0.08" ><tspan font-style="italic">p</tspan>=0.073</text>
<text transform="translate(350.70 242.50) rotate(-90)" font-size="8.4" fill="#333" font-style="italic" textLength="25.0" lengthAdjust="spacingAndGlyphs" stroke="#333" stroke-width="0.08" ><tspan font-style="italic">p</tspan>=0.59</text>
<text transform="translate(380.30 230.60) rotate(-90)" font-size="8.4" fill="#333" font-style="italic" textLength="30" lengthAdjust="spacingAndGlyphs" stroke="#333" stroke-width="0.08" >p=0.032</text>
<text transform="translate(353.70 199.80)" font-size="8.4" fill="#333" font-style="italic" textLength="22.8" lengthAdjust="spacingAndGlyphs" stroke="#333" stroke-width="0.08" >p=0.21</text>
<text transform="translate(310.20 298.50) rotate(-45)" font-size="8.6" fill="#333" text-anchor="end" font-style="italic" stroke="#333" stroke-width="0.08" >Sel1l</text>
<text transform="translate(324.60 298.50) rotate(-45)" font-size="8.6" fill="#333" text-anchor="end" font-style="italic" stroke="#333" stroke-width="0.08" >Herpud1</text>
<text transform="translate(338.80 298.50) rotate(-45)" font-size="8.6" fill="#333" text-anchor="end" font-style="italic" stroke="#333" stroke-width="0.08" >Gp78</text>
<text transform="translate(353.20 298.50) rotate(-45)" font-size="8.6" fill="#333" text-anchor="end" font-style="italic" stroke="#333" stroke-width="0.08" >Vcp</text>
<text transform="translate(367.60 298.50) rotate(-45)" font-size="8.6" fill="#333" text-anchor="end" font-style="italic" stroke="#333" stroke-width="0.08" >Hrd1</text>
<text transform="translate(382.00 298.50) rotate(-45)" font-size="8.6" fill="#333" text-anchor="end" font-style="italic" stroke="#333" stroke-width="0.08" >Gprc5c</text>
<text transform="translate(269.94 300.00) rotate(-90)" font-size="9" fill="#333" textLength="114" lengthAdjust="spacingAndGlyphs" stroke="#333" stroke-width="0.08" >Fold change of expression(Log2)</text>
<text transform="translate(7.70 349.20)" font-size="12" fill="#000" font-weight="bold" >E</text>
<text transform="translate(51.50 357.90)" font-size="10" fill="#222" textLength="99.5" lengthAdjust="spacingAndGlyphs" stroke="#222" stroke-width="0.22" >Gating on live singlets</text>
<path d="M91.0 401.3h0.55v0.55h-0.55zM110.4 379.1h0.55v0.55h-0.55zM98.6 388.3h0.55v0.55h-0.55zM89.2 407.7h0.55v0.55h-0.55zM97.1 392.3h0.55v0.55h-0.55zM86.4 417.0h0.55v0.55h-0.55zM88.1 400.5h0.55v0.55h-0.55zM110.0 385.4h0.55v0.55h-0.55zM112.1 374.3h0.55v0.55h-0.55zM115.2 382.5h0.55v0.55h-0.55zM99.2 372.6h0.55v0.55h-0.55zM93.1 425.2h0.55v0.55h-0.55zM111.0 388.0h0.55v0.55h-0.55zM97.0 394.1h0.55v0.55h-0.55zM111.0 373.6h0.55v0.55h-0.55zM99.6 387.9h0.55v0.55h-0.55zM100.0 376.0h0.55v0.55h-0.55zM117.8 429.8h0.55v0.55h-0.55zM101.8 378.0h0.55v0.55h-0.55zM97.9 375.5h0.55v0.55h-0.55zM92.7 425.5h0.55v0.55h-0.55zM106.7 382.7h0.55v0.55h-0.55zM111.7 387.3h0.55v0.55h-0.55zM103.1 388.4h0.55v0.55h-0.55zM92.4 397.2h0.55v0.55h-0.55zM114.7 373.2h0.55v0.55h-0.55zM109.0 386.0h0.55v0.55h-0.55zM104.2 387.8h0.55v0.55h-0.55zM96.8 394.5h0.55v0.55h-0.55zM90.9 382.8h0.55v0.55h-0.55zM89.9 373.2h0.55v0.55h-0.55zM90.1 417.3h0.55v0.55h-0.55zM114.2 378.5h0.55v0.55h-0.55zM111.7 379.0h0.55v0.55h-0.55zM97.7 398.7h0.55v0.55h-0.55zM117.4 379.0h0.55v0.55h-0.55zM114.3 380.1h0.55v0.55h-0.55zM112.1 380.6h0.55v0.55h-0.55zM119.2 423.6h0.55v0.55h-0.55zM93.2 427.2h0.55v0.55h-0.55zM83.7 394.0h0.55v0.55h-0.55zM94.8 379.0h0.55v0.55h-0.55zM91.0 411.8h0.55v0.55h-0.55zM104.7 430.3h0.55v0.55h-0.55zM105.4 384.4h0.55v0.55h-0.55zM117.6 375.0h0.55v0.55h-0.55zM110.0 368.4h0.55v0.55h-0.55zM91.0 381.9h0.55v0.55h-0.55zM106.2 385.0h0.55v0.55h-0.55zM76.6 408.9h0.55v0.55h-0.55zM108.8 382.8h0.55v0.55h-0.55zM104.7 387.6h0.55v0.55h-0.55zM107.1 379.9h0.55v0.55h-0.55zM103.4 429.3h0.55v0.55h-0.55zM97.8 382.7h0.55v0.55h-0.55zM92.2 392.0h0.55v0.55h-0.55zM109.4 427.8h0.55v0.55h-0.55zM96.5 391.3h0.55v0.55h-0.55zM104.7 389.2h0.55v0.55h-0.55zM105.0 378.7h0.55v0.55h-0.55zM109.5 372.1h0.55v0.55h-0.55zM94.7 403.4h0.55v0.55h-0.55zM109.0 382.1h0.55v0.55h-0.55zM81.7 393.7h0.55v0.55h-0.55zM96.4 382.7h0.55v0.55h-0.55zM103.0 380.6h0.55v0.55h-0.55zM112.4 382.9h0.55v0.55h-0.55zM102.3 385.6h0.55v0.55h-0.55zM109.5 370.0h0.55v0.55h-0.55zM97.1 375.5h0.55v0.55h-0.55zM96.0 389.2h0.55v0.55h-0.55zM95.4 405.5h0.55v0.55h-0.55zM113.8 376.5h0.55v0.55h-0.55zM98.5 391.3h0.55v0.55h-0.55zM91.6 387.0h0.55v0.55h-0.55zM98.6 391.8h0.55v0.55h-0.55zM93.3 400.7h0.55v0.55h-0.55zM104.6 388.5h0.55v0.55h-0.55zM108.6 377.4h0.55v0.55h-0.55zM87.0 410.7h0.55v0.55h-0.55zM100.4 379.8h0.55v0.55h-0.55zM92.5 400.1h0.55v0.55h-0.55zM105.5 380.7h0.55v0.55h-0.55zM110.3 367.7h0.55v0.55h-0.55zM112.6 428.5h0.55v0.55h-0.55zM106.0 429.4h0.55v0.55h-0.55zM95.4 378.2h0.55v0.55h-0.55zM83.0 412.7h0.55v0.55h-0.55zM119.5 382.2h0.55v0.55h-0.55zM92.3 384.0h0.55v0.55h-0.55zM93.0 428.2h0.55v0.55h-0.55zM91.8 404.1h0.55v0.55h-0.55zM87.4 415.3h0.55v0.55h-0.55zM88.2 403.4h0.55v0.55h-0.55zM93.8 427.0h0.55v0.55h-0.55zM118.8 381.4h0.55v0.55h-0.55zM111.2 428.1h0.55v0.55h-0.55zM119.1 381.1h0.55v0.55h-0.55zM107.5 376.4h0.55v0.55h-0.55zM90.8 413.3h0.55v0.55h-0.55zM85.2 395.7h0.55v0.55h-0.55zM93.0 416.0h0.55v0.55h-0.55zM91.8 402.8h0.55v0.55h-0.55zM102.8 387.0h0.55v0.55h-0.55zM107.2 384.4h0.55v0.55h-0.55zM94.1 399.3h0.55v0.55h-0.55zM88.0 368.1h0.55v0.55h-0.55zM107.0 385.1h0.55v0.55h-0.55zM94.7 401.4h0.55v0.55h-0.55zM95.9 390.4h0.55v0.55h-0.55zM96.4 429.7h0.55v0.55h-0.55zM94.9 384.1h0.55v0.55h-0.55zM102.8 390.3h0.55v0.55h-0.55zM103.4 389.4h0.55v0.55h-0.55zM92.4 424.0h0.55v0.55h-0.55zM93.5 375.3h0.55v0.55h-0.55zM87.2 429.1h0.55v0.55h-0.55zM116.8 425.8h0.55v0.55h-0.55zM115.6 381.5h0.55v0.55h-0.55zM104.4 368.0h0.55v0.55h-0.55zM106.9 382.0h0.55v0.55h-0.55zM112.7 384.1h0.55v0.55h-0.55zM109.1 388.1h0.55v0.55h-0.55zM86.4 399.9h0.55v0.55h-0.55zM113.1 375.2h0.55v0.55h-0.55zM93.4 428.7h0.55v0.55h-0.55zM89.8 427.3h0.55v0.55h-0.55zM114.6 426.4h0.55v0.55h-0.55zM96.8 400.8h0.55v0.55h-0.55zM113.3 386.1h0.55v0.55h-0.55zM107.1 385.9h0.55v0.55h-0.55zM106.0 370.0h0.55v0.55h-0.55zM109.7 382.5h0.55v0.55h-0.55zM93.3 407.9h0.55v0.55h-0.55zM100.2 387.5h0.55v0.55h-0.55zM92.2 399.3h0.55v0.55h-0.55zM93.7 406.4h0.55v0.55h-0.55zM96.4 389.7h0.55v0.55h-0.55zM111.6 427.1h0.55v0.55h-0.55zM91.4 404.0h0.55v0.55h-0.55zM108.8 379.2h0.55v0.55h-0.55zM113.1 379.7h0.55v0.55h-0.55zM99.5 431.0h0.55v0.55h-0.55zM115.4 375.1h0.55v0.55h-0.55zM105.8 376.8h0.55v0.55h-0.55zM92.9 430.9h0.55v0.55h-0.55zM112.4 373.5h0.55v0.55h-0.55zM95.0 401.3h0.55v0.55h-0.55zM106.6 386.0h0.55v0.55h-0.55zM98.1 381.6h0.55v0.55h-0.55zM105.5 387.5h0.55v0.55h-0.55zM105.0 371.1h0.55v0.55h-0.55zM116.0 429.2h0.55v0.55h-0.55zM106.1 380.2h0.55v0.55h-0.55zM99.6 377.7h0.55v0.55h-0.55zM89.4 410.0h0.55v0.55h-0.55zM118.7 382.3h0.55v0.55h-0.55zM100.2 382.8h0.55v0.55h-0.55zM112.0 371.0h0.55v0.55h-0.55zM97.5 398.8h0.55v0.55h-0.55zM106.9 374.2h0.55v0.55h-0.55zM103.1 377.7h0.55v0.55h-0.55zM111.4 376.8h0.55v0.55h-0.55zM89.3 401.7h0.55v0.55h-0.55zM94.4 411.9h0.55v0.55h-0.55zM106.2 381.0h0.55v0.55h-0.55zM114.7 427.8h0.55v0.55h-0.55zM91.8 397.3h0.55v0.55h-0.55zM104.1 388.0h0.55v0.55h-0.55zM91.0 396.1h0.55v0.55h-0.55zM113.1 385.7h0.55v0.55h-0.55zM81.6 412.4h0.55v0.55h-0.55zM90.5 372.6h0.55v0.55h-0.55zM97.6 376.4h0.55v0.55h-0.55zM117.9 380.6h0.55v0.55h-0.55zM113.6 384.9h0.55v0.55h-0.55zM95.4 401.9h0.55v0.55h-0.55zM85.3 424.0h0.55v0.55h-0.55zM110.1 385.3h0.55v0.55h-0.55zM105.1 386.4h0.55v0.55h-0.55zM90.8 396.2h0.55v0.55h-0.55zM93.9 417.9h0.55v0.55h-0.55zM101.0 380.7h0.55v0.55h-0.55zM89.5 426.8h0.55v0.55h-0.55zM106.0 373.9h0.55v0.55h-0.55zM108.1 375.3h0.55v0.55h-0.55zM115.1 383.7h0.55v0.55h-0.55zM96.1 398.3h0.55v0.55h-0.55zM98.7 374.7h0.55v0.55h-0.55zM94.5 401.0h0.55v0.55h-0.55zM94.5 414.6h0.55v0.55h-0.55zM118.1 380.0h0.55v0.55h-0.55zM111.4 378.4h0.55v0.55h-0.55zM91.9 427.1h0.55v0.55h-0.55zM91.9 395.5h0.55v0.55h-0.55zM82.2 420.4h0.55v0.55h-0.55zM110.7 379.4h0.55v0.55h-0.55zM112.6 378.4h0.55v0.55h-0.55zM118.9 382.2h0.55v0.55h-0.55zM119.5 422.9h0.55v0.55h-0.55zM115.6 384.1h0.55v0.55h-0.55zM86.9 407.3h0.55v0.55h-0.55zM86.3 387.1h0.55v0.55h-0.55zM109.5 385.7h0.55v0.55h-0.55zM112.9 382.5h0.55v0.55h-0.55zM89.9 419.2h0.55v0.55h-0.55zM106.7 375.9h0.55v0.55h-0.55zM94.2 418.9h0.55v0.55h-0.55zM117.8 384.7h0.55v0.55h-0.55zM108.8 430.8h0.55v0.55h-0.55zM117.7 378.3h0.55v0.55h-0.55zM109.7 380.8h0.55v0.55h-0.55zM111.0 375.6h0.55v0.55h-0.55zM116.4 384.9h0.55v0.55h-0.55zM98.5 389.3h0.55v0.55h-0.55zM88.7 381.6h0.55v0.55h-0.55zM85.1 381.2h0.55v0.55h-0.55zM91.2 386.7h0.55v0.55h-0.55zM105.8 371.3h0.55v0.55h-0.55zM119.5 378.2h0.55v0.55h-0.55zM96.1 408.0h0.55v0.55h-0.55zM110.4 429.4h0.55v0.55h-0.55zM85.6 390.5h0.55v0.55h-0.55zM110.6 385.9h0.55v0.55h-0.55zM102.6 380.8h0.55v0.55h-0.55zM115.9 383.3h0.55v0.55h-0.55zM96.9 403.6h0.55v0.55h-0.55zM109.4 375.9h0.55v0.55h-0.55zM106.6 377.1h0.55v0.55h-0.55zM109.8 380.1h0.55v0.55h-0.55zM95.0 389.9h0.55v0.55h-0.55zM94.7 402.6h0.55v0.55h-0.55zM94.8 429.8h0.55v0.55h-0.55zM89.6 372.1h0.55v0.55h-0.55zM83.8 420.4h0.55v0.55h-0.55zM111.7 377.1h0.55v0.55h-0.55zM113.9 381.3h0.55v0.55h-0.55zM102.6 429.7h0.55v0.55h-0.55zM117.6 430.7h0.55v0.55h-0.55zM96.4 393.0h0.55v0.55h-0.55zM115.4 376.1h0.55v0.55h-0.55zM114.6 385.0h0.55v0.55h-0.55zM95.9 394.6h0.55v0.55h-0.55zM87.9 412.9h0.55v0.55h-0.55zM90.1 411.5h0.55v0.55h-0.55zM108.0 380.1h0.55v0.55h-0.55zM101.3 379.9h0.55v0.55h-0.55zM88.8 431.0h0.55v0.55h-0.55zM96.1 398.2h0.55v0.55h-0.55zM104.5 381.8h0.55v0.55h-0.55zM99.0 381.5h0.55v0.55h-0.55zM111.4 428.2h0.55v0.55h-0.55zM113.6 378.6h0.55v0.55h-0.55zM83.6 380.4h0.55v0.55h-0.55zM95.7 406.1h0.55v0.55h-0.55zM113.9 372.9h0.55v0.55h-0.55zM109.1 382.2h0.55v0.55h-0.55zM111.2 380.4h0.55v0.55h-0.55zM114.1 379.7h0.55v0.55h-0.55zM100.6 387.5h0.55v0.55h-0.55zM88.0 400.2h0.55v0.55h-0.55zM101.4 429.2h0.55v0.55h-0.55zM94.0 427.5h0.55v0.55h-0.55zM105.3 378.2h0.55v0.55h-0.55zM108.7 387.7h0.55v0.55h-0.55zM108.0 377.1h0.55v0.55h-0.55zM99.8 380.9h0.55v0.55h-0.55zM94.4 387.3h0.55v0.55h-0.55zM83.0 384.4h0.55v0.55h-0.55zM91.1 405.2h0.55v0.55h-0.55zM89.1 387.5h0.55v0.55h-0.55zM106.1 378.4h0.55v0.55h-0.55zM89.9 424.1h0.55v0.55h-0.55zM93.5 397.8h0.55v0.55h-0.55zM103.9 376.5h0.55v0.55h-0.55zM88.5 382.1h0.55v0.55h-0.55zM98.5 384.8h0.55v0.55h-0.55zM96.5 404.1h0.55v0.55h-0.55zM102.1 387.3h0.55v0.55h-0.55zM105.6 387.7h0.55v0.55h-0.55zM102.4 378.3h0.55v0.55h-0.55zM114.6 383.7h0.55v0.55h-0.55zM104.2 387.2h0.55v0.55h-0.55zM87.9 420.5h0.55v0.55h-0.55zM95.5 392.2h0.55v0.55h-0.55zM109.1 385.2h0.55v0.55h-0.55zM97.4 397.3h0.55v0.55h-0.55zM94.5 414.7h0.55v0.55h-0.55zM113.9 386.9h0.55v0.55h-0.55zM98.6 377.0h0.55v0.55h-0.55zM88.6 381.9h0.55v0.55h-0.55zM101.8 382.4h0.55v0.55h-0.55zM92.0 421.6h0.55v0.55h-0.55zM87.1 405.1h0.55v0.55h-0.55zM110.6 377.9h0.55v0.55h-0.55zM110.7 375.7h0.55v0.55h-0.55zM110.5 383.5h0.55v0.55h-0.55zM92.2 428.1h0.55v0.55h-0.55zM92.7 430.8h0.55v0.55h-0.55zM92.3 422.5h0.55v0.55h-0.55zM104.7 384.7h0.55v0.55h-0.55zM110.8 388.0h0.55v0.55h-0.55zM91.1 423.2h0.55v0.55h-0.55zM89.4 428.2h0.55v0.55h-0.55zM85.0 412.2h0.55v0.55h-0.55zM86.4 423.0h0.55v0.55h-0.55zM91.5 379.7h0.55v0.55h-0.55zM119.8 423.9h0.55v0.55h-0.55zM98.6 383.7h0.55v0.55h-0.55zM91.4 413.4h0.55v0.55h-0.55zM109.3 382.9h0.55v0.55h-0.55zM105.8 377.3h0.55v0.55h-0.55zM84.7 392.8h0.55v0.55h-0.55zM107.1 387.4h0.55v0.55h-0.55zM96.5 405.8h0.55v0.55h-0.55zM91.6 404.8h0.55v0.55h-0.55zM93.2 393.1h0.55v0.55h-0.55zM88.2 391.0h0.55v0.55h-0.55zM109.3 377.8h0.55v0.55h-0.55zM84.7 388.8h0.55v0.55h-0.55zM104.1 380.5h0.55v0.55h-0.55zM115.8 376.4h0.55v0.55h-0.55zM112.1 384.5h0.55v0.55h-0.55zM93.3 403.9h0.55v0.55h-0.55zM99.1 368.6h0.55v0.55h-0.55zM96.4 407.8h0.55v0.55h-0.55zM92.8 401.9h0.55v0.55h-0.55zM80.8 378.7h0.55v0.55h-0.55zM91.3 420.1h0.55v0.55h-0.55zM100.1 388.8h0.55v0.55h-0.55zM93.5 381.3h0.55v0.55h-0.55zM99.4 391.1h0.55v0.55h-0.55zM80.7 424.8h0.55v0.55h-0.55zM103.2 380.1h0.55v0.55h-0.55zM96.0 410.5h0.55v0.55h-0.55zM93.5 425.5h0.55v0.55h-0.55zM117.5 378.0h0.55v0.55h-0.55zM92.4 399.6h0.55v0.55h-0.55zM111.1 376.4h0.55v0.55h-0.55zM97.2 399.9h0.55v0.55h-0.55zM98.6 389.0h0.55v0.55h-0.55zM88.1 375.4h0.55v0.55h-0.55zM112.2 382.3h0.55v0.55h-0.55zM105.1 370.1h0.55v0.55h-0.55zM87.0 411.3h0.55v0.55h-0.55zM86.2 422.2h0.55v0.55h-0.55zM94.3 391.8h0.55v0.55h-0.55zM110.6 378.7h0.55v0.55h-0.55zM96.3 382.2h0.55v0.55h-0.55zM117.4 425.4h0.55v0.55h-0.55zM100.7 374.9h0.55v0.55h-0.55zM96.9 397.5h0.55v0.55h-0.55zM103.7 387.9h0.55v0.55h-0.55zM86.5 393.7h0.55v0.55h-0.55zM113.9 375.3h0.55v0.55h-0.55zM108.1 388.1h0.55v0.55h-0.55zM94.1 428.9h0.55v0.55h-0.55zM112.9 384.9h0.55v0.55h-0.55zM92.9 379.8h0.55v0.55h-0.55zM89.9 399.9h0.55v0.55h-0.55zM111.9 388.0h0.55v0.55h-0.55zM96.2 369.5h0.55v0.55h-0.55zM108.4 380.5h0.55v0.55h-0.55zM116.8 381.9h0.55v0.55h-0.55zM94.0 398.8h0.55v0.55h-0.55zM107.9 371.6h0.55v0.55h-0.55zM94.8 376.4h0.55v0.55h-0.55zM89.7 420.1h0.55v0.55h-0.55zM108.3 382.4h0.55v0.55h-0.55zM105.0 364.7h0.55v0.55h-0.55zM92.5 399.4h0.55v0.55h-0.55zM90.1 405.3h0.55v0.55h-0.55zM97.2 377.1h0.55v0.55h-0.55zM90.4 412.8h0.55v0.55h-0.55zM98.0 391.4h0.55v0.55h-0.55zM102.6 368.9h0.55v0.55h-0.55zM108.6 383.4h0.55v0.55h-0.55zM112.9 426.3h0.55v0.55h-0.55zM90.9 372.5h0.55v0.55h-0.55zM111.8 380.5h0.55v0.55h-0.55zM88.6 408.8h0.55v0.55h-0.55zM87.8 385.0h0.55v0.55h-0.55zM99.5 379.9h0.55v0.55h-0.55zM99.5 393.2h0.55v0.55h-0.55zM99.1 374.9h0.55v0.55h-0.55zM99.0 392.3h0.55v0.55h-0.55zM94.6 405.4h0.55v0.55h-0.55zM110.1 384.3h0.55v0.55h-0.55zM118.6 384.3h0.55v0.55h-0.55zM108.2 387.3h0.55v0.55h-0.55zM101.5 390.9h0.55v0.55h-0.55zM94.7 385.1h0.55v0.55h-0.55zM96.0 390.6h0.55v0.55h-0.55zM112.6 378.8h0.55v0.55h-0.55zM106.0 378.3h0.55v0.55h-0.55zM90.6 377.6h0.55v0.55h-0.55zM114.0 377.7h0.55v0.55h-0.55zM83.8 393.6h0.55v0.55h-0.55zM89.7 421.4h0.55v0.55h-0.55zM91.0 413.2h0.55v0.55h-0.55zM104.8 381.5h0.55v0.55h-0.55zM107.1 377.7h0.55v0.55h-0.55zM90.8 396.0h0.55v0.55h-0.55zM105.8 379.2h0.55v0.55h-0.55zM104.8 384.4h0.55v0.55h-0.55zM113.9 380.7h0.55v0.55h-0.55zM108.0 380.2h0.55v0.55h-0.55zM91.5 409.7h0.55v0.55h-0.55zM92.2 398.6h0.55v0.55h-0.55zM107.6 370.8h0.55v0.55h-0.55zM112.5 430.8h0.55v0.55h-0.55zM107.7 382.9h0.55v0.55h-0.55zM91.2 415.3h0.55v0.55h-0.55zM107.8 383.6h0.55v0.55h-0.55zM101.1 386.6h0.55v0.55h-0.55zM98.1 394.3h0.55v0.55h-0.55zM117.0 369.4h0.55v0.55h-0.55zM112.3 387.8h0.55v0.55h-0.55zM90.5 402.9h0.55v0.55h-0.55zM110.9 380.8h0.55v0.55h-0.55zM92.7 400.6h0.55v0.55h-0.55zM112.8 383.3h0.55v0.55h-0.55zM116.7 378.2h0.55v0.55h-0.55zM105.0 369.7h0.55v0.55h-0.55zM90.1 396.1h0.55v0.55h-0.55zM103.3 376.1h0.55v0.55h-0.55zM105.2 387.2h0.55v0.55h-0.55zM97.5 428.4h0.55v0.55h-0.55zM115.6 379.8h0.55v0.55h-0.55zM91.3 409.5h0.55v0.55h-0.55zM101.1 370.4h0.55v0.55h-0.55zM117.7 373.5h0.55v0.55h-0.55zM112.8 375.6h0.55v0.55h-0.55zM92.9 430.5h0.55v0.55h-0.55zM111.9 383.8h0.55v0.55h-0.55zM106.5 377.5h0.55v0.55h-0.55zM90.2 402.8h0.55v0.55h-0.55zM106.0 383.5h0.55v0.55h-0.55zM88.4 409.7h0.55v0.55h-0.55zM100.4 374.2h0.55v0.55h-0.55zM98.5 430.4h0.55v0.55h-0.55zM93.2 429.4h0.55v0.55h-0.55zM112.9 427.2h0.55v0.55h-0.55zM90.1 426.6h0.55v0.55h-0.55zM108.8 388.9h0.55v0.55h-0.55zM118.0 429.7h0.55v0.55h-0.55zM106.8 378.4h0.55v0.55h-0.55zM111.0 386.5h0.55v0.55h-0.55zM95.1 392.2h0.55v0.55h-0.55zM101.0 370.6h0.55v0.55h-0.55zM96.9 402.0h0.55v0.55h-0.55zM98.3 395.4h0.55v0.55h-0.55zM86.3 385.4h0.55v0.55h-0.55zM93.0 402.9h0.55v0.55h-0.55zM89.9 395.2h0.55v0.55h-0.55zM105.9 376.4h0.55v0.55h-0.55zM90.8 388.8h0.55v0.55h-0.55zM106.2 371.8h0.55v0.55h-0.55zM96.7 392.8h0.55v0.55h-0.55zM119.7 370.0h0.55v0.55h-0.55zM101.6 376.7h0.55v0.55h-0.55zM98.3 381.0h0.55v0.55h-0.55zM96.5 428.5h0.55v0.55h-0.55zM93.1 413.1h0.55v0.55h-0.55zM115.3 378.7h0.55v0.55h-0.55zM96.2 427.1h0.55v0.55h-0.55zM116.1 384.8h0.55v0.55h-0.55zM94.9 392.1h0.55v0.55h-0.55zM103.0 388.4h0.55v0.55h-0.55zM94.2 398.5h0.55v0.55h-0.55zM95.0 412.1h0.55v0.55h-0.55zM108.2 376.5h0.55v0.55h-0.55zM90.6 395.5h0.55v0.55h-0.55zM119.4 379.4h0.55v0.55h-0.55zM93.4 386.5h0.55v0.55h-0.55zM108.6 376.0h0.55v0.55h-0.55zM101.9 381.9h0.55v0.55h-0.55zM109.1 377.5h0.55v0.55h-0.55zM99.8 389.9h0.55v0.55h-0.55zM105.8 381.4h0.55v0.55h-0.55zM90.3 380.1h0.55v0.55h-0.55zM112.1 380.4h0.55v0.55h-0.55zM91.7 386.5h0.55v0.55h-0.55zM101.1 384.6h0.55v0.55h-0.55zM107.3 385.6h0.55v0.55h-0.55zM112.1 427.8h0.55v0.55h-0.55zM110.4 377.3h0.55v0.55h-0.55zM112.8 381.5h0.55v0.55h-0.55zM103.8 383.5h0.55v0.55h-0.55zM97.3 394.4h0.55v0.55h-0.55zM85.3 424.7h0.55v0.55h-0.55zM94.4 406.4h0.55v0.55h-0.55zM103.0 373.3h0.55v0.55h-0.55zM115.8 430.2h0.55v0.55h-0.55zM96.9 399.7h0.55v0.55h-0.55zM94.0 383.2h0.55v0.55h-0.55zM109.2 387.8h0.55v0.55h-0.55zM95.0 380.1h0.55v0.55h-0.55zM89.1 420.1h0.55v0.55h-0.55zM90.0 399.3h0.55v0.55h-0.55zM94.3 415.6h0.55v0.55h-0.55zM109.1 387.5h0.55v0.55h-0.55zM96.7 406.6h0.55v0.55h-0.55zM100.7 368.9h0.55v0.55h-0.55zM118.8 423.8h0.55v0.55h-0.55zM91.0 409.4h0.55v0.55h-0.55zM106.9 429.9h0.55v0.55h-0.55zM102.4 384.0h0.55v0.55h-0.55zM93.2 401.8h0.55v0.55h-0.55zM93.7 423.6h0.55v0.55h-0.55zM92.5 410.3h0.55v0.55h-0.55zM109.9 385.3h0.55v0.55h-0.55zM98.1 393.8h0.55v0.55h-0.55zM107.3 430.5h0.55v0.55h-0.55zM106.6 381.1h0.55v0.55h-0.55zM97.1 398.5h0.55v0.55h-0.55zM91.5 401.4h0.55v0.55h-0.55zM97.7 388.5h0.55v0.55h-0.55zM100.1 383.2h0.55v0.55h-0.55zM88.4 402.3h0.55v0.55h-0.55zM93.9 392.6h0.55v0.55h-0.55zM98.8 374.3h0.55v0.55h-0.55zM98.7 364.7h0.55v0.55h-0.55zM114.5 385.0h0.55v0.55h-0.55zM112.2 383.0h0.55v0.55h-0.55zM91.8 388.6h0.55v0.55h-0.55zM114.7 379.7h0.55v0.55h-0.55zM99.0 378.0h0.55v0.55h-0.55zM106.4 384.5h0.55v0.55h-0.55zM93.2 388.5h0.55v0.55h-0.55zM76.6 404.7h0.55v0.55h-0.55zM105.0 379.5h0.55v0.55h-0.55zM101.7 369.6h0.55v0.55h-0.55zM83.3 413.6h0.55v0.55h-0.55zM95.0 406.0h0.55v0.55h-0.55zM94.2 418.1h0.55v0.55h-0.55zM106.4 377.2h0.55v0.55h-0.55zM96.1 406.7h0.55v0.55h-0.55zM89.1 418.2h0.55v0.55h-0.55zM100.1 383.0h0.55v0.55h-0.55zM108.4 381.8h0.55v0.55h-0.55zM102.6 388.4h0.55v0.55h-0.55zM111.2 386.2h0.55v0.55h-0.55zM115.0 381.4h0.55v0.55h-0.55zM92.8 401.5h0.55v0.55h-0.55zM106.7 388.2h0.55v0.55h-0.55zM116.9 425.5h0.55v0.55h-0.55zM115.9 382.5h0.55v0.55h-0.55zM97.1 395.8h0.55v0.55h-0.55zM89.5 398.0h0.55v0.55h-0.55zM87.0 412.8h0.55v0.55h-0.55zM94.9 372.9h0.55v0.55h-0.55zM112.5 370.1h0.55v0.55h-0.55zM103.6 370.6h0.55v0.55h-0.55zM116.5 368.6h0.55v0.55h-0.55zM98.3 378.7h0.55v0.55h-0.55zM106.5 380.3h0.55v0.55h-0.55zM108.5 385.2h0.55v0.55h-0.55zM103.3 389.3h0.55v0.55h-0.55zM90.4 424.5h0.55v0.55h-0.55zM104.4 377.9h0.55v0.55h-0.55zM104.3 374.1h0.55v0.55h-0.55zM107.7 383.3h0.55v0.55h-0.55zM117.8 427.5h0.55v0.55h-0.55zM103.8 375.7h0.55v0.55h-0.55zM99.8 376.8h0.55v0.55h-0.55zM116.5 430.0h0.55v0.55h-0.55zM106.2 374.9h0.55v0.55h-0.55zM90.7 419.2h0.55v0.55h-0.55zM97.6 400.1h0.55v0.55h-0.55zM116.8 423.2h0.55v0.55h-0.55zM114.6 373.5h0.55v0.55h-0.55zM111.3 379.3h0.55v0.55h-0.55zM88.0 376.5h0.55v0.55h-0.55zM96.0 389.3h0.55v0.55h-0.55zM98.9 389.3h0.55v0.55h-0.55zM102.3 366.2h0.55v0.55h-0.55zM115.4 380.2h0.55v0.55h-0.55zM94.0 403.0h0.55v0.55h-0.55zM95.9 399.9h0.55v0.55h-0.55zM91.3 428.2h0.55v0.55h-0.55zM97.0 392.1h0.55v0.55h-0.55zM107.2 429.6h0.55v0.55h-0.55zM95.4 427.1h0.55v0.55h-0.55zM116.6 367.3h0.55v0.55h-0.55zM93.6 429.2h0.55v0.55h-0.55zM91.8 410.5h0.55v0.55h-0.55zM98.2 396.9h0.55v0.55h-0.55zM79.4 389.7h0.55v0.55h-0.55zM117.6 380.8h0.55v0.55h-0.55zM105.5 380.7h0.55v0.55h-0.55zM100.8 379.1h0.55v0.55h-0.55zM111.3 383.6h0.55v0.55h-0.55zM96.5 401.9h0.55v0.55h-0.55zM104.3 388.7h0.55v0.55h-0.55zM86.1 401.3h0.55v0.55h-0.55zM108.8 373.2h0.55v0.55h-0.55zM105.4 378.8h0.55v0.55h-0.55zM103.4 382.2h0.55v0.55h-0.55zM96.5 405.2h0.55v0.55h-0.55zM92.4 406.7h0.55v0.55h-0.55zM88.2 392.7h0.55v0.55h-0.55zM105.1 386.9h0.55v0.55h-0.55zM101.7 383.4h0.55v0.55h-0.55zM93.2 427.6h0.55v0.55h-0.55zM91.5 407.7h0.55v0.55h-0.55zM96.1 396.4h0.55v0.55h-0.55zM90.8 400.9h0.55v0.55h-0.55zM96.7 429.9h0.55v0.55h-0.55zM106.4 376.4h0.55v0.55h-0.55zM109.2 388.4h0.55v0.55h-0.55zM97.6 396.6h0.55v0.55h-0.55zM106.6 375.3h0.55v0.55h-0.55zM109.4 386.0h0.55v0.55h-0.55zM92.9 392.3h0.55v0.55h-0.55zM106.5 378.3h0.55v0.55h-0.55zM89.8 414.7h0.55v0.55h-0.55zM82.5 389.8h0.55v0.55h-0.55zM97.8 428.8h0.55v0.55h-0.55zM110.7 386.1h0.55v0.55h-0.55zM111.9 375.6h0.55v0.55h-0.55zM116.0 373.7h0.55v0.55h-0.55zM107.6 378.9h0.55v0.55h-0.55zM107.4 377.6h0.55v0.55h-0.55zM115.8 428.2h0.55v0.55h-0.55zM101.1 378.6h0.55v0.55h-0.55zM115.4 381.1h0.55v0.55h-0.55zM115.3 380.9h0.55v0.55h-0.55zM110.7 387.5h0.55v0.55h-0.55zM91.5 384.9h0.55v0.55h-0.55zM111.0 386.1h0.55v0.55h-0.55zM93.6 388.6h0.55v0.55h-0.55zM92.1 388.0h0.55v0.55h-0.55zM109.8 378.1h0.55v0.55h-0.55zM97.1 401.4h0.55v0.55h-0.55zM87.3 380.4h0.55v0.55h-0.55zM114.4 374.7h0.55v0.55h-0.55zM95.8 406.0h0.55v0.55h-0.55zM107.6 366.4h0.55v0.55h-0.55zM87.1 382.3h0.55v0.55h-0.55zM88.4 412.0h0.55v0.55h-0.55zM108.0 375.7h0.55v0.55h-0.55zM100.6 382.6h0.55v0.55h-0.55zM111.4 428.9h0.55v0.55h-0.55zM102.6 381.8h0.55v0.55h-0.55zM100.5 428.9h0.55v0.55h-0.55zM112.4 375.2h0.55v0.55h-0.55zM110.9 386.8h0.55v0.55h-0.55zM93.8 421.5h0.55v0.55h-0.55zM111.7 387.3h0.55v0.55h-0.55zM112.6 366.9h0.55v0.55h-0.55zM108.9 428.2h0.55v0.55h-0.55zM79.2 380.4h0.55v0.55h-0.55zM97.2 400.6h0.55v0.55h-0.55zM91.9 409.7h0.55v0.55h-0.55zM96.8 395.4h0.55v0.55h-0.55zM93.9 408.2h0.55v0.55h-0.55zM94.4 403.4h0.55v0.55h-0.55zM114.5 425.9h0.55v0.55h-0.55zM94.6 412.0h0.55v0.55h-0.55zM114.2 374.6h0.55v0.55h-0.55zM85.4 396.4h0.55v0.55h-0.55zM102.4 372.0h0.55v0.55h-0.55zM114.9 427.4h0.55v0.55h-0.55zM87.0 401.9h0.55v0.55h-0.55zM105.0 388.9h0.55v0.55h-0.55zM109.0 375.1h0.55v0.55h-0.55zM107.2 429.9h0.55v0.55h-0.55zM94.2 404.2h0.55v0.55h-0.55zM103.2 388.9h0.55v0.55h-0.55zM93.8 380.3h0.55v0.55h-0.55zM99.6 393.0h0.55v0.55h-0.55zM107.9 381.4h0.55v0.55h-0.55zM119.5 422.2h0.55v0.55h-0.55zM85.7 399.8h0.55v0.55h-0.55zM109.5 383.9h0.55v0.55h-0.55zM97.9 394.7h0.55v0.55h-0.55zM103.5 380.0h0.55v0.55h-0.55zM96.4 393.4h0.55v0.55h-0.55zM107.5 388.2h0.55v0.55h-0.55zM97.8 372.1h0.55v0.55h-0.55zM98.4 379.4h0.55v0.55h-0.55zM107.3 380.8h0.55v0.55h-0.55zM93.4 385.8h0.55v0.55h-0.55zM74.8 379.5h0.55v0.55h-0.55zM91.2 391.6h0.55v0.55h-0.55zM112.0 376.6h0.55v0.55h-0.55zM99.6 382.0h0.55v0.55h-0.55zM95.1 406.0h0.55v0.55h-0.55zM112.0 383.2h0.55v0.55h-0.55zM107.5 430.4h0.55v0.55h-0.55zM86.9 395.3h0.55v0.55h-0.55zM100.7 391.4h0.55v0.55h-0.55zM107.7 367.4h0.55v0.55h-0.55zM96.8 394.7h0.55v0.55h-0.55zM79.4 399.1h0.55v0.55h-0.55zM94.4 411.3h0.55v0.55h-0.55zM93.7 400.4h0.55v0.55h-0.55zM91.7 430.7h0.55v0.55h-0.55zM94.9 393.2h0.55v0.55h-0.55zM96.1 389.4h0.55v0.55h-0.55zM91.9 380.4h0.55v0.55h-0.55zM105.0 386.3h0.55v0.55h-0.55zM96.0 430.5h0.55v0.55h-0.55zM108.9 386.9h0.55v0.55h-0.55zM88.8 396.7h0.55v0.55h-0.55zM84.6 411.7h0.55v0.55h-0.55zM115.5 380.8h0.55v0.55h-0.55zM118.2 428.2h0.55v0.55h-0.55zM105.1 374.6h0.55v0.55h-0.55zM105.8 428.9h0.55v0.55h-0.55zM105.9 382.8h0.55v0.55h-0.55zM111.7 428.3h0.55v0.55h-0.55zM107.8 380.3h0.55v0.55h-0.55zM93.5 396.9h0.55v0.55h-0.55zM110.8 384.1h0.55v0.55h-0.55zM102.6 377.8h0.55v0.55h-0.55zM95.8 392.2h0.55v0.55h-0.55zM93.2 392.9h0.55v0.55h-0.55zM114.2 384.4h0.55v0.55h-0.55zM97.7 389.2h0.55v0.55h-0.55zM96.2 396.0h0.55v0.55h-0.55zM110.3 379.8h0.55v0.55h-0.55zM103.0 377.1h0.55v0.55h-0.55zM96.9 402.9h0.55v0.55h-0.55zM96.1 393.4h0.55v0.55h-0.55zM91.7 392.6h0.55v0.55h-0.55zM80.3 383.9h0.55v0.55h-0.55zM103.7 384.4h0.55v0.55h-0.55zM102.1 387.0h0.55v0.55h-0.55zM95.2 407.1h0.55v0.55h-0.55zM98.0 380.4h0.55v0.55h-0.55zM86.4 398.7h0.55v0.55h-0.55zM119.0 378.3h0.55v0.55h-0.55zM105.5 377.7h0.55v0.55h-0.55zM99.4 428.9h0.55v0.55h-0.55zM112.2 373.0h0.55v0.55h-0.55zM101.0 385.4h0.55v0.55h-0.55zM90.5 402.0h0.55v0.55h-0.55zM91.1 394.2h0.55v0.55h-0.55zM99.4 378.7h0.55v0.55h-0.55zM99.1 391.4h0.55v0.55h-0.55zM110.0 376.9h0.55v0.55h-0.55zM94.5 409.1h0.55v0.55h-0.55zM95.2 397.1h0.55v0.55h-0.55zM102.9 379.5h0.55v0.55h-0.55zM109.4 387.5h0.55v0.55h-0.55zM97.3 395.6h0.55v0.55h-0.55zM92.7 393.3h0.55v0.55h-0.55zM118.3 378.8h0.55v0.55h-0.55zM96.2 408.2h0.55v0.55h-0.55zM98.8 393.3h0.55v0.55h-0.55zM93.4 412.7h0.55v0.55h-0.55zM100.3 428.9h0.55v0.55h-0.55zM110.2 377.1h0.55v0.55h-0.55zM107.0 428.5h0.55v0.55h-0.55zM99.7 375.8h0.55v0.55h-0.55zM95.4 398.1h0.55v0.55h-0.55zM95.6 384.4h0.55v0.55h-0.55zM115.5 376.3h0.55v0.55h-0.55zM105.7 384.6h0.55v0.55h-0.55zM101.1 377.8h0.55v0.55h-0.55zM118.1 422.4h0.55v0.55h-0.55zM108.0 386.3h0.55v0.55h-0.55zM86.3 408.5h0.55v0.55h-0.55zM97.9 387.2h0.55v0.55h-0.55zM113.2 381.8h0.55v0.55h-0.55zM82.3 426.0h0.55v0.55h-0.55zM94.3 391.5h0.55v0.55h-0.55zM97.8 381.0h0.55v0.55h-0.55zM118.1 428.2h0.55v0.55h-0.55zM100.9 385.2h0.55v0.55h-0.55zM97.2 390.6h0.55v0.55h-0.55zM109.4 377.0h0.55v0.55h-0.55zM119.3 379.8h0.55v0.55h-0.55zM104.2 380.6h0.55v0.55h-0.55zM97.5 391.4h0.55v0.55h-0.55zM118.1 370.8h0.55v0.55h-0.55zM118.2 377.7h0.55v0.55h-0.55zM99.9 392.7h0.55v0.55h-0.55zM99.0 381.2h0.55v0.55h-0.55zM98.7 389.3h0.55v0.55h-0.55zM96.5 397.3h0.55v0.55h-0.55zM102.7 377.9h0.55v0.55h-0.55zM99.0 370.8h0.55v0.55h-0.55zM102.0 378.7h0.55v0.55h-0.55zM95.7 409.1h0.55v0.55h-0.55zM108.7 387.4h0.55v0.55h-0.55zM94.0 424.0h0.55v0.55h-0.55zM111.8 377.2h0.55v0.55h-0.55zM114.0 378.1h0.55v0.55h-0.55zM95.9 397.8h0.55v0.55h-0.55zM93.0 427.9h0.55v0.55h-0.55zM108.9 379.3h0.55v0.55h-0.55zM104.9 369.5h0.55v0.55h-0.55zM112.2 385.9h0.55v0.55h-0.55zM110.2 369.2h0.55v0.55h-0.55zM105.0 368.1h0.55v0.55h-0.55zM99.7 384.1h0.55v0.55h-0.55zM87.0 383.7h0.55v0.55h-0.55zM97.1 378.1h0.55v0.55h-0.55zM86.9 397.1h0.55v0.55h-0.55zM89.5 402.4h0.55v0.55h-0.55zM105.6 430.4h0.55v0.55h-0.55zM82.3 401.8h0.55v0.55h-0.55zM103.9 430.2h0.55v0.55h-0.55zM106.5 385.5h0.55v0.55h-0.55zM115.0 426.9h0.55v0.55h-0.55zM91.0 423.1h0.55v0.55h-0.55zM99.7 390.8h0.55v0.55h-0.55zM98.2 382.4h0.55v0.55h-0.55zM91.7 403.8h0.55v0.55h-0.55zM97.4 378.9h0.55v0.55h-0.55zM96.7 393.2h0.55v0.55h-0.55zM112.8 387.6h0.55v0.55h-0.55zM90.0 405.7h0.55v0.55h-0.55zM94.2 379.7h0.55v0.55h-0.55zM107.0 374.6h0.55v0.55h-0.55zM112.9 386.9h0.55v0.55h-0.55zM103.5 387.2h0.55v0.55h-0.55zM92.9 401.5h0.55v0.55h-0.55zM107.0 388.5h0.55v0.55h-0.55zM88.1 424.6h0.55v0.55h-0.55zM107.2 377.8h0.55v0.55h-0.55zM106.3 371.7h0.55v0.55h-0.55zM88.4 417.5h0.55v0.55h-0.55zM114.5 380.3h0.55v0.55h-0.55zM93.0 431.0h0.55v0.55h-0.55zM108.0 385.1h0.55v0.55h-0.55zM104.7 387.0h0.55v0.55h-0.55zM104.9 385.9h0.55v0.55h-0.55zM113.6 371.9h0.55v0.55h-0.55zM114.2 374.8h0.55v0.55h-0.55zM111.6 384.5h0.55v0.55h-0.55zM89.9 398.2h0.55v0.55h-0.55zM100.0 391.7h0.55v0.55h-0.55zM96.2 387.6h0.55v0.55h-0.55zM106.2 373.4h0.55v0.55h-0.55zM90.7 387.4h0.55v0.55h-0.55zM96.8 429.5h0.55v0.55h-0.55zM108.4 373.7h0.55v0.55h-0.55zM110.7 373.6h0.55v0.55h-0.55zM104.6 380.7h0.55v0.55h-0.55zM105.1 379.3h0.55v0.55h-0.55zM102.0 375.3h0.55v0.55h-0.55zM98.0 391.6h0.55v0.55h-0.55zM112.0 429.1h0.55v0.55h-0.55zM92.0 404.5h0.55v0.55h-0.55zM114.1 384.9h0.55v0.55h-0.55zM95.8 403.7h0.55v0.55h-0.55zM96.2 387.1h0.55v0.55h-0.55zM88.9 400.3h0.55v0.55h-0.55zM112.9 386.5h0.55v0.55h-0.55zM103.4 383.7h0.55v0.55h-0.55zM97.2 383.4h0.55v0.55h-0.55zM94.9 373.2h0.55v0.55h-0.55zM90.5 404.2h0.55v0.55h-0.55zM106.4 383.7h0.55v0.55h-0.55zM92.4 421.9h0.55v0.55h-0.55zM112.8 384.0h0.55v0.55h-0.55zM97.6 391.1h0.55v0.55h-0.55zM87.7 429.8h0.55v0.55h-0.55zM96.2 395.2h0.55v0.55h-0.55zM108.2 378.1h0.55v0.55h-0.55zM109.9 379.1h0.55v0.55h-0.55zM82.8 395.0h0.55v0.55h-0.55zM119.4 430.1h0.55v0.55h-0.55zM94.5 399.7h0.55v0.55h-0.55zM104.6 387.1h0.55v0.55h-0.55zM89.7 406.3h0.55v0.55h-0.55zM87.1 383.5h0.55v0.55h-0.55zM113.0 380.7h0.55v0.55h-0.55zM114.7 379.3h0.55v0.55h-0.55zM91.3 394.1h0.55v0.55h-0.55zM94.1 407.0h0.55v0.55h-0.55zM101.0 383.2h0.55v0.55h-0.55zM114.1 381.4h0.55v0.55h-0.55zM102.1 429.2h0.55v0.55h-0.55zM91.1 407.3h0.55v0.55h-0.55zM110.6 428.3h0.55v0.55h-0.55zM99.0 379.4h0.55v0.55h-0.55zM92.8 398.1h0.55v0.55h-0.55zM91.0 397.5h0.55v0.55h-0.55zM89.9 409.7h0.55v0.55h-0.55zM101.8 374.1h0.55v0.55h-0.55zM90.3 396.8h0.55v0.55h-0.55zM87.0 408.8h0.55v0.55h-0.55zM83.2 406.5h0.55v0.55h-0.55zM94.7 403.9h0.55v0.55h-0.55zM111.4 428.2h0.55v0.55h-0.55zM100.9 387.6h0.55v0.55h-0.55zM118.5 378.7h0.55v0.55h-0.55zM91.9 427.4h0.55v0.55h-0.55zM111.1 382.8h0.55v0.55h-0.55zM97.4 395.0h0.55v0.55h-0.55zM93.0 400.7h0.55v0.55h-0.55zM95.6 407.7h0.55v0.55h-0.55zM92.5 394.9h0.55v0.55h-0.55zM109.3 385.4h0.55v0.55h-0.55zM86.9 395.5h0.55v0.55h-0.55zM112.2 380.0h0.55v0.55h-0.55zM100.8 388.5h0.55v0.55h-0.55zM105.7 384.7h0.55v0.55h-0.55zM105.1 388.0h0.55v0.55h-0.55zM117.2 376.0h0.55v0.55h-0.55zM89.0 382.4h0.55v0.55h-0.55zM101.5 381.1h0.55v0.55h-0.55zM112.4 383.4h0.55v0.55h-0.55zM96.6 393.8h0.55v0.55h-0.55zM96.3 428.4h0.55v0.55h-0.55zM95.7 426.5h0.55v0.55h-0.55zM114.1 382.0h0.55v0.55h-0.55zM86.9 408.1h0.55v0.55h-0.55zM92.3 420.2h0.55v0.55h-0.55zM105.7 382.6h0.55v0.55h-0.55zM114.9 383.2h0.55v0.55h-0.55zM112.6 382.7h0.55v0.55h-0.55zM99.6 388.1h0.55v0.55h-0.55zM111.3 378.1h0.55v0.55h-0.55zM90.9 408.7h0.55v0.55h-0.55zM87.4 379.6h0.55v0.55h-0.55zM115.1 383.8h0.55v0.55h-0.55zM99.2 374.4h0.55v0.55h-0.55zM102.2 378.9h0.55v0.55h-0.55zM100.2 391.2h0.55v0.55h-0.55zM95.5 394.5h0.55v0.55h-0.55zM94.2 396.7h0.55v0.55h-0.55zM112.3 375.7h0.55v0.55h-0.55zM112.6 379.2h0.55v0.55h-0.55zM94.9 398.4h0.55v0.55h-0.55zM94.0 423.6h0.55v0.55h-0.55zM100.0 375.8h0.55v0.55h-0.55zM96.4 385.2h0.55v0.55h-0.55zM106.0 431.0h0.55v0.55h-0.55zM108.9 378.9h0.55v0.55h-0.55zM104.5 388.4h0.55v0.55h-0.55zM109.3 373.2h0.55v0.55h-0.55zM113.4 381.4h0.55v0.55h-0.55zM101.1 381.3h0.55v0.55h-0.55zM108.0 428.5h0.55v0.55h-0.55zM108.9 377.6h0.55v0.55h-0.55zM103.1 382.5h0.55v0.55h-0.55zM101.4 381.3h0.55v0.55h-0.55zM90.5 374.8h0.55v0.55h-0.55zM104.2 430.8h0.55v0.55h-0.55zM110.3 382.8h0.55v0.55h-0.55zM95.2 430.3h0.55v0.55h-0.55zM96.2 405.0h0.55v0.55h-0.55zM94.1 401.9h0.55v0.55h-0.55zM85.4 403.3h0.55v0.55h-0.55zM85.9 409.8h0.55v0.55h-0.55zM108.1 383.1h0.55v0.55h-0.55zM97.9 370.9h0.55v0.55h-0.55zM102.2 385.6h0.55v0.55h-0.55zM113.8 385.9h0.55v0.55h-0.55zM98.9 382.8h0.55v0.55h-0.55zM96.8 393.1h0.55v0.55h-0.55zM100.6 391.0h0.55v0.55h-0.55zM98.4 386.5h0.55v0.55h-0.55zM111.1 371.2h0.55v0.55h-0.55zM95.9 406.6h0.55v0.55h-0.55zM119.1 378.3h0.55v0.55h-0.55zM91.9 390.2h0.55v0.55h-0.55zM104.9 383.0h0.55v0.55h-0.55zM88.8 416.8h0.55v0.55h-0.55zM119.3 376.9h0.55v0.55h-0.55zM95.0 407.4h0.55v0.55h-0.55zM112.5 366.0h0.55v0.55h-0.55zM95.2 378.3h0.55v0.55h-0.55zM102.2 379.3h0.55v0.55h-0.55zM106.4 380.1h0.55v0.55h-0.55zM111.8 388.1h0.55v0.55h-0.55zM113.3 429.8h0.55v0.55h-0.55zM93.4 381.0h0.55v0.55h-0.55zM89.8 393.9h0.55v0.55h-0.55zM118.7 379.6h0.55v0.55h-0.55zM96.6 405.8h0.55v0.55h-0.55zM91.9 420.9h0.55v0.55h-0.55zM104.3 383.7h0.55v0.55h-0.55zM116.6 384.4h0.55v0.55h-0.55zM101.4 378.5h0.55v0.55h-0.55zM112.2 377.2h0.55v0.55h-0.55zM82.0 392.9h0.55v0.55h-0.55zM94.8 404.8h0.55v0.55h-0.55zM108.7 383.7h0.55v0.55h-0.55zM111.2 372.2h0.55v0.55h-0.55zM97.9 397.9h0.55v0.55h-0.55zM115.3 427.6h0.55v0.55h-0.55zM101.1 383.0h0.55v0.55h-0.55zM113.4 384.5h0.55v0.55h-0.55zM98.8 395.1h0.55v0.55h-0.55zM110.6 373.0h0.55v0.55h-0.55zM100.4 384.9h0.55v0.55h-0.55zM106.3 379.7h0.55v0.55h-0.55zM97.8 396.9h0.55v0.55h-0.55zM116.8 379.5h0.55v0.55h-0.55zM101.9 380.5h0.55v0.55h-0.55zM94.3 378.2h0.55v0.55h-0.55zM86.1 414.4h0.55v0.55h-0.55zM117.1 428.6h0.55v0.55h-0.55zM95.1 394.3h0.55v0.55h-0.55zM90.8 424.4h0.55v0.55h-0.55zM95.7 402.6h0.55v0.55h-0.55zM92.1 430.9h0.55v0.55h-0.55zM89.6 392.6h0.55v0.55h-0.55zM112.3 379.1h0.55v0.55h-0.55zM99.1 391.1h0.55v0.55h-0.55zM97.4 386.8h0.55v0.55h-0.55zM105.3 379.4h0.55v0.55h-0.55zM97.4 393.1h0.55v0.55h-0.55zM93.9 406.9h0.55v0.55h-0.55zM96.6 395.4h0.55v0.55h-0.55zM100.2 388.9h0.55v0.55h-0.55zM100.0 384.2h0.55v0.55h-0.55zM116.5 379.4h0.55v0.55h-0.55zM119.4 424.0h0.55v0.55h-0.55zM103.1 388.6h0.55v0.55h-0.55zM99.5 388.9h0.55v0.55h-0.55zM97.4 428.5h0.55v0.55h-0.55zM118.6 424.6h0.55v0.55h-0.55zM99.6 376.3h0.55v0.55h-0.55zM90.3 381.1h0.55v0.55h-0.55zM114.8 381.4h0.55v0.55h-0.55zM80.1 400.4h0.55v0.55h-0.55zM118.1 378.5h0.55v0.55h-0.55zM115.8 430.9h0.55v0.55h-0.55zM96.1 394.5h0.55v0.55h-0.55zM104.6 382.9h0.55v0.55h-0.55zM97.3 388.4h0.55v0.55h-0.55zM100.9 390.5h0.55v0.55h-0.55zM92.2 397.6h0.55v0.55h-0.55zM102.6 383.8h0.55v0.55h-0.55zM118.3 375.7h0.55v0.55h-0.55zM115.3 427.9h0.55v0.55h-0.55zM98.6 378.8h0.55v0.55h-0.55zM92.2 403.4h0.55v0.55h-0.55zM89.0 421.8h0.55v0.55h-0.55zM110.2 383.7h0.55v0.55h-0.55zM108.7 385.4h0.55v0.55h-0.55zM89.2 396.0h0.55v0.55h-0.55zM98.3 392.9h0.55v0.55h-0.55zM118.4 379.0h0.55v0.55h-0.55zM96.9 380.7h0.55v0.55h-0.55zM106.4 387.1h0.55v0.55h-0.55zM87.6 390.7h0.55v0.55h-0.55zM116.5 384.7h0.55v0.55h-0.55zM94.4 403.4h0.55v0.55h-0.55zM99.5 429.8h0.55v0.55h-0.55zM105.1 378.6h0.55v0.55h-0.55zM98.5 382.5h0.55v0.55h-0.55zM93.3 427.8h0.55v0.55h-0.55zM91.7 400.9h0.55v0.55h-0.55zM107.0 374.8h0.55v0.55h-0.55zM98.8 375.7h0.55v0.55h-0.55zM107.1 381.3h0.55v0.55h-0.55zM94.8 406.3h0.55v0.55h-0.55zM95.3 409.4h0.55v0.55h-0.55zM104.4 382.2h0.55v0.55h-0.55zM110.7 383.8h0.55v0.55h-0.55zM105.0 378.8h0.55v0.55h-0.55zM112.7 372.8h0.55v0.55h-0.55zM108.4 385.1h0.55v0.55h-0.55zM91.2 413.1h0.55v0.55h-0.55zM93.6 376.8h0.55v0.55h-0.55zM104.4 380.0h0.55v0.55h-0.55zM111.7 381.3h0.55v0.55h-0.55zM104.6 375.1h0.55v0.55h-0.55zM119.0 375.3h0.55v0.55h-0.55zM104.2 380.6h0.55v0.55h-0.55zM107.8 382.9h0.55v0.55h-0.55zM99.1 376.8h0.55v0.55h-0.55zM85.4 400.8h0.55v0.55h-0.55zM107.0 372.9h0.55v0.55h-0.55zM114.7 385.5h0.55v0.55h-0.55zM95.9 403.2h0.55v0.55h-0.55zM98.1 390.1h0.55v0.55h-0.55zM110.5 375.8h0.55v0.55h-0.55zM99.2 388.3h0.55v0.55h-0.55zM114.7 381.2h0.55v0.55h-0.55zM95.3 428.6h0.55v0.55h-0.55zM108.8 429.3h0.55v0.55h-0.55zM89.0 386.7h0.55v0.55h-0.55zM112.2 382.8h0.55v0.55h-0.55zM111.1 427.4h0.55v0.55h-0.55zM88.2 427.1h0.55v0.55h-0.55zM95.6 382.6h0.55v0.55h-0.55zM89.1 380.1h0.55v0.55h-0.55zM113.6 386.6h0.55v0.55h-0.55zM114.3 376.9h0.55v0.55h-0.55zM115.5 425.3h0.55v0.55h-0.55zM91.7 386.1h0.55v0.55h-0.55zM94.8 413.0h0.55v0.55h-0.55zM95.6 391.0h0.55v0.55h-0.55zM114.2 383.6h0.55v0.55h-0.55zM101.1 389.9h0.55v0.55h-0.55zM108.3 386.8h0.55v0.55h-0.55zM91.4 379.7h0.55v0.55h-0.55zM96.1 378.5h0.55v0.55h-0.55zM92.8 403.6h0.55v0.55h-0.55zM104.3 380.7h0.55v0.55h-0.55zM93.9 400.2h0.55v0.55h-0.55zM110.6 385.4h0.55v0.55h-0.55zM108.3 384.1h0.55v0.55h-0.55zM93.5 386.4h0.55v0.55h-0.55zM91.3 409.9h0.55v0.55h-0.55zM107.8 387.7h0.55v0.55h-0.55zM100.9 390.8h0.55v0.55h-0.55zM112.6 372.5h0.55v0.55h-0.55zM101.8 382.6h0.55v0.55h-0.55zM98.6 388.7h0.55v0.55h-0.55zM95.5 411.0h0.55v0.55h-0.55zM89.8 414.7h0.55v0.55h-0.55zM109.9 383.7h0.55v0.55h-0.55zM117.6 380.2h0.55v0.55h-0.55zM96.6 403.1h0.55v0.55h-0.55zM114.6 369.2h0.55v0.55h-0.55zM112.3 427.8h0.55v0.55h-0.55zM109.4 376.9h0.55v0.55h-0.55zM107.0 385.7h0.55v0.55h-0.55zM88.8 386.5h0.55v0.55h-0.55zM107.4 373.7h0.55v0.55h-0.55zM98.4 383.5h0.55v0.55h-0.55zM94.0 404.0h0.55v0.55h-0.55zM99.9 429.2h0.55v0.55h-0.55zM102.8 374.5h0.55v0.55h-0.55zM100.8 387.4h0.55v0.55h-0.55zM91.9 418.7h0.55v0.55h-0.55zM110.9 385.2h0.55v0.55h-0.55zM91.0 420.9h0.55v0.55h-0.55zM89.3 385.7h0.55v0.55h-0.55zM102.0 379.5h0.55v0.55h-0.55zM91.0 383.9h0.55v0.55h-0.55zM108.2 388.9h0.55v0.55h-0.55zM95.7 430.6h0.55v0.55h-0.55zM107.3 387.8h0.55v0.55h-0.55zM106.1 388.1h0.55v0.55h-0.55zM93.1 423.1h0.55v0.55h-0.55zM105.3 385.3h0.55v0.55h-0.55zM96.0 400.0h0.55v0.55h-0.55zM99.1 377.3h0.55v0.55h-0.55zM115.7 377.5h0.55v0.55h-0.55zM114.9 379.1h0.55v0.55h-0.55zM92.9 430.2h0.55v0.55h-0.55zM102.6 367.1h0.55v0.55h-0.55zM89.3 421.3h0.55v0.55h-0.55zM113.1 382.2h0.55v0.55h-0.55zM84.4 393.6h0.55v0.55h-0.55zM118.8 374.2h0.55v0.55h-0.55zM94.8 384.4h0.55v0.55h-0.55zM109.1 384.1h0.55v0.55h-0.55zM106.8 381.6h0.55v0.55h-0.55zM84.2 374.6h0.55v0.55h-0.55zM110.3 383.7h0.55v0.55h-0.55zM93.4 400.5h0.55v0.55h-0.55zM110.8 382.4h0.55v0.55h-0.55zM117.2 380.1h0.55v0.55h-0.55zM94.7 413.6h0.55v0.55h-0.55zM108.7 428.3h0.55v0.55h-0.55zM98.6 387.0h0.55v0.55h-0.55zM102.2 380.9h0.55v0.55h-0.55zM98.7 392.6h0.55v0.55h-0.55zM94.5 381.0h0.55v0.55h-0.55zM107.9 382.8h0.55v0.55h-0.55zM107.7 372.7h0.55v0.55h-0.55zM97.0 390.1h0.55v0.55h-0.55zM94.0 407.2h0.55v0.55h-0.55zM94.0 398.0h0.55v0.55h-0.55zM102.3 389.2h0.55v0.55h-0.55zM97.4 396.4h0.55v0.55h-0.55zM90.9 424.5h0.55v0.55h-0.55zM92.2 395.6h0.55v0.55h-0.55zM109.4 378.1h0.55v0.55h-0.55zM84.5 428.9h0.55v0.55h-0.55zM104.8 382.0h0.55v0.55h-0.55zM91.8 414.2h0.55v0.55h-0.55zM93.2 394.1h0.55v0.55h-0.55zM106.4 383.4h0.55v0.55h-0.55zM91.1 397.6h0.55v0.55h-0.55zM92.5 394.0h0.55v0.55h-0.55zM91.7 427.7h0.55v0.55h-0.55zM105.8 429.7h0.55v0.55h-0.55zM100.6 391.7h0.55v0.55h-0.55zM111.4 387.0h0.55v0.55h-0.55zM114.3 373.0h0.55v0.55h-0.55zM82.2 386.3h0.55v0.55h-0.55zM107.3 388.4h0.55v0.55h-0.55zM108.3 377.7h0.55v0.55h-0.55zM100.5 386.4h0.55v0.55h-0.55zM88.6 379.6h0.55v0.55h-0.55zM94.7 401.3h0.55v0.55h-0.55zM108.6 383.8h0.55v0.55h-0.55zM95.5 411.2h0.55v0.55h-0.55zM95.7 390.1h0.55v0.55h-0.55zM108.7 382.3h0.55v0.55h-0.55zM110.3 386.8h0.55v0.55h-0.55zM98.2 369.8h0.55v0.55h-0.55zM84.4 397.0h0.55v0.55h-0.55zM101.1 386.6h0.55v0.55h-0.55zM91.4 373.9h0.55v0.55h-0.55zM89.1 387.5h0.55v0.55h-0.55zM96.0 397.8h0.55v0.55h-0.55zM119.4 371.6h0.55v0.55h-0.55zM101.2 390.0h0.55v0.55h-0.55zM103.2 430.3h0.55v0.55h-0.55zM101.5 385.5h0.55v0.55h-0.55zM92.1 404.9h0.55v0.55h-0.55zM100.1 430.1h0.55v0.55h-0.55zM109.5 382.5h0.55v0.55h-0.55zM108.8 377.4h0.55v0.55h-0.55zM103.9 372.8h0.55v0.55h-0.55zM88.6 411.5h0.55v0.55h-0.55zM99.7 384.4h0.55v0.55h-0.55zM105.2 374.5h0.55v0.55h-0.55zM92.8 406.6h0.55v0.55h-0.55zM90.4 426.1h0.55v0.55h-0.55zM98.8 387.6h0.55v0.55h-0.55zM104.1 429.6h0.55v0.55h-0.55zM99.5 388.0h0.55v0.55h-0.55zM109.8 373.6h0.55v0.55h-0.55zM113.6 375.8h0.55v0.55h-0.55zM87.7 401.0h0.55v0.55h-0.55zM105.5 385.7h0.55v0.55h-0.55zM88.1 385.4h0.55v0.55h-0.55zM119.4 383.3h0.55v0.55h-0.55zM92.7 393.5h0.55v0.55h-0.55zM84.5 414.5h0.55v0.55h-0.55zM119.8 382.9h0.55v0.55h-0.55zM103.4 375.1h0.55v0.55h-0.55zM113.5 372.8h0.55v0.55h-0.55zM109.4 380.0h0.55v0.55h-0.55zM86.7 407.9h0.55v0.55h-0.55zM99.2 383.2h0.55v0.55h-0.55zM107.9 382.4h0.55v0.55h-0.55zM102.8 381.1h0.55v0.55h-0.55zM89.8 428.8h0.55v0.55h-0.55zM88.4 406.7h0.55v0.55h-0.55zM82.9 427.6h0.55v0.55h-0.55zM113.7 379.5h0.55v0.55h-0.55zM109.3 365.3h0.55v0.55h-0.55zM108.8 384.7h0.55v0.55h-0.55zM102.7 389.8h0.55v0.55h-0.55zM88.9 392.5h0.55v0.55h-0.55zM107.7 383.4h0.55v0.55h-0.55zM94.2 413.8h0.55v0.55h-0.55zM82.5 412.5h0.55v0.55h-0.55zM94.6 397.0h0.55v0.55h-0.55zM93.6 405.3h0.55v0.55h-0.55zM108.8 377.5h0.55v0.55h-0.55zM106.4 387.9h0.55v0.55h-0.55zM107.9 382.4h0.55v0.55h-0.55zM99.8 384.0h0.55v0.55h-0.55zM96.0 400.4h0.55v0.55h-0.55zM115.2 376.1h0.55v0.55h-0.55zM96.6 386.0h0.55v0.55h-0.55zM107.9 382.3h0.55v0.55h-0.55zM105.4 381.7h0.55v0.55h-0.55zM107.7 385.9h0.55v0.55h-0.55zM114.6 376.1h0.55v0.55h-0.55zM113.1 382.7h0.55v0.55h-0.55zM112.5 373.9h0.55v0.55h-0.55zM92.0 394.5h0.55v0.55h-0.55zM84.3 426.5h0.55v0.55h-0.55zM95.1 393.9h0.55v0.55h-0.55zM113.6 383.0h0.55v0.55h-0.55zM95.0 393.0h0.55v0.55h-0.55zM108.7 379.9h0.55v0.55h-0.55zM109.2 430.2h0.55v0.55h-0.55zM93.2 424.3h0.55v0.55h-0.55zM100.1 370.8h0.55v0.55h-0.55zM101.6 377.9h0.55v0.55h-0.55zM91.6 413.7h0.55v0.55h-0.55zM88.7 428.2h0.55v0.55h-0.55zM88.5 387.4h0.55v0.55h-0.55zM93.2 410.3h0.55v0.55h-0.55zM93.0 426.9h0.55v0.55h-0.55zM95.3 407.7h0.55v0.55h-0.55zM90.1 396.2h0.55v0.55h-0.55zM94.8 399.1h0.55v0.55h-0.55zM98.3 376.5h0.55v0.55h-0.55zM107.4 378.1h0.55v0.55h-0.55zM94.8 388.3h0.55v0.55h-0.55zM96.3 402.2h0.55v0.55h-0.55zM110.6 384.0h0.55v0.55h-0.55zM105.2 375.1h0.55v0.55h-0.55zM91.8 392.6h0.55v0.55h-0.55zM91.6 399.2h0.55v0.55h-0.55zM103.0 381.9h0.55v0.55h-0.55zM92.2 424.2h0.55v0.55h-0.55zM89.0 376.8h0.55v0.55h-0.55zM89.6 412.8h0.55v0.55h-0.55zM113.9 385.3h0.55v0.55h-0.55zM103.7 383.7h0.55v0.55h-0.55zM114.9 376.2h0.55v0.55h-0.55zM106.7 383.6h0.55v0.55h-0.55zM102.2 389.1h0.55v0.55h-0.55zM108.9 386.1h0.55v0.55h-0.55zM94.9 405.4h0.55v0.55h-0.55zM116.6 377.1h0.55v0.55h-0.55zM95.2 411.9h0.55v0.55h-0.55zM106.0 429.6h0.55v0.55h-0.55zM105.9 369.7h0.55v0.55h-0.55zM91.8 382.6h0.55v0.55h-0.55zM99.5 383.3h0.55v0.55h-0.55zM94.2 403.1h0.55v0.55h-0.55zM106.3 384.4h0.55v0.55h-0.55zM87.8 392.3h0.55v0.55h-0.55zM117.4 375.8h0.55v0.55h-0.55zM110.5 427.6h0.55v0.55h-0.55zM104.1 386.0h0.55v0.55h-0.55zM88.4 412.4h0.55v0.55h-0.55zM106.0 430.3h0.55v0.55h-0.55zM111.8 376.2h0.55v0.55h-0.55zM91.5 421.1h0.55v0.55h-0.55zM95.5 404.5h0.55v0.55h-0.55zM106.3 369.6h0.55v0.55h-0.55zM111.2 379.7h0.55v0.55h-0.55zM85.0 394.5h0.55v0.55h-0.55zM86.8 389.9h0.55v0.55h-0.55zM94.7 403.8h0.55v0.55h-0.55zM95.7 406.4h0.55v0.55h-0.55zM116.8 374.8h0.55v0.55h-0.55zM89.3 391.1h0.55v0.55h-0.55zM94.7 401.7h0.55v0.55h-0.55zM96.9 375.1h0.55v0.55h-0.55zM115.4 372.5h0.55v0.55h-0.55zM95.1 389.7h0.55v0.55h-0.55zM106.1 388.2h0.55v0.55h-0.55zM100.1 390.8h0.55v0.55h-0.55zM98.5 394.2h0.55v0.55h-0.55zM85.9 385.4h0.55v0.55h-0.55zM98.8 388.2h0.55v0.55h-0.55zM93.3 416.3h0.55v0.55h-0.55zM92.5 384.3h0.55v0.55h-0.55zM101.2 381.9h0.55v0.55h-0.55zM105.4 378.0h0.55v0.55h-0.55zM107.4 378.6h0.55v0.55h-0.55zM99.2 390.0h0.55v0.55h-0.55zM86.6 418.3h0.55v0.55h-0.55zM92.6 369.2h0.55v0.55h-0.55zM116.6 382.0h0.55v0.55h-0.55zM111.5 383.6h0.55v0.55h-0.55zM112.8 383.7h0.55v0.55h-0.55zM95.0 428.0h0.55v0.55h-0.55zM105.3 386.3h0.55v0.55h-0.55zM111.7 427.1h0.55v0.55h-0.55zM98.1 384.8h0.55v0.55h-0.55zM107.8 384.2h0.55v0.55h-0.55zM99.8 376.5h0.55v0.55h-0.55zM97.7 382.4h0.55v0.55h-0.55zM100.8 375.6h0.55v0.55h-0.55zM85.4 374.9h0.55v0.55h-0.55zM104.5 384.2h0.55v0.55h-0.55zM99.5 375.7h0.55v0.55h-0.55zM99.8 379.7h0.55v0.55h-0.55zM94.7 384.0h0.55v0.55h-0.55zM95.1 396.4h0.55v0.55h-0.55zM100.2 376.6h0.55v0.55h-0.55zM88.8 408.4h0.55v0.55h-0.55zM112.0 386.8h0.55v0.55h-0.55zM103.5 366.1h0.55v0.55h-0.55zM95.2 397.5h0.55v0.55h-0.55zM90.3 409.1h0.55v0.55h-0.55zM79.8 414.7h0.55v0.55h-0.55zM101.0 366.5h0.55v0.55h-0.55zM94.2 389.8h0.55v0.55h-0.55zM117.0 382.0h0.55v0.55h-0.55zM93.2 406.0h0.55v0.55h-0.55zM119.1 383.2h0.55v0.55h-0.55zM104.6 384.3h0.55v0.55h-0.55zM99.7 376.7h0.55v0.55h-0.55zM114.0 368.9h0.55v0.55h-0.55zM107.5 371.1h0.55v0.55h-0.55zM110.4 383.9h0.55v0.55h-0.55zM119.2 425.6h0.55v0.55h-0.55zM97.8 397.0h0.55v0.55h-0.55zM95.4 403.9h0.55v0.55h-0.55zM90.5 386.9h0.55v0.55h-0.55zM99.4 384.1h0.55v0.55h-0.55zM110.8 428.5h0.55v0.55h-0.55zM94.2 400.8h0.55v0.55h-0.55zM113.2 426.2h0.55v0.55h-0.55zM94.7 428.0h0.55v0.55h-0.55zM85.4 425.5h0.55v0.55h-0.55zM90.7 382.1h0.55v0.55h-0.55zM88.8 398.7h0.55v0.55h-0.55zM100.4 430.4h0.55v0.55h-0.55zM108.8 385.5h0.55v0.55h-0.55zM89.8 390.9h0.55v0.55h-0.55zM96.2 387.9h0.55v0.55h-0.55zM90.1 399.4h0.55v0.55h-0.55zM102.0 378.1h0.55v0.55h-0.55zM92.5 386.0h0.55v0.55h-0.55zM86.2 429.1h0.55v0.55h-0.55zM94.6 402.0h0.55v0.55h-0.55zM90.7 395.0h0.55v0.55h-0.55zM108.4 376.9h0.55v0.55h-0.55zM98.4 387.8h0.55v0.55h-0.55zM98.7 391.8h0.55v0.55h-0.55zM109.3 388.5h0.55v0.55h-0.55zM101.8 382.9h0.55v0.55h-0.55zM105.2 375.6h0.55v0.55h-0.55zM108.5 431.0h0.55v0.55h-0.55zM90.1 403.6h0.55v0.55h-0.55zM95.6 383.1h0.55v0.55h-0.55zM94.2 430.7h0.55v0.55h-0.55zM86.3 424.0h0.55v0.55h-0.55zM98.6 383.0h0.55v0.55h-0.55zM111.2 383.6h0.55v0.55h-0.55zM97.6 376.4h0.55v0.55h-0.55zM93.3 393.6h0.55v0.55h-0.55zM109.3 385.3h0.55v0.55h-0.55zM94.0 409.4h0.55v0.55h-0.55zM110.5 381.5h0.55v0.55h-0.55zM103.4 382.3h0.55v0.55h-0.55zM103.3 382.3h0.55v0.55h-0.55zM107.3 379.6h0.55v0.55h-0.55zM114.4 377.6h0.55v0.55h-0.55zM96.9 391.6h0.55v0.55h-0.55zM99.1 390.3h0.55v0.55h-0.55zM90.5 420.0h0.55v0.55h-0.55zM109.9 372.9h0.55v0.55h-0.55zM119.4 375.9h0.55v0.55h-0.55zM105.3 387.2h0.55v0.55h-0.55zM103.7 385.8h0.55v0.55h-0.55zM111.0 381.1h0.55v0.55h-0.55zM103.9 374.2h0.55v0.55h-0.55zM94.0 427.1h0.55v0.55h-0.55zM105.1 383.2h0.55v0.55h-0.55zM108.4 429.5h0.55v0.55h-0.55zM118.0 421.9h0.55v0.55h-0.55zM89.0 388.0h0.55v0.55h-0.55zM98.4 389.5h0.55v0.55h-0.55zM100.2 386.6h0.55v0.55h-0.55zM115.8 425.6h0.55v0.55h-0.55zM102.3 368.4h0.55v0.55h-0.55zM111.8 379.4h0.55v0.55h-0.55zM105.3 382.4h0.55v0.55h-0.55zM103.3 388.7h0.55v0.55h-0.55zM94.8 428.2h0.55v0.55h-0.55zM115.0 377.3h0.55v0.55h-0.55zM104.3 383.6h0.55v0.55h-0.55zM96.4 392.9h0.55v0.55h-0.55zM105.1 379.2h0.55v0.55h-0.55zM118.6 424.2h0.55v0.55h-0.55zM101.9 378.3h0.55v0.55h-0.55zM96.3 390.5h0.55v0.55h-0.55zM86.3 415.9h0.55v0.55h-0.55zM84.5 411.6h0.55v0.55h-0.55zM106.6 382.2h0.55v0.55h-0.55zM101.8 388.1h0.55v0.55h-0.55zM94.7 425.2h0.55v0.55h-0.55zM105.6 387.6h0.55v0.55h-0.55zM79.5 429.0h0.55v0.55h-0.55zM84.7 389.2h0.55v0.55h-0.55zM95.3 388.4h0.55v0.55h-0.55zM103.3 385.5h0.55v0.55h-0.55zM91.2 397.1h0.55v0.55h-0.55zM92.2 404.9h0.55v0.55h-0.55zM106.8 376.2h0.55v0.55h-0.55zM95.4 396.6h0.55v0.55h-0.55zM100.6 383.8h0.55v0.55h-0.55zM87.5 380.3h0.55v0.55h-0.55zM89.6 411.1h0.55v0.55h-0.55zM112.2 387.7h0.55v0.55h-0.55zM94.4 428.3h0.55v0.55h-0.55zM115.9 366.1h0.55v0.55h-0.55zM90.1 385.2h0.55v0.55h-0.55zM92.2 428.3h0.55v0.55h-0.55zM94.3 401.0h0.55v0.55h-0.55zM86.1 404.9h0.55v0.55h-0.55zM95.1 406.3h0.55v0.55h-0.55zM106.9 380.3h0.55v0.55h-0.55zM80.8 403.6h0.55v0.55h-0.55zM97.4 387.5h0.55v0.55h-0.55zM93.8 409.8h0.55v0.55h-0.55zM99.9 384.7h0.55v0.55h-0.55zM109.6 376.9h0.55v0.55h-0.55zM94.9 392.8h0.55v0.55h-0.55zM107.1 429.1h0.55v0.55h-0.55zM106.3 382.3h0.55v0.55h-0.55zM90.1 412.5h0.55v0.55h-0.55zM97.5 375.8h0.55v0.55h-0.55zM106.5 376.9h0.55v0.55h-0.55zM88.9 421.3h0.55v0.55h-0.55zM110.2 379.8h0.55v0.55h-0.55zM116.6 375.7h0.55v0.55h-0.55zM97.7 398.3h0.55v0.55h-0.55zM85.5 398.9h0.55v0.55h-0.55zM95.4 401.9h0.55v0.55h-0.55zM88.1 402.0h0.55v0.55h-0.55zM92.9 410.6h0.55v0.55h-0.55zM80.3 398.2h0.55v0.55h-0.55zM94.4 391.8h0.55v0.55h-0.55zM99.0 386.5h0.55v0.55h-0.55zM85.6 385.2h0.55v0.55h-0.55zM97.3 399.0h0.55v0.55h-0.55zM115.1 378.2h0.55v0.55h-0.55zM104.2 373.6h0.55v0.55h-0.55zM92.0 396.2h0.55v0.55h-0.55zM96.1 390.0h0.55v0.55h-0.55zM116.6 376.6h0.55v0.55h-0.55zM79.8 394.4h0.55v0.55h-0.55zM112.9 384.0h0.55v0.55h-0.55zM102.7 379.8h0.55v0.55h-0.55zM99.7 387.8h0.55v0.55h-0.55zM103.0 390.0h0.55v0.55h-0.55zM102.8 430.2h0.55v0.55h-0.55zM112.3 386.4h0.55v0.55h-0.55zM95.8 427.7h0.55v0.55h-0.55zM94.8 403.6h0.55v0.55h-0.55zM91.1 413.1h0.55v0.55h-0.55zM100.1 385.0h0.55v0.55h-0.55zM105.7 429.4h0.55v0.55h-0.55zM98.5 383.7h0.55v0.55h-0.55zM92.4 390.3h0.55v0.55h-0.55zM107.8 381.3h0.55v0.55h-0.55zM114.5 367.2h0.55v0.55h-0.55zM96.4 404.9h0.55v0.55h-0.55zM94.7 402.5h0.55v0.55h-0.55zM102.9 389.2h0.55v0.55h-0.55zM106.6 379.0h0.55v0.55h-0.55zM110.4 380.3h0.55v0.55h-0.55zM89.6 428.0h0.55v0.55h-0.55zM105.0 373.4h0.55v0.55h-0.55zM97.9 384.8h0.55v0.55h-0.55zM100.3 382.2h0.55v0.55h-0.55zM105.7 387.7h0.55v0.55h-0.55zM96.6 396.3h0.55v0.55h-0.55zM101.2 388.3h0.55v0.55h-0.55zM102.2 379.2h0.55v0.55h-0.55zM100.1 388.8h0.55v0.55h-0.55zM100.3 377.8h0.55v0.55h-0.55zM113.6 377.3h0.55v0.55h-0.55zM93.9 401.2h0.55v0.55h-0.55zM114.4 425.5h0.55v0.55h-0.55zM115.6 381.2h0.55v0.55h-0.55zM115.7 365.8h0.55v0.55h-0.55zM94.1 415.9h0.55v0.55h-0.55zM112.9 379.2h0.55v0.55h-0.55zM100.3 391.4h0.55v0.55h-0.55zM116.2 382.7h0.55v0.55h-0.55zM103.8 384.8h0.55v0.55h-0.55zM80.1 424.1h0.55v0.55h-0.55zM113.8 381.9h0.55v0.55h-0.55zM114.2 376.0h0.55v0.55h-0.55zM113.3 427.9h0.55v0.55h-0.55zM115.5 379.7h0.55v0.55h-0.55zM106.3 379.3h0.55v0.55h-0.55zM78.4 417.8h0.55v0.55h-0.55zM110.2 428.2h0.55v0.55h-0.55zM96.6 428.9h0.55v0.55h-0.55zM99.5 379.2h0.55v0.55h-0.55zM98.5 390.9h0.55v0.55h-0.55zM96.8 399.5h0.55v0.55h-0.55zM104.2 375.6h0.55v0.55h-0.55zM114.6 428.4h0.55v0.55h-0.55zM86.8 426.4h0.55v0.55h-0.55zM95.6 397.8h0.55v0.55h-0.55zM88.4 401.2h0.55v0.55h-0.55zM91.7 419.2h0.55v0.55h-0.55zM87.5 375.6h0.55v0.55h-0.55zM105.4 379.8h0.55v0.55h-0.55zM96.9 389.8h0.55v0.55h-0.55zM93.6 425.5h0.55v0.55h-0.55zM99.4 392.4h0.55v0.55h-0.55zM111.7 384.0h0.55v0.55h-0.55zM90.6 409.8h0.55v0.55h-0.55zM92.1 402.1h0.55v0.55h-0.55zM94.3 425.6h0.55v0.55h-0.55zM112.1 378.4h0.55v0.55h-0.55zM91.2 378.5h0.55v0.55h-0.55zM107.9 428.3h0.55v0.55h-0.55zM100.1 374.3h0.55v0.55h-0.55zM95.4 428.9h0.55v0.55h-0.55zM114.1 429.0h0.55v0.55h-0.55zM115.3 372.9h0.55v0.55h-0.55zM90.9 421.8h0.55v0.55h-0.55zM92.1 384.8h0.55v0.55h-0.55zM116.5 375.7h0.55v0.55h-0.55zM103.7 387.3h0.55v0.55h-0.55zM110.8 383.0h0.55v0.55h-0.55zM99.6 429.9h0.55v0.55h-0.55zM102.7 377.6h0.55v0.55h-0.55zM107.9 380.4h0.55v0.55h-0.55zM82.3 375.4h0.55v0.55h-0.55zM84.3 423.9h0.55v0.55h-0.55zM81.3 389.9h0.55v0.55h-0.55zM89.5 424.0h0.55v0.55h-0.55zM113.2 429.7h0.55v0.55h-0.55zM92.7 421.7h0.55v0.55h-0.55zM98.0 382.1h0.55v0.55h-0.55zM80.6 413.8h0.55v0.55h-0.55zM104.1 375.6h0.55v0.55h-0.55zM113.6 386.6h0.55v0.55h-0.55zM116.6 368.3h0.55v0.55h-0.55zM105.9 380.2h0.55v0.55h-0.55zM105.0 371.6h0.55v0.55h-0.55zM80.7 386.2h0.55v0.55h-0.55zM95.3 371.7h0.55v0.55h-0.55zM88.1 399.4h0.55v0.55h-0.55zM87.0 385.0h0.55v0.55h-0.55zM99.4 377.4h0.55v0.55h-0.55zM90.7 415.7h0.55v0.55h-0.55zM105.6 384.8h0.55v0.55h-0.55zM93.1 406.8h0.55v0.55h-0.55zM100.8 384.4h0.55v0.55h-0.55zM88.8 404.5h0.55v0.55h-0.55zM102.1 375.9h0.55v0.55h-0.55zM115.1 384.7h0.55v0.55h-0.55zM110.6 386.9h0.55v0.55h-0.55zM96.9 400.3h0.55v0.55h-0.55zM82.9 413.4h0.55v0.55h-0.55zM94.4 416.6h0.55v0.55h-0.55zM87.0 413.2h0.55v0.55h-0.55zM103.4 382.4h0.55v0.55h-0.55zM93.8 401.4h0.55v0.55h-0.55zM98.4 394.7h0.55v0.55h-0.55zM93.5 409.5h0.55v0.55h-0.55zM89.7 403.3h0.55v0.55h-0.55zM112.3 427.2h0.55v0.55h-0.55zM89.6 409.2h0.55v0.55h-0.55zM97.0 390.6h0.55v0.55h-0.55zM108.3 380.9h0.55v0.55h-0.55zM84.9 396.2h0.55v0.55h-0.55zM83.2 393.7h0.55v0.55h-0.55zM95.2 389.5h0.55v0.55h-0.55zM91.9 391.4h0.55v0.55h-0.55zM93.5 396.6h0.55v0.55h-0.55zM95.5 412.6h0.55v0.55h-0.55zM108.6 429.2h0.55v0.55h-0.55zM113.3 386.7h0.55v0.55h-0.55zM114.5 373.3h0.55v0.55h-0.55zM84.1 404.7h0.55v0.55h-0.55zM94.4 414.9h0.55v0.55h-0.55zM114.2 430.7h0.55v0.55h-0.55zM95.0 413.4h0.55v0.55h-0.55zM102.1 388.3h0.55v0.55h-0.55zM114.5 381.8h0.55v0.55h-0.55zM103.1 378.4h0.55v0.55h-0.55zM100.8 380.0h0.55v0.55h-0.55zM101.7 371.0h0.55v0.55h-0.55zM111.4 376.6h0.55v0.55h-0.55zM89.8 407.1h0.55v0.55h-0.55zM98.0 394.8h0.55v0.55h-0.55zM103.8 387.1h0.55v0.55h-0.55zM95.7 401.4h0.55v0.55h-0.55zM105.0 375.5h0.55v0.55h-0.55zM86.0 409.0h0.55v0.55h-0.55zM91.7 409.3h0.55v0.55h-0.55zM102.2 379.9h0.55v0.55h-0.55zM93.0 403.0h0.55v0.55h-0.55zM106.7 388.0h0.55v0.55h-0.55zM102.2 429.8h0.55v0.55h-0.55zM116.5 379.5h0.55v0.55h-0.55zM86.3 424.3h0.55v0.55h-0.55zM92.8 390.0h0.55v0.55h-0.55zM96.7 402.8h0.55v0.55h-0.55zM101.8 383.6h0.55v0.55h-0.55zM86.1 405.9h0.55v0.55h-0.55zM88.6 412.5h0.55v0.55h-0.55zM96.5 405.9h0.55v0.55h-0.55zM107.7 386.6h0.55v0.55h-0.55zM107.0 373.1h0.55v0.55h-0.55zM115.6 373.2h0.55v0.55h-0.55zM106.2 377.7h0.55v0.55h-0.55zM91.9 397.8h0.55v0.55h-0.55zM113.1 429.0h0.55v0.55h-0.55zM96.7 379.8h0.55v0.55h-0.55zM93.9 383.2h0.55v0.55h-0.55zM83.4 400.6h0.55v0.55h-0.55zM82.3 427.0h0.55v0.55h-0.55zM115.4 372.2h0.55v0.55h-0.55zM90.0 380.5h0.55v0.55h-0.55zM107.7 375.7h0.55v0.55h-0.55zM112.8 385.5h0.55v0.55h-0.55zM94.6 400.2h0.55v0.55h-0.55zM101.4 386.3h0.55v0.55h-0.55zM94.7 427.3h0.55v0.55h-0.55zM86.0 391.3h0.55v0.55h-0.55zM95.6 393.1h0.55v0.55h-0.55zM108.8 388.5h0.55v0.55h-0.55zM93.3 379.2h0.55v0.55h-0.55zM90.0 414.7h0.55v0.55h-0.55zM110.0 376.5h0.55v0.55h-0.55zM94.6 373.9h0.55v0.55h-0.55zM112.7 427.2h0.55v0.55h-0.55zM99.0 386.4h0.55v0.55h-0.55zM95.7 375.9h0.55v0.55h-0.55zM106.5 369.9h0.55v0.55h-0.55zM98.4 370.9h0.55v0.55h-0.55zM111.1 383.4h0.55v0.55h-0.55zM114.2 377.9h0.55v0.55h-0.55zM89.4 401.6h0.55v0.55h-0.55zM88.3 412.5h0.55v0.55h-0.55zM105.0 380.3h0.55v0.55h-0.55zM94.3 409.4h0.55v0.55h-0.55zM85.9 401.1h0.55v0.55h-0.55zM99.3 387.9h0.55v0.55h-0.55zM102.2 430.0h0.55v0.55h-0.55zM96.5 428.0h0.55v0.55h-0.55zM119.5 378.4h0.55v0.55h-0.55zM91.6 426.6h0.55v0.55h-0.55zM97.7 397.6h0.55v0.55h-0.55zM99.7 376.4h0.55v0.55h-0.55zM95.6 406.6h0.55v0.55h-0.55zM117.4 382.4h0.55v0.55h-0.55zM93.6 386.8h0.55v0.55h-0.55zM102.7 379.8h0.55v0.55h-0.55zM92.3 405.0h0.55v0.55h-0.55zM93.4 385.6h0.55v0.55h-0.55zM109.2 384.8h0.55v0.55h-0.55zM97.1 401.8h0.55v0.55h-0.55zM114.8 382.9h0.55v0.55h-0.55zM110.2 384.5h0.55v0.55h-0.55zM107.9 378.9h0.55v0.55h-0.55zM93.1 429.5h0.55v0.55h-0.55zM95.2 426.6h0.55v0.55h-0.55zM99.1 384.6h0.55v0.55h-0.55zM111.4 379.3h0.55v0.55h-0.55zM95.1 390.0h0.55v0.55h-0.55zM91.6 391.2h0.55v0.55h-0.55zM115.8 372.8h0.55v0.55h-0.55zM110.3 379.2h0.55v0.55h-0.55zM99.3 393.6h0.55v0.55h-0.55zM110.8 367.5h0.55v0.55h-0.55zM91.8 422.2h0.55v0.55h-0.55zM98.9 393.2h0.55v0.55h-0.55zM97.4 428.1h0.55v0.55h-0.55zM116.0 380.2h0.55v0.55h-0.55zM116.0 426.0h0.55v0.55h-0.55zM93.8 417.2h0.55v0.55h-0.55zM94.9 377.7h0.55v0.55h-0.55zM115.5 377.4h0.55v0.55h-0.55zM108.5 383.0h0.55v0.55h-0.55zM107.2 381.1h0.55v0.55h-0.55zM88.1 411.2h0.55v0.55h-0.55zM86.2 388.8h0.55v0.55h-0.55zM103.1 379.9h0.55v0.55h-0.55zM98.0 390.2h0.55v0.55h-0.55zM111.0 380.7h0.55v0.55h-0.55zM112.9 381.2h0.55v0.55h-0.55zM109.0 385.0h0.55v0.55h-0.55zM119.1 380.9h0.55v0.55h-0.55zM111.0 386.5h0.55v0.55h-0.55zM95.8 409.0h0.55v0.55h-0.55zM111.8 380.8h0.55v0.55h-0.55zM107.6 386.8h0.55v0.55h-0.55zM93.3 383.8h0.55v0.55h-0.55zM117.6 382.9h0.55v0.55h-0.55zM88.2 427.9h0.55v0.55h-0.55zM116.4 375.9h0.55v0.55h-0.55zM97.5 381.9h0.55v0.55h-0.55zM104.9 375.4h0.55v0.55h-0.55zM116.6 376.7h0.55v0.55h-0.55zM93.1 425.8h0.55v0.55h-0.55zM94.8 393.2h0.55v0.55h-0.55zM93.8 382.6h0.55v0.55h-0.55zM94.2 390.3h0.55v0.55h-0.55zM88.9 370.8h0.55v0.55h-0.55zM89.7 396.2h0.55v0.55h-0.55zM115.0 426.0h0.55v0.55h-0.55zM95.1 379.0h0.55v0.55h-0.55zM98.2 429.3h0.55v0.55h-0.55zM114.8 382.2h0.55v0.55h-0.55zM98.9 429.3h0.55v0.55h-0.55zM84.9 404.0h0.55v0.55h-0.55zM110.6 376.7h0.55v0.55h-0.55zM107.8 371.7h0.55v0.55h-0.55zM105.8 389.3h0.55v0.55h-0.55zM90.0 392.6h0.55v0.55h-0.55zM93.2 380.8h0.55v0.55h-0.55zM94.9 405.7h0.55v0.55h-0.55zM108.9 429.0h0.55v0.55h-0.55zM98.7 381.3h0.55v0.55h-0.55zM100.7 391.4h0.55v0.55h-0.55zM112.3 384.3h0.55v0.55h-0.55zM98.2 371.4h0.55v0.55h-0.55zM94.1 407.0h0.55v0.55h-0.55zM88.4 423.0h0.55v0.55h-0.55zM93.1 397.1h0.55v0.55h-0.55zM119.5 377.8h0.55v0.55h-0.55zM95.9 403.7h0.55v0.55h-0.55zM92.5 401.3h0.55v0.55h-0.55zM106.2 365.4h0.55v0.55h-0.55zM118.9 381.4h0.55v0.55h-0.55zM104.0 382.4h0.55v0.55h-0.55zM98.6 394.1h0.55v0.55h-0.55zM113.6 382.0h0.55v0.55h-0.55zM88.3 409.6h0.55v0.55h-0.55zM99.3 389.2h0.55v0.55h-0.55zM89.0 387.4h0.55v0.55h-0.55zM114.3 428.1h0.55v0.55h-0.55zM94.9 406.3h0.55v0.55h-0.55zM96.6 429.9h0.55v0.55h-0.55zM106.7 384.5h0.55v0.55h-0.55zM101.5 372.0h0.55v0.55h-0.55zM107.8 382.0h0.55v0.55h-0.55zM98.7 389.8h0.55v0.55h-0.55zM102.7 430.0h0.55v0.55h-0.55zM95.4 401.1h0.55v0.55h-0.55zM88.3 388.1h0.55v0.55h-0.55zM92.1 395.1h0.55v0.55h-0.55zM94.7 414.9h0.55v0.55h-0.55zM112.0 383.2h0.55v0.55h-0.55zM100.0 390.0h0.55v0.55h-0.55zM100.2 392.5h0.55v0.55h-0.55zM98.0 384.1h0.55v0.55h-0.55zM111.0 371.6h0.55v0.55h-0.55zM109.4 378.3h0.55v0.55h-0.55zM90.0 398.5h0.55v0.55h-0.55zM109.8 388.5h0.55v0.55h-0.55zM88.4 407.7h0.55v0.55h-0.55zM90.5 401.7h0.55v0.55h-0.55zM91.6 429.4h0.55v0.55h-0.55zM111.8 381.3h0.55v0.55h-0.55zM93.0 416.0h0.55v0.55h-0.55zM115.9 378.1h0.55v0.55h-0.55zM100.3 388.0h0.55v0.55h-0.55zM92.4 394.9h0.55v0.55h-0.55zM113.7 376.4h0.55v0.55h-0.55zM112.0 430.2h0.55v0.55h-0.55zM103.8 379.8h0.55v0.55h-0.55zM115.5 380.3h0.55v0.55h-0.55zM112.9 378.2h0.55v0.55h-0.55zM92.9 385.9h0.55v0.55h-0.55zM84.8 428.2h0.55v0.55h-0.55zM96.1 411.1h0.55v0.55h-0.55zM91.0 395.2h0.55v0.55h-0.55zM115.4 381.0h0.55v0.55h-0.55zM92.0 413.3h0.55v0.55h-0.55zM115.6 429.2h0.55v0.55h-0.55zM114.0 385.3h0.55v0.55h-0.55zM98.4 384.3h0.55v0.55h-0.55zM99.2 389.8h0.55v0.55h-0.55zM110.0 384.9h0.55v0.55h-0.55zM106.9 384.0h0.55v0.55h-0.55zM92.1 386.5h0.55v0.55h-0.55zM101.9 386.6h0.55v0.55h-0.55zM90.4 414.8h0.55v0.55h-0.55zM114.9 384.0h0.55v0.55h-0.55zM94.4 415.0h0.55v0.55h-0.55zM113.2 380.0h0.55v0.55h-0.55zM102.6 381.1h0.55v0.55h-0.55zM99.3 388.1h0.55v0.55h-0.55zM103.4 374.8h0.55v0.55h-0.55zM110.6 377.7h0.55v0.55h-0.55zM90.9 397.1h0.55v0.55h-0.55zM104.1 373.7h0.55v0.55h-0.55zM98.7 393.3h0.55v0.55h-0.55zM107.6 429.5h0.55v0.55h-0.55zM94.6 387.8h0.55v0.55h-0.55zM111.9 382.8h0.55v0.55h-0.55zM108.6 378.2h0.55v0.55h-0.55zM85.9 425.0h0.55v0.55h-0.55zM95.8 381.9h0.55v0.55h-0.55zM109.9 384.9h0.55v0.55h-0.55zM108.9 430.8h0.55v0.55h-0.55zM92.3 421.4h0.55v0.55h-0.55zM95.6 392.1h0.55v0.55h-0.55zM109.7 383.1h0.55v0.55h-0.55zM110.2 372.8h0.55v0.55h-0.55zM95.4 411.9h0.55v0.55h-0.55zM111.7 427.4h0.55v0.55h-0.55zM92.7 402.6h0.55v0.55h-0.55zM88.0 404.1h0.55v0.55h-0.55zM88.2 401.1h0.55v0.55h-0.55zM108.1 378.0h0.55v0.55h-0.55zM100.9 385.0h0.55v0.55h-0.55zM96.3 402.3h0.55v0.55h-0.55zM100.6 380.8h0.55v0.55h-0.55zM107.6 376.0h0.55v0.55h-0.55zM113.6 385.9h0.55v0.55h-0.55zM111.9 373.4h0.55v0.55h-0.55zM117.0 378.5h0.55v0.55h-0.55zM99.6 389.8h0.55v0.55h-0.55zM102.0 365.4h0.55v0.55h-0.55zM101.5 388.0h0.55v0.55h-0.55zM114.7 381.9h0.55v0.55h-0.55zM93.5 406.5h0.55v0.55h-0.55zM88.5 429.6h0.55v0.55h-0.55zM103.2 429.8h0.55v0.55h-0.55zM109.3 366.7h0.55v0.55h-0.55zM111.4 371.8h0.55v0.55h-0.55zM97.2 375.4h0.55v0.55h-0.55zM110.5 430.3h0.55v0.55h-0.55zM94.9 384.8h0.55v0.55h-0.55zM95.5 386.8h0.55v0.55h-0.55zM95.1 384.4h0.55v0.55h-0.55zM105.4 389.1h0.55v0.55h-0.55zM98.7 379.8h0.55v0.55h-0.55zM115.8 382.6h0.55v0.55h-0.55zM112.3 377.5h0.55v0.55h-0.55zM99.5 381.5h0.55v0.55h-0.55zM117.4 383.3h0.55v0.55h-0.55zM116.2 375.1h0.55v0.55h-0.55zM102.0 430.1h0.55v0.55h-0.55zM117.4 426.8h0.55v0.55h-0.55zM93.3 389.1h0.55v0.55h-0.55zM101.9 380.6h0.55v0.55h-0.55zM110.2 370.4h0.55v0.55h-0.55zM93.9 408.4h0.55v0.55h-0.55zM95.8 429.4h0.55v0.55h-0.55zM111.2 379.5h0.55v0.55h-0.55zM112.6 383.4h0.55v0.55h-0.55zM92.6 382.4h0.55v0.55h-0.55zM96.5 400.4h0.55v0.55h-0.55zM109.1 378.5h0.55v0.55h-0.55zM103.5 374.5h0.55v0.55h-0.55zM95.3 380.7h0.55v0.55h-0.55zM111.9 384.0h0.55v0.55h-0.55zM91.6 421.1h0.55v0.55h-0.55zM104.2 375.0h0.55v0.55h-0.55zM110.5 381.6h0.55v0.55h-0.55zM115.5 377.2h0.55v0.55h-0.55zM101.3 389.9h0.55v0.55h-0.55zM111.9 428.2h0.55v0.55h-0.55zM108.0 385.1h0.55v0.55h-0.55zM119.3 420.8h0.55v0.55h-0.55zM86.7 402.1h0.55v0.55h-0.55zM87.7 404.7h0.55v0.55h-0.55zM110.8 383.5h0.55v0.55h-0.55zM106.9 377.9h0.55v0.55h-0.55zM119.3 384.7h0.55v0.55h-0.55zM89.3 411.4h0.55v0.55h-0.55zM110.6 384.0h0.55v0.55h-0.55zM98.2 370.6h0.55v0.55h-0.55zM83.9 400.4h0.55v0.55h-0.55zM102.7 381.9h0.55v0.55h-0.55zM85.3 380.1h0.55v0.55h-0.55zM93.5 378.9h0.55v0.55h-0.55zM103.3 373.8h0.55v0.55h-0.55zM94.9 375.9h0.55v0.55h-0.55zM107.7 375.7h0.55v0.55h-0.55zM93.0 426.1h0.55v0.55h-0.55zM106.3 382.5h0.55v0.55h-0.55zM98.4 396.2h0.55v0.55h-0.55zM106.4 373.0h0.55v0.55h-0.55zM111.8 385.4h0.55v0.55h-0.55zM105.8 378.4h0.55v0.55h-0.55zM101.9 382.8h0.55v0.55h-0.55zM111.0 383.8h0.55v0.55h-0.55zM115.5 428.8h0.55v0.55h-0.55zM101.9 387.0h0.55v0.55h-0.55zM106.0 378.7h0.55v0.55h-0.55zM112.6 385.5h0.55v0.55h-0.55zM94.3 399.9h0.55v0.55h-0.55zM93.4 429.1h0.55v0.55h-0.55zM110.3 384.1h0.55v0.55h-0.55zM113.4 369.1h0.55v0.55h-0.55zM116.5 375.9h0.55v0.55h-0.55zM90.7 406.5h0.55v0.55h-0.55zM94.0 396.1h0.55v0.55h-0.55zM95.6 426.5h0.55v0.55h-0.55zM112.6 384.8h0.55v0.55h-0.55zM101.6 385.3h0.55v0.55h-0.55zM89.3 387.4h0.55v0.55h-0.55zM108.2 377.2h0.55v0.55h-0.55zM108.6 382.3h0.55v0.55h-0.55zM103.8 377.7h0.55v0.55h-0.55zM97.0 397.7h0.55v0.55h-0.55zM111.1 427.9h0.55v0.55h-0.55zM90.4 411.1h0.55v0.55h-0.55zM113.1 383.9h0.55v0.55h-0.55zM111.7 370.4h0.55v0.55h-0.55zM114.2 427.6h0.55v0.55h-0.55zM97.2 377.4h0.55v0.55h-0.55zM106.8 371.6h0.55v0.55h-0.55zM105.1 378.1h0.55v0.55h-0.55zM110.0 380.9h0.55v0.55h-0.55zM106.9 378.6h0.55v0.55h-0.55zM109.1 380.0h0.55v0.55h-0.55zM93.9 408.0h0.55v0.55h-0.55zM110.8 387.4h0.55v0.55h-0.55zM90.4 415.6h0.55v0.55h-0.55zM112.0 377.0h0.55v0.55h-0.55zM99.8 388.8h0.55v0.55h-0.55zM94.2 386.4h0.55v0.55h-0.55zM110.7 429.6h0.55v0.55h-0.55zM90.8 391.3h0.55v0.55h-0.55zM86.5 395.3h0.55v0.55h-0.55zM108.5 386.1h0.55v0.55h-0.55zM100.3 392.2h0.55v0.55h-0.55zM116.0 382.0h0.55v0.55h-0.55zM103.2 373.3h0.55v0.55h-0.55zM103.3 382.2h0.55v0.55h-0.55zM103.6 379.8h0.55v0.55h-0.55zM95.4 382.6h0.55v0.55h-0.55zM93.8 373.2h0.55v0.55h-0.55zM118.2 427.8h0.55v0.55h-0.55zM102.4 379.8h0.55v0.55h-0.55zM86.6 405.1h0.55v0.55h-0.55zM88.4 376.2h0.55v0.55h-0.55zM95.4 383.3h0.55v0.55h-0.55zM107.4 386.4h0.55v0.55h-0.55zM111.2 373.8h0.55v0.55h-0.55zM109.0 387.2h0.55v0.55h-0.55zM113.5 427.5h0.55v0.55h-0.55zM112.3 385.2h0.55v0.55h-0.55zM116.5 427.2h0.55v0.55h-0.55zM92.4 430.0h0.55v0.55h-0.55zM104.2 381.2h0.55v0.55h-0.55zM102.3 380.2h0.55v0.55h-0.55zM117.1 428.3h0.55v0.55h-0.55zM92.3 386.8h0.55v0.55h-0.55zM107.1 386.0h0.55v0.55h-0.55zM118.3 379.3h0.55v0.55h-0.55zM106.7 378.7h0.55v0.55h-0.55zM93.1 400.7h0.55v0.55h-0.55zM111.2 428.1h0.55v0.55h-0.55zM110.6 385.1h0.55v0.55h-0.55zM112.7 380.3h0.55v0.55h-0.55zM102.8 386.7h0.55v0.55h-0.55zM85.4 372.0h0.55v0.55h-0.55zM93.3 402.5h0.55v0.55h-0.55zM99.5 383.0h0.55v0.55h-0.55zM108.8 384.7h0.55v0.55h-0.55zM113.9 384.1h0.55v0.55h-0.55zM88.8 426.0h0.55v0.55h-0.55zM92.4 408.1h0.55v0.55h-0.55zM106.5 386.3h0.55v0.55h-0.55zM91.8 420.2h0.55v0.55h-0.55zM92.7 393.5h0.55v0.55h-0.55zM89.0 407.8h0.55v0.55h-0.55zM85.1 396.6h0.55v0.55h-0.55zM95.8 389.2h0.55v0.55h-0.55zM84.4 413.4h0.55v0.55h-0.55zM91.8 401.4h0.55v0.55h-0.55zM91.8 392.1h0.55v0.55h-0.55zM104.2 385.2h0.55v0.55h-0.55zM88.6 418.1h0.55v0.55h-0.55zM112.2 386.2h0.55v0.55h-0.55zM108.9 382.7h0.55v0.55h-0.55zM88.8 428.8h0.55v0.55h-0.55zM85.0 372.6h0.55v0.55h-0.55zM99.5 385.8h0.55v0.55h-0.55zM102.4 380.8h0.55v0.55h-0.55zM95.0 427.4h0.55v0.55h-0.55zM95.3 406.6h0.55v0.55h-0.55zM117.3 381.0h0.55v0.55h-0.55zM99.7 429.0h0.55v0.55h-0.55zM102.7 379.8h0.55v0.55h-0.55zM85.3 390.7h0.55v0.55h-0.55zM103.2 386.3h0.55v0.55h-0.55zM115.6 426.0h0.55v0.55h-0.55zM103.2 371.5h0.55v0.55h-0.55zM89.2 410.6h0.55v0.55h-0.55zM112.8 382.7h0.55v0.55h-0.55zM88.6 400.2h0.55v0.55h-0.55zM89.2 387.9h0.55v0.55h-0.55zM97.4 380.7h0.55v0.55h-0.55zM99.0 368.5h0.55v0.55h-0.55zM96.5 408.2h0.55v0.55h-0.55zM118.5 421.7h0.55v0.55h-0.55zM100.6 430.7h0.55v0.55h-0.55zM94.8 403.8h0.55v0.55h-0.55zM112.2 428.0h0.55v0.55h-0.55zM117.5 381.8h0.55v0.55h-0.55zM118.7 374.4h0.55v0.55h-0.55zM90.1 393.7h0.55v0.55h-0.55zM100.2 385.4h0.55v0.55h-0.55zM93.6 385.9h0.55v0.55h-0.55zM93.8 407.0h0.55v0.55h-0.55zM96.2 403.7h0.55v0.55h-0.55zM92.9 397.7h0.55v0.55h-0.55zM99.1 386.4h0.55v0.55h-0.55zM96.6 428.6h0.55v0.55h-0.55zM99.9 383.0h0.55v0.55h-0.55zM114.2 429.4h0.55v0.55h-0.55zM110.3 377.6h0.55v0.55h-0.55zM85.6 398.3h0.55v0.55h-0.55zM94.2 412.3h0.55v0.55h-0.55zM108.5 385.5h0.55v0.55h-0.55zM88.5 414.0h0.55v0.55h-0.55zM102.9 388.6h0.55v0.55h-0.55zM110.4 428.3h0.55v0.55h-0.55zM92.9 405.1h0.55v0.55h-0.55zM92.2 398.8h0.55v0.55h-0.55zM88.3 419.6h0.55v0.55h-0.55zM106.1 385.8h0.55v0.55h-0.55zM112.7 427.4h0.55v0.55h-0.55zM95.9 392.1h0.55v0.55h-0.55zM98.5 394.4h0.55v0.55h-0.55zM102.5 378.2h0.55v0.55h-0.55zM93.7 391.5h0.55v0.55h-0.55zM117.3 376.6h0.55v0.55h-0.55zM110.9 379.6h0.55v0.55h-0.55zM104.6 381.3h0.55v0.55h-0.55zM103.1 383.0h0.55v0.55h-0.55zM105.7 388.4h0.55v0.55h-0.55zM98.7 393.3h0.55v0.55h-0.55zM94.6 426.7h0.55v0.55h-0.55zM104.0 386.3h0.55v0.55h-0.55zM109.2 371.4h0.55v0.55h-0.55zM115.4 382.1h0.55v0.55h-0.55zM103.5 378.7h0.55v0.55h-0.55zM108.9 378.3h0.55v0.55h-0.55zM108.3 366.9h0.55v0.55h-0.55zM95.5 397.3h0.55v0.55h-0.55zM88.0 390.4h0.55v0.55h-0.55zM95.0 413.4h0.55v0.55h-0.55zM96.7 384.7h0.55v0.55h-0.55zM90.7 425.7h0.55v0.55h-0.55zM112.7 382.5h0.55v0.55h-0.55zM115.5 381.0h0.55v0.55h-0.55zM92.4 389.5h0.55v0.55h-0.55zM94.5 371.9h0.55v0.55h-0.55zM87.8 405.6h0.55v0.55h-0.55zM99.2 384.2h0.55v0.55h-0.55zM104.7 384.7h0.55v0.55h-0.55zM109.5 373.9h0.55v0.55h-0.55zM107.3 383.7h0.55v0.55h-0.55zM107.7 430.9h0.55v0.55h-0.55zM114.1 379.6h0.55v0.55h-0.55zM107.0 384.7h0.55v0.55h-0.55zM92.3 423.1h0.55v0.55h-0.55zM93.8 408.8h0.55v0.55h-0.55zM109.6 378.1h0.55v0.55h-0.55zM106.2 385.6h0.55v0.55h-0.55zM99.1 375.0h0.55v0.55h-0.55zM80.8 390.7h0.55v0.55h-0.55zM102.3 382.5h0.55v0.55h-0.55zM100.7 383.5h0.55v0.55h-0.55zM84.7 400.7h0.55v0.55h-0.55zM104.6 380.9h0.55v0.55h-0.55zM104.1 364.9h0.55v0.55h-0.55zM108.2 378.8h0.55v0.55h-0.55zM96.3 389.6h0.55v0.55h-0.55zM94.1 383.5h0.55v0.55h-0.55zM101.4 388.8h0.55v0.55h-0.55zM92.7 387.6h0.55v0.55h-0.55zM104.0 379.4h0.55v0.55h-0.55zM89.8 406.1h0.55v0.55h-0.55zM119.8 380.8h0.55v0.55h-0.55zM90.8 392.8h0.55v0.55h-0.55zM107.3 376.7h0.55v0.55h-0.55zM117.6 383.1h0.55v0.55h-0.55zM100.2 372.4h0.55v0.55h-0.55zM108.9 385.2h0.55v0.55h-0.55zM89.6 408.2h0.55v0.55h-0.55zM94.7 394.8h0.55v0.55h-0.55zM90.7 399.7h0.55v0.55h-0.55zM114.5 382.3h0.55v0.55h-0.55zM94.4 416.7h0.55v0.55h-0.55zM103.0 390.0h0.55v0.55h-0.55zM103.3 389.4h0.55v0.55h-0.55zM112.0 428.5h0.55v0.55h-0.55zM97.1 370.4h0.55v0.55h-0.55zM106.7 382.4h0.55v0.55h-0.55zM109.0 382.1h0.55v0.55h-0.55zM101.3 381.3h0.55v0.55h-0.55zM85.6 386.7h0.55v0.55h-0.55zM86.4 430.0h0.55v0.55h-0.55zM91.9 427.8h0.55v0.55h-0.55zM93.0 383.4h0.55v0.55h-0.55zM101.3 383.1h0.55v0.55h-0.55zM93.6 401.3h0.55v0.55h-0.55zM111.8 372.1h0.55v0.55h-0.55zM86.3 396.3h0.55v0.55h-0.55zM107.6 371.4h0.55v0.55h-0.55zM107.6 374.0h0.55v0.55h-0.55zM108.8 376.2h0.55v0.55h-0.55zM111.6 383.3h0.55v0.55h-0.55zM85.9 392.2h0.55v0.55h-0.55zM95.2 398.9h0.55v0.55h-0.55zM92.6 392.2h0.55v0.55h-0.55zM97.0 389.0h0.55v0.55h-0.55zM84.6 391.5h0.55v0.55h-0.55zM98.9 380.3h0.55v0.55h-0.55zM97.8 392.2h0.55v0.55h-0.55zM106.4 429.6h0.55v0.55h-0.55zM99.2 430.8h0.55v0.55h-0.55zM87.8 392.2h0.55v0.55h-0.55zM90.0 382.8h0.55v0.55h-0.55zM112.8 386.7h0.55v0.55h-0.55zM101.9 389.4h0.55v0.55h-0.55zM104.6 365.5h0.55v0.55h-0.55zM94.5 426.9h0.55v0.55h-0.55zM96.8 385.1h0.55v0.55h-0.55zM103.7 387.2h0.55v0.55h-0.55zM96.4 380.5h0.55v0.55h-0.55zM111.9 378.6h0.55v0.55h-0.55zM102.3 382.9h0.55v0.55h-0.55zM98.2 381.9h0.55v0.55h-0.55zM111.2 376.9h0.55v0.55h-0.55zM84.9 388.7h0.55v0.55h-0.55zM102.9 390.0h0.55v0.55h-0.55zM90.7 424.8h0.55v0.55h-0.55zM107.2 388.1h0.55v0.55h-0.55zM107.1 382.1h0.55v0.55h-0.55zM100.0 391.0h0.55v0.55h-0.55zM94.0 376.8h0.55v0.55h-0.55zM93.7 408.7h0.55v0.55h-0.55zM91.0 402.8h0.55v0.55h-0.55zM96.3 404.8h0.55v0.55h-0.55zM100.4 382.6h0.55v0.55h-0.55zM105.1 383.3h0.55v0.55h-0.55zM86.3 411.8h0.55v0.55h-0.55zM110.2 378.5h0.55v0.55h-0.55zM85.2 409.8h0.55v0.55h-0.55zM107.3 376.2h0.55v0.55h-0.55zM110.9 378.3h0.55v0.55h-0.55zM95.2 383.2h0.55v0.55h-0.55zM93.0 378.8h0.55v0.55h-0.55zM87.9 397.0h0.55v0.55h-0.55zM107.7 382.3h0.55v0.55h-0.55zM118.2 426.7h0.55v0.55h-0.55zM89.7 400.7h0.55v0.55h-0.55zM99.8 385.3h0.55v0.55h-0.55zM93.4 410.8h0.55v0.55h-0.55zM96.3 398.2h0.55v0.55h-0.55zM109.3 372.8h0.55v0.55h-0.55zM84.7 411.8h0.55v0.55h-0.55zM97.8 398.4h0.55v0.55h-0.55zM91.2 375.6h0.55v0.55h-0.55zM112.3 430.3h0.55v0.55h-0.55zM110.4 385.5h0.55v0.55h-0.55zM95.5 382.5h0.55v0.55h-0.55zM112.6 384.9h0.55v0.55h-0.55zM96.4 382.3h0.55v0.55h-0.55zM114.6 377.5h0.55v0.55h-0.55zM90.1 405.2h0.55v0.55h-0.55zM95.7 409.2h0.55v0.55h-0.55zM113.3 377.6h0.55v0.55h-0.55zM96.3 407.6h0.55v0.55h-0.55zM96.2 430.9h0.55v0.55h-0.55zM111.2 376.7h0.55v0.55h-0.55zM97.6 399.4h0.55v0.55h-0.55zM94.0 399.1h0.55v0.55h-0.55zM102.3 390.1h0.55v0.55h-0.55zM93.7 412.9h0.55v0.55h-0.55zM89.5 415.3h0.55v0.55h-0.55zM90.6 390.1h0.55v0.55h-0.55zM115.3 377.8h0.55v0.55h-0.55zM107.4 383.7h0.55v0.55h-0.55zM112.0 428.1h0.55v0.55h-0.55zM104.0 378.9h0.55v0.55h-0.55zM91.0 382.9h0.55v0.55h-0.55zM115.3 426.8h0.55v0.55h-0.55zM110.1 429.5h0.55v0.55h-0.55zM86.0 397.7h0.55v0.55h-0.55zM107.9 382.9h0.55v0.55h-0.55zM113.2 384.6h0.55v0.55h-0.55zM102.3 384.1h0.55v0.55h-0.55zM98.3 376.1h0.55v0.55h-0.55zM101.6 383.1h0.55v0.55h-0.55zM110.3 381.4h0.55v0.55h-0.55zM84.7 375.0h0.55v0.55h-0.55zM103.0 379.9h0.55v0.55h-0.55zM113.7 381.5h0.55v0.55h-0.55zM115.9 383.6h0.55v0.55h-0.55zM108.3 430.4h0.55v0.55h-0.55zM99.0 428.8h0.55v0.55h-0.55zM103.1 382.5h0.55v0.55h-0.55zM101.3 386.2h0.55v0.55h-0.55zM87.0 398.0h0.55v0.55h-0.55zM89.4 409.4h0.55v0.55h-0.55zM98.9 386.4h0.55v0.55h-0.55zM113.5 380.6h0.55v0.55h-0.55zM109.7 385.3h0.55v0.55h-0.55zM107.8 376.5h0.55v0.55h-0.55zM101.6 388.1h0.55v0.55h-0.55zM107.2 372.7h0.55v0.55h-0.55zM119.7 384.5h0.55v0.55h-0.55zM119.4 380.5h0.55v0.55h-0.55zM93.3 415.3h0.55v0.55h-0.55zM105.4 378.4h0.55v0.55h-0.55zM92.4 406.5h0.55v0.55h-0.55zM99.2 393.5h0.55v0.55h-0.55zM119.5 428.7h0.55v0.55h-0.55zM96.8 429.7h0.55v0.55h-0.55zM114.8 377.1h0.55v0.55h-0.55zM97.7 375.1h0.55v0.55h-0.55zM112.7 372.0h0.55v0.55h-0.55zM113.2 381.6h0.55v0.55h-0.55zM115.5 370.3h0.55v0.55h-0.55zM108.8 386.1h0.55v0.55h-0.55zM87.6 406.5h0.55v0.55h-0.55zM93.8 406.7h0.55v0.55h-0.55zM112.6 382.8h0.55v0.55h-0.55zM94.5 394.3h0.55v0.55h-0.55zM101.4 373.6h0.55v0.55h-0.55zM91.8 401.1h0.55v0.55h-0.55zM112.3 374.9h0.55v0.55h-0.55zM92.9 406.5h0.55v0.55h-0.55zM108.0 382.3h0.55v0.55h-0.55zM118.9 374.8h0.55v0.55h-0.55zM105.8 385.4h0.55v0.55h-0.55zM100.6 384.0h0.55v0.55h-0.55zM82.0 412.2h0.55v0.55h-0.55zM86.0 428.3h0.55v0.55h-0.55zM108.1 382.2h0.55v0.55h-0.55zM94.2 411.7h0.55v0.55h-0.55zM109.2 375.6h0.55v0.55h-0.55zM93.4 409.9h0.55v0.55h-0.55zM93.5 392.2h0.55v0.55h-0.55zM94.5 400.5h0.55v0.55h-0.55zM119.7 382.3h0.55v0.55h-0.55zM107.8 373.4h0.55v0.55h-0.55zM114.0 374.7h0.55v0.55h-0.55zM109.8 381.4h0.55v0.55h-0.55z" fill="#2a2a2a" opacity="0.85"/>
<path d="M96.6 398.0h0.5v0.5h-0.5zM78.4 398.5h0.5v0.5h-0.5zM83.5 406.8h0.5v0.5h-0.5zM82.0 402.9h0.5v0.5h-0.5zM80.9 398.9h0.5v0.5h-0.5zM86.9 381.6h0.5v0.5h-0.5zM92.4 376.4h0.5v0.5h-0.5zM89.9 409.1h0.5v0.5h-0.5zM78.9 405.3h0.5v0.5h-0.5zM88.9 403.5h0.5v0.5h-0.5zM72.1 416.7h0.5v0.5h-0.5zM89.5 382.4h0.5v0.5h-0.5zM85.9 415.6h0.5v0.5h-0.5zM78.4 415.3h0.5v0.5h-0.5zM86.2 400.3h0.5v0.5h-0.5zM84.3 413.0h0.5v0.5h-0.5zM93.5 393.9h0.5v0.5h-0.5zM85.0 420.8h0.5v0.5h-0.5zM92.3 410.8h0.5v0.5h-0.5zM81.8 385.9h0.5v0.5h-0.5zM84.7 401.9h0.5v0.5h-0.5zM73.8 395.1h0.5v0.5h-0.5zM99.5 386.1h0.5v0.5h-0.5zM92.8 416.5h0.5v0.5h-0.5zM83.9 395.6h0.5v0.5h-0.5zM94.8 377.3h0.5v0.5h-0.5zM83.8 385.7h0.5v0.5h-0.5zM90.7 383.5h0.5v0.5h-0.5zM85.7 390.4h0.5v0.5h-0.5zM91.1 412.1h0.5v0.5h-0.5zM79.9 410.2h0.5v0.5h-0.5zM74.2 391.6h0.5v0.5h-0.5zM94.2 388.0h0.5v0.5h-0.5zM90.0 410.5h0.5v0.5h-0.5zM88.1 385.4h0.5v0.5h-0.5zM90.7 396.1h0.5v0.5h-0.5zM87.3 407.3h0.5v0.5h-0.5zM87.2 380.0h0.5v0.5h-0.5zM75.0 395.0h0.5v0.5h-0.5zM81.6 411.9h0.5v0.5h-0.5zM86.1 373.7h0.5v0.5h-0.5zM81.9 396.4h0.5v0.5h-0.5zM95.0 383.5h0.5v0.5h-0.5zM75.3 389.8h0.5v0.5h-0.5zM90.9 379.8h0.5v0.5h-0.5zM91.7 391.3h0.5v0.5h-0.5zM87.0 396.9h0.5v0.5h-0.5zM92.6 390.4h0.5v0.5h-0.5zM91.4 396.0h0.5v0.5h-0.5zM89.8 409.9h0.5v0.5h-0.5zM83.5 400.6h0.5v0.5h-0.5zM91.8 389.6h0.5v0.5h-0.5zM99.3 390.7h0.5v0.5h-0.5zM90.5 399.2h0.5v0.5h-0.5zM95.2 392.9h0.5v0.5h-0.5zM87.8 377.6h0.5v0.5h-0.5zM83.7 370.0h0.5v0.5h-0.5zM86.8 395.2h0.5v0.5h-0.5zM98.8 392.4h0.5v0.5h-0.5zM96.9 401.3h0.5v0.5h-0.5zM97.7 396.3h0.5v0.5h-0.5zM74.8 399.0h0.5v0.5h-0.5zM83.3 403.1h0.5v0.5h-0.5zM106.0 385.0h0.5v0.5h-0.5zM88.4 401.3h0.5v0.5h-0.5zM95.3 407.5h0.5v0.5h-0.5zM87.1 390.6h0.5v0.5h-0.5zM86.3 416.6h0.5v0.5h-0.5zM87.2 388.0h0.5v0.5h-0.5zM84.6 385.2h0.5v0.5h-0.5zM85.1 415.0h0.5v0.5h-0.5zM79.5 406.5h0.5v0.5h-0.5zM87.2 390.6h0.5v0.5h-0.5zM89.8 379.9h0.5v0.5h-0.5zM83.2 401.5h0.5v0.5h-0.5zM94.0 406.3h0.5v0.5h-0.5zM84.9 390.3h0.5v0.5h-0.5zM92.9 404.4h0.5v0.5h-0.5zM72.6 415.3h0.5v0.5h-0.5zM84.6 393.3h0.5v0.5h-0.5zM84.0 421.4h0.5v0.5h-0.5zM80.6 396.8h0.5v0.5h-0.5zM84.7 380.9h0.5v0.5h-0.5zM86.8 422.4h0.5v0.5h-0.5zM82.2 371.5h0.5v0.5h-0.5zM86.9 403.1h0.5v0.5h-0.5zM91.8 389.6h0.5v0.5h-0.5zM91.2 385.5h0.5v0.5h-0.5zM83.3 393.9h0.5v0.5h-0.5zM90.5 410.5h0.5v0.5h-0.5zM79.3 419.2h0.5v0.5h-0.5zM90.1 411.7h0.5v0.5h-0.5zM76.4 415.2h0.5v0.5h-0.5zM87.1 408.0h0.5v0.5h-0.5zM83.9 409.7h0.5v0.5h-0.5zM92.7 395.1h0.5v0.5h-0.5zM91.3 403.3h0.5v0.5h-0.5zM102.4 385.3h0.5v0.5h-0.5zM92.6 402.4h0.5v0.5h-0.5zM74.7 397.7h0.5v0.5h-0.5zM79.8 423.4h0.5v0.5h-0.5zM86.5 410.3h0.5v0.5h-0.5zM90.0 384.4h0.5v0.5h-0.5zM84.5 411.2h0.5v0.5h-0.5zM82.1 401.4h0.5v0.5h-0.5zM98.6 389.4h0.5v0.5h-0.5zM84.9 408.8h0.5v0.5h-0.5zM95.9 399.1h0.5v0.5h-0.5zM96.8 401.7h0.5v0.5h-0.5zM86.1 389.4h0.5v0.5h-0.5zM77.3 406.7h0.5v0.5h-0.5zM88.9 406.8h0.5v0.5h-0.5zM84.0 401.1h0.5v0.5h-0.5zM104.9 373.8h0.5v0.5h-0.5zM86.8 420.6h0.5v0.5h-0.5zM88.7 404.1h0.5v0.5h-0.5zM89.0 406.2h0.5v0.5h-0.5zM79.9 416.6h0.5v0.5h-0.5zM90.1 379.0h0.5v0.5h-0.5zM95.5 405.8h0.5v0.5h-0.5zM89.7 385.9h0.5v0.5h-0.5zM92.8 394.1h0.5v0.5h-0.5zM96.2 407.5h0.5v0.5h-0.5zM88.1 389.8h0.5v0.5h-0.5zM91.7 387.6h0.5v0.5h-0.5zM78.0 380.3h0.5v0.5h-0.5zM82.4 398.2h0.5v0.5h-0.5zM67.0 401.3h0.5v0.5h-0.5zM93.7 410.8h0.5v0.5h-0.5zM78.3 380.2h0.5v0.5h-0.5zM85.0 416.1h0.5v0.5h-0.5zM70.3 398.6h0.5v0.5h-0.5zM87.4 411.0h0.5v0.5h-0.5zM88.0 382.9h0.5v0.5h-0.5zM89.6 388.7h0.5v0.5h-0.5zM93.0 396.8h0.5v0.5h-0.5zM89.8 408.2h0.5v0.5h-0.5zM82.6 418.3h0.5v0.5h-0.5zM80.4 395.5h0.5v0.5h-0.5zM91.4 404.3h0.5v0.5h-0.5zM82.8 387.8h0.5v0.5h-0.5zM82.5 410.2h0.5v0.5h-0.5zM79.2 420.3h0.5v0.5h-0.5zM87.1 389.2h0.5v0.5h-0.5zM82.1 412.7h0.5v0.5h-0.5zM88.1 418.4h0.5v0.5h-0.5zM102.5 382.7h0.5v0.5h-0.5zM86.2 418.5h0.5v0.5h-0.5zM90.0 398.6h0.5v0.5h-0.5zM76.9 412.2h0.5v0.5h-0.5zM83.3 407.5h0.5v0.5h-0.5zM85.6 374.9h0.5v0.5h-0.5zM83.9 398.6h0.5v0.5h-0.5zM89.9 396.2h0.5v0.5h-0.5zM73.4 391.4h0.5v0.5h-0.5zM92.2 408.7h0.5v0.5h-0.5zM94.7 401.4h0.5v0.5h-0.5zM92.2 398.1h0.5v0.5h-0.5zM80.3 403.8h0.5v0.5h-0.5zM83.0 404.9h0.5v0.5h-0.5zM79.3 386.6h0.5v0.5h-0.5zM87.0 418.7h0.5v0.5h-0.5zM79.3 422.0h0.5v0.5h-0.5zM85.3 392.7h0.5v0.5h-0.5zM91.0 407.1h0.5v0.5h-0.5zM85.7 414.6h0.5v0.5h-0.5zM94.8 397.1h0.5v0.5h-0.5zM91.8 412.2h0.5v0.5h-0.5zM87.4 401.7h0.5v0.5h-0.5zM85.5 400.3h0.5v0.5h-0.5zM85.3 400.4h0.5v0.5h-0.5zM91.9 384.1h0.5v0.5h-0.5zM89.5 387.1h0.5v0.5h-0.5zM78.8 385.2h0.5v0.5h-0.5zM89.1 400.1h0.5v0.5h-0.5zM89.7 404.4h0.5v0.5h-0.5zM86.9 389.5h0.5v0.5h-0.5zM81.0 409.9h0.5v0.5h-0.5zM94.4 406.4h0.5v0.5h-0.5zM72.8 397.0h0.5v0.5h-0.5zM74.3 425.1h0.5v0.5h-0.5zM80.9 373.6h0.5v0.5h-0.5zM81.5 397.4h0.5v0.5h-0.5zM94.6 402.7h0.5v0.5h-0.5zM85.3 415.2h0.5v0.5h-0.5zM78.4 415.4h0.5v0.5h-0.5zM94.1 406.3h0.5v0.5h-0.5zM98.3 378.4h0.5v0.5h-0.5zM82.3 410.9h0.5v0.5h-0.5zM95.6 402.6h0.5v0.5h-0.5zM83.7 411.5h0.5v0.5h-0.5zM84.3 407.4h0.5v0.5h-0.5zM93.3 392.2h0.5v0.5h-0.5zM86.8 391.0h0.5v0.5h-0.5zM90.4 392.6h0.5v0.5h-0.5zM80.1 390.0h0.5v0.5h-0.5zM95.2 379.9h0.5v0.5h-0.5zM79.9 417.3h0.5v0.5h-0.5zM83.0 413.9h0.5v0.5h-0.5zM85.7 381.2h0.5v0.5h-0.5zM76.1 389.7h0.5v0.5h-0.5zM88.5 403.6h0.5v0.5h-0.5zM81.3 404.8h0.5v0.5h-0.5zM87.1 380.1h0.5v0.5h-0.5zM86.7 411.8h0.5v0.5h-0.5zM96.4 391.9h0.5v0.5h-0.5zM84.7 403.3h0.5v0.5h-0.5zM70.3 402.5h0.5v0.5h-0.5zM87.6 416.1h0.5v0.5h-0.5zM93.5 370.5h0.5v0.5h-0.5zM87.1 392.6h0.5v0.5h-0.5zM88.0 420.1h0.5v0.5h-0.5zM93.0 413.6h0.5v0.5h-0.5zM87.8 388.5h0.5v0.5h-0.5zM97.8 428.9h0.5v0.5h-0.5zM88.7 389.3h0.5v0.5h-0.5zM84.9 392.6h0.5v0.5h-0.5zM88.4 404.0h0.5v0.5h-0.5zM87.7 393.6h0.5v0.5h-0.5zM86.7 372.3h0.5v0.5h-0.5zM90.2 398.9h0.5v0.5h-0.5zM81.6 394.4h0.5v0.5h-0.5zM95.2 388.1h0.5v0.5h-0.5zM74.8 419.1h0.5v0.5h-0.5zM96.5 391.3h0.5v0.5h-0.5zM77.0 391.3h0.5v0.5h-0.5zM77.6 406.1h0.5v0.5h-0.5zM77.7 406.3h0.5v0.5h-0.5zM87.3 391.0h0.5v0.5h-0.5zM83.1 396.3h0.5v0.5h-0.5zM90.0 405.9h0.5v0.5h-0.5zM78.6 402.3h0.5v0.5h-0.5zM80.6 378.2h0.5v0.5h-0.5zM89.4 414.1h0.5v0.5h-0.5zM77.3 390.1h0.5v0.5h-0.5zM100.6 372.9h0.5v0.5h-0.5zM88.5 402.5h0.5v0.5h-0.5zM90.5 404.2h0.5v0.5h-0.5zM96.6 404.8h0.5v0.5h-0.5zM82.3 392.1h0.5v0.5h-0.5zM75.3 414.8h0.5v0.5h-0.5zM89.3 408.5h0.5v0.5h-0.5zM89.3 417.1h0.5v0.5h-0.5zM87.4 406.8h0.5v0.5h-0.5zM94.4 391.6h0.5v0.5h-0.5zM90.9 407.1h0.5v0.5h-0.5zM90.9 385.6h0.5v0.5h-0.5zM94.0 398.4h0.5v0.5h-0.5zM89.7 412.0h0.5v0.5h-0.5zM82.9 398.6h0.5v0.5h-0.5zM88.1 403.7h0.5v0.5h-0.5zM84.3 377.4h0.5v0.5h-0.5zM88.9 397.0h0.5v0.5h-0.5zM79.9 396.8h0.5v0.5h-0.5zM86.7 374.3h0.5v0.5h-0.5zM78.7 386.6h0.5v0.5h-0.5zM88.5 387.9h0.5v0.5h-0.5zM89.5 405.9h0.5v0.5h-0.5zM85.8 412.7h0.5v0.5h-0.5zM89.2 424.3h0.5v0.5h-0.5zM92.5 398.1h0.5v0.5h-0.5zM81.1 405.5h0.5v0.5h-0.5zM91.7 394.1h0.5v0.5h-0.5zM95.9 403.1h0.5v0.5h-0.5zM95.1 399.4h0.5v0.5h-0.5zM89.7 411.5h0.5v0.5h-0.5zM90.2 407.5h0.5v0.5h-0.5zM83.9 396.5h0.5v0.5h-0.5zM96.3 402.0h0.5v0.5h-0.5zM82.8 391.5h0.5v0.5h-0.5zM83.5 405.7h0.5v0.5h-0.5zM89.7 378.3h0.5v0.5h-0.5zM78.1 410.3h0.5v0.5h-0.5zM82.8 415.3h0.5v0.5h-0.5zM82.0 412.9h0.5v0.5h-0.5zM88.5 392.0h0.5v0.5h-0.5zM82.0 414.7h0.5v0.5h-0.5zM77.0 388.3h0.5v0.5h-0.5zM91.2 417.4h0.5v0.5h-0.5zM84.5 415.2h0.5v0.5h-0.5zM91.9 417.7h0.5v0.5h-0.5zM81.5 388.8h0.5v0.5h-0.5zM92.8 409.7h0.5v0.5h-0.5zM86.6 409.7h0.5v0.5h-0.5zM84.9 395.6h0.5v0.5h-0.5zM88.8 396.1h0.5v0.5h-0.5zM89.1 389.6h0.5v0.5h-0.5zM95.5 390.0h0.5v0.5h-0.5zM88.4 399.2h0.5v0.5h-0.5zM83.6 384.8h0.5v0.5h-0.5zM90.9 378.0h0.5v0.5h-0.5zM74.9 403.0h0.5v0.5h-0.5zM89.2 401.3h0.5v0.5h-0.5zM85.8 409.9h0.5v0.5h-0.5zM79.2 391.4h0.5v0.5h-0.5zM90.5 413.3h0.5v0.5h-0.5zM88.2 391.9h0.5v0.5h-0.5zM86.8 407.6h0.5v0.5h-0.5zM87.5 387.9h0.5v0.5h-0.5zM87.0 396.2h0.5v0.5h-0.5zM91.6 407.6h0.5v0.5h-0.5zM78.7 397.2h0.5v0.5h-0.5zM70.4 409.1h0.5v0.5h-0.5zM91.2 383.3h0.5v0.5h-0.5zM96.8 391.1h0.5v0.5h-0.5zM91.8 412.5h0.5v0.5h-0.5zM93.3 393.5h0.5v0.5h-0.5zM77.7 418.6h0.5v0.5h-0.5zM95.2 387.1h0.5v0.5h-0.5zM82.8 415.7h0.5v0.5h-0.5zM76.4 413.5h0.5v0.5h-0.5zM83.4 414.9h0.5v0.5h-0.5zM97.1 382.9h0.5v0.5h-0.5zM76.0 398.2h0.5v0.5h-0.5zM85.2 381.3h0.5v0.5h-0.5zM79.1 391.9h0.5v0.5h-0.5zM85.6 401.1h0.5v0.5h-0.5zM93.1 385.0h0.5v0.5h-0.5zM98.7 378.9h0.5v0.5h-0.5zM84.3 385.3h0.5v0.5h-0.5zM90.1 389.2h0.5v0.5h-0.5zM98.1 380.5h0.5v0.5h-0.5zM86.5 379.3h0.5v0.5h-0.5zM85.4 401.6h0.5v0.5h-0.5zM87.6 388.3h0.5v0.5h-0.5zM81.6 419.1h0.5v0.5h-0.5zM77.5 416.6h0.5v0.5h-0.5zM97.0 395.2h0.5v0.5h-0.5zM87.5 406.1h0.5v0.5h-0.5zM83.2 396.4h0.5v0.5h-0.5zM95.9 380.1h0.5v0.5h-0.5zM82.9 424.0h0.5v0.5h-0.5zM86.5 402.9h0.5v0.5h-0.5zM83.9 405.2h0.5v0.5h-0.5zM85.9 403.1h0.5v0.5h-0.5zM84.4 407.8h0.5v0.5h-0.5zM80.5 372.0h0.5v0.5h-0.5zM93.3 388.2h0.5v0.5h-0.5zM77.4 392.2h0.5v0.5h-0.5zM82.9 398.7h0.5v0.5h-0.5zM87.1 388.8h0.5v0.5h-0.5zM90.5 398.0h0.5v0.5h-0.5zM90.1 401.3h0.5v0.5h-0.5zM85.7 393.5h0.5v0.5h-0.5zM80.2 393.7h0.5v0.5h-0.5zM88.0 409.7h0.5v0.5h-0.5zM93.1 377.7h0.5v0.5h-0.5zM82.6 402.8h0.5v0.5h-0.5zM91.9 379.9h0.5v0.5h-0.5zM84.7 398.5h0.5v0.5h-0.5zM85.9 414.1h0.5v0.5h-0.5zM82.6 423.7h0.5v0.5h-0.5zM100.3 387.1h0.5v0.5h-0.5zM89.6 395.6h0.5v0.5h-0.5zM87.7 402.3h0.5v0.5h-0.5zM85.6 422.3h0.5v0.5h-0.5zM96.5 391.6h0.5v0.5h-0.5zM84.2 396.4h0.5v0.5h-0.5zM91.8 388.3h0.5v0.5h-0.5zM73.8 398.5h0.5v0.5h-0.5zM92.5 386.4h0.5v0.5h-0.5zM83.4 392.9h0.5v0.5h-0.5zM94.4 384.5h0.5v0.5h-0.5zM104.4 380.7h0.5v0.5h-0.5zM85.5 388.8h0.5v0.5h-0.5zM92.4 397.5h0.5v0.5h-0.5zM85.4 385.5h0.5v0.5h-0.5zM86.4 400.1h0.5v0.5h-0.5zM84.4 388.1h0.5v0.5h-0.5zM95.3 406.1h0.5v0.5h-0.5zM89.2 402.2h0.5v0.5h-0.5zM85.4 385.4h0.5v0.5h-0.5zM94.3 397.5h0.5v0.5h-0.5zM76.1 409.5h0.5v0.5h-0.5zM88.5 400.0h0.5v0.5h-0.5zM78.4 412.6h0.5v0.5h-0.5zM80.0 416.8h0.5v0.5h-0.5zM73.4 399.1h0.5v0.5h-0.5zM80.9 410.4h0.5v0.5h-0.5zM87.2 410.6h0.5v0.5h-0.5zM96.8 385.4h0.5v0.5h-0.5zM88.8 418.4h0.5v0.5h-0.5zM71.1 393.8h0.5v0.5h-0.5zM81.1 392.6h0.5v0.5h-0.5zM86.3 393.4h0.5v0.5h-0.5zM69.7 410.9h0.5v0.5h-0.5zM86.1 379.3h0.5v0.5h-0.5zM81.9 390.3h0.5v0.5h-0.5zM78.3 379.0h0.5v0.5h-0.5zM77.9 393.3h0.5v0.5h-0.5zM90.5 421.9h0.5v0.5h-0.5zM89.1 398.4h0.5v0.5h-0.5zM91.2 399.3h0.5v0.5h-0.5zM88.3 406.8h0.5v0.5h-0.5zM93.7 399.7h0.5v0.5h-0.5zM94.5 387.4h0.5v0.5h-0.5zM87.8 393.7h0.5v0.5h-0.5zM85.1 396.3h0.5v0.5h-0.5zM85.1 404.6h0.5v0.5h-0.5zM83.9 406.6h0.5v0.5h-0.5zM95.5 408.5h0.5v0.5h-0.5zM77.4 389.9h0.5v0.5h-0.5zM83.5 407.0h0.5v0.5h-0.5zM81.5 414.4h0.5v0.5h-0.5zM94.3 375.3h0.5v0.5h-0.5zM82.1 417.9h0.5v0.5h-0.5zM86.1 390.1h0.5v0.5h-0.5zM89.1 415.5h0.5v0.5h-0.5zM80.8 401.2h0.5v0.5h-0.5zM95.4 390.1h0.5v0.5h-0.5zM77.5 385.0h0.5v0.5h-0.5zM89.4 385.7h0.5v0.5h-0.5zM90.7 418.5h0.5v0.5h-0.5zM89.0 392.6h0.5v0.5h-0.5zM82.1 404.5h0.5v0.5h-0.5zM83.9 401.7h0.5v0.5h-0.5zM91.9 407.3h0.5v0.5h-0.5zM92.9 394.2h0.5v0.5h-0.5zM92.6 388.4h0.5v0.5h-0.5zM93.1 398.1h0.5v0.5h-0.5zM80.7 394.3h0.5v0.5h-0.5zM83.4 404.7h0.5v0.5h-0.5zM81.7 420.7h0.5v0.5h-0.5zM93.1 380.2h0.5v0.5h-0.5zM84.6 390.0h0.5v0.5h-0.5zM92.5 394.6h0.5v0.5h-0.5zM79.4 402.2h0.5v0.5h-0.5zM80.0 392.2h0.5v0.5h-0.5zM94.2 412.6h0.5v0.5h-0.5zM86.4 408.0h0.5v0.5h-0.5zM85.2 393.7h0.5v0.5h-0.5zM75.0 385.7h0.5v0.5h-0.5zM97.4 395.7h0.5v0.5h-0.5zM94.9 388.7h0.5v0.5h-0.5zM93.2 396.3h0.5v0.5h-0.5zM97.6 393.0h0.5v0.5h-0.5zM65.1 378.8h0.5v0.5h-0.5zM79.2 414.4h0.5v0.5h-0.5zM88.9 398.7h0.5v0.5h-0.5zM83.5 415.7h0.5v0.5h-0.5zM73.3 405.2h0.5v0.5h-0.5zM87.3 390.8h0.5v0.5h-0.5zM80.1 418.1h0.5v0.5h-0.5zM88.5 410.0h0.5v0.5h-0.5zM86.4 400.7h0.5v0.5h-0.5zM89.5 404.8h0.5v0.5h-0.5zM96.7 404.4h0.5v0.5h-0.5zM92.8 391.2h0.5v0.5h-0.5zM82.2 386.1h0.5v0.5h-0.5zM83.3 399.6h0.5v0.5h-0.5zM86.3 401.7h0.5v0.5h-0.5zM84.9 408.5h0.5v0.5h-0.5zM88.4 394.9h0.5v0.5h-0.5zM91.4 414.0h0.5v0.5h-0.5zM81.4 396.6h0.5v0.5h-0.5zM85.8 405.8h0.5v0.5h-0.5zM86.1 399.9h0.5v0.5h-0.5zM86.8 388.8h0.5v0.5h-0.5zM86.2 409.5h0.5v0.5h-0.5zM82.2 407.4h0.5v0.5h-0.5zM76.6 409.2h0.5v0.5h-0.5zM87.7 415.3h0.5v0.5h-0.5zM92.6 364.9h0.5v0.5h-0.5zM84.1 380.9h0.5v0.5h-0.5zM88.0 419.7h0.5v0.5h-0.5zM81.3 395.9h0.5v0.5h-0.5zM86.7 394.8h0.5v0.5h-0.5zM84.7 384.5h0.5v0.5h-0.5zM87.2 394.8h0.5v0.5h-0.5zM87.6 401.1h0.5v0.5h-0.5zM86.4 390.0h0.5v0.5h-0.5zM80.7 402.1h0.5v0.5h-0.5zM89.0 379.5h0.5v0.5h-0.5zM96.7 389.6h0.5v0.5h-0.5zM82.7 382.0h0.5v0.5h-0.5zM99.3 389.5h0.5v0.5h-0.5zM92.8 419.2h0.5v0.5h-0.5zM90.0 415.0h0.5v0.5h-0.5zM83.0 416.5h0.5v0.5h-0.5zM80.9 386.7h0.5v0.5h-0.5zM87.9 429.5h0.5v0.5h-0.5zM85.0 392.3h0.5v0.5h-0.5zM89.4 408.0h0.5v0.5h-0.5zM92.6 393.8h0.5v0.5h-0.5zM91.1 391.8h0.5v0.5h-0.5zM88.7 404.6h0.5v0.5h-0.5zM70.1 400.3h0.5v0.5h-0.5zM84.9 409.3h0.5v0.5h-0.5zM99.7 381.4h0.5v0.5h-0.5zM88.5 417.8h0.5v0.5h-0.5zM80.2 395.4h0.5v0.5h-0.5zM83.3 394.6h0.5v0.5h-0.5zM96.9 397.8h0.5v0.5h-0.5zM95.9 400.2h0.5v0.5h-0.5zM85.2 398.7h0.5v0.5h-0.5zM77.2 390.3h0.5v0.5h-0.5zM91.6 417.0h0.5v0.5h-0.5zM80.2 414.2h0.5v0.5h-0.5zM90.1 404.1h0.5v0.5h-0.5zM86.3 419.6h0.5v0.5h-0.5zM87.1 411.2h0.5v0.5h-0.5zM73.6 404.6h0.5v0.5h-0.5zM83.3 387.3h0.5v0.5h-0.5zM92.7 407.2h0.5v0.5h-0.5zM73.9 405.0h0.5v0.5h-0.5zM78.1 377.1h0.5v0.5h-0.5zM96.7 388.7h0.5v0.5h-0.5zM89.1 401.2h0.5v0.5h-0.5zM92.6 389.7h0.5v0.5h-0.5zM88.5 407.4h0.5v0.5h-0.5zM90.3 401.3h0.5v0.5h-0.5zM84.9 418.0h0.5v0.5h-0.5zM91.3 400.4h0.5v0.5h-0.5zM87.2 371.3h0.5v0.5h-0.5zM97.2 387.4h0.5v0.5h-0.5zM98.6 386.7h0.5v0.5h-0.5zM92.8 397.3h0.5v0.5h-0.5zM84.3 412.9h0.5v0.5h-0.5zM74.3 391.0h0.5v0.5h-0.5zM88.9 405.3h0.5v0.5h-0.5zM87.2 384.5h0.5v0.5h-0.5zM96.2 403.8h0.5v0.5h-0.5zM94.5 413.6h0.5v0.5h-0.5zM87.2 382.1h0.5v0.5h-0.5zM79.1 404.4h0.5v0.5h-0.5zM72.9 417.8h0.5v0.5h-0.5zM84.5 394.3h0.5v0.5h-0.5zM90.0 418.7h0.5v0.5h-0.5zM92.8 413.7h0.5v0.5h-0.5zM80.1 426.7h0.5v0.5h-0.5zM96.0 405.4h0.5v0.5h-0.5zM94.5 391.7h0.5v0.5h-0.5zM97.7 395.8h0.5v0.5h-0.5zM76.3 391.4h0.5v0.5h-0.5zM89.7 388.6h0.5v0.5h-0.5zM80.5 390.2h0.5v0.5h-0.5zM87.7 416.8h0.5v0.5h-0.5zM85.7 393.8h0.5v0.5h-0.5zM79.4 396.5h0.5v0.5h-0.5zM75.6 396.4h0.5v0.5h-0.5zM86.4 414.2h0.5v0.5h-0.5zM95.2 409.2h0.5v0.5h-0.5zM89.3 413.3h0.5v0.5h-0.5zM82.9 407.0h0.5v0.5h-0.5zM88.1 412.5h0.5v0.5h-0.5zM105.9 382.1h0.5v0.5h-0.5zM75.6 371.5h0.5v0.5h-0.5zM86.9 416.1h0.5v0.5h-0.5zM81.3 401.4h0.5v0.5h-0.5zM86.0 421.2h0.5v0.5h-0.5zM95.7 364.9h0.5v0.5h-0.5zM105.0 389.2h0.5v0.5h-0.5zM92.0 383.5h0.5v0.5h-0.5zM96.3 396.4h0.5v0.5h-0.5zM84.4 413.2h0.5v0.5h-0.5zM81.2 409.6h0.5v0.5h-0.5zM99.3 385.2h0.5v0.5h-0.5zM78.6 404.6h0.5v0.5h-0.5zM83.5 381.2h0.5v0.5h-0.5zM89.5 390.3h0.5v0.5h-0.5zM72.9 398.3h0.5v0.5h-0.5zM91.4 395.6h0.5v0.5h-0.5zM82.1 395.7h0.5v0.5h-0.5zM80.9 392.4h0.5v0.5h-0.5zM78.6 400.0h0.5v0.5h-0.5zM85.2 390.3h0.5v0.5h-0.5zM78.7 402.0h0.5v0.5h-0.5zM91.4 403.4h0.5v0.5h-0.5zM79.4 390.3h0.5v0.5h-0.5zM86.9 409.0h0.5v0.5h-0.5zM92.1 407.2h0.5v0.5h-0.5zM93.9 401.7h0.5v0.5h-0.5zM85.2 420.0h0.5v0.5h-0.5zM78.1 399.1h0.5v0.5h-0.5zM91.3 395.7h0.5v0.5h-0.5zM79.2 395.4h0.5v0.5h-0.5zM82.9 401.6h0.5v0.5h-0.5zM93.8 408.1h0.5v0.5h-0.5zM92.6 389.7h0.5v0.5h-0.5zM84.2 410.6h0.5v0.5h-0.5zM92.4 424.3h0.5v0.5h-0.5zM80.8 412.2h0.5v0.5h-0.5zM82.5 391.3h0.5v0.5h-0.5zM79.1 408.8h0.5v0.5h-0.5zM88.4 405.1h0.5v0.5h-0.5zM102.3 383.0h0.5v0.5h-0.5zM92.5 405.9h0.5v0.5h-0.5zM83.2 404.0h0.5v0.5h-0.5zM89.0 420.7h0.5v0.5h-0.5zM83.9 401.2h0.5v0.5h-0.5zM96.7 379.4h0.5v0.5h-0.5zM89.6 413.2h0.5v0.5h-0.5zM90.0 409.2h0.5v0.5h-0.5zM75.2 400.8h0.5v0.5h-0.5zM92.8 413.4h0.5v0.5h-0.5zM93.1 413.5h0.5v0.5h-0.5zM88.0 399.1h0.5v0.5h-0.5zM74.9 415.9h0.5v0.5h-0.5zM85.3 413.2h0.5v0.5h-0.5zM92.9 384.7h0.5v0.5h-0.5zM85.1 388.3h0.5v0.5h-0.5zM77.7 400.7h0.5v0.5h-0.5zM82.1 389.5h0.5v0.5h-0.5zM81.2 373.1h0.5v0.5h-0.5zM81.0 399.4h0.5v0.5h-0.5zM69.7 381.3h0.5v0.5h-0.5zM83.0 402.2h0.5v0.5h-0.5zM92.7 394.1h0.5v0.5h-0.5zM95.1 386.6h0.5v0.5h-0.5zM76.0 401.6h0.5v0.5h-0.5zM89.5 391.3h0.5v0.5h-0.5zM82.4 386.8h0.5v0.5h-0.5zM91.2 389.3h0.5v0.5h-0.5zM91.8 386.1h0.5v0.5h-0.5zM91.6 411.4h0.5v0.5h-0.5zM88.9 379.5h0.5v0.5h-0.5zM74.1 378.5h0.5v0.5h-0.5zM94.6 402.8h0.5v0.5h-0.5zM85.0 393.2h0.5v0.5h-0.5zM86.5 395.8h0.5v0.5h-0.5zM101.2 385.5h0.5v0.5h-0.5zM76.2 396.9h0.5v0.5h-0.5zM80.5 391.8h0.5v0.5h-0.5zM82.4 401.9h0.5v0.5h-0.5zM87.6 389.2h0.5v0.5h-0.5zM87.7 413.1h0.5v0.5h-0.5zM77.4 393.6h0.5v0.5h-0.5zM81.6 388.7h0.5v0.5h-0.5zM90.5 419.6h0.5v0.5h-0.5zM87.5 403.5h0.5v0.5h-0.5zM88.5 391.8h0.5v0.5h-0.5zM88.0 403.1h0.5v0.5h-0.5zM88.9 407.5h0.5v0.5h-0.5zM79.3 406.2h0.5v0.5h-0.5zM92.2 415.7h0.5v0.5h-0.5zM80.0 394.7h0.5v0.5h-0.5zM91.6 405.0h0.5v0.5h-0.5zM91.8 410.5h0.5v0.5h-0.5zM81.7 402.2h0.5v0.5h-0.5zM74.9 398.5h0.5v0.5h-0.5zM84.3 381.4h0.5v0.5h-0.5zM84.4 404.9h0.5v0.5h-0.5zM85.4 372.9h0.5v0.5h-0.5zM75.2 397.5h0.5v0.5h-0.5zM94.5 411.7h0.5v0.5h-0.5zM86.4 399.1h0.5v0.5h-0.5zM91.6 380.3h0.5v0.5h-0.5zM94.7 392.7h0.5v0.5h-0.5zM88.7 422.2h0.5v0.5h-0.5zM86.5 389.4h0.5v0.5h-0.5zM81.6 418.5h0.5v0.5h-0.5zM84.3 386.5h0.5v0.5h-0.5zM88.7 402.0h0.5v0.5h-0.5zM89.8 399.1h0.5v0.5h-0.5zM76.8 383.1h0.5v0.5h-0.5zM86.9 391.0h0.5v0.5h-0.5zM93.4 398.9h0.5v0.5h-0.5zM88.9 402.4h0.5v0.5h-0.5zM89.5 397.7h0.5v0.5h-0.5zM91.3 379.1h0.5v0.5h-0.5zM89.5 394.3h0.5v0.5h-0.5zM78.3 382.9h0.5v0.5h-0.5zM84.9 402.1h0.5v0.5h-0.5zM76.4 379.7h0.5v0.5h-0.5zM85.0 408.8h0.5v0.5h-0.5zM90.4 400.8h0.5v0.5h-0.5zM89.8 398.8h0.5v0.5h-0.5zM85.0 417.3h0.5v0.5h-0.5zM85.9 401.0h0.5v0.5h-0.5zM87.8 392.1h0.5v0.5h-0.5zM89.2 412.8h0.5v0.5h-0.5zM89.0 390.0h0.5v0.5h-0.5zM91.8 394.7h0.5v0.5h-0.5zM79.0 399.3h0.5v0.5h-0.5zM92.7 402.1h0.5v0.5h-0.5zM84.1 392.6h0.5v0.5h-0.5zM86.7 387.6h0.5v0.5h-0.5zM78.4 398.9h0.5v0.5h-0.5zM99.9 382.9h0.5v0.5h-0.5zM80.3 398.1h0.5v0.5h-0.5zM89.8 391.3h0.5v0.5h-0.5zM90.3 391.1h0.5v0.5h-0.5zM87.3 391.4h0.5v0.5h-0.5zM85.7 394.6h0.5v0.5h-0.5zM77.6 388.7h0.5v0.5h-0.5zM79.1 408.3h0.5v0.5h-0.5zM78.4 398.8h0.5v0.5h-0.5zM90.3 377.4h0.5v0.5h-0.5zM92.1 415.8h0.5v0.5h-0.5zM82.2 403.4h0.5v0.5h-0.5zM84.7 394.4h0.5v0.5h-0.5zM87.4 387.2h0.5v0.5h-0.5zM88.6 416.9h0.5v0.5h-0.5zM83.8 382.6h0.5v0.5h-0.5zM74.8 405.6h0.5v0.5h-0.5zM83.3 387.4h0.5v0.5h-0.5zM76.8 405.4h0.5v0.5h-0.5zM86.9 392.8h0.5v0.5h-0.5zM83.0 397.5h0.5v0.5h-0.5zM84.7 375.0h0.5v0.5h-0.5zM94.9 407.4h0.5v0.5h-0.5zM83.7 384.8h0.5v0.5h-0.5zM99.5 391.7h0.5v0.5h-0.5zM87.6 378.5h0.5v0.5h-0.5zM88.7 408.1h0.5v0.5h-0.5zM90.0 403.3h0.5v0.5h-0.5zM86.7 406.8h0.5v0.5h-0.5zM94.0 387.4h0.5v0.5h-0.5zM78.9 400.8h0.5v0.5h-0.5zM82.9 380.9h0.5v0.5h-0.5zM89.1 400.5h0.5v0.5h-0.5zM89.5 409.9h0.5v0.5h-0.5zM86.4 376.1h0.5v0.5h-0.5zM90.6 393.3h0.5v0.5h-0.5zM80.2 394.4h0.5v0.5h-0.5zM91.5 380.0h0.5v0.5h-0.5zM80.4 401.9h0.5v0.5h-0.5zM84.2 419.8h0.5v0.5h-0.5zM88.5 428.2h0.5v0.5h-0.5zM85.6 396.8h0.5v0.5h-0.5zM86.2 421.6h0.5v0.5h-0.5zM86.9 395.9h0.5v0.5h-0.5zM81.2 397.8h0.5v0.5h-0.5zM81.0 390.9h0.5v0.5h-0.5zM78.7 414.0h0.5v0.5h-0.5zM93.9 395.4h0.5v0.5h-0.5zM94.5 400.0h0.5v0.5h-0.5zM89.6 388.1h0.5v0.5h-0.5zM88.2 387.8h0.5v0.5h-0.5zM89.6 378.1h0.5v0.5h-0.5zM86.3 392.3h0.5v0.5h-0.5zM87.5 404.4h0.5v0.5h-0.5zM96.7 392.0h0.5v0.5h-0.5zM91.4 369.0h0.5v0.5h-0.5zM80.2 392.2h0.5v0.5h-0.5zM92.9 397.8h0.5v0.5h-0.5zM86.7 388.4h0.5v0.5h-0.5zM88.3 386.1h0.5v0.5h-0.5zM91.0 395.1h0.5v0.5h-0.5zM78.5 403.0h0.5v0.5h-0.5zM91.6 393.5h0.5v0.5h-0.5zM87.1 405.0h0.5v0.5h-0.5zM95.4 412.1h0.5v0.5h-0.5zM89.9 385.7h0.5v0.5h-0.5zM85.1 401.1h0.5v0.5h-0.5zM79.6 386.3h0.5v0.5h-0.5zM81.8 397.7h0.5v0.5h-0.5zM76.3 392.3h0.5v0.5h-0.5zM89.3 402.8h0.5v0.5h-0.5zM85.0 412.2h0.5v0.5h-0.5zM85.3 395.5h0.5v0.5h-0.5zM83.1 391.6h0.5v0.5h-0.5zM86.0 386.8h0.5v0.5h-0.5zM102.9 375.2h0.5v0.5h-0.5zM83.7 392.6h0.5v0.5h-0.5zM83.9 420.4h0.5v0.5h-0.5zM89.4 408.9h0.5v0.5h-0.5zM94.0 387.8h0.5v0.5h-0.5zM84.1 393.3h0.5v0.5h-0.5zM93.6 398.8h0.5v0.5h-0.5zM82.0 413.9h0.5v0.5h-0.5zM91.8 401.1h0.5v0.5h-0.5zM78.1 404.5h0.5v0.5h-0.5zM90.3 404.6h0.5v0.5h-0.5zM84.0 389.9h0.5v0.5h-0.5zM84.7 400.4h0.5v0.5h-0.5zM84.9 377.3h0.5v0.5h-0.5zM87.1 392.0h0.5v0.5h-0.5zM91.6 404.4h0.5v0.5h-0.5zM89.3 413.8h0.5v0.5h-0.5zM86.2 395.0h0.5v0.5h-0.5zM87.5 402.5h0.5v0.5h-0.5zM95.7 401.7h0.5v0.5h-0.5zM80.3 396.9h0.5v0.5h-0.5zM78.4 410.4h0.5v0.5h-0.5zM88.1 385.9h0.5v0.5h-0.5zM87.7 405.0h0.5v0.5h-0.5zM85.3 395.9h0.5v0.5h-0.5zM84.1 368.3h0.5v0.5h-0.5zM84.2 388.0h0.5v0.5h-0.5zM91.0 400.1h0.5v0.5h-0.5zM76.8 413.5h0.5v0.5h-0.5zM79.1 398.9h0.5v0.5h-0.5zM77.4 406.2h0.5v0.5h-0.5zM88.3 414.4h0.5v0.5h-0.5zM88.1 384.7h0.5v0.5h-0.5zM91.6 398.2h0.5v0.5h-0.5zM107.7 380.5h0.5v0.5h-0.5zM85.5 412.5h0.5v0.5h-0.5zM81.9 409.8h0.5v0.5h-0.5zM96.6 376.4h0.5v0.5h-0.5zM79.0 376.5h0.5v0.5h-0.5zM81.1 412.8h0.5v0.5h-0.5zM90.2 407.4h0.5v0.5h-0.5zM77.6 418.7h0.5v0.5h-0.5zM94.7 383.3h0.5v0.5h-0.5zM95.1 393.3h0.5v0.5h-0.5zM96.4 398.3h0.5v0.5h-0.5zM89.1 397.6h0.5v0.5h-0.5zM91.6 420.2h0.5v0.5h-0.5zM83.8 398.7h0.5v0.5h-0.5zM71.7 404.4h0.5v0.5h-0.5zM96.3 384.1h0.5v0.5h-0.5zM82.4 383.9h0.5v0.5h-0.5zM85.6 390.6h0.5v0.5h-0.5zM86.9 375.4h0.5v0.5h-0.5zM91.8 409.6h0.5v0.5h-0.5zM85.5 409.7h0.5v0.5h-0.5zM84.3 396.6h0.5v0.5h-0.5zM78.4 409.8h0.5v0.5h-0.5zM91.6 404.0h0.5v0.5h-0.5zM77.6 390.3h0.5v0.5h-0.5zM80.9 392.7h0.5v0.5h-0.5zM96.8 391.4h0.5v0.5h-0.5zM96.8 394.2h0.5v0.5h-0.5zM93.9 394.0h0.5v0.5h-0.5zM95.8 406.6h0.5v0.5h-0.5zM91.7 399.5h0.5v0.5h-0.5zM83.0 381.8h0.5v0.5h-0.5zM96.3 396.3h0.5v0.5h-0.5zM75.3 393.6h0.5v0.5h-0.5zM80.5 400.4h0.5v0.5h-0.5zM84.4 408.4h0.5v0.5h-0.5zM73.6 386.7h0.5v0.5h-0.5zM85.2 410.8h0.5v0.5h-0.5zM83.7 401.4h0.5v0.5h-0.5zM74.0 390.7h0.5v0.5h-0.5zM83.0 369.9h0.5v0.5h-0.5zM89.8 396.8h0.5v0.5h-0.5zM83.1 409.2h0.5v0.5h-0.5zM81.1 386.8h0.5v0.5h-0.5zM88.2 383.8h0.5v0.5h-0.5zM90.9 404.5h0.5v0.5h-0.5zM81.7 405.5h0.5v0.5h-0.5zM86.5 397.8h0.5v0.5h-0.5zM84.4 381.0h0.5v0.5h-0.5zM81.6 403.1h0.5v0.5h-0.5zM93.7 416.4h0.5v0.5h-0.5zM87.8 413.1h0.5v0.5h-0.5zM85.4 418.9h0.5v0.5h-0.5zM90.1 379.0h0.5v0.5h-0.5zM100.1 381.1h0.5v0.5h-0.5zM90.3 410.7h0.5v0.5h-0.5zM84.3 389.1h0.5v0.5h-0.5zM86.0 378.8h0.5v0.5h-0.5zM95.7 390.9h0.5v0.5h-0.5zM87.2 393.7h0.5v0.5h-0.5zM85.2 392.9h0.5v0.5h-0.5zM77.5 415.1h0.5v0.5h-0.5zM81.7 429.2h0.5v0.5h-0.5zM91.4 386.7h0.5v0.5h-0.5zM90.5 385.1h0.5v0.5h-0.5zM88.5 388.7h0.5v0.5h-0.5zM89.7 412.0h0.5v0.5h-0.5zM88.7 393.8h0.5v0.5h-0.5zM81.3 405.8h0.5v0.5h-0.5zM92.2 398.2h0.5v0.5h-0.5zM100.6 389.3h0.5v0.5h-0.5zM81.9 425.0h0.5v0.5h-0.5zM100.7 386.6h0.5v0.5h-0.5zM98.7 390.1h0.5v0.5h-0.5zM90.0 388.7h0.5v0.5h-0.5zM92.9 402.7h0.5v0.5h-0.5zM78.5 386.8h0.5v0.5h-0.5zM89.3 421.2h0.5v0.5h-0.5zM77.4 390.8h0.5v0.5h-0.5zM98.2 384.4h0.5v0.5h-0.5zM86.3 384.8h0.5v0.5h-0.5zM95.2 395.2h0.5v0.5h-0.5zM92.6 410.8h0.5v0.5h-0.5zM90.0 409.4h0.5v0.5h-0.5zM95.0 388.0h0.5v0.5h-0.5zM91.4 391.2h0.5v0.5h-0.5zM78.6 379.9h0.5v0.5h-0.5zM91.3 394.7h0.5v0.5h-0.5zM98.6 428.5h0.5v0.5h-0.5zM94.2 392.9h0.5v0.5h-0.5zM75.8 382.3h0.5v0.5h-0.5zM80.0 389.2h0.5v0.5h-0.5zM81.4 390.7h0.5v0.5h-0.5zM76.1 400.6h0.5v0.5h-0.5zM93.1 402.8h0.5v0.5h-0.5zM81.8 382.7h0.5v0.5h-0.5zM85.6 374.3h0.5v0.5h-0.5zM95.0 401.5h0.5v0.5h-0.5zM89.1 389.5h0.5v0.5h-0.5zM87.4 395.0h0.5v0.5h-0.5zM83.5 394.9h0.5v0.5h-0.5zM84.4 396.2h0.5v0.5h-0.5zM73.3 388.6h0.5v0.5h-0.5zM94.7 392.4h0.5v0.5h-0.5zM90.0 426.6h0.5v0.5h-0.5zM94.2 393.6h0.5v0.5h-0.5zM83.5 408.5h0.5v0.5h-0.5zM93.0 404.4h0.5v0.5h-0.5zM85.7 404.1h0.5v0.5h-0.5zM88.6 398.8h0.5v0.5h-0.5zM77.3 385.9h0.5v0.5h-0.5zM86.6 412.4h0.5v0.5h-0.5zM95.5 397.3h0.5v0.5h-0.5z" fill="#555" opacity="0.85"/>
<path d="M74.5 402.6h0.5v0.5h-0.5zM71.0 409.6h0.5v0.5h-0.5zM88.7 395.6h0.5v0.5h-0.5zM79.1 393.6h0.5v0.5h-0.5zM109.6 366.9h0.5v0.5h-0.5zM93.9 382.0h0.5v0.5h-0.5zM86.0 381.9h0.5v0.5h-0.5zM81.0 421.8h0.5v0.5h-0.5zM72.5 386.0h0.5v0.5h-0.5zM75.1 392.5h0.5v0.5h-0.5zM101.5 430.5h0.5v0.5h-0.5zM85.9 386.9h0.5v0.5h-0.5zM119.6 384.8h0.5v0.5h-0.5zM73.8 387.3h0.5v0.5h-0.5zM63.5 410.7h0.5v0.5h-0.5zM66.1 409.8h0.5v0.5h-0.5zM90.3 388.8h0.5v0.5h-0.5zM85.8 404.3h0.5v0.5h-0.5zM79.6 403.6h0.5v0.5h-0.5zM86.1 364.7h0.5v0.5h-0.5zM55.6 384.2h0.5v0.5h-0.5zM91.3 423.0h0.5v0.5h-0.5zM98.6 383.4h0.5v0.5h-0.5zM64.5 390.1h0.5v0.5h-0.5zM66.4 378.4h0.5v0.5h-0.5zM91.5 366.9h0.5v0.5h-0.5zM88.3 398.4h0.5v0.5h-0.5zM77.7 425.5h0.5v0.5h-0.5zM94.3 382.9h0.5v0.5h-0.5zM87.9 382.1h0.5v0.5h-0.5zM87.6 387.5h0.5v0.5h-0.5zM60.7 383.9h0.5v0.5h-0.5zM99.1 392.5h0.5v0.5h-0.5zM59.5 382.0h0.5v0.5h-0.5zM65.7 418.9h0.5v0.5h-0.5zM97.8 395.3h0.5v0.5h-0.5zM58.7 404.1h0.5v0.5h-0.5zM98.2 376.9h0.5v0.5h-0.5zM78.2 422.4h0.5v0.5h-0.5zM69.4 395.9h0.5v0.5h-0.5zM57.6 407.8h0.5v0.5h-0.5zM79.7 385.5h0.5v0.5h-0.5zM55.0 373.0h0.5v0.5h-0.5zM87.4 375.5h0.5v0.5h-0.5zM60.0 415.8h0.5v0.5h-0.5zM82.1 371.1h0.5v0.5h-0.5zM56.9 387.0h0.5v0.5h-0.5zM74.3 376.9h0.5v0.5h-0.5zM109.0 384.1h0.5v0.5h-0.5zM114.5 376.4h0.5v0.5h-0.5zM64.1 427.1h0.5v0.5h-0.5zM73.0 392.9h0.5v0.5h-0.5zM81.4 397.3h0.5v0.5h-0.5zM97.1 399.1h0.5v0.5h-0.5zM62.1 398.0h0.5v0.5h-0.5zM89.4 425.7h0.5v0.5h-0.5zM60.6 379.4h0.5v0.5h-0.5zM98.2 365.7h0.5v0.5h-0.5zM74.8 364.4h0.5v0.5h-0.5zM62.9 394.7h0.5v0.5h-0.5zM112.6 380.3h0.5v0.5h-0.5zM98.5 389.7h0.5v0.5h-0.5zM64.7 386.4h0.5v0.5h-0.5zM83.7 370.5h0.5v0.5h-0.5zM79.1 405.9h0.5v0.5h-0.5zM73.7 392.2h0.5v0.5h-0.5zM104.3 383.0h0.5v0.5h-0.5zM77.0 430.2h0.5v0.5h-0.5zM83.1 401.1h0.5v0.5h-0.5zM92.3 417.3h0.5v0.5h-0.5z" fill="#666" opacity="0.8"/>
<path d="M97.5 402.0 97.6 401.1 97.8 400.1 98.0 399.1 98.2 398.1 98.4 397.1 98.7 396.2 99.0 395.3 99.3 394.5 99.7 393.8 100.0 393.2 100.4 392.6 100.9 392.1 101.4 391.7 101.9 391.2 102.4 390.9 103.0 390.5 103.7 390.2 104.4 389.9 105.2 389.7 106.0 389.6 106.8 389.4 107.6 389.3 108.3 389.2 109.0 389.0 109.6 388.8 110.2 388.7 110.7 388.6 111.2 388.5 111.7 388.3 112.1 388.2 112.6 388.0 113.0 387.8 113.4 387.5 113.8 387.2 114.2 386.8 114.5 386.5 114.9 386.1 115.2 385.8 115.6 385.5 116.0 385.3 116.4 385.2 116.8 385.0 117.3 384.9 117.7 384.8 118.2 384.8 118.6 384.9 119.1 385.2 119.5 385.5 120.0 385.9 120.5 386.4 121.0 387.0 121.5 387.6 121.9 388.4 122.4 389.4 122.7 390.6 123.0 392.0 123.2 393.8 123.3 395.9 123.4 398.3 123.5 400.8 123.4 403.3 123.4 405.8 123.2 408.1 123.0 410.0 122.7 411.7 122.3 413.2 121.9 414.5 121.3 415.8 120.8 416.9 120.2 418.0 119.6 419.0 119.0 420.0 118.4 420.9 117.8 421.8 117.1 422.5 116.5 423.2 115.8 423.8 115.1 424.4 114.3 425.0 113.5 425.5 112.7 426.0 111.8 426.5 110.8 427.0 109.9 427.4 108.9 427.7 107.9 428.1 107.0 428.3 106.0 428.5 105.0 428.6 104.0 428.7 103.0 428.7 102.0 428.7 101.1 428.6 100.1 428.5 99.3 428.3 98.5 428.0 97.8 427.7 97.1 427.2 96.5 426.8 95.9 426.2 95.3 425.7 94.9 425.0 94.6 424.3 94.3 423.5 94.2 422.6 94.2 421.6 94.3 420.5 94.4 419.4 94.6 418.3 94.9 417.1 95.1 416.0 95.3 415.0 95.5 414.0 95.7 413.1 95.9 412.2 96.2 411.3 96.4 410.5 96.6 409.6 96.8 408.8 97.0 408.0 97.1 407.2 97.2 406.5 97.2 405.7 97.2 405.0 97.3 404.3 97.3 403.6 97.4 402.8Z" fill="#fff"/>
<clipPath id="cp3"><rect x="53.5" y="363.8" width="67.3" height="68.19999999999999"/></clipPath><g clip-path="url(#cp3)"><path d="M105.5 428.7 100.8 428.7 100.5 428.4 99.5 428.4 99.2 428.2 98.8 428.2 97.2 427.4 96.8 426.9 96.5 426.9 95.4 425.8 95.4 425.6 94.9 425.1 94.4 424.1 94.4 423.3 94.1 423.1 94.1 420.8 94.4 420.6 94.4 419.1 94.6 418.8 94.6 417.8 94.9 417.6 94.9 416.6 95.1 416.3 95.4 414.1 95.6 413.8 95.9 412.1 96.4 411.1 96.6 409.3 96.9 409.1 96.9 408.1 97.1 407.8 97.4 402.1 97.6 401.8 97.6 400.6 97.9 400.3 97.9 399.3 98.1 399.1 98.1 398.1 98.4 397.8 98.6 396.1 98.9 395.8 98.9 395.3 99.9 393.3 100.6 392.6 100.6 392.3 101.5 391.4 101.8 391.4 103.0 390.4 103.5 390.2 104.0 390.2 104.2 389.9 104.8 389.9 105.0 389.7 106.0 389.7 106.2 389.4 107.5 389.4 107.8 389.2 108.8 389.2 109.0 388.9 109.8 388.9 110.0 388.7 111.8 388.4 113.2 387.7 115.2 385.7 115.5 385.7 116.0 385.2 116.5 385.2 116.8 384.9 118.8 384.9 119.2 385.4 119.5 385.4 121.1 387.1 121.1 387.3 121.6 387.8 122.4 389.3 122.4 389.8 122.9 390.8 122.9 391.8 123.1 392.1 123.1 394.6 123.4 394.8 123.4 407.3 123.1 407.6 123.1 409.8 122.9 410.1 122.9 411.3 122.6 411.6 122.4 413.3 121.6 414.8 121.6 415.3 120.1 418.3 119.6 418.8 119.4 419.6 118.9 420.1 118.4 421.1 117.6 421.8 117.6 422.1 115.8 423.9 115.5 423.9 114.5 424.9 114.2 424.9 113.0 425.9 110.0 427.4 109.5 427.4 109.2 427.7 108.0 427.9 107.8 428.2 107.0 428.2 106.8 428.4 105.8 428.4 105.5 428.7M105.2 428.1 101.2 428.1 99.0 427.6 97.5 426.8 96.0 425.6 95.0 423.8 94.7 422.8 94.7 421.3 95.0 420.6 95.0 419.3 96.0 414.3 97.7 407.8 98.0 402.6 99.2 396.3 100.5 393.6 101.2 392.5 103.2 391.0 105.2 390.3 107.8 390.0 112.0 389.0 113.7 388.1 115.5 386.3 116.2 385.8 117.2 385.5 118.5 385.5 119.5 386.3 121.0 388.1 121.8 389.6 122.5 392.6 122.5 394.6 122.8 395.3 122.8 406.8 122.5 407.6 122.5 409.6 121.8 413.1 121.0 415.1 118.8 419.3 117.0 421.8 115.5 423.3 112.8 425.3 109.8 426.8 107.5 427.6 105.2 428.1M105.0 427.4 101.2 427.4 100.0 427.1 98.2 426.4 96.7 425.3 95.7 423.6 95.4 422.6 95.7 419.6 96.7 414.6 98.4 408.1 98.7 402.6 99.9 396.6 101.1 394.1 102.0 392.8 103.8 391.6 105.5 391.0 109.0 390.4 112.2 389.6 114.0 388.7 115.8 387.0 116.5 386.5 117.2 386.2 118.2 386.3 119.8 387.6 120.4 388.6 121.6 391.3 121.8 392.8 121.9 394.8 122.1 395.6 122.1 406.6 121.9 407.3 121.8 409.3 121.1 412.8 120.3 414.8 118.9 417.6 117.0 420.6 115.2 422.6 112.2 424.7 109.5 426.1 107.2 426.9 105.0 427.4M105.5 426.6 104.8 426.8 101.5 426.8 99.5 426.3 97.2 425.0 96.4 423.6 96.0 422.3 96.2 419.8 97.2 414.8 99.0 408.1 99.2 402.8 100.0 398.8 100.7 396.1 101.6 394.3 102.4 393.3 104.0 392.2 105.8 391.6 109.2 391.0 112.5 390.2 114.5 389.1 116.1 387.6 116.8 387.1 117.5 386.8 118.0 386.9 119.2 387.9 120.5 390.1 121.2 392.8 121.3 394.8 121.5 395.6 121.5 406.6 121.3 407.3 121.2 409.1 121.0 410.6 120.3 413.3 117.6 418.6 115.9 421.1 114.9 422.1 112.0 424.2 109.3 425.6 107.0 426.3 105.5 426.6M105.0 426.1 101.8 426.2 99.5 425.7 97.7 424.6 96.9 423.3 96.6 422.1 97.9 414.8 99.6 408.3 99.8 403.1 101.3 396.3 102.2 394.6 102.8 393.8 104.2 392.7 105.8 392.2 109.2 391.6 112.8 390.7 114.8 389.7 116.5 388.0 117.8 387.4 118.8 388.3 119.9 390.3 120.7 393.1 120.7 394.8 120.9 395.8 120.9 406.3 120.4 410.3 119.7 413.1 119.1 414.6 117.1 418.3 115.3 420.8 114.5 421.6 111.8 423.6 109.2 424.9 107.0 425.7 105.0 426.1M104.5 425.6 101.8 425.6 99.8 425.1 98.1 424.1 97.4 423.1 97.2 422.1 98.5 415.1 100.2 408.3 100.5 403.1 101.2 399.1 101.9 396.3 103.2 394.2 104.8 393.2 113.0 391.2 115.0 390.2 117.0 388.4 117.8 388.1 118.9 389.6 119.6 391.3 120.0 393.1 120.1 394.8 120.3 395.8 120.3 406.3 119.8 410.3 119.1 413.1 116.7 417.8 114.2 421.1 111.2 423.2 109.0 424.4 106.8 425.1 104.5 425.6" fill="none" stroke="#000" stroke-width="0.6" stroke-linejoin="round"/></g>
<clipPath id="cp4"><rect x="53.5" y="363.8" width="67.3" height="68.19999999999999"/></clipPath><g clip-path="url(#cp4)"><path d="M106.5 430.6 105.2 430.7 104.0 430.6 102.5 430.2 101.0 429.5 98.0 427.5 95.2 424.6 92.9 421.1 91.4 417.6 90.7 414.3 90.9 411.3 91.5 409.7 92.5 408.4 93.5 407.7 96.5 406.4 97.8 405.5 103.3 400.1 104.4 398.6 104.3 397.8 103.8 397.3 99.5 395.5 97.9 394.3 97.4 393.6 97.2 392.8 97.4 392.1 98.1 391.1 99.8 389.8 102.2 388.7 109.8 386.9 115.0 384.4 116.2 384.2 117.2 384.3 118.8 385.0 120.4 386.6 121.7 388.6 122.4 390.6 122.5 392.8 120.8 404.1 119.6 408.3 118.6 410.3 117.7 411.8 115.8 413.9 112.1 416.6 110.9 418.1 110.2 420.1 110.4 424.8 109.9 427.3 109.3 428.6 108.5 429.5 107.5 430.2 106.5 430.6M105.0 429.8 102.5 429.4 100.0 428.2 97.3 426.1 95.0 423.3 93.1 420.3 91.9 417.1 91.4 414.1 91.7 411.6 92.4 410.1 93.2 409.1 94.2 408.4 97.0 407.1 98.0 406.3 104.9 399.8 106.0 398.3 106.0 397.6 105.3 396.8 101.0 395.2 99.3 394.1 98.8 393.3 98.8 392.6 99.0 391.8 99.6 391.1 101.0 390.0 103.2 389.1 109.8 387.5 115.0 385.2 116.2 385.1 117.2 385.2 118.8 386.0 120.2 387.5 121.3 389.3 121.8 391.1 121.8 392.8 121.0 399.8 120.1 405.1 118.8 408.6 117.1 411.6 115.2 413.3 111.8 415.7 110.8 416.8 110.1 417.8 109.7 418.8 109.5 420.1 109.5 425.3 109.2 426.8 108.7 427.8 108.0 428.7 107.2 429.2 106.2 429.6 105.0 429.8M105.2 429.1 103.0 428.9 100.2 427.7 97.8 425.8 95.5 423.3 93.8 420.6 92.6 417.6 92.0 414.6 92.3 412.1 92.8 410.8 93.6 409.8 94.5 409.1 97.0 407.9 98.0 407.2 101.0 404.2 105.8 400.0 107.0 398.3 107.2 397.3 106.5 396.4 102.1 394.8 100.5 393.8 100.2 393.3 100.0 392.6 100.7 391.3 102.0 390.3 104.0 389.4 109.8 388.0 114.8 386.0 116.0 385.8 117.0 385.9 118.5 386.6 119.8 387.8 120.7 389.3 121.2 391.1 121.3 393.1 120.7 399.6 119.7 404.8 118.4 408.3 116.8 411.1 115.0 412.8 111.5 415.0 109.8 417.2 109.0 419.3 109.0 424.1 108.6 426.3 108.0 427.4 107.2 428.2 106.2 428.8 105.2 429.1M105.5 428.3 103.5 428.4 101.0 427.6 98.5 425.9 96.3 423.6 94.4 420.8 93.1 417.8 92.6 415.1 92.8 412.6 93.3 411.3 94.1 410.3 98.2 407.7 101.2 404.7 106.4 400.3 107.7 398.6 107.9 397.1 107.3 396.1 106.2 395.5 103.0 394.4 101.7 393.6 101.2 392.6 101.5 391.8 101.9 391.3 102.9 390.6 104.2 389.9 109.8 388.5 114.2 386.7 115.8 386.4 117.0 386.5 118.2 387.1 119.5 388.3 120.4 389.8 120.8 391.3 120.9 393.3 120.3 399.3 119.4 404.6 118.1 408.1 116.5 410.6 114.8 412.3 111.2 414.5 110.2 415.5 109.2 417.0 108.7 418.1 108.5 419.3 108.5 423.6 108.2 425.6 107.2 427.3 106.5 427.9 105.5 428.3M105.0 427.8 103.0 427.8 100.8 426.9 98.5 425.4 96.3 423.1 94.5 420.3 93.4 417.6 93.0 415.1 93.3 412.8 93.8 411.7 94.5 410.7 98.2 408.4 101.2 405.3 106.6 400.8 107.5 399.8 108.2 398.6 108.5 397.3 108.2 396.1 107.2 395.3 104.2 394.2 103.0 393.6 102.6 393.1 102.4 392.6 102.8 391.6 103.8 390.8 104.9 390.3 110.0 388.8 114.0 387.2 115.5 386.9 117.0 387.0 118.2 387.7 119.4 388.8 120.2 390.3 120.5 391.8 120.5 393.8 120.0 399.8 119.0 404.8 117.8 407.8 116.2 410.3 114.5 411.9 111.0 414.0 109.0 416.6 108.3 417.8 108.0 419.1 108.1 423.3 107.7 425.3 106.8 426.9 106.0 427.5 105.0 427.8M104.8 427.3 102.8 427.3 100.8 426.5 98.5 424.9 96.5 422.8 94.9 420.3 93.9 417.8 93.4 415.3 93.7 413.1 94.1 412.1 94.8 411.3 98.5 408.8 101.5 405.6 106.8 401.3 108.5 399.1 109.0 397.3 108.7 395.8 107.6 394.8 104.2 393.3 103.7 392.6 103.7 392.1 104.1 391.6 105.8 390.6 109.8 389.3 113.8 387.7 115.2 387.3 116.8 387.4 118.0 388.0 119.0 389.0 119.7 390.3 120.1 391.8 120.1 393.8 119.7 399.6 118.6 404.8 117.5 407.8 116.0 410.0 114.5 411.3 111.0 413.3 110.0 414.3 108.6 416.3 108.0 417.6 107.6 418.8 107.6 423.1 107.3 425.1 106.2 426.6 104.8 427.3M104.8 426.8 103.0 426.9 100.8 426.1 98.8 424.7 96.8 422.6 95.3 420.3 94.2 417.8 93.8 415.3 94.1 413.3 94.5 412.3 95.2 411.6 98.6 409.3 101.6 406.1 106.8 402.0 108.0 400.6 108.8 399.4 109.4 397.6 109.2 395.8 108.2 394.6 105.2 392.9 105.0 392.3 105.2 391.8 106.8 390.8 113.8 388.0 115.2 387.7 116.8 387.9 117.8 388.3 118.8 389.3 119.5 390.6 119.8 392.1 119.8 394.1 119.5 399.3 119.0 402.1 118.4 404.6 117.4 407.3 115.9 409.6 114.2 411.0 110.8 412.9 109.8 414.0 108.2 416.3 107.6 417.6 107.3 418.6 107.3 422.8 107.0 424.6 106.1 426.1 104.8 426.8M104.8 426.3 103.0 426.5 101.0 425.8 99.0 424.5 97.1 422.6 95.6 420.3 94.6 417.8 94.2 415.6 94.4 413.6 94.9 412.6 95.6 411.8 98.5 410.0 101.8 406.4 106.5 402.8 108.0 401.2 108.9 399.8 109.7 397.6 109.7 395.8 108.8 394.3 106.8 392.8 106.5 392.3 106.7 391.8 107.8 391.1 113.5 388.5 115.2 388.1 116.8 388.3 117.8 388.8 118.7 389.8 119.2 391.0 119.5 392.3 119.2 399.6 118.2 404.6 117.0 407.3 115.7 409.3 114.0 410.7 111.5 411.9 110.5 412.5 109.5 413.7 107.8 416.3 107.2 417.3 106.9 418.6 106.9 422.6 106.7 424.1 106.0 425.4 104.8 426.3M104.0 426.1 102.2 426.0 100.5 425.2 98.8 423.9 97.0 422.1 95.8 420.1 94.9 417.8 94.5 415.6 94.8 413.8 95.7 412.3 99.0 410.1 102.0 406.6 106.5 403.4 107.8 402.1 108.9 400.6 109.9 398.3 110.1 396.3 109.7 394.8 108.0 392.6 108.1 391.8 109.9 390.6 113.2 388.9 115.0 388.4 116.5 388.6 117.5 389.1 118.4 390.1 119.0 391.2 119.2 392.6 119.0 399.6 118.6 402.1 117.9 404.6 116.9 407.1 115.5 409.0 114.0 410.3 110.4 412.1 109.5 413.0 107.7 415.8 107.0 417.1 106.6 418.3 106.6 422.3 106.2 424.1 105.5 425.3 104.8 425.8 104.0 426.1M104.0 425.6 102.5 425.6 100.8 425.0 99.0 423.8 97.2 421.9 95.9 419.8 95.2 417.8 94.9 415.8 95.1 414.1 95.5 413.3 96.2 412.4 99.2 410.4 102.0 407.1 106.2 404.2 107.5 403.0 108.8 401.3 109.9 399.1 110.4 396.8 110.2 395.1 109.1 392.6 109.1 392.1 109.4 391.6 111.1 390.3 113.5 389.1 115.0 388.8 116.5 388.9 117.5 389.5 118.2 390.3 118.8 391.5 119.0 392.8 118.7 399.6 118.3 402.1 117.6 404.6 116.6 407.1 115.3 408.8 113.8 410.0 110.2 411.6 109.4 412.6 107.1 416.1 106.6 417.1 106.2 418.2 106.2 422.1 106.0 423.6 105.2 424.9 104.0 425.6M103.2 425.3 101.8 425.1 100.0 424.2 98.5 423.0 97.1 421.3 96.1 419.6 95.4 417.6 95.2 415.8 95.4 414.3 96.5 412.8 99.5 410.7 102.2 407.3 106.5 404.6 107.5 403.6 108.8 401.9 110.0 399.6 110.7 397.3 110.6 395.3 109.8 392.6 110.2 391.6 111.5 390.5 113.5 389.4 115.0 389.1 116.5 389.3 117.5 389.9 118.2 390.8 118.5 391.8 118.8 393.3 118.5 399.8 118.0 402.3 117.3 404.8 116.2 407.1 114.8 408.9 113.2 409.9 110.5 410.8 109.2 412.1 106.6 416.3 106.1 417.3 105.9 418.8 105.9 422.1 105.5 423.8 104.5 424.9 103.2 425.3M103.8 424.8 102.2 424.9 100.8 424.3 99.2 423.3 97.8 421.7 96.6 420.1 95.8 418.1 95.5 416.1 95.7 414.6 96.8 413.1 99.7 411.1 102.2 407.7 103.5 406.8 106.5 405.2 107.5 404.3 108.5 402.9 110.0 400.3 110.8 397.8 111.0 395.6 110.4 392.8 110.6 392.1 110.9 391.6 112.0 390.6 113.5 389.8 115.0 389.4 116.2 389.6 117.1 390.1 117.8 390.8 118.2 391.8 118.5 393.3 118.3 399.6 117.9 402.1 117.2 404.3 116.1 406.8 114.8 408.5 113.2 409.5 110.2 410.4 109.1 411.6 105.9 416.8 105.6 418.3 105.6 421.3 105.4 422.8 104.9 424.1 103.8 424.8M103.8 424.4 102.5 424.5 101.0 424.1 99.5 423.2 98.0 421.6 96.8 419.8 96.1 418.1 95.8 416.3 96.1 414.8 97.0 413.4 99.8 411.6 101.7 408.8 102.6 407.8 103.8 407.0 106.5 405.9 107.7 404.8 109.8 401.4 111.0 398.3 111.3 396.1 110.9 392.8 111.2 391.8 112.2 390.8 113.8 390.0 115.0 389.7 116.2 389.9 117.0 390.4 117.7 391.3 118.1 392.3 118.3 393.8 118.0 399.8 117.7 402.1 117.0 404.3 116.0 406.6 114.5 408.3 113.0 409.2 110.0 409.9 109.0 410.9 107.6 413.6 105.5 416.8 105.3 418.1 105.3 421.3 105.1 422.6 104.5 423.8 103.8 424.4M103.2 424.1 102.0 424.1 100.8 423.7 99.2 422.6 98.0 421.2 97.0 419.6 96.4 418.1 96.1 416.6 96.4 415.1 97.2 413.7 100.0 411.9 101.9 409.1 102.8 408.1 104.2 407.2 106.8 406.4 107.8 405.6 110.0 401.5 111.1 398.6 111.6 396.3 111.4 393.1 111.6 392.1 112.5 391.1 113.8 390.3 115.0 390.1 116.0 390.2 116.8 390.6 117.5 391.6 117.8 392.6 118.0 394.1 117.8 399.8 117.4 402.1 116.8 404.3 115.6 406.6 114.2 408.1 112.8 408.9 109.8 409.4 108.9 410.1 107.4 413.3 105.2 416.6 104.9 417.8 105.0 421.1 104.8 422.3 104.2 423.5 103.2 424.1M103.2 423.6 102.0 423.7 100.8 423.3 99.5 422.5 98.2 421.2 97.2 419.6 96.7 418.1 96.5 416.6 96.7 415.3 97.5 414.1 100.3 412.3 102.0 409.4 103.0 408.3 104.2 407.6 107.2 407.1 108.0 406.6 110.5 401.1 111.4 398.6 111.8 396.3 111.8 393.3 112.0 392.3 112.8 391.3 113.8 390.7 115.0 390.4 116.0 390.6 116.8 391.1 117.3 391.8 117.6 393.1 117.8 394.6 117.6 400.1 117.2 402.3 116.5 404.3 115.2 406.6 113.8 408.0 112.2 408.6 109.5 408.6 108.7 409.1 107.2 413.1 105.2 415.8 104.8 416.6 104.6 417.8 104.6 421.8 104.1 423.1 103.2 423.6M112.5 408.1 111.0 408.1 109.6 407.6 109.1 406.8 109.1 405.8 111.8 397.8 112.1 396.1 112.2 393.6 112.3 392.6 112.8 391.8 113.8 391.1 114.8 390.8 115.5 390.8 116.2 391.1 116.8 391.6 117.4 393.3 117.6 397.3 117.3 400.8 116.6 403.6 115.5 405.8 114.2 407.3 112.5 408.1M102.8 423.3 101.8 423.3 100.8 423.0 99.5 422.1 98.5 421.1 97.7 419.8 97.0 418.3 96.8 417.1 96.9 415.8 97.2 415.1 97.8 414.4 100.0 413.1 100.7 412.6 102.1 409.8 103.0 408.7 104.5 407.9 105.5 407.8 106.5 407.9 107.2 408.2 107.7 408.8 107.7 409.8 107.5 411.3 106.7 413.3 104.5 416.1 104.3 417.3 104.4 420.3 104.2 421.7 103.7 422.8 102.8 423.3M113.0 407.6 111.8 407.7 110.5 407.2 109.8 406.3 109.8 405.1 112.1 397.6 112.7 392.8 113.1 392.1 113.7 391.6 114.5 391.2 115.2 391.2 116.4 391.8 117.1 393.3 117.3 396.8 117.2 400.1 116.6 402.8 115.7 405.1 114.5 406.6 113.0 407.6M102.8 422.9 101.8 423.0 100.8 422.6 99.8 422.0 98.8 421.1 98.0 419.8 97.4 418.6 97.1 417.3 97.2 416.3 97.5 415.4 98.0 414.8 100.3 413.6 101.0 413.0 102.2 410.3 103.2 409.1 104.5 408.4 105.8 408.3 106.5 408.7 107.0 409.3 107.2 410.3 107.1 411.3 106.3 413.3 104.1 415.8 103.9 417.1 104.1 420.1 104.0 421.3 103.5 422.4 102.8 422.9M113.0 407.1 111.8 407.2 110.8 406.6 110.3 405.8 110.3 404.6 112.4 397.6 113.1 393.1 113.5 392.3 114.0 391.9 115.2 391.6 115.8 391.8 116.3 392.3 116.9 393.8 117.1 397.3 116.9 400.3 116.3 402.8 115.5 404.8 114.2 406.4 113.0 407.1M102.2 422.6 101.5 422.5 100.5 422.1 98.8 420.5 97.6 418.3 97.5 417.3 97.6 416.3 97.9 415.6 98.5 414.9 100.8 414.0 101.4 413.6 102.5 410.6 103.2 409.5 104.2 408.9 105.5 408.8 106.2 409.3 106.6 409.8 106.7 410.6 106.6 411.6 105.8 413.3 104.1 414.8 103.5 415.6 103.4 416.6 103.7 419.6 103.6 421.1 103.2 422.1 102.2 422.6M113.2 406.6 112.2 406.7 111.2 406.2 110.8 405.3 110.8 404.1 112.7 397.6 113.5 393.3 114.0 392.5 115.0 392.1 115.5 392.3 116.0 392.7 116.5 393.8 116.8 396.8 116.8 399.9 116.3 402.3 115.5 404.2 114.5 405.7 113.2 406.6M103.5 414.1 103.0 414.2 102.6 413.8 102.5 412.6 102.8 411.1 103.2 410.3 103.8 409.7 104.5 409.4 105.2 409.4 105.8 409.7 106.1 410.3 106.2 411.1 106.0 412.1 105.0 413.4 103.5 414.1M102.2 422.1 101.2 422.0 100.0 421.4 99.0 420.4 98.2 419.1 97.9 417.8 97.9 416.6 98.5 415.6 99.2 415.1 101.8 414.6 102.2 414.7 102.5 415.0 103.2 418.3 103.4 420.1 103.0 421.5 102.2 422.1M113.2 406.1 112.2 406.1 111.5 405.6 111.2 404.8 111.3 403.6 113.1 397.1 113.8 394.0 114.2 393.1 115.0 392.8 115.8 393.2 116.3 394.6 116.6 397.3 116.5 400.1 116.0 402.3 115.2 404.1 114.2 405.5 113.2 406.1M104.8 412.8 103.8 413.0 103.3 412.6 103.2 412.1 103.5 410.8 104.0 410.2 104.5 410.0 105.2 410.2 105.7 411.1 105.5 412.1 104.8 412.8M102.0 421.6 101.2 421.6 100.2 421.1 99.2 420.2 98.6 419.1 98.3 418.1 98.3 417.1 98.6 416.3 99.2 415.7 100.0 415.4 101.0 415.5 101.8 415.8 102.2 416.6 102.8 418.1 103.0 419.8 102.8 420.9 102.0 421.6M113.0 405.6 112.2 405.4 111.8 404.8 111.7 404.1 111.8 402.8 114.0 395.0 114.5 394.0 115.0 393.8 115.4 394.1 115.7 394.6 116.1 396.1 116.3 398.3 116.1 400.6 115.7 402.3 115.0 403.9 114.0 405.1 113.0 405.6M101.5 421.1 100.8 420.9 100.0 420.4 98.9 418.8 98.7 417.8 98.8 417.1 99.1 416.6 99.8 416.2 100.5 416.1 101.2 416.4 101.8 416.9 102.2 417.9 102.5 419.1 102.5 420.1 102.1 420.8 101.5 421.1M113.5 404.8 112.8 404.8 112.3 404.3 112.1 403.6 112.2 402.3 113.0 399.4 114.0 396.6 114.5 395.6 115.0 395.3 115.5 395.9 115.9 397.3 116.0 398.8 115.9 400.6 115.0 403.2 114.2 404.3 113.5 404.8M101.2 420.3 100.2 420.0 99.4 418.8 99.3 417.6 100.0 416.9 101.0 417.1 101.8 418.2 101.9 419.6 101.7 420.1 101.2 420.3" fill="none" stroke="#000" stroke-width="0.6" stroke-linejoin="round"/></g>
<path d="M100.5 395 C103 391.5 108 391 112 390 C115 389 117 387.5 119 388" stroke="#fff" stroke-width="0.7" fill="none"/>
<path d="M52.0 365.0h1.5M52.0 367.2h1.5M52.0 369.4h1.5M52.0 371.6h1.5M52.0 373.8h1.5M52.0 376.0h1.5M52.0 378.2h1.5M52.0 380.4h1.5M52.0 382.6h1.5M52.0 384.8h1.5M52.0 387.0h1.5M52.0 389.2h1.5M52.0 391.4h1.5M52.0 393.6h1.5M52.0 395.8h1.5M52.0 398.0h1.5M52.0 400.2h1.5M52.0 402.4h1.5M52.0 404.6h1.5M52.0 406.8h1.5M52.0 409.0h1.5M52.0 411.2h1.5M52.0 413.4h1.5M52.0 415.6h1.5M52.0 417.8h1.5M52.0 420.0h1.5M52.0 422.2h1.5M52.0 424.4h1.5M52.0 426.6h1.5M52.0 428.8h1.5M52.0 431.0h1.5" stroke="#666" stroke-width="0.5" fill="none"/>
<path d="M55.0 432.0v1.5M57.2 432.0v1.5M59.4 432.0v1.5M61.6 432.0v1.5M63.8 432.0v1.5M66.0 432.0v1.5M68.2 432.0v1.5M70.4 432.0v1.5M72.6 432.0v1.5M74.8 432.0v1.5M77.0 432.0v1.5M79.2 432.0v1.5M81.4 432.0v1.5M83.6 432.0v1.5M85.8 432.0v1.5M88.0 432.0v1.5M90.2 432.0v1.5M92.4 432.0v1.5M94.6 432.0v1.5M96.8 432.0v1.5M99.0 432.0v1.5M101.2 432.0v1.5M103.4 432.0v1.5M105.6 432.0v1.5M107.8 432.0v1.5M110.0 432.0v1.5M112.2 432.0v1.5M114.4 432.0v1.5M116.6 432.0v1.5M118.8 432.0v1.5" stroke="#777" stroke-width="0.5" fill="none"/>
<path d="M213.2 409.7h0.5v0.5h-0.5zM209.9 386.2h0.5v0.5h-0.5zM212.8 389.2h0.5v0.5h-0.5zM207.6 382.3h0.5v0.5h-0.5zM173.1 393.8h0.5v0.5h-0.5zM206.8 420.2h0.5v0.5h-0.5zM213.3 409.2h0.5v0.5h-0.5zM205.0 370.0h0.5v0.5h-0.5zM209.5 404.3h0.5v0.5h-0.5zM211.3 408.9h0.5v0.5h-0.5zM207.0 421.3h0.5v0.5h-0.5zM202.6 371.6h0.5v0.5h-0.5zM211.9 389.4h0.5v0.5h-0.5zM184.5 429.5h0.5v0.5h-0.5zM174.9 379.1h0.5v0.5h-0.5zM211.9 391.9h0.5v0.5h-0.5zM209.1 397.4h0.5v0.5h-0.5zM222.8 395.0h0.5v0.5h-0.5zM208.6 401.4h0.5v0.5h-0.5zM202.9 370.9h0.5v0.5h-0.5zM192.9 367.9h0.5v0.5h-0.5zM224.3 406.4h0.5v0.5h-0.5zM173.2 417.8h0.5v0.5h-0.5zM210.6 385.3h0.5v0.5h-0.5zM212.0 378.2h0.5v0.5h-0.5zM201.0 372.0h0.5v0.5h-0.5zM170.2 425.0h0.5v0.5h-0.5zM211.6 408.0h0.5v0.5h-0.5zM213.0 377.0h0.5v0.5h-0.5zM173.1 419.5h0.5v0.5h-0.5zM171.9 413.2h0.5v0.5h-0.5zM209.2 404.4h0.5v0.5h-0.5zM203.6 371.6h0.5v0.5h-0.5zM208.6 403.2h0.5v0.5h-0.5zM211.3 427.3h0.5v0.5h-0.5zM172.8 393.1h0.5v0.5h-0.5zM172.1 424.5h0.5v0.5h-0.5zM173.8 408.3h0.5v0.5h-0.5zM169.5 389.3h0.5v0.5h-0.5zM209.1 388.5h0.5v0.5h-0.5zM186.9 368.8h0.5v0.5h-0.5zM213.6 410.7h0.5v0.5h-0.5zM210.9 393.9h0.5v0.5h-0.5zM213.3 398.2h0.5v0.5h-0.5zM211.5 403.8h0.5v0.5h-0.5zM175.0 415.7h0.5v0.5h-0.5zM194.0 370.3h0.5v0.5h-0.5zM213.9 404.1h0.5v0.5h-0.5zM206.2 423.2h0.5v0.5h-0.5zM218.9 398.2h0.5v0.5h-0.5zM172.8 373.7h0.5v0.5h-0.5zM213.1 423.4h0.5v0.5h-0.5zM168.6 402.5h0.5v0.5h-0.5zM169.9 402.2h0.5v0.5h-0.5zM209.3 391.6h0.5v0.5h-0.5zM169.1 390.5h0.5v0.5h-0.5zM206.4 426.6h0.5v0.5h-0.5zM201.8 370.6h0.5v0.5h-0.5zM208.0 364.8h0.5v0.5h-0.5zM176.7 422.4h0.5v0.5h-0.5zM208.8 409.1h0.5v0.5h-0.5zM171.4 415.2h0.5v0.5h-0.5zM209.1 399.0h0.5v0.5h-0.5zM216.9 381.2h0.5v0.5h-0.5zM211.0 389.0h0.5v0.5h-0.5zM173.3 392.0h0.5v0.5h-0.5zM176.9 427.6h0.5v0.5h-0.5zM216.4 393.0h0.5v0.5h-0.5zM187.1 366.9h0.5v0.5h-0.5zM176.0 424.7h0.5v0.5h-0.5zM218.5 397.9h0.5v0.5h-0.5zM179.7 368.3h0.5v0.5h-0.5zM169.5 404.1h0.5v0.5h-0.5zM172.3 408.5h0.5v0.5h-0.5zM173.6 401.9h0.5v0.5h-0.5zM185.4 371.5h0.5v0.5h-0.5zM214.9 408.0h0.5v0.5h-0.5zM171.5 378.3h0.5v0.5h-0.5zM172.6 415.9h0.5v0.5h-0.5zM182.4 370.2h0.5v0.5h-0.5zM171.7 388.2h0.5v0.5h-0.5zM177.5 371.3h0.5v0.5h-0.5zM210.0 408.9h0.5v0.5h-0.5zM216.4 387.9h0.5v0.5h-0.5zM219.9 389.9h0.5v0.5h-0.5zM170.5 407.2h0.5v0.5h-0.5zM210.8 373.2h0.5v0.5h-0.5zM207.6 422.3h0.5v0.5h-0.5zM179.9 428.8h0.5v0.5h-0.5zM172.7 393.0h0.5v0.5h-0.5zM216.0 411.0h0.5v0.5h-0.5zM218.6 382.3h0.5v0.5h-0.5zM216.2 403.6h0.5v0.5h-0.5zM212.2 388.0h0.5v0.5h-0.5zM202.2 368.4h0.5v0.5h-0.5zM173.4 415.1h0.5v0.5h-0.5zM173.8 375.8h0.5v0.5h-0.5zM213.5 398.5h0.5v0.5h-0.5zM171.5 411.4h0.5v0.5h-0.5zM175.0 414.6h0.5v0.5h-0.5zM215.0 394.6h0.5v0.5h-0.5zM215.0 385.3h0.5v0.5h-0.5zM209.1 401.5h0.5v0.5h-0.5zM227.3 401.2h0.5v0.5h-0.5zM195.2 429.5h0.5v0.5h-0.5zM224.3 397.9h0.5v0.5h-0.5zM210.0 378.5h0.5v0.5h-0.5zM215.5 400.3h0.5v0.5h-0.5zM212.4 387.5h0.5v0.5h-0.5zM219.0 396.1h0.5v0.5h-0.5zM172.8 404.0h0.5v0.5h-0.5zM179.8 366.9h0.5v0.5h-0.5zM177.0 425.6h0.5v0.5h-0.5zM172.0 390.8h0.5v0.5h-0.5zM169.2 405.1h0.5v0.5h-0.5zM210.7 412.4h0.5v0.5h-0.5zM208.9 379.9h0.5v0.5h-0.5zM189.1 429.7h0.5v0.5h-0.5zM210.0 416.3h0.5v0.5h-0.5zM168.7 407.5h0.5v0.5h-0.5zM214.4 396.1h0.5v0.5h-0.5zM173.7 380.6h0.5v0.5h-0.5zM200.1 367.8h0.5v0.5h-0.5zM214.0 417.8h0.5v0.5h-0.5zM205.9 366.5h0.5v0.5h-0.5zM209.8 408.6h0.5v0.5h-0.5zM179.2 372.3h0.5v0.5h-0.5zM198.7 365.6h0.5v0.5h-0.5zM175.1 370.5h0.5v0.5h-0.5zM208.4 403.2h0.5v0.5h-0.5zM214.8 394.8h0.5v0.5h-0.5zM175.9 418.5h0.5v0.5h-0.5zM169.6 399.1h0.5v0.5h-0.5zM173.6 403.7h0.5v0.5h-0.5zM209.7 371.5h0.5v0.5h-0.5zM176.1 428.3h0.5v0.5h-0.5zM211.9 419.7h0.5v0.5h-0.5zM205.5 428.4h0.5v0.5h-0.5zM172.6 379.3h0.5v0.5h-0.5zM172.5 404.4h0.5v0.5h-0.5zM211.4 412.6h0.5v0.5h-0.5zM170.9 386.4h0.5v0.5h-0.5zM208.5 398.8h0.5v0.5h-0.5zM194.1 370.2h0.5v0.5h-0.5zM173.0 426.5h0.5v0.5h-0.5zM185.5 370.5h0.5v0.5h-0.5zM173.4 385.5h0.5v0.5h-0.5zM172.5 390.0h0.5v0.5h-0.5zM205.4 375.4h0.5v0.5h-0.5zM212.5 386.0h0.5v0.5h-0.5zM208.2 404.3h0.5v0.5h-0.5zM173.7 423.8h0.5v0.5h-0.5zM172.4 420.4h0.5v0.5h-0.5zM169.7 412.6h0.5v0.5h-0.5zM195.1 371.4h0.5v0.5h-0.5zM169.3 408.8h0.5v0.5h-0.5zM174.8 424.7h0.5v0.5h-0.5zM210.4 398.1h0.5v0.5h-0.5zM213.6 389.8h0.5v0.5h-0.5zM202.9 372.3h0.5v0.5h-0.5zM213.4 408.7h0.5v0.5h-0.5zM174.2 400.7h0.5v0.5h-0.5zM217.5 410.3h0.5v0.5h-0.5zM214.3 394.6h0.5v0.5h-0.5zM173.6 374.5h0.5v0.5h-0.5zM171.9 400.6h0.5v0.5h-0.5zM223.2 410.7h0.5v0.5h-0.5zM208.9 386.4h0.5v0.5h-0.5zM202.9 427.2h0.5v0.5h-0.5zM225.2 379.4h0.5v0.5h-0.5zM168.7 413.4h0.5v0.5h-0.5zM226.2 407.5h0.5v0.5h-0.5zM208.6 411.1h0.5v0.5h-0.5zM196.9 370.2h0.5v0.5h-0.5zM207.7 415.8h0.5v0.5h-0.5zM189.1 366.0h0.5v0.5h-0.5zM217.0 386.9h0.5v0.5h-0.5zM211.0 418.4h0.5v0.5h-0.5zM190.7 429.9h0.5v0.5h-0.5zM171.4 406.5h0.5v0.5h-0.5zM171.9 406.8h0.5v0.5h-0.5zM209.2 394.2h0.5v0.5h-0.5zM212.0 388.5h0.5v0.5h-0.5zM170.6 390.8h0.5v0.5h-0.5zM208.0 379.1h0.5v0.5h-0.5zM218.5 406.1h0.5v0.5h-0.5zM211.5 386.7h0.5v0.5h-0.5zM215.5 410.3h0.5v0.5h-0.5zM210.2 390.8h0.5v0.5h-0.5zM173.6 367.4h0.5v0.5h-0.5zM173.8 369.1h0.5v0.5h-0.5zM208.1 413.3h0.5v0.5h-0.5zM172.5 391.1h0.5v0.5h-0.5zM185.2 369.2h0.5v0.5h-0.5zM171.1 373.6h0.5v0.5h-0.5zM183.3 372.0h0.5v0.5h-0.5zM209.6 399.5h0.5v0.5h-0.5zM202.8 372.0h0.5v0.5h-0.5zM216.7 391.2h0.5v0.5h-0.5zM188.8 368.8h0.5v0.5h-0.5zM212.9 379.2h0.5v0.5h-0.5zM176.2 424.5h0.5v0.5h-0.5zM191.7 367.0h0.5v0.5h-0.5zM209.9 428.7h0.5v0.5h-0.5zM181.7 365.5h0.5v0.5h-0.5zM202.1 371.1h0.5v0.5h-0.5zM216.0 418.2h0.5v0.5h-0.5zM213.4 388.5h0.5v0.5h-0.5zM208.4 424.3h0.5v0.5h-0.5zM212.9 414.8h0.5v0.5h-0.5zM173.3 420.1h0.5v0.5h-0.5zM212.6 405.3h0.5v0.5h-0.5zM211.1 398.2h0.5v0.5h-0.5zM224.6 392.7h0.5v0.5h-0.5zM214.5 417.3h0.5v0.5h-0.5zM170.4 392.4h0.5v0.5h-0.5zM218.1 378.3h0.5v0.5h-0.5zM211.0 384.7h0.5v0.5h-0.5zM220.4 390.5h0.5v0.5h-0.5zM222.8 413.7h0.5v0.5h-0.5zM171.9 380.5h0.5v0.5h-0.5zM179.9 368.1h0.5v0.5h-0.5zM184.8 369.8h0.5v0.5h-0.5zM169.6 426.0h0.5v0.5h-0.5zM209.6 393.1h0.5v0.5h-0.5zM174.6 395.5h0.5v0.5h-0.5zM170.8 397.2h0.5v0.5h-0.5zM172.6 415.5h0.5v0.5h-0.5zM175.4 413.5h0.5v0.5h-0.5zM216.3 419.8h0.5v0.5h-0.5zM212.6 396.6h0.5v0.5h-0.5zM175.1 411.4h0.5v0.5h-0.5zM170.8 408.2h0.5v0.5h-0.5zM210.3 408.6h0.5v0.5h-0.5zM209.0 401.8h0.5v0.5h-0.5zM170.2 404.5h0.5v0.5h-0.5zM209.2 398.1h0.5v0.5h-0.5zM213.1 421.9h0.5v0.5h-0.5zM179.9 428.6h0.5v0.5h-0.5zM174.0 421.1h0.5v0.5h-0.5zM211.3 398.6h0.5v0.5h-0.5zM179.6 427.7h0.5v0.5h-0.5zM176.6 373.2h0.5v0.5h-0.5zM207.5 378.5h0.5v0.5h-0.5zM181.4 429.8h0.5v0.5h-0.5zM205.0 426.7h0.5v0.5h-0.5zM208.9 404.0h0.5v0.5h-0.5zM212.8 405.1h0.5v0.5h-0.5zM191.0 371.7h0.5v0.5h-0.5zM209.2 413.0h0.5v0.5h-0.5zM212.7 375.5h0.5v0.5h-0.5zM189.7 371.2h0.5v0.5h-0.5zM209.2 392.5h0.5v0.5h-0.5zM218.5 393.9h0.5v0.5h-0.5zM173.6 418.0h0.5v0.5h-0.5zM209.2 379.6h0.5v0.5h-0.5zM169.2 373.9h0.5v0.5h-0.5zM210.0 391.4h0.5v0.5h-0.5zM213.8 408.4h0.5v0.5h-0.5zM209.4 406.6h0.5v0.5h-0.5zM182.4 372.0h0.5v0.5h-0.5zM204.2 427.9h0.5v0.5h-0.5zM175.0 367.3h0.5v0.5h-0.5zM174.1 392.7h0.5v0.5h-0.5zM209.0 367.2h0.5v0.5h-0.5zM173.8 395.7h0.5v0.5h-0.5zM211.4 392.0h0.5v0.5h-0.5zM216.1 411.7h0.5v0.5h-0.5zM175.9 420.8h0.5v0.5h-0.5zM171.6 417.0h0.5v0.5h-0.5zM210.0 399.8h0.5v0.5h-0.5zM174.0 396.6h0.5v0.5h-0.5zM211.7 405.2h0.5v0.5h-0.5zM213.6 398.6h0.5v0.5h-0.5zM173.7 400.7h0.5v0.5h-0.5zM213.7 394.9h0.5v0.5h-0.5zM168.8 401.0h0.5v0.5h-0.5zM176.0 429.1h0.5v0.5h-0.5zM211.6 410.2h0.5v0.5h-0.5zM217.5 420.1h0.5v0.5h-0.5zM209.7 422.2h0.5v0.5h-0.5zM174.6 394.4h0.5v0.5h-0.5zM217.9 408.3h0.5v0.5h-0.5zM210.3 385.5h0.5v0.5h-0.5zM178.8 368.8h0.5v0.5h-0.5zM212.6 426.1h0.5v0.5h-0.5zM175.3 420.3h0.5v0.5h-0.5zM174.1 412.9h0.5v0.5h-0.5zM225.9 369.5h0.5v0.5h-0.5zM210.2 392.3h0.5v0.5h-0.5zM218.5 417.6h0.5v0.5h-0.5zM209.5 415.6h0.5v0.5h-0.5zM172.2 398.3h0.5v0.5h-0.5zM175.4 375.4h0.5v0.5h-0.5zM208.3 402.0h0.5v0.5h-0.5zM173.4 407.1h0.5v0.5h-0.5zM208.7 414.6h0.5v0.5h-0.5zM208.7 406.9h0.5v0.5h-0.5zM220.7 407.1h0.5v0.5h-0.5zM216.2 393.7h0.5v0.5h-0.5zM209.2 412.5h0.5v0.5h-0.5zM178.0 367.8h0.5v0.5h-0.5zM183.9 368.6h0.5v0.5h-0.5zM215.4 398.4h0.5v0.5h-0.5zM179.8 372.8h0.5v0.5h-0.5zM213.8 415.0h0.5v0.5h-0.5zM174.1 427.6h0.5v0.5h-0.5zM176.6 428.2h0.5v0.5h-0.5zM171.3 407.1h0.5v0.5h-0.5zM217.8 412.1h0.5v0.5h-0.5zM173.1 411.4h0.5v0.5h-0.5zM168.6 423.7h0.5v0.5h-0.5zM170.3 388.0h0.5v0.5h-0.5zM221.0 411.6h0.5v0.5h-0.5zM211.1 399.9h0.5v0.5h-0.5zM213.8 411.9h0.5v0.5h-0.5zM169.4 391.1h0.5v0.5h-0.5zM190.8 367.4h0.5v0.5h-0.5zM206.9 421.4h0.5v0.5h-0.5zM211.3 392.8h0.5v0.5h-0.5zM208.6 372.3h0.5v0.5h-0.5zM217.2 417.8h0.5v0.5h-0.5zM170.4 409.2h0.5v0.5h-0.5zM173.6 428.8h0.5v0.5h-0.5zM211.8 406.6h0.5v0.5h-0.5zM214.6 402.7h0.5v0.5h-0.5zM179.2 368.4h0.5v0.5h-0.5zM178.1 372.1h0.5v0.5h-0.5zM209.2 405.8h0.5v0.5h-0.5zM176.3 427.3h0.5v0.5h-0.5zM170.9 396.0h0.5v0.5h-0.5zM213.0 407.6h0.5v0.5h-0.5zM172.2 398.9h0.5v0.5h-0.5zM208.6 393.3h0.5v0.5h-0.5zM208.2 414.4h0.5v0.5h-0.5zM215.8 385.8h0.5v0.5h-0.5zM208.8 398.9h0.5v0.5h-0.5zM172.9 413.8h0.5v0.5h-0.5zM208.2 368.1h0.5v0.5h-0.5zM201.9 372.0h0.5v0.5h-0.5zM212.0 391.4h0.5v0.5h-0.5zM215.7 414.6h0.5v0.5h-0.5zM174.6 409.1h0.5v0.5h-0.5zM216.1 403.7h0.5v0.5h-0.5zM203.0 428.9h0.5v0.5h-0.5zM171.8 403.0h0.5v0.5h-0.5zM170.3 423.5h0.5v0.5h-0.5zM171.8 396.5h0.5v0.5h-0.5zM169.3 400.2h0.5v0.5h-0.5zM225.6 393.6h0.5v0.5h-0.5zM191.8 429.9h0.5v0.5h-0.5zM174.8 423.6h0.5v0.5h-0.5zM181.0 372.0h0.5v0.5h-0.5zM211.5 413.3h0.5v0.5h-0.5zM220.4 389.9h0.5v0.5h-0.5zM173.0 395.5h0.5v0.5h-0.5zM212.3 413.3h0.5v0.5h-0.5zM196.5 368.8h0.5v0.5h-0.5zM212.2 405.6h0.5v0.5h-0.5zM209.4 406.8h0.5v0.5h-0.5zM169.0 409.2h0.5v0.5h-0.5zM209.2 375.1h0.5v0.5h-0.5zM208.8 411.5h0.5v0.5h-0.5zM173.3 430.1h0.5v0.5h-0.5zM169.7 414.0h0.5v0.5h-0.5zM215.9 415.2h0.5v0.5h-0.5zM185.1 365.7h0.5v0.5h-0.5zM172.5 392.8h0.5v0.5h-0.5zM172.5 421.9h0.5v0.5h-0.5zM208.0 385.1h0.5v0.5h-0.5zM215.0 392.0h0.5v0.5h-0.5zM174.3 377.5h0.5v0.5h-0.5zM208.2 402.4h0.5v0.5h-0.5zM205.6 375.4h0.5v0.5h-0.5zM173.6 417.9h0.5v0.5h-0.5zM195.9 371.0h0.5v0.5h-0.5zM174.5 398.5h0.5v0.5h-0.5zM168.7 427.8h0.5v0.5h-0.5zM209.2 383.9h0.5v0.5h-0.5zM212.9 405.6h0.5v0.5h-0.5zM208.8 415.3h0.5v0.5h-0.5zM210.9 376.1h0.5v0.5h-0.5zM169.4 416.3h0.5v0.5h-0.5zM169.7 404.2h0.5v0.5h-0.5zM183.6 371.3h0.5v0.5h-0.5zM219.4 428.3h0.5v0.5h-0.5zM173.0 397.6h0.5v0.5h-0.5zM210.8 407.4h0.5v0.5h-0.5zM213.7 411.1h0.5v0.5h-0.5zM169.9 397.7h0.5v0.5h-0.5zM209.9 405.9h0.5v0.5h-0.5zM209.0 407.1h0.5v0.5h-0.5zM201.5 429.9h0.5v0.5h-0.5zM215.2 409.1h0.5v0.5h-0.5zM208.7 386.8h0.5v0.5h-0.5zM208.8 412.2h0.5v0.5h-0.5zM215.3 382.9h0.5v0.5h-0.5zM178.1 365.1h0.5v0.5h-0.5zM200.8 366.0h0.5v0.5h-0.5zM180.3 372.5h0.5v0.5h-0.5zM207.9 419.1h0.5v0.5h-0.5zM210.3 406.8h0.5v0.5h-0.5zM214.5 427.5h0.5v0.5h-0.5zM207.1 419.1h0.5v0.5h-0.5zM171.3 407.2h0.5v0.5h-0.5zM171.7 382.4h0.5v0.5h-0.5zM178.4 367.9h0.5v0.5h-0.5zM168.8 398.1h0.5v0.5h-0.5zM208.3 385.2h0.5v0.5h-0.5zM209.9 408.2h0.5v0.5h-0.5zM210.3 388.7h0.5v0.5h-0.5zM170.8 409.6h0.5v0.5h-0.5zM211.3 422.2h0.5v0.5h-0.5zM171.0 387.9h0.5v0.5h-0.5zM219.6 398.0h0.5v0.5h-0.5zM211.8 404.8h0.5v0.5h-0.5zM184.2 368.8h0.5v0.5h-0.5zM204.0 369.3h0.5v0.5h-0.5zM216.1 401.9h0.5v0.5h-0.5zM211.0 406.4h0.5v0.5h-0.5zM207.7 414.3h0.5v0.5h-0.5zM194.3 370.7h0.5v0.5h-0.5zM212.1 394.3h0.5v0.5h-0.5zM220.9 419.6h0.5v0.5h-0.5zM193.4 367.1h0.5v0.5h-0.5zM173.5 414.0h0.5v0.5h-0.5zM192.8 365.2h0.5v0.5h-0.5zM208.2 392.1h0.5v0.5h-0.5zM173.9 378.4h0.5v0.5h-0.5zM224.6 392.2h0.5v0.5h-0.5zM174.0 425.7h0.5v0.5h-0.5zM172.1 401.3h0.5v0.5h-0.5zM209.0 428.2h0.5v0.5h-0.5zM171.7 412.5h0.5v0.5h-0.5zM210.3 426.7h0.5v0.5h-0.5zM170.3 405.3h0.5v0.5h-0.5zM211.0 396.3h0.5v0.5h-0.5zM171.2 407.0h0.5v0.5h-0.5zM224.9 389.1h0.5v0.5h-0.5zM211.7 417.5h0.5v0.5h-0.5zM170.7 411.5h0.5v0.5h-0.5zM170.5 390.0h0.5v0.5h-0.5zM221.3 389.2h0.5v0.5h-0.5zM174.0 386.1h0.5v0.5h-0.5zM207.8 416.6h0.5v0.5h-0.5zM213.1 409.7h0.5v0.5h-0.5zM185.4 369.1h0.5v0.5h-0.5zM216.4 389.9h0.5v0.5h-0.5zM212.2 394.9h0.5v0.5h-0.5zM216.3 395.9h0.5v0.5h-0.5zM190.3 370.6h0.5v0.5h-0.5zM217.6 416.5h0.5v0.5h-0.5zM192.2 430.1h0.5v0.5h-0.5zM208.3 390.9h0.5v0.5h-0.5zM171.4 391.2h0.5v0.5h-0.5zM217.5 389.2h0.5v0.5h-0.5zM207.0 366.8h0.5v0.5h-0.5zM214.1 395.3h0.5v0.5h-0.5zM173.7 405.1h0.5v0.5h-0.5zM197.9 367.4h0.5v0.5h-0.5zM194.9 371.6h0.5v0.5h-0.5zM217.7 421.9h0.5v0.5h-0.5zM213.0 396.3h0.5v0.5h-0.5zM214.6 402.0h0.5v0.5h-0.5zM214.8 418.2h0.5v0.5h-0.5zM219.2 377.0h0.5v0.5h-0.5zM205.1 427.2h0.5v0.5h-0.5zM208.7 390.6h0.5v0.5h-0.5zM217.4 395.0h0.5v0.5h-0.5zM210.0 392.3h0.5v0.5h-0.5zM175.5 417.6h0.5v0.5h-0.5zM206.0 366.2h0.5v0.5h-0.5zM174.0 419.3h0.5v0.5h-0.5zM176.6 372.9h0.5v0.5h-0.5zM212.1 427.8h0.5v0.5h-0.5zM171.7 400.0h0.5v0.5h-0.5zM207.2 382.2h0.5v0.5h-0.5zM200.4 430.2h0.5v0.5h-0.5zM175.6 417.1h0.5v0.5h-0.5zM226.1 385.4h0.5v0.5h-0.5zM174.1 367.9h0.5v0.5h-0.5zM210.6 388.0h0.5v0.5h-0.5zM214.5 391.0h0.5v0.5h-0.5zM170.4 378.5h0.5v0.5h-0.5zM187.4 365.0h0.5v0.5h-0.5zM212.0 405.7h0.5v0.5h-0.5zM209.6 400.4h0.5v0.5h-0.5zM169.0 418.5h0.5v0.5h-0.5zM209.6 387.3h0.5v0.5h-0.5zM208.9 428.8h0.5v0.5h-0.5zM209.5 415.0h0.5v0.5h-0.5zM211.3 403.4h0.5v0.5h-0.5zM217.9 389.1h0.5v0.5h-0.5zM208.1 415.5h0.5v0.5h-0.5zM170.5 398.3h0.5v0.5h-0.5zM207.7 386.6h0.5v0.5h-0.5zM214.3 392.7h0.5v0.5h-0.5zM213.4 401.3h0.5v0.5h-0.5zM179.8 429.6h0.5v0.5h-0.5zM170.5 417.5h0.5v0.5h-0.5z" fill="#555" opacity="0.85"/>
<path d="M223.8 366.1h0.5v0.5h-0.5zM174.4 419.3h0.5v0.5h-0.5zM232.0 367.2h0.5v0.5h-0.5zM232.7 368.7h0.5v0.5h-0.5zM216.6 394.7h0.5v0.5h-0.5zM215.1 420.6h0.5v0.5h-0.5zM231.5 368.5h0.5v0.5h-0.5zM172.4 375.8h0.5v0.5h-0.5zM212.5 387.1h0.5v0.5h-0.5zM218.9 411.3h0.5v0.5h-0.5zM218.1 428.1h0.5v0.5h-0.5zM232.6 410.2h0.5v0.5h-0.5zM213.2 427.3h0.5v0.5h-0.5zM229.0 376.1h0.5v0.5h-0.5zM226.6 410.5h0.5v0.5h-0.5zM225.1 387.2h0.5v0.5h-0.5zM215.5 404.4h0.5v0.5h-0.5zM233.4 365.0h0.5v0.5h-0.5zM226.6 371.2h0.5v0.5h-0.5zM229.1 428.1h0.5v0.5h-0.5zM203.4 364.9h0.5v0.5h-0.5zM208.1 371.9h0.5v0.5h-0.5zM195.4 370.0h0.5v0.5h-0.5zM211.4 371.0h0.5v0.5h-0.5zM168.8 403.4h0.5v0.5h-0.5zM221.1 387.1h0.5v0.5h-0.5zM219.6 398.4h0.5v0.5h-0.5zM210.1 399.3h0.5v0.5h-0.5zM234.6 425.1h0.5v0.5h-0.5zM223.7 412.7h0.5v0.5h-0.5zM208.9 388.4h0.5v0.5h-0.5zM187.4 364.8h0.5v0.5h-0.5zM179.6 429.5h0.5v0.5h-0.5zM172.7 414.7h0.5v0.5h-0.5zM194.3 369.2h0.5v0.5h-0.5zM222.4 368.4h0.5v0.5h-0.5zM227.2 391.5h0.5v0.5h-0.5zM209.4 412.3h0.5v0.5h-0.5zM213.6 429.6h0.5v0.5h-0.5zM208.7 377.7h0.5v0.5h-0.5zM220.5 427.1h0.5v0.5h-0.5zM211.4 366.0h0.5v0.5h-0.5zM228.0 396.7h0.5v0.5h-0.5zM225.2 387.8h0.5v0.5h-0.5zM172.2 393.7h0.5v0.5h-0.5zM219.3 383.8h0.5v0.5h-0.5zM173.7 387.0h0.5v0.5h-0.5zM215.8 394.1h0.5v0.5h-0.5zM225.5 422.0h0.5v0.5h-0.5zM221.0 395.8h0.5v0.5h-0.5zM192.7 371.6h0.5v0.5h-0.5zM225.1 367.9h0.5v0.5h-0.5zM232.0 372.8h0.5v0.5h-0.5zM228.9 403.4h0.5v0.5h-0.5zM223.3 410.5h0.5v0.5h-0.5zM211.8 420.8h0.5v0.5h-0.5zM216.6 395.0h0.5v0.5h-0.5zM228.9 381.7h0.5v0.5h-0.5zM229.7 384.6h0.5v0.5h-0.5zM171.3 397.0h0.5v0.5h-0.5zM218.4 422.9h0.5v0.5h-0.5zM209.3 401.0h0.5v0.5h-0.5zM231.2 375.6h0.5v0.5h-0.5zM183.6 367.3h0.5v0.5h-0.5zM231.0 389.0h0.5v0.5h-0.5zM187.9 366.2h0.5v0.5h-0.5zM212.4 405.7h0.5v0.5h-0.5zM175.3 412.4h0.5v0.5h-0.5zM214.2 412.1h0.5v0.5h-0.5zM214.5 402.9h0.5v0.5h-0.5zM233.2 395.0h0.5v0.5h-0.5zM208.4 408.5h0.5v0.5h-0.5zM174.1 426.5h0.5v0.5h-0.5zM215.3 383.4h0.5v0.5h-0.5zM209.7 412.8h0.5v0.5h-0.5zM211.5 414.2h0.5v0.5h-0.5zM212.9 390.6h0.5v0.5h-0.5zM220.4 394.0h0.5v0.5h-0.5zM211.1 416.2h0.5v0.5h-0.5zM222.2 373.6h0.5v0.5h-0.5zM224.0 387.1h0.5v0.5h-0.5zM171.7 403.8h0.5v0.5h-0.5zM222.8 391.6h0.5v0.5h-0.5zM170.9 414.4h0.5v0.5h-0.5zM215.9 413.6h0.5v0.5h-0.5zM209.7 368.6h0.5v0.5h-0.5zM233.4 425.3h0.5v0.5h-0.5zM230.6 409.4h0.5v0.5h-0.5zM209.3 413.6h0.5v0.5h-0.5zM168.8 420.1h0.5v0.5h-0.5zM194.7 366.0h0.5v0.5h-0.5zM211.6 422.0h0.5v0.5h-0.5zM210.2 420.4h0.5v0.5h-0.5zM222.9 393.2h0.5v0.5h-0.5zM219.5 395.2h0.5v0.5h-0.5zM173.3 406.1h0.5v0.5h-0.5zM232.6 396.4h0.5v0.5h-0.5zM216.4 396.1h0.5v0.5h-0.5zM204.3 371.1h0.5v0.5h-0.5zM229.4 407.4h0.5v0.5h-0.5zM226.6 419.9h0.5v0.5h-0.5zM202.0 369.3h0.5v0.5h-0.5zM222.8 372.2h0.5v0.5h-0.5zM230.5 426.6h0.5v0.5h-0.5zM223.8 382.3h0.5v0.5h-0.5zM225.8 371.1h0.5v0.5h-0.5zM221.0 409.9h0.5v0.5h-0.5zM216.0 416.9h0.5v0.5h-0.5zM223.4 372.1h0.5v0.5h-0.5zM220.3 423.7h0.5v0.5h-0.5z" fill="#666" opacity="0.8"/>
<clipPath id="cp5"><rect x="168" y="363.9" width="67.80000000000001" height="67.30000000000001"/></clipPath><g clip-path="url(#cp5)"><path d="M193.2 429.3 186.5 429.3 186.2 429.0 184.8 429.0 184.5 428.8 183.5 428.8 182.5 428.3 181.2 428.0 180.2 427.3 180.0 427.3 178.4 425.4 177.9 424.4 177.9 423.9 177.4 423.1 177.4 422.4 176.9 421.4 176.9 420.4 176.6 420.1 176.6 419.1 176.4 418.9 176.4 417.4 176.1 417.1 176.1 415.6 175.9 415.4 175.9 413.4 175.6 413.1 175.6 411.1 175.4 410.9 175.4 408.1 175.1 407.9 175.1 403.6 174.9 403.4 174.9 392.4 174.6 392.1 174.6 384.6 174.9 384.4 174.9 381.1 175.1 380.9 175.1 379.4 175.4 379.1 175.4 378.1 175.6 377.9 175.6 377.4 175.9 377.1 175.9 376.6 176.4 375.6 178.0 374.0 179.5 373.3 180.0 373.3 180.2 373.0 181.0 373.0 181.2 372.8 182.2 372.8 182.5 372.5 184.0 372.5 184.2 372.3 186.8 372.3 187.0 372.0 196.5 372.0 196.8 372.3 198.8 372.3 199.0 372.5 200.2 372.5 200.5 372.8 201.5 372.8 201.8 373.0 202.2 373.0 202.5 373.3 203.0 373.3 203.5 373.5 205.1 375.1 206.1 377.1 206.1 377.9 206.4 378.1 206.4 378.9 206.6 379.1 206.6 380.4 206.9 380.6 206.9 382.4 207.1 382.6 207.1 384.4 207.4 384.6 207.4 386.9 207.6 387.1 207.6 390.4 207.9 390.6 207.9 410.1 207.6 410.4 207.6 413.1 207.4 413.4 207.1 417.1 206.9 417.4 206.9 418.6 206.6 418.9 206.4 421.1 206.1 421.4 205.9 422.6 205.1 424.1 204.6 424.6 204.6 424.9 203.2 426.3 203.0 426.3 202.5 426.8 201.0 427.5 200.5 427.5 199.8 428.0 198.0 428.3 197.8 428.5 197.0 428.5 196.8 428.8 195.5 428.8 195.2 429.0 193.5 429.0 193.2 429.3M193.0 428.8 186.8 428.8 186.2 428.5 183.8 428.3 181.0 427.3 179.5 426.0 178.4 424.1 177.4 421.1 177.4 420.4 176.9 418.6 176.9 417.4 176.4 415.1 176.4 413.4 176.1 412.9 176.1 411.1 175.9 410.4 175.9 408.1 175.6 407.4 175.6 403.6 175.4 402.9 175.4 392.4 175.2 391.4 175.8 385.4 176.2 384.4 176.3 381.9 176.9 378.6 177.8 376.4 178.8 375.5 179.8 375.0 183.2 374.0 184.2 374.0 185.0 373.8 187.0 373.8 187.8 373.5 195.8 373.5 200.8 374.3 202.8 375.0 203.7 375.9 204.6 377.6 205.1 379.9 205.5 382.6 205.8 383.4 205.9 384.6 206.1 385.1 206.4 386.9 206.7 387.6 207.3 392.4 207.4 409.6 207.1 410.4 207.1 412.6 206.9 413.4 206.9 414.9 206.6 415.4 206.6 416.9 206.4 417.4 206.4 418.4 205.9 420.1 205.9 420.9 205.4 422.4 204.1 424.6 203.1 425.6 202.2 426.3 199.5 427.5 196.5 428.3 193.5 428.5 193.0 428.8M192.8 428.2 187.0 428.2 186.5 427.9 184.0 427.7 181.2 426.7 180.0 425.6 179.0 423.9 178.0 420.9 177.7 418.9 177.5 418.4 177.2 415.4 177.0 414.9 177.0 413.1 176.7 412.6 176.7 410.9 176.5 410.4 176.5 408.1 176.2 407.4 176.2 403.6 176.0 402.9 176.1 390.4 177.1 385.6 177.6 384.4 178.5 379.1 179.0 377.6 179.6 376.9 180.5 376.4 183.5 375.7 187.0 375.4 188.0 375.2 195.5 375.2 199.2 375.7 201.9 376.4 202.4 376.9 203.0 378.1 204.5 384.6 205.3 387.1 205.7 387.9 206.2 390.6 206.6 391.4 206.7 395.9 206.8 409.6 206.5 410.1 206.5 412.6 206.3 413.1 206.0 416.6 205.8 417.1 205.8 418.1 205.5 418.6 205.3 420.6 204.8 422.1 203.5 424.4 202.0 425.7 199.2 426.9 196.2 427.7 193.2 427.9 192.8 428.2M192.8 427.4 187.2 427.5 184.2 427.0 181.7 426.1 180.6 425.4 179.7 423.9 178.6 420.6 178.1 418.1 178.1 417.1 177.6 414.6 177.6 413.1 177.4 412.4 177.3 410.9 177.1 410.1 177.1 407.9 176.9 407.1 176.9 403.6 176.6 402.6 176.7 391.1 177.4 388.4 178.9 384.6 180.4 378.4 181.2 377.9 183.8 377.3 188.5 376.8 195.0 376.8 199.0 377.3 201.0 377.8 201.5 378.6 203.1 384.6 204.8 388.1 205.8 391.4 206.1 395.9 206.1 409.4 205.9 410.1 205.9 412.4 205.7 413.1 205.4 416.4 204.6 420.4 204.2 421.9 202.9 424.1 200.8 425.6 199.0 426.3 196.0 427.0 192.8 427.4M192.2 426.9 187.5 426.9 184.2 426.4 182.0 425.6 181.0 424.9 180.3 423.6 179.3 420.6 178.8 418.1 177.7 409.9 177.7 407.9 177.5 406.9 177.5 403.4 177.2 402.4 177.4 391.1 178.4 388.4 180.3 384.6 181.8 379.5 182.0 379.3 184.0 378.9 188.5 378.4 194.8 378.4 199.8 379.1 200.2 379.9 201.1 383.4 201.9 385.1 203.9 388.4 205.1 391.6 205.5 396.1 205.5 409.1 205.3 410.1 205.3 412.1 204.8 416.3 204.0 420.4 203.5 421.8 202.2 423.9 200.2 425.1 199.0 425.6 196.0 426.4 192.2 426.9M192.5 426.2 187.5 426.3 184.5 425.8 182.2 425.0 181.5 424.5 181.0 423.6 179.8 420.4 178.9 414.4 178.8 413.1 178.4 409.9 178.3 407.9 178.1 406.9 177.9 398.9 178.2 391.1 179.2 388.6 181.7 384.6 183.0 380.9 183.2 380.6 188.8 379.9 194.8 379.9 198.5 380.4 199.7 383.6 200.7 385.4 203.0 388.5 204.5 391.9 204.9 396.4 204.9 409.1 204.7 410.1 204.6 412.1 204.1 416.1 203.4 420.1 202.9 421.6 201.9 423.4 200.0 424.6 198.8 425.1 195.8 425.8 192.5 426.2M192.0 425.7 187.8 425.7 184.5 425.1 182.5 424.4 182.0 424.1 181.4 423.1 180.5 420.4 180.0 417.9 179.0 409.6 179.0 407.9 178.7 406.6 178.7 403.4 178.5 402.1 178.6 395.4 179.0 390.9 180.2 388.4 183.0 384.9 184.5 381.8 189.0 381.4 194.5 381.4 197.3 381.6 199.2 385.1 202.3 388.9 203.8 391.9 203.9 392.6 204.2 396.9 204.3 408.9 203.5 416.1 202.7 420.1 202.3 421.4 201.5 422.9 199.8 424.0 195.8 425.1 192.0 425.7M192.5 424.9 187.8 425.1 184.8 424.6 182.8 423.9 182.1 423.1 181.6 421.9 180.6 417.6 179.6 409.6 179.6 407.9 179.3 406.6 179.3 403.4 179.1 402.1 179.2 396.1 179.4 393.1 179.8 390.9 180.4 389.6 181.8 387.8 184.2 385.1 185.3 383.1 185.7 382.9 189.2 382.6 194.2 382.6 196.2 382.8 198.0 385.4 201.6 389.1 203.1 391.9 203.3 393.1 203.6 397.4 203.7 408.9 202.9 415.9 201.8 421.1 200.8 422.6 199.5 423.4 195.5 424.6 192.5 424.9M192.0 424.4 187.8 424.4 184.8 423.9 183.0 423.3 182.6 422.6 181.7 420.1 180.7 414.1 180.0 406.6 180.0 403.4 179.7 401.9 179.8 395.9 180.1 392.9 180.6 390.6 181.2 389.6 182.8 387.8 185.5 385.1 186.5 383.8 189.2 383.7 195.2 383.8 196.9 385.6 200.8 389.2 202.4 392.1 202.8 393.6 203.0 397.6 203.0 408.6 202.3 415.9 201.2 420.9 200.4 422.1 199.2 422.8 195.5 423.9 192.0 424.4M192.5 423.7 191.8 423.8 188.0 423.8 185.0 423.3 183.5 422.8 183.1 422.4 182.3 419.9 181.3 413.9 180.6 406.4 180.6 403.4 180.3 401.9 180.4 395.9 180.8 392.9 181.4 390.6 182.2 389.4 184.0 387.6 187.5 384.7 194.6 384.6 199.6 388.9 200.2 389.6 201.8 392.1 202.2 394.1 202.4 398.1 202.4 408.6 201.7 415.6 200.9 419.9 200.0 421.6 199.0 422.3 195.5 423.3 192.5 423.7M191.8 423.2 188.0 423.2 185.0 422.7 183.8 422.2 182.9 419.9 182.4 417.4 181.4 409.4 181.0 400.9 181.1 395.6 181.5 392.6 182.3 390.4 183.0 389.5 184.8 387.9 188.0 385.4 194.0 385.4 198.6 388.9 199.6 389.9 201.1 392.4 201.6 394.9 201.8 408.6 201.0 415.6 200.1 420.4 199.5 421.3 197.8 422.1 195.2 422.7 191.8 423.2M192.5 422.4 191.5 422.6 188.2 422.6 185.2 422.1 184.2 421.7 183.6 419.9 183.1 417.4 182.1 409.4 181.8 406.1 181.8 403.1 181.6 401.6 181.7 395.9 182.1 392.9 183.0 390.6 183.7 389.6 186.0 387.7 188.8 385.9 193.3 385.9 197.5 388.7 199.0 390.1 200.3 392.1 201.0 394.9 201.2 398.9 201.2 408.4 200.4 415.6 199.7 419.6 199.2 420.6 198.5 421.1 195.2 422.1 192.5 422.4M191.8 421.9 188.2 422.0 185.2 421.5 184.7 421.1 184.2 419.6 183.7 417.1 182.4 406.1 182.4 403.1 182.2 401.6 182.3 397.4 182.5 394.6 182.9 392.6 183.8 390.6 184.6 389.6 186.8 387.9 189.2 386.4 193.0 386.5 197.2 389.2 198.4 390.4 199.8 392.4 200.2 393.9 200.4 396.1 200.6 408.4 199.8 415.4 199.1 419.4 198.6 420.4 197.5 420.8 195.0 421.5 191.8 421.9M192.5 421.2 191.5 421.3 188.2 421.3 185.5 420.9 185.1 420.6 184.3 417.1 183.3 409.1 182.8 400.6 183.0 395.9 183.4 393.1 184.1 391.4 184.9 390.1 186.8 388.6 189.5 386.9 192.5 386.9 196.9 389.6 198.0 390.9 199.2 392.6 199.8 396.1 199.9 408.4 199.2 415.4 198.5 419.1 198.2 419.9 197.2 420.3 195.0 420.8 192.5 421.2M191.8 420.7 188.2 420.7 186.0 420.4 185.6 420.1 184.9 417.1 184.4 413.6 183.7 405.9 183.7 403.1 183.4 401.4 183.5 397.4 183.7 394.9 184.2 392.9 185.0 391.1 185.9 389.9 187.8 388.5 190.0 387.3 192.2 387.3 195.7 389.4 197.2 390.9 198.4 392.4 198.7 393.1 199.1 395.1 199.4 398.1 199.3 408.4 198.6 415.4 197.9 419.1 197.8 419.4 195.5 420.1 191.8 420.7M192.5 419.9 191.2 420.1 188.5 420.1 186.1 419.6 185.2 415.1 184.5 408.9 184.1 401.1 184.2 396.4 184.6 393.6 185.4 391.6 186.5 390.1 188.0 389.0 190.2 387.7 191.8 387.7 192.5 388.1 195.0 389.5 196.8 391.2 197.8 392.6 198.1 393.4 198.9 398.1 198.7 408.1 198.0 415.1 197.3 418.9 194.8 419.6 192.5 419.9M191.8 419.4 188.5 419.5 186.6 419.1 186.1 416.9 185.2 411.1 184.7 401.4 184.9 395.6 185.6 392.6 186.5 391.1 187.6 389.9 190.8 388.0 191.5 388.1 194.2 389.6 195.5 390.6 196.8 392.1 197.3 392.9 197.6 394.1 198.4 398.9 197.8 411.1 196.7 418.4 194.8 419.0 191.8 419.4M191.0 418.9 188.5 418.9 187.2 418.7 187.1 418.4 185.7 411.1 185.3 401.1 185.5 395.6 185.8 393.9 186.3 392.6 187.0 391.4 188.1 390.1 191.0 388.4 194.2 390.1 195.5 391.4 196.4 392.6 197.7 396.9 198.0 399.1 197.5 403.1 197.5 408.1 197.2 411.1 196.2 417.9 194.5 418.4 191.0 418.9M191.8 418.2 188.8 418.3 187.8 418.2 187.5 417.9 186.6 413.4 186.0 408.9 186.0 398.9 186.1 396.1 186.4 394.1 187.0 392.6 187.9 391.1 189.2 389.9 191.0 388.8 192.7 389.6 193.7 390.4 195.8 392.6 197.2 397.1 197.6 398.9 196.9 403.1 196.8 407.9 196.6 411.1 195.7 417.4 194.5 417.8 191.8 418.2M191.2 417.7 188.8 417.7 188.2 417.6 188.0 417.4 187.0 413.1 186.5 408.6 186.7 403.1 186.5 401.1 186.6 398.4 187.0 394.4 187.5 392.9 188.5 391.4 189.5 390.4 191.0 389.3 191.8 389.6 193.2 390.6 195.2 392.9 196.9 397.6 197.1 399.1 196.3 403.1 196.2 407.9 196.0 410.9 195.1 416.9 194.2 417.2 191.2 417.7M191.0 417.2 188.8 417.2 188.5 416.9 187.5 413.1 187.0 408.6 187.3 403.1 187.1 401.1 187.2 397.9 187.6 394.6 188.1 393.1 188.8 391.9 190.0 390.6 191.2 389.8 193.0 391.1 194.6 392.9 196.5 397.6 196.7 399.1 195.7 403.1 195.4 410.9 194.6 416.4 191.0 417.2M191.8 416.4 190.8 416.6 189.0 416.6 188.0 413.1 187.6 410.9 187.4 408.6 187.8 403.1 187.9 397.6 188.2 394.9 188.6 393.4 189.2 392.2 190.2 391.1 191.2 390.3 192.8 391.6 194.0 393.1 194.9 395.6 196.1 397.9 196.3 398.9 196.2 399.9 195.4 401.9 195.1 403.1 194.8 410.9 194.1 415.9 191.8 416.4M191.2 416.0 189.8 416.1 189.4 415.9 188.2 412.0 187.9 408.6 188.4 403.1 188.5 398.4 188.8 395.1 189.1 393.9 189.7 392.6 191.2 390.9 192.4 391.9 193.3 393.1 194.4 395.9 195.6 398.1 195.8 399.1 194.5 402.9 194.2 410.9 193.6 415.4 191.2 416.0M191.2 415.4 190.2 415.6 189.9 415.4 189.0 413.1 188.5 411.1 188.3 408.6 189.0 403.1 189.1 398.6 189.4 395.4 190.1 393.1 191.2 391.5 192.7 393.1 193.9 396.4 195.0 398.4 195.2 399.1 194.1 401.6 193.9 402.6 193.9 407.6 193.7 410.6 193.1 414.9 191.2 415.4M191.0 414.9 190.4 414.9 189.6 412.9 189.0 410.9 188.8 408.6 189.7 403.1 189.6 400.9 189.9 395.9 190.4 393.9 191.2 392.3 192.3 393.6 193.2 396.6 194.1 398.4 194.2 399.1 193.5 401.1 193.2 402.4 193.4 407.6 193.2 410.6 192.6 414.4 191.0 414.9M191.8 414.2 191.0 414.4 190.2 412.9 189.5 410.6 189.4 408.6 190.3 403.1 190.2 400.6 190.5 396.4 190.8 394.6 191.2 393.4 191.5 393.4 191.9 394.4 193.0 399.1 192.6 402.4 192.8 407.6 192.7 410.6 192.2 413.9 191.8 414.2M191.5 413.7 190.2 410.6 190.1 408.6 190.9 403.1 190.8 400.6 191.0 396.9 191.2 395.5 191.5 395.4 192.0 398.9 192.0 402.9 192.4 407.6 192.3 410.6 191.8 413.6 191.5 413.7M191.5 411.5 191.1 410.4 190.9 408.4 191.5 404.1 191.9 407.6 191.8 410.6 191.5 411.5" fill="none" stroke="#000" stroke-width="0.6" stroke-linejoin="round"/></g>
<path d="M187.5 404 C189 401.5 191.5 402 191.8 405 C192.3 408 192 412.5 190 414.5 C188 414.8 187 412 187.2 409 Z" fill="#fff"/>
<path d="M192.5 399 C193.5 397.2 196.5 397.3 197 399.5 C196.5 401.8 193.5 401.8 192.5 399Z" fill="#fff"/>
<path d="M194 405 C195.5 404 197 405 196.5 407 C195 408 194 407 194 405Z" fill="#eee"/>
<path d="M166.5 366.0h1.5M166.5 368.2h1.5M166.5 370.4h1.5M166.5 372.6h1.5M166.5 374.8h1.5M166.5 377.0h1.5M166.5 379.2h1.5M166.5 381.4h1.5M166.5 383.6h1.5M166.5 385.8h1.5M166.5 388.0h1.5M166.5 390.2h1.5M166.5 392.4h1.5M166.5 394.6h1.5M166.5 396.8h1.5M166.5 399.0h1.5M166.5 401.2h1.5M166.5 403.4h1.5M166.5 405.6h1.5M166.5 407.8h1.5M166.5 410.0h1.5M166.5 412.2h1.5M166.5 414.4h1.5M166.5 416.6h1.5M166.5 418.8h1.5M166.5 421.0h1.5M166.5 423.2h1.5M166.5 425.4h1.5M166.5 427.6h1.5M166.5 429.8h1.5" stroke="#666" stroke-width="0.5" fill="none"/>
<path d="M170.0 431.2v1.5M172.2 431.2v1.5M174.4 431.2v1.5M176.6 431.2v1.5M178.8 431.2v1.5M181.0 431.2v1.5M183.2 431.2v1.5M185.4 431.2v1.5M187.6 431.2v1.5M189.8 431.2v1.5M192.0 431.2v1.5M194.2 431.2v1.5M196.4 431.2v1.5M198.6 431.2v1.5M200.8 431.2v1.5M203.0 431.2v1.5M205.2 431.2v1.5M207.4 431.2v1.5M209.6 431.2v1.5M211.8 431.2v1.5M214.0 431.2v1.5M216.2 431.2v1.5M218.4 431.2v1.5M220.6 431.2v1.5M222.8 431.2v1.5M225.0 431.2v1.5M227.2 431.2v1.5M229.4 431.2v1.5M231.6 431.2v1.5M233.8 431.2v1.5" stroke="#777" stroke-width="0.5" fill="none"/>
<path d="M83.6 541.9h0.5v0.5h-0.5zM77.4 540.7h0.5v0.5h-0.5zM61.0 527.1h0.5v0.5h-0.5zM66.2 546.3h0.5v0.5h-0.5zM75.1 540.4h0.5v0.5h-0.5zM70.4 539.3h0.5v0.5h-0.5zM81.4 541.8h0.5v0.5h-0.5zM75.0 535.8h0.5v0.5h-0.5zM74.0 539.2h0.5v0.5h-0.5zM64.4 534.8h0.5v0.5h-0.5zM116.3 519.9h0.5v0.5h-0.5zM75.6 542.9h0.5v0.5h-0.5zM72.7 543.8h0.5v0.5h-0.5zM70.7 533.2h0.5v0.5h-0.5zM58.4 530.4h0.5v0.5h-0.5zM54.3 549.3h0.5v0.5h-0.5zM82.6 539.6h0.5v0.5h-0.5zM77.4 506.5h0.5v0.5h-0.5zM94.8 502.9h0.5v0.5h-0.5zM56.9 541.0h0.5v0.5h-0.5zM82.6 540.9h0.5v0.5h-0.5zM112.8 527.6h0.5v0.5h-0.5zM66.1 535.2h0.5v0.5h-0.5zM80.0 544.2h0.5v0.5h-0.5zM60.7 534.3h0.5v0.5h-0.5zM68.2 532.0h0.5v0.5h-0.5zM84.9 550.1h0.5v0.5h-0.5zM117.0 525.9h0.5v0.5h-0.5zM68.5 539.3h0.5v0.5h-0.5zM82.1 544.7h0.5v0.5h-0.5zM76.2 539.4h0.5v0.5h-0.5zM79.3 542.6h0.5v0.5h-0.5zM71.5 541.1h0.5v0.5h-0.5zM77.0 538.8h0.5v0.5h-0.5zM70.6 535.8h0.5v0.5h-0.5zM83.3 551.0h0.5v0.5h-0.5zM75.2 535.8h0.5v0.5h-0.5zM58.4 551.1h0.5v0.5h-0.5zM85.1 539.3h0.5v0.5h-0.5zM65.6 535.9h0.5v0.5h-0.5zM63.1 520.5h0.5v0.5h-0.5zM70.8 539.1h0.5v0.5h-0.5zM61.9 527.8h0.5v0.5h-0.5zM119.5 518.4h0.5v0.5h-0.5zM81.7 544.6h0.5v0.5h-0.5zM76.4 547.0h0.5v0.5h-0.5zM80.1 537.1h0.5v0.5h-0.5zM73.6 546.0h0.5v0.5h-0.5zM77.0 549.9h0.5v0.5h-0.5zM67.3 545.2h0.5v0.5h-0.5zM111.1 542.8h0.5v0.5h-0.5zM70.2 532.7h0.5v0.5h-0.5zM76.8 548.2h0.5v0.5h-0.5zM81.9 539.6h0.5v0.5h-0.5zM70.6 524.9h0.5v0.5h-0.5zM110.7 521.7h0.5v0.5h-0.5zM68.1 542.1h0.5v0.5h-0.5zM61.4 532.2h0.5v0.5h-0.5zM97.7 501.9h0.5v0.5h-0.5zM71.0 538.8h0.5v0.5h-0.5zM74.6 537.9h0.5v0.5h-0.5zM111.9 522.5h0.5v0.5h-0.5zM68.8 542.7h0.5v0.5h-0.5zM75.7 545.4h0.5v0.5h-0.5zM54.5 527.9h0.5v0.5h-0.5zM86.0 515.3h0.5v0.5h-0.5zM77.8 543.5h0.5v0.5h-0.5zM74.6 538.2h0.5v0.5h-0.5zM58.3 544.2h0.5v0.5h-0.5zM68.1 525.4h0.5v0.5h-0.5zM83.6 543.1h0.5v0.5h-0.5zM83.7 540.9h0.5v0.5h-0.5zM62.4 539.4h0.5v0.5h-0.5zM63.8 537.5h0.5v0.5h-0.5zM82.9 547.7h0.5v0.5h-0.5zM61.9 532.9h0.5v0.5h-0.5zM60.2 543.6h0.5v0.5h-0.5zM118.3 536.4h0.5v0.5h-0.5zM87.1 542.2h0.5v0.5h-0.5zM74.0 539.7h0.5v0.5h-0.5zM62.8 539.2h0.5v0.5h-0.5zM78.2 536.9h0.5v0.5h-0.5zM73.2 538.3h0.5v0.5h-0.5zM65.0 545.4h0.5v0.5h-0.5zM74.5 537.3h0.5v0.5h-0.5zM60.2 525.3h0.5v0.5h-0.5zM83.9 540.5h0.5v0.5h-0.5zM83.9 546.9h0.5v0.5h-0.5zM73.7 538.6h0.5v0.5h-0.5zM59.9 538.4h0.5v0.5h-0.5zM62.8 529.5h0.5v0.5h-0.5zM73.0 542.4h0.5v0.5h-0.5zM61.6 531.2h0.5v0.5h-0.5zM77.6 545.4h0.5v0.5h-0.5zM59.7 518.7h0.5v0.5h-0.5zM69.5 528.9h0.5v0.5h-0.5zM64.9 532.7h0.5v0.5h-0.5zM73.7 537.6h0.5v0.5h-0.5zM83.0 541.9h0.5v0.5h-0.5zM73.7 539.5h0.5v0.5h-0.5zM67.8 525.4h0.5v0.5h-0.5zM69.8 529.9h0.5v0.5h-0.5zM82.4 544.5h0.5v0.5h-0.5zM57.1 526.6h0.5v0.5h-0.5zM103.0 507.0h0.5v0.5h-0.5zM86.0 539.6h0.5v0.5h-0.5zM110.8 548.7h0.5v0.5h-0.5zM90.3 549.9h0.5v0.5h-0.5zM67.0 517.0h0.5v0.5h-0.5zM86.3 543.0h0.5v0.5h-0.5zM70.9 535.0h0.5v0.5h-0.5zM73.3 543.3h0.5v0.5h-0.5zM65.1 523.7h0.5v0.5h-0.5zM85.4 540.2h0.5v0.5h-0.5zM83.5 544.2h0.5v0.5h-0.5zM76.1 544.0h0.5v0.5h-0.5zM108.0 504.7h0.5v0.5h-0.5zM77.7 539.7h0.5v0.5h-0.5zM60.4 523.0h0.5v0.5h-0.5zM78.8 538.2h0.5v0.5h-0.5zM71.5 534.2h0.5v0.5h-0.5zM60.5 534.9h0.5v0.5h-0.5zM64.2 528.1h0.5v0.5h-0.5zM120.8 551.1h0.5v0.5h-0.5zM59.2 542.6h0.5v0.5h-0.5zM70.0 522.3h0.5v0.5h-0.5zM80.5 543.3h0.5v0.5h-0.5zM57.6 541.3h0.5v0.5h-0.5zM73.5 517.0h0.5v0.5h-0.5zM79.4 536.1h0.5v0.5h-0.5zM70.9 520.6h0.5v0.5h-0.5zM55.8 529.9h0.5v0.5h-0.5zM72.2 532.1h0.5v0.5h-0.5zM117.1 537.1h0.5v0.5h-0.5zM74.6 540.3h0.5v0.5h-0.5zM70.5 527.8h0.5v0.5h-0.5zM113.8 526.5h0.5v0.5h-0.5zM63.0 544.1h0.5v0.5h-0.5zM74.5 541.3h0.5v0.5h-0.5zM111.8 537.6h0.5v0.5h-0.5zM59.0 540.4h0.5v0.5h-0.5zM85.5 539.7h0.5v0.5h-0.5zM79.3 542.3h0.5v0.5h-0.5zM72.9 535.3h0.5v0.5h-0.5zM118.2 527.7h0.5v0.5h-0.5zM81.0 536.5h0.5v0.5h-0.5zM67.8 539.3h0.5v0.5h-0.5zM80.5 543.8h0.5v0.5h-0.5zM68.1 534.8h0.5v0.5h-0.5zM109.3 551.1h0.5v0.5h-0.5zM84.0 546.5h0.5v0.5h-0.5zM113.7 536.6h0.5v0.5h-0.5zM70.7 542.4h0.5v0.5h-0.5zM76.1 541.0h0.5v0.5h-0.5zM56.0 542.3h0.5v0.5h-0.5zM116.8 541.6h0.5v0.5h-0.5zM64.8 535.7h0.5v0.5h-0.5zM67.4 540.0h0.5v0.5h-0.5zM68.2 539.3h0.5v0.5h-0.5zM116.1 549.3h0.5v0.5h-0.5zM68.4 544.2h0.5v0.5h-0.5zM66.7 544.1h0.5v0.5h-0.5zM77.8 539.2h0.5v0.5h-0.5zM75.9 537.6h0.5v0.5h-0.5zM64.2 536.6h0.5v0.5h-0.5zM81.2 538.2h0.5v0.5h-0.5zM81.2 539.8h0.5v0.5h-0.5zM64.3 536.8h0.5v0.5h-0.5zM76.1 546.0h0.5v0.5h-0.5zM88.7 514.8h0.5v0.5h-0.5zM82.9 551.1h0.5v0.5h-0.5zM65.8 537.6h0.5v0.5h-0.5zM85.6 539.0h0.5v0.5h-0.5zM67.9 523.6h0.5v0.5h-0.5zM69.9 518.4h0.5v0.5h-0.5zM67.7 532.9h0.5v0.5h-0.5zM72.6 535.1h0.5v0.5h-0.5zM76.2 542.9h0.5v0.5h-0.5zM69.4 532.6h0.5v0.5h-0.5zM114.5 527.7h0.5v0.5h-0.5zM113.3 538.2h0.5v0.5h-0.5zM64.1 533.7h0.5v0.5h-0.5zM73.2 538.3h0.5v0.5h-0.5zM61.8 524.5h0.5v0.5h-0.5zM56.2 518.5h0.5v0.5h-0.5zM57.4 516.9h0.5v0.5h-0.5zM77.3 511.3h0.5v0.5h-0.5zM76.5 547.1h0.5v0.5h-0.5zM66.3 532.6h0.5v0.5h-0.5zM70.5 539.6h0.5v0.5h-0.5zM76.8 535.5h0.5v0.5h-0.5zM72.3 543.2h0.5v0.5h-0.5zM56.2 535.5h0.5v0.5h-0.5zM70.0 535.2h0.5v0.5h-0.5zM75.5 538.2h0.5v0.5h-0.5zM86.9 541.9h0.5v0.5h-0.5zM65.0 537.2h0.5v0.5h-0.5zM74.3 541.4h0.5v0.5h-0.5zM66.4 543.6h0.5v0.5h-0.5zM65.6 539.3h0.5v0.5h-0.5zM65.5 512.3h0.5v0.5h-0.5zM115.1 531.3h0.5v0.5h-0.5zM57.9 541.4h0.5v0.5h-0.5zM68.5 525.0h0.5v0.5h-0.5zM89.2 547.8h0.5v0.5h-0.5zM62.5 529.9h0.5v0.5h-0.5zM119.4 541.9h0.5v0.5h-0.5zM114.1 545.2h0.5v0.5h-0.5zM58.4 528.4h0.5v0.5h-0.5zM84.6 515.6h0.5v0.5h-0.5zM60.0 534.9h0.5v0.5h-0.5zM82.5 544.5h0.5v0.5h-0.5zM83.8 541.6h0.5v0.5h-0.5zM79.7 539.3h0.5v0.5h-0.5zM68.2 527.6h0.5v0.5h-0.5zM60.5 540.2h0.5v0.5h-0.5zM84.8 542.9h0.5v0.5h-0.5zM78.0 538.8h0.5v0.5h-0.5zM79.7 538.4h0.5v0.5h-0.5zM55.0 529.7h0.5v0.5h-0.5zM85.7 548.8h0.5v0.5h-0.5zM62.1 528.5h0.5v0.5h-0.5zM111.8 537.2h0.5v0.5h-0.5zM72.5 532.1h0.5v0.5h-0.5zM81.4 546.0h0.5v0.5h-0.5zM63.8 538.0h0.5v0.5h-0.5zM67.5 540.8h0.5v0.5h-0.5zM81.1 515.5h0.5v0.5h-0.5zM64.6 521.4h0.5v0.5h-0.5zM67.1 529.1h0.5v0.5h-0.5zM86.0 544.5h0.5v0.5h-0.5zM78.8 543.3h0.5v0.5h-0.5zM78.9 543.6h0.5v0.5h-0.5zM66.6 545.2h0.5v0.5h-0.5zM86.6 549.2h0.5v0.5h-0.5zM83.2 538.5h0.5v0.5h-0.5zM112.0 540.0h0.5v0.5h-0.5zM60.2 545.0h0.5v0.5h-0.5zM62.4 531.2h0.5v0.5h-0.5zM62.1 539.0h0.5v0.5h-0.5zM75.6 542.2h0.5v0.5h-0.5zM68.8 534.9h0.5v0.5h-0.5zM87.3 542.4h0.5v0.5h-0.5zM70.9 537.9h0.5v0.5h-0.5zM64.5 535.7h0.5v0.5h-0.5zM68.0 525.6h0.5v0.5h-0.5zM108.9 515.3h0.5v0.5h-0.5zM67.6 532.6h0.5v0.5h-0.5zM70.5 540.4h0.5v0.5h-0.5zM69.9 537.2h0.5v0.5h-0.5zM56.0 537.7h0.5v0.5h-0.5zM75.5 535.7h0.5v0.5h-0.5zM65.3 540.1h0.5v0.5h-0.5zM65.1 511.0h0.5v0.5h-0.5zM85.6 544.2h0.5v0.5h-0.5zM73.6 511.5h0.5v0.5h-0.5zM72.4 544.5h0.5v0.5h-0.5zM85.3 512.8h0.5v0.5h-0.5zM72.9 539.2h0.5v0.5h-0.5zM93.4 510.7h0.5v0.5h-0.5zM82.8 549.7h0.5v0.5h-0.5zM66.9 537.8h0.5v0.5h-0.5zM69.7 531.9h0.5v0.5h-0.5zM83.5 548.3h0.5v0.5h-0.5zM69.5 538.0h0.5v0.5h-0.5zM86.0 545.4h0.5v0.5h-0.5zM69.4 530.1h0.5v0.5h-0.5zM77.3 544.5h0.5v0.5h-0.5zM69.9 538.2h0.5v0.5h-0.5zM83.3 548.3h0.5v0.5h-0.5zM101.0 509.5h0.5v0.5h-0.5zM72.8 521.8h0.5v0.5h-0.5zM73.8 538.6h0.5v0.5h-0.5zM70.1 527.5h0.5v0.5h-0.5zM76.7 543.1h0.5v0.5h-0.5zM81.9 537.1h0.5v0.5h-0.5zM85.2 546.2h0.5v0.5h-0.5zM79.1 537.5h0.5v0.5h-0.5zM85.4 540.7h0.5v0.5h-0.5zM70.8 537.7h0.5v0.5h-0.5zM77.5 542.5h0.5v0.5h-0.5zM64.7 534.9h0.5v0.5h-0.5zM88.0 549.7h0.5v0.5h-0.5zM65.7 536.8h0.5v0.5h-0.5zM69.3 525.0h0.5v0.5h-0.5zM67.3 535.3h0.5v0.5h-0.5zM56.4 510.1h0.5v0.5h-0.5zM78.0 543.3h0.5v0.5h-0.5zM61.8 533.0h0.5v0.5h-0.5zM79.5 538.3h0.5v0.5h-0.5zM109.5 546.4h0.5v0.5h-0.5zM76.1 536.3h0.5v0.5h-0.5zM75.7 539.8h0.5v0.5h-0.5zM78.5 517.4h0.5v0.5h-0.5zM68.5 527.5h0.5v0.5h-0.5zM70.6 544.2h0.5v0.5h-0.5zM55.9 532.9h0.5v0.5h-0.5zM85.0 541.3h0.5v0.5h-0.5zM66.8 508.3h0.5v0.5h-0.5zM113.3 540.4h0.5v0.5h-0.5zM85.5 539.8h0.5v0.5h-0.5zM83.5 537.3h0.5v0.5h-0.5zM68.8 538.7h0.5v0.5h-0.5zM75.3 535.3h0.5v0.5h-0.5zM74.2 536.6h0.5v0.5h-0.5zM75.1 547.0h0.5v0.5h-0.5zM84.8 538.8h0.5v0.5h-0.5zM80.9 543.1h0.5v0.5h-0.5zM61.9 533.8h0.5v0.5h-0.5zM69.7 543.1h0.5v0.5h-0.5zM84.1 546.7h0.5v0.5h-0.5zM112.3 543.9h0.5v0.5h-0.5zM86.4 543.8h0.5v0.5h-0.5zM58.6 530.9h0.5v0.5h-0.5zM75.4 535.5h0.5v0.5h-0.5zM82.4 540.8h0.5v0.5h-0.5zM59.8 546.7h0.5v0.5h-0.5zM85.9 542.5h0.5v0.5h-0.5zM120.9 527.8h0.5v0.5h-0.5zM77.5 542.7h0.5v0.5h-0.5zM59.0 537.2h0.5v0.5h-0.5zM113.5 536.0h0.5v0.5h-0.5zM87.6 543.6h0.5v0.5h-0.5zM64.4 513.9h0.5v0.5h-0.5zM54.3 539.2h0.5v0.5h-0.5zM60.9 535.8h0.5v0.5h-0.5zM87.1 507.6h0.5v0.5h-0.5zM104.5 511.1h0.5v0.5h-0.5zM67.2 542.3h0.5v0.5h-0.5zM76.4 549.0h0.5v0.5h-0.5zM83.9 541.0h0.5v0.5h-0.5zM68.1 539.3h0.5v0.5h-0.5zM54.9 534.6h0.5v0.5h-0.5zM66.5 527.6h0.5v0.5h-0.5zM74.4 545.2h0.5v0.5h-0.5zM74.0 534.8h0.5v0.5h-0.5zM72.5 541.5h0.5v0.5h-0.5zM87.2 545.9h0.5v0.5h-0.5zM85.3 542.3h0.5v0.5h-0.5zM75.6 544.9h0.5v0.5h-0.5zM58.1 531.9h0.5v0.5h-0.5zM69.4 537.1h0.5v0.5h-0.5zM80.1 538.8h0.5v0.5h-0.5zM75.4 543.4h0.5v0.5h-0.5zM80.4 546.0h0.5v0.5h-0.5zM79.9 542.6h0.5v0.5h-0.5zM78.4 537.4h0.5v0.5h-0.5zM74.3 519.7h0.5v0.5h-0.5zM67.9 525.4h0.5v0.5h-0.5zM72.1 539.8h0.5v0.5h-0.5z" fill="#555" opacity="0.85"/>
<path d="M93.8 508.3h0.5v0.5h-0.5zM113.4 493.9h0.5v0.5h-0.5zM111.5 531.2h0.5v0.5h-0.5zM89.3 510.5h0.5v0.5h-0.5zM112.3 539.1h0.5v0.5h-0.5zM108.7 510.5h0.5v0.5h-0.5zM78.5 491.2h0.5v0.5h-0.5zM83.7 542.0h0.5v0.5h-0.5zM56.8 535.0h0.5v0.5h-0.5zM66.3 542.2h0.5v0.5h-0.5zM73.5 536.7h0.5v0.5h-0.5zM70.0 534.9h0.5v0.5h-0.5zM63.6 523.0h0.5v0.5h-0.5zM105.6 501.4h0.5v0.5h-0.5zM72.4 532.6h0.5v0.5h-0.5zM111.8 542.0h0.5v0.5h-0.5zM84.9 491.7h0.5v0.5h-0.5zM120.5 528.7h0.5v0.5h-0.5zM105.2 512.5h0.5v0.5h-0.5zM75.9 544.7h0.5v0.5h-0.5zM120.8 517.5h0.5v0.5h-0.5zM55.4 539.9h0.5v0.5h-0.5zM77.0 543.2h0.5v0.5h-0.5zM78.8 540.4h0.5v0.5h-0.5zM63.0 502.2h0.5v0.5h-0.5zM78.3 503.9h0.5v0.5h-0.5zM76.7 513.6h0.5v0.5h-0.5zM107.4 494.6h0.5v0.5h-0.5zM60.4 521.2h0.5v0.5h-0.5zM112.1 519.8h0.5v0.5h-0.5zM75.8 497.8h0.5v0.5h-0.5zM90.8 512.8h0.5v0.5h-0.5zM112.5 509.6h0.5v0.5h-0.5zM105.7 511.4h0.5v0.5h-0.5zM119.8 543.3h0.5v0.5h-0.5zM71.3 513.0h0.5v0.5h-0.5zM64.7 540.9h0.5v0.5h-0.5zM92.8 504.3h0.5v0.5h-0.5zM54.9 539.1h0.5v0.5h-0.5zM64.6 536.5h0.5v0.5h-0.5zM120.1 511.1h0.5v0.5h-0.5zM107.9 498.1h0.5v0.5h-0.5zM113.3 487.6h0.5v0.5h-0.5zM67.4 492.4h0.5v0.5h-0.5zM88.9 489.9h0.5v0.5h-0.5zM66.8 503.9h0.5v0.5h-0.5zM74.1 502.8h0.5v0.5h-0.5zM85.5 545.2h0.5v0.5h-0.5zM110.0 550.2h0.5v0.5h-0.5zM93.3 495.3h0.5v0.5h-0.5zM54.1 521.4h0.5v0.5h-0.5zM55.7 501.6h0.5v0.5h-0.5zM114.6 521.9h0.5v0.5h-0.5zM116.9 526.1h0.5v0.5h-0.5zM79.3 508.6h0.5v0.5h-0.5zM80.4 500.4h0.5v0.5h-0.5zM73.1 541.6h0.5v0.5h-0.5zM111.5 515.3h0.5v0.5h-0.5zM84.6 501.6h0.5v0.5h-0.5zM60.6 497.4h0.5v0.5h-0.5zM73.8 537.8h0.5v0.5h-0.5zM63.3 526.6h0.5v0.5h-0.5zM63.6 516.3h0.5v0.5h-0.5zM99.1 495.4h0.5v0.5h-0.5zM56.0 528.2h0.5v0.5h-0.5zM72.0 517.5h0.5v0.5h-0.5zM84.5 516.2h0.5v0.5h-0.5zM77.4 513.5h0.5v0.5h-0.5zM81.4 501.8h0.5v0.5h-0.5zM119.1 547.7h0.5v0.5h-0.5zM121.1 545.3h0.5v0.5h-0.5zM68.5 485.3h0.5v0.5h-0.5zM83.8 516.8h0.5v0.5h-0.5zM76.7 513.7h0.5v0.5h-0.5zM55.9 529.2h0.5v0.5h-0.5zM112.9 530.4h0.5v0.5h-0.5zM107.9 511.8h0.5v0.5h-0.5zM89.6 508.0h0.5v0.5h-0.5zM114.0 502.3h0.5v0.5h-0.5zM120.6 524.7h0.5v0.5h-0.5zM72.1 516.2h0.5v0.5h-0.5zM71.1 486.7h0.5v0.5h-0.5zM121.5 507.6h0.5v0.5h-0.5zM105.5 506.8h0.5v0.5h-0.5zM56.8 541.4h0.5v0.5h-0.5zM80.2 508.4h0.5v0.5h-0.5zM92.0 502.2h0.5v0.5h-0.5zM68.5 506.4h0.5v0.5h-0.5zM82.9 551.6h0.5v0.5h-0.5zM68.6 532.7h0.5v0.5h-0.5zM119.3 527.3h0.5v0.5h-0.5zM83.6 510.4h0.5v0.5h-0.5zM87.6 494.5h0.5v0.5h-0.5zM77.3 492.3h0.5v0.5h-0.5zM118.5 503.6h0.5v0.5h-0.5zM70.6 490.7h0.5v0.5h-0.5zM120.1 513.0h0.5v0.5h-0.5zM89.9 497.9h0.5v0.5h-0.5zM116.4 497.2h0.5v0.5h-0.5zM85.2 513.6h0.5v0.5h-0.5z" fill="#666" opacity="0.8"/>
<clipPath id="cp7"><rect x="53.4" y="484.3" width="69.19999999999999" height="68.30000000000001"/></clipPath><g clip-path="url(#cp7)"><path d="M100.4 556.3 98.7 556.4 96.9 556.2 95.2 555.4 93.7 554.2 91.9 552.0 90.0 549.0 88.8 546.3 86.8 540.8 85.7 538.8 84.7 537.8 83.7 537.3 77.4 535.0 74.2 533.2 72.8 532.0 71.6 530.5 70.9 529.0 70.5 527.3 70.8 525.3 71.7 523.3 73.2 521.5 75.2 520.1 76.9 519.2 78.9 518.4 85.7 516.8 87.9 516.0 90.0 514.8 94.9 511.1 96.9 510.2 98.7 509.9 101.2 510.2 103.4 511.4 105.6 513.3 107.4 515.8 109.1 519.0 110.3 522.5 111.1 526.3 111.5 530.8 111.5 535.3 111.0 539.8 110.1 543.8 108.7 547.5 107.0 550.8 104.7 553.9 102.7 555.5 100.4 556.3M69.4 555.3 67.4 555.3 65.7 554.6 64.4 553.5 63.6 552.0 63.5 550.3 64.1 548.8 65.2 547.7 66.9 546.9 69.2 546.6 71.2 547.2 72.7 548.3 73.6 549.8 73.7 551.5 73.0 553.3 71.4 554.7 69.4 555.3M99.9 554.8 98.4 554.9 97.2 554.6 95.9 553.9 95.0 553.0 93.6 550.0 91.2 546.1 88.5 539.3 87.0 537.0 86.2 536.2 84.9 535.5 79.4 533.5 76.7 532.0 75.4 530.9 74.6 529.8 74.0 528.5 73.7 527.0 74.0 525.3 74.8 523.8 76.2 522.4 77.9 521.2 81.2 519.9 88.7 518.0 90.8 517.0 95.7 514.1 97.2 513.6 98.7 513.4 100.7 513.6 102.7 514.6 104.6 516.3 106.3 518.5 107.6 521.3 108.7 524.5 109.3 527.8 109.6 531.3 109.6 534.8 109.2 538.3 108.5 541.5 107.4 544.8 106.2 547.3 104.4 550.1 103.0 553.0 101.7 554.2 99.9 554.8M69.9 554.4 68.4 554.5 66.9 554.2 65.7 553.5 64.8 552.5 64.4 551.3 64.6 550.0 65.2 549.0 66.2 548.1 67.7 547.6 69.4 547.5 71.2 548.2 72.3 549.3 72.8 550.8 72.5 552.3 71.5 553.5 69.9 554.4M99.7 554.1 98.4 554.1 97.4 553.8 96.5 553.3 95.9 552.5 95.6 551.5 95.4 549.0 92.5 545.0 89.7 538.3 88.2 536.0 87.2 535.1 85.9 534.3 80.7 532.3 78.4 531.0 77.3 530.0 76.7 529.1 76.2 528.0 76.1 527.0 76.3 525.5 77.0 524.3 78.3 523.0 79.9 522.1 82.4 521.1 89.2 519.4 95.7 516.4 97.2 515.9 98.4 515.7 100.4 516.0 102.2 516.8 103.7 518.1 105.2 520.0 106.4 522.3 107.3 525.0 108.0 528.0 108.2 531.3 108.2 534.3 107.9 537.3 107.3 540.0 106.6 542.5 105.0 545.8 102.6 549.0 102.4 551.5 102.1 552.5 101.1 553.5 99.7 554.1M69.4 553.9 68.2 553.9 66.9 553.6 65.9 552.8 65.4 552.0 65.1 551.0 65.3 550.0 65.9 549.2 66.9 548.4 68.4 548.1 69.9 548.3 71.2 549.0 71.9 550.0 72.1 551.3 71.7 552.4 70.7 553.4 69.4 553.9M99.7 547.3 98.4 547.3 97.2 546.9 95.9 546.1 94.9 545.0 93.2 542.5 90.6 536.8 89.7 535.4 88.7 534.4 86.4 532.9 81.4 530.8 79.5 529.3 78.7 528.0 78.6 526.5 79.0 525.3 80.2 524.1 81.3 523.3 82.9 522.6 89.4 520.9 95.2 518.6 97.2 518.1 98.9 518.0 100.4 518.3 101.9 519.2 103.4 520.6 104.4 522.0 105.2 523.5 106.4 527.3 106.9 531.5 106.6 536.3 105.6 540.5 104.0 543.8 102.1 546.0 100.9 546.9 99.7 547.3M68.7 553.3 67.7 553.2 66.7 552.6 66.0 551.8 65.9 551.0 66.1 550.0 66.7 549.4 67.4 548.9 68.4 548.7 69.4 548.8 70.4 549.3 71.1 550.0 71.3 550.8 71.2 551.8 70.6 552.5 69.7 553.1 68.7 553.3M99.7 553.3 98.7 553.4 97.9 553.2 97.2 552.7 96.8 552.0 96.7 551.3 97.0 550.5 97.7 549.9 98.4 549.5 99.4 549.4 100.2 549.7 100.8 550.3 101.2 551.0 101.3 551.8 101.0 552.5 100.4 553.0 99.7 553.3M99.9 544.3 98.2 544.3 97.2 543.9 96.3 543.3 94.7 541.3 91.9 536.0 90.2 533.8 87.9 532.0 83.5 529.8 82.1 528.8 81.5 528.0 81.3 527.0 81.5 526.0 82.2 525.2 83.2 524.5 84.7 523.8 89.9 522.2 94.7 520.5 96.7 520.1 98.2 520.0 99.7 520.3 101.2 521.0 102.3 522.0 103.8 524.3 104.9 527.3 105.4 530.8 105.3 534.5 104.6 538.0 103.4 541.1 101.7 543.3 100.9 543.9 99.9 544.3M69.2 552.6 68.4 552.6 67.7 552.4 66.8 551.5 66.7 550.8 66.8 550.3 67.7 549.6 68.4 549.4 69.2 549.4 69.9 549.8 70.4 550.3 70.6 551.0 70.4 551.6 69.9 552.2 69.2 552.6M99.4 552.4 98.4 552.3 98.0 551.8 98.2 551.3 98.9 550.9 99.7 551.1 100.0 551.8 99.4 552.4M99.9 540.6 99.2 540.8 98.2 540.6 97.2 540.1 96.4 539.4 93.0 534.5 91.5 532.8 89.9 531.3 86.5 528.8 85.8 528.0 85.4 527.0 85.9 526.0 87.5 525.0 89.8 524.0 93.4 522.7 95.9 522.1 97.4 522.1 98.9 522.4 100.2 523.0 101.2 523.8 102.4 525.5 103.2 527.5 103.6 530.0 103.6 532.8 103.2 535.5 102.4 537.8 101.3 539.5 99.9 540.6M68.9 551.6 68.4 551.6 67.9 551.3 67.9 550.8 68.1 550.5 68.7 550.4 69.2 550.6 69.3 551.0 68.9 551.6M98.7 535.3 97.4 535.3 95.9 534.4 91.1 529.5 90.4 528.5 90.1 527.5 90.3 526.8 91.0 526.0 93.4 524.7 96.2 524.2 98.2 524.6 99.2 525.2 99.9 525.9 100.7 527.0 101.1 528.3 101.3 529.8 101.3 531.3 100.9 532.8 100.4 533.9 99.7 534.8 98.7 535.3" fill="none" stroke="#222" stroke-width="0.55" stroke-linejoin="round"/></g>
<path d="M57.5 500.0 57.6 499.1 57.7 498.4 57.9 497.9 58.0 497.4 58.3 497.0 58.6 496.7 59.0 496.3 59.5 496.0 60.0 495.7 60.6 495.4 61.3 495.2 62.0 495.1 62.8 494.9 63.7 494.8 64.8 494.7 66.0 494.6 67.4 494.5 68.9 494.4 70.7 494.4 72.5 494.4 74.3 494.4 76.3 494.4 78.2 494.4 80.0 494.4 81.9 494.4 83.8 494.5 85.7 494.5 87.7 494.6 89.6 494.7 91.5 494.8 93.3 494.9 95.0 495.0 96.6 495.1 98.2 495.2 99.7 495.2 101.2 495.3 102.6 495.4 103.9 495.6 105.0 495.8 106.0 496.0 106.8 496.3 107.5 496.6 108.1 496.9 108.5 497.3 108.9 497.7 109.2 498.2 109.5 498.8 109.8 499.5 110.1 500.3 110.3 501.2 110.4 502.2 110.6 503.3 110.7 504.4 110.7 505.6 110.8 506.8 110.8 508.0 110.9 509.3 110.9 510.8 111.0 512.3 111.1 513.8 111.1 515.3 111.0 516.7 110.7 518.0 110.4 519.0 109.9 519.8 109.4 520.4 108.7 520.9 107.9 521.3 107.1 521.6 106.1 521.9 105.1 522.0 104.0 522.2 102.8 522.3 101.4 522.3 99.9 522.2 98.3 522.0 96.7 521.8 95.1 521.7 93.5 521.6 92.0 521.5 90.5 521.5 89.0 521.5 87.5 521.5 85.9 521.6 84.4 521.7 82.9 521.8 81.5 521.9 80.0 522.0 78.5 522.2 77.1 522.5 75.6 522.8 74.2 523.2 72.8 523.5 71.4 523.7 70.2 523.9 69.0 523.8 67.9 523.6 66.9 523.3 65.9 522.8 65.0 522.3 64.2 521.7 63.4 521.0 62.7 520.3 62.0 519.5 61.4 518.7 60.8 517.7 60.2 516.7 59.7 515.7 59.3 514.6 58.9 513.4 58.5 512.2 58.2 511.0 57.9 509.7 57.7 508.3 57.6 506.8 57.5 505.2 57.4 503.7 57.4 502.3 57.4 501.1Z" fill="#fff"/>
<clipPath id="cp6"><rect x="53.4" y="484.3" width="69.19999999999999" height="68.30000000000001"/></clipPath><g clip-path="url(#cp6)"><path d="M70.7 523.9 69.2 523.9 68.9 523.7 67.9 523.7 64.4 521.9 61.8 519.3 61.8 519.0 61.0 518.3 60.8 517.5 60.3 517.0 59.8 516.0 59.8 515.5 59.3 514.8 59.0 513.5 58.5 512.5 58.5 511.8 58.3 511.6 58.3 510.8 58.0 510.6 58.0 509.6 57.8 509.3 57.8 507.6 57.5 507.3 57.5 498.8 57.8 498.6 57.8 497.8 58.0 497.3 59.1 496.2 59.4 496.2 60.4 495.4 60.9 495.4 61.1 495.2 61.9 495.2 62.1 494.9 63.6 494.9 63.9 494.7 66.7 494.7 66.9 494.4 85.7 494.4 85.9 494.7 91.4 494.7 91.7 494.9 95.9 494.9 96.2 495.2 100.7 495.2 100.9 495.4 103.7 495.4 103.9 495.7 105.2 495.7 105.4 495.9 105.9 495.9 106.2 496.2 107.4 496.4 109.0 497.8 109.8 499.3 110.0 500.6 110.3 500.8 110.3 501.8 110.5 502.1 110.5 504.3 110.8 504.6 110.8 510.1 111.0 510.3 111.0 517.0 110.8 517.3 110.8 518.0 110.5 518.3 110.5 518.8 110.0 519.8 109.2 520.7 108.9 520.7 107.9 521.4 107.4 521.4 107.2 521.7 106.4 521.7 106.2 521.9 105.2 521.9 104.9 522.2 98.9 522.2 98.7 521.9 96.4 521.9 96.2 521.7 93.4 521.7 93.2 521.4 87.4 521.4 87.2 521.7 82.4 521.7 82.2 521.9 79.7 521.9 79.4 522.2 78.2 522.2 77.9 522.4 76.9 522.4 76.7 522.7 75.9 522.7 75.7 522.9 73.9 523.2 73.7 523.4 72.7 523.4 72.4 523.7 70.9 523.7 70.7 523.9M108.9 502.3 109.0 502.1 108.7 501.8 108.7 500.8 108.4 501.8 108.7 502.3 108.9 502.4 108.9 502.3M109.4 510.3 109.2 510.1 109.2 509.1 108.9 510.1 109.4 510.5 109.4 510.3M108.7 518.8 109.2 518.0 109.2 517.3 109.4 517.0 108.8 517.8 108.6 518.3 108.7 518.8M102.9 520.5 101.7 520.4 98.9 520.5 102.9 520.5M70.7 523.3 70.4 523.5 69.7 523.5 68.2 523.2 64.7 521.5 62.4 519.3 61.5 518.0 60.4 516.0 60.0 515.8 58.7 512.3 58.7 511.8 58.2 510.3 58.2 509.6 58.0 509.1 58.0 507.6 57.7 507.1 57.7 498.8 57.9 498.6 57.9 497.8 58.1 497.3 59.1 496.3 59.4 496.3 60.4 495.5 60.9 495.5 61.1 495.3 61.9 495.3 62.1 495.0 63.6 495.1 64.2 494.8 66.7 494.8 67.2 494.6 85.4 494.6 85.9 494.9 91.2 494.9 91.7 495.2 95.7 495.2 96.2 495.5 100.4 495.5 100.9 495.7 103.4 495.7 103.9 496.0 104.2 496.4 104.7 496.4 107.2 497.2 108.2 498.1 109.0 499.6 109.8 502.6 109.8 504.3 110.1 505.1 110.1 510.1 110.3 510.8 110.3 516.5 109.7 518.5 108.9 519.9 107.7 520.6 104.4 521.5 99.4 521.5 98.7 521.2 96.9 521.2 96.2 521.0 93.9 521.0 93.2 520.8 87.4 520.9 86.7 521.2 82.4 521.2 81.9 521.5 79.7 521.5 79.2 521.7 76.7 522.0 73.4 523.0 70.7 523.3M108.9 503.1 109.1 502.1 108.8 501.8 108.8 500.8 108.4 500.3 107.7 501.3 107.6 502.1 107.8 502.6 108.9 503.1M109.4 511.1 109.6 510.3 109.3 510.1 109.2 508.3 108.4 509.3 108.1 510.1 108.4 510.7 109.4 511.1M105.0 520.5 105.2 520.4 106.2 520.4 106.4 520.1 107.2 520.1 108.2 519.4 108.4 519.4 109.3 518.0 109.3 517.3 109.6 517.0 109.4 516.4 107.7 518.3 106.9 518.8 103.9 519.5 97.7 520.3 98.7 520.4 98.9 520.7 104.9 520.7 105.0 520.5M70.4 522.8 69.7 522.9 67.7 522.4 64.9 521.0 62.7 518.8 61.0 516.0 60.4 515.8 59.9 514.5 59.1 512.3 58.3 508.8 58.3 507.6 58.1 506.8 57.9 499.1 58.1 498.1 58.5 497.3 60.1 496.1 62.4 495.3 63.6 495.3 64.2 495.1 66.7 495.1 67.4 494.9 85.2 494.9 85.9 495.2 90.9 495.3 91.7 495.5 95.4 495.6 96.2 495.9 100.2 495.9 100.9 496.2 103.2 496.2 103.9 496.5 104.2 497.1 105.2 497.1 106.2 497.6 106.7 497.6 107.9 498.6 108.3 499.6 108.2 499.8 107.1 501.3 106.8 502.3 107.2 502.9 109.0 503.8 109.3 504.6 109.4 507.1 109.3 507.6 107.7 509.3 107.2 510.3 107.7 511.0 109.5 511.8 109.6 515.0 109.5 515.8 107.2 517.9 103.9 518.9 96.2 520.2 93.9 520.3 93.2 520.1 79.7 520.9 76.7 521.5 73.2 522.4 70.4 522.8M100.7 496.8 97.1 496.8 100.7 497.0 100.7 496.8M70.2 522.3 67.7 521.8 65.2 520.5 63.2 518.5 61.6 516.0 60.9 515.8 60.2 514.3 59.4 512.0 58.7 508.8 58.6 507.3 58.4 506.8 58.2 499.3 58.6 497.6 60.1 496.3 62.6 495.6 63.6 495.6 64.4 495.4 66.7 495.4 67.4 495.2 85.2 495.2 85.9 495.5 90.9 495.6 91.7 495.9 95.4 496.0 96.0 496.3 95.3 496.6 95.7 497.0 96.9 497.4 100.9 497.3 102.9 497.1 100.9 496.9 100.9 496.7 103.2 496.7 103.3 496.8 103.1 497.1 103.9 496.9 104.2 497.5 105.2 497.4 106.7 497.7 107.8 498.6 107.9 499.4 106.4 501.4 105.9 502.6 106.2 503.0 106.7 503.4 108.9 504.2 109.2 504.6 109.2 506.8 109.2 507.2 106.9 509.6 106.4 510.6 106.6 511.1 107.0 511.3 109.4 512.2 109.5 514.3 109.4 515.3 106.9 517.5 103.7 518.5 94.8 520.0 87.4 519.9 86.4 520.1 82.2 520.1 81.4 520.3 79.4 520.4 77.9 520.6 72.9 521.9 70.2 522.3M100.4 496.6 96.0 496.6 96.2 496.3 99.9 496.4 100.4 496.6M69.9 521.8 67.9 521.3 65.4 519.9 63.8 518.3 62.3 516.0 61.4 515.8 60.7 514.3 59.8 512.0 59.1 508.8 59.0 507.3 58.8 506.6 58.4 499.3 58.9 497.6 60.2 496.6 62.6 495.8 63.9 495.8 64.4 495.6 66.7 495.7 67.4 495.4 85.2 495.5 85.9 495.8 90.7 496.0 91.7 496.3 93.7 496.5 95.9 497.8 100.7 497.7 103.9 497.3 104.2 497.8 106.7 497.8 107.7 498.6 107.3 499.3 105.5 501.8 105.1 502.8 105.4 503.3 106.1 503.8 109.2 505.0 109.2 506.5 106.3 509.6 105.6 510.8 105.8 511.3 106.4 511.7 109.4 513.0 109.4 514.3 109.4 514.5 108.5 515.5 106.5 517.3 103.7 518.2 100.2 518.9 94.2 519.7 90.9 519.7 87.4 519.2 86.2 519.5 82.2 519.5 81.4 519.7 79.4 519.8 77.7 520.1 72.9 521.3 69.9 521.8M70.7 521.1 69.9 521.2 68.2 520.8 65.8 519.5 64.3 518.0 63.0 516.0 61.9 515.8 61.0 514.0 60.2 511.8 59.4 508.6 59.4 507.3 59.1 506.6 58.7 499.3 59.1 497.8 60.4 496.7 62.6 496.1 66.7 496.0 67.7 495.7 84.9 495.8 85.9 496.1 91.3 496.3 92.6 496.8 93.9 497.7 95.7 498.3 103.9 497.6 104.2 498.2 105.7 498.3 106.5 498.6 106.7 499.3 104.7 502.1 104.4 502.8 104.4 503.2 105.2 504.1 108.4 505.3 108.6 506.1 107.9 507.3 105.2 510.1 104.8 511.1 105.0 511.6 105.4 511.9 108.3 513.0 108.9 513.8 108.7 514.5 108.2 515.3 106.2 517.0 103.7 517.8 97.4 518.9 94.2 519.3 91.9 519.0 89.2 518.3 87.4 518.3 86.2 518.7 82.4 518.9 81.2 519.2 79.2 519.3 72.7 520.8 70.7 521.1M70.2 520.6 68.3 520.3 66.1 519.0 64.7 517.6 63.6 516.0 62.4 515.8 61.2 513.3 60.6 511.8 59.8 508.6 59.0 499.6 59.3 498.1 59.7 497.6 60.6 496.9 62.9 496.3 66.9 496.3 67.7 496.0 84.9 496.1 85.9 496.3 89.7 496.3 90.7 496.4 93.2 498.2 95.4 498.7 103.9 497.9 104.2 498.7 104.9 498.9 105.5 499.3 105.4 500.1 104.2 501.9 104.0 503.3 104.1 504.1 104.7 504.4 107.6 505.6 107.8 506.3 107.0 507.6 104.4 510.3 104.0 511.3 104.2 511.8 104.7 512.2 107.4 513.3 108.1 514.0 108.0 514.5 107.6 515.3 106.0 516.8 103.7 517.5 100.2 518.2 97.4 518.5 94.4 518.7 92.9 517.8 92.4 516.9 91.4 516.8 87.2 517.5 85.9 518.0 79.2 518.7 72.7 520.2 70.2 520.6M71.4 519.9 69.9 520.0 69.2 519.9 67.2 519.1 65.2 517.3 64.3 516.0 63.3 515.8 63.0 515.5 62.0 513.8 61.1 511.6 60.2 508.3 59.3 499.6 59.6 498.1 60.6 497.2 62.9 496.6 66.9 496.6 67.7 496.4 84.9 496.4 85.7 496.7 88.7 496.7 90.4 497.0 91.7 498.4 92.4 498.8 93.7 499.1 95.9 499.2 102.7 498.3 103.9 498.3 104.1 499.6 104.1 501.3 103.9 502.3 103.2 503.3 103.3 504.1 104.2 504.9 106.6 505.8 106.9 506.3 106.5 507.3 103.8 510.3 103.1 511.6 103.4 512.2 103.9 512.5 106.4 513.5 107.0 514.0 107.1 514.5 107.0 515.0 105.7 516.5 103.4 517.2 100.2 517.8 97.7 518.0 96.2 517.8 95.3 517.5 95.1 517.0 96.3 515.0 95.9 514.8 94.2 514.8 85.9 517.3 79.2 518.1 71.4 519.9M70.7 519.3 69.2 519.3 66.9 518.2 65.0 516.0 64.1 515.8 63.3 515.0 62.1 512.8 61.6 511.6 60.7 508.3 60.6 507.3 60.3 506.3 60.1 502.8 59.6 499.6 59.8 498.3 60.9 497.4 62.9 496.9 66.9 497.0 67.9 496.7 84.7 496.8 85.7 497.0 87.9 497.2 89.4 497.5 90.4 498.1 91.2 499.1 92.7 499.6 95.7 499.6 102.7 498.7 103.9 498.7 104.0 500.1 103.9 501.4 102.4 502.6 102.0 503.3 102.5 504.6 105.7 506.0 106.0 506.8 105.3 508.1 102.7 510.8 102.3 511.8 102.4 512.3 102.9 512.8 105.4 513.8 106.1 514.3 106.2 515.0 105.4 516.2 103.4 516.8 100.4 517.2 97.9 517.1 97.6 516.8 97.6 516.3 97.9 515.7 99.1 514.3 99.2 513.8 98.7 513.6 97.2 513.5 93.4 514.2 85.7 516.7 78.9 517.6 70.7 519.3M71.4 518.6 69.9 518.8 69.2 518.7 67.2 517.6 65.8 516.0 64.9 515.8 63.9 514.7 62.5 512.0 61.2 508.3 61.1 507.1 60.8 506.3 60.6 502.8 60.0 499.8 60.0 498.6 61.1 497.6 62.9 497.3 66.9 497.3 67.9 497.1 84.7 497.2 88.7 498.0 90.2 499.1 90.8 499.8 91.7 500.1 95.7 500.1 99.4 499.5 102.4 499.2 103.9 499.7 103.8 500.3 102.2 501.7 100.1 503.1 99.5 504.1 99.5 504.3 100.1 504.6 101.4 504.6 102.2 505.2 104.4 506.1 105.0 506.8 105.0 507.3 104.6 508.1 101.7 511.3 101.4 512.7 99.7 512.6 96.9 512.9 93.4 513.7 85.7 516.2 78.9 517.0 71.4 518.6M103.2 516.3 100.4 516.5 99.9 516.0 100.3 515.0 101.6 513.5 101.8 513.0 104.4 514.1 105.3 514.8 105.3 515.3 105.0 515.8 103.2 516.3M70.9 518.1 69.2 518.1 68.2 517.5 66.5 516.0 65.9 515.8 64.5 514.3 63.1 511.8 61.7 508.1 61.1 503.1 60.3 499.8 60.4 498.6 61.1 498.0 63.1 497.7 66.9 497.8 67.9 497.5 84.4 497.6 87.7 498.5 90.4 500.3 91.2 500.6 95.7 500.6 99.4 500.0 101.4 500.3 101.7 500.5 101.2 501.1 97.9 503.8 97.4 504.6 97.7 504.9 98.2 505.1 100.9 505.3 103.4 506.3 104.1 507.1 104.1 507.6 103.7 508.3 100.7 511.9 97.2 512.4 93.9 513.2 85.7 515.6 78.7 516.4 70.9 518.1M104.2 515.4 103.2 515.5 102.6 515.3 102.5 515.0 102.7 514.5 103.2 514.2 104.1 514.8 104.4 515.3 104.2 515.4M69.9 517.6 68.5 517.0 66.8 515.8 65.2 514.0 63.5 511.1 62.4 508.1 61.6 503.1 60.7 499.8 60.7 498.8 61.4 498.3 63.1 498.0 66.9 498.2 68.2 498.0 84.4 498.1 86.9 499.3 88.9 500.5 90.9 501.2 98.4 501.1 98.9 501.3 98.8 501.6 96.0 504.1 95.6 504.8 95.7 505.3 96.2 505.7 96.9 505.8 100.4 505.8 102.4 506.6 103.2 507.3 103.2 507.8 102.9 508.6 100.2 511.5 93.9 512.8 85.4 515.1 78.7 515.8 69.9 517.6M71.2 516.8 69.7 516.9 67.7 515.8 65.9 513.8 64.5 511.3 63.1 507.8 62.3 503.3 61.1 500.1 61.1 499.1 61.6 498.7 63.1 498.5 66.9 498.8 68.2 498.5 81.2 498.6 84.4 498.9 85.9 500.0 88.4 501.2 90.9 501.8 94.2 501.8 95.2 502.1 95.4 502.3 95.5 502.8 94.5 504.6 94.3 505.3 94.5 505.8 94.9 506.2 96.4 506.4 99.9 506.2 101.7 506.9 102.3 507.6 102.3 508.1 102.0 508.8 99.9 511.1 93.9 512.4 85.4 514.6 78.7 515.2 71.2 516.8M70.7 516.3 69.9 516.4 68.7 515.8 67.2 514.3 65.9 512.3 64.0 507.8 63.0 503.6 61.6 500.1 61.6 499.3 61.9 499.1 65.2 499.2 66.9 499.5 68.4 499.2 80.2 499.3 83.7 499.7 84.2 499.8 85.4 501.1 86.5 501.6 93.4 502.9 93.7 503.1 93.7 503.6 93.2 505.6 93.4 506.1 94.2 506.6 95.9 506.9 99.4 506.7 100.9 507.3 101.4 508.1 101.1 509.1 99.6 510.8 93.9 512.0 85.4 514.0 78.7 514.6 70.7 516.3M71.2 515.6 69.9 515.8 69.4 515.5 68.4 514.7 67.1 513.0 65.3 508.8 63.7 503.3 62.0 500.1 62.1 499.6 63.4 499.6 66.9 500.4 68.4 500.0 71.9 500.1 79.4 500.3 82.2 500.7 83.9 501.2 84.7 501.8 85.7 502.3 89.7 502.9 91.5 503.6 91.9 504.1 92.1 506.1 92.5 506.6 93.2 507.0 95.4 507.4 98.9 507.1 99.9 507.6 100.5 508.3 100.3 509.3 99.2 510.5 85.4 513.4 78.4 514.0 71.2 515.6M70.7 515.1 69.9 515.1 69.4 514.8 67.7 512.8 66.6 510.3 64.6 503.6 62.6 500.3 63.4 500.3 64.7 500.8 65.4 500.9 66.9 501.4 68.7 501.0 71.7 500.9 80.2 501.7 83.9 502.4 85.4 503.1 89.4 503.6 90.4 504.3 91.3 506.6 92.2 507.3 94.9 507.8 98.4 507.5 99.4 508.1 99.7 508.6 99.5 509.3 98.9 510.2 93.7 511.0 85.2 512.8 78.4 513.4 70.7 515.1M71.4 514.3 70.2 514.5 69.9 514.4 68.4 512.5 67.3 510.1 65.4 503.7 64.4 501.7 66.9 502.2 69.4 501.6 72.4 501.5 77.2 502.6 83.7 503.3 85.2 503.8 87.9 504.2 89.4 504.7 90.4 506.8 91.7 507.7 94.2 508.2 97.9 508.0 98.5 508.3 98.8 508.8 98.7 509.6 98.4 509.8 95.7 510.1 92.9 510.1 85.2 512.0 78.4 512.7 71.4 514.3M70.9 513.8 70.4 513.9 69.9 513.6 68.5 511.3 66.5 505.3 65.9 502.9 67.2 502.9 68.7 502.3 69.9 502.0 71.9 501.9 73.7 502.2 77.4 503.6 83.7 504.1 88.2 505.2 88.9 505.8 89.9 507.3 91.1 508.3 88.9 509.8 85.2 511.3 78.2 512.2 70.9 513.8M97.7 508.9 97.2 508.6 97.7 508.5 97.8 508.8 97.7 508.9M71.4 513.1 70.4 513.2 69.4 511.8 66.6 503.8 69.7 502.4 71.2 502.2 72.7 502.3 73.9 502.7 76.2 504.0 77.2 504.3 83.7 504.8 86.4 505.5 87.7 506.1 89.8 508.1 88.2 509.2 84.9 510.6 77.9 511.6 71.4 513.1M70.9 512.6 70.7 512.6 70.0 511.6 68.4 506.8 67.3 504.6 68.7 503.3 70.2 502.7 71.7 502.5 73.2 502.8 74.1 503.3 75.7 504.6 76.9 505.1 83.7 505.5 86.7 506.5 88.8 508.1 84.9 509.9 76.2 511.3 70.9 512.6M71.7 511.8 70.9 511.9 70.5 511.3 69.1 507.3 67.9 505.1 68.9 503.7 70.4 502.9 71.9 502.9 73.2 503.2 74.0 503.8 75.2 505.3 75.9 505.7 77.4 505.9 83.4 506.2 85.9 507.1 87.6 508.1 84.4 509.4 76.2 510.7 71.7 511.8M72.2 511.1 71.4 511.3 71.2 511.2 69.7 507.3 68.6 505.6 69.2 504.1 69.8 503.6 70.7 503.2 71.9 503.2 72.9 503.6 73.6 504.3 74.2 505.8 74.9 506.2 76.4 506.5 83.4 506.9 86.1 508.1 84.2 508.8 76.2 510.1 72.2 511.1M71.7 510.6 70.1 506.8 70.5 506.3 69.7 504.8 70.0 504.1 70.9 503.6 72.2 503.7 72.9 504.3 72.9 505.2 72.1 506.3 72.9 506.8 75.2 507.1 82.2 507.4 83.4 507.6 84.4 508.1 83.4 508.4 75.9 509.6 71.7 510.6" fill="none" stroke="#000" stroke-width="0.6" stroke-linejoin="round"/></g>
<path d="M51.9 486.0h1.5M51.9 488.2h1.5M51.9 490.4h1.5M51.9 492.6h1.5M51.9 494.8h1.5M51.9 497.0h1.5M51.9 499.2h1.5M51.9 501.4h1.5M51.9 503.6h1.5M51.9 505.8h1.5M51.9 508.0h1.5M51.9 510.2h1.5M51.9 512.4h1.5M51.9 514.6h1.5M51.9 516.8h1.5M51.9 519.0h1.5M51.9 521.2h1.5M51.9 523.4h1.5M51.9 525.6h1.5M51.9 527.8h1.5M51.9 530.0h1.5M51.9 532.2h1.5M51.9 534.4h1.5M51.9 536.6h1.5M51.9 538.8h1.5M51.9 541.0h1.5M51.9 543.2h1.5M51.9 545.4h1.5M51.9 547.6h1.5M51.9 549.8h1.5" stroke="#666" stroke-width="0.5" fill="none"/>
<path d="M55.0 552.6v1.5M57.2 552.6v1.5M59.4 552.6v1.5M61.6 552.6v1.5M63.8 552.6v1.5M66.0 552.6v1.5M68.2 552.6v1.5M70.4 552.6v1.5M72.6 552.6v1.5M74.8 552.6v1.5M77.0 552.6v1.5M79.2 552.6v1.5M81.4 552.6v1.5M83.6 552.6v1.5M85.8 552.6v1.5M88.0 552.6v1.5M90.2 552.6v1.5M92.4 552.6v1.5M94.6 552.6v1.5M96.8 552.6v1.5M99.0 552.6v1.5M101.2 552.6v1.5M103.4 552.6v1.5M105.6 552.6v1.5M107.8 552.6v1.5M110.0 552.6v1.5M112.2 552.6v1.5M114.4 552.6v1.5M116.6 552.6v1.5M118.8 552.6v1.5" stroke="#777" stroke-width="0.5" fill="none"/>
<path d="M227.4 505.0h0.5v0.5h-0.5zM203.5 543.8h0.5v0.5h-0.5zM224.7 503.9h0.5v0.5h-0.5zM218.1 494.4h0.5v0.5h-0.5zM183.4 529.4h0.5v0.5h-0.5zM207.3 496.7h0.5v0.5h-0.5zM192.8 517.0h0.5v0.5h-0.5zM194.7 541.8h0.5v0.5h-0.5zM188.9 498.7h0.5v0.5h-0.5zM211.8 499.1h0.5v0.5h-0.5zM217.4 533.3h0.5v0.5h-0.5zM235.8 507.4h0.5v0.5h-0.5zM186.0 524.2h0.5v0.5h-0.5zM227.2 507.7h0.5v0.5h-0.5zM214.9 499.7h0.5v0.5h-0.5zM200.8 532.2h0.5v0.5h-0.5zM202.2 501.9h0.5v0.5h-0.5zM226.8 501.8h0.5v0.5h-0.5zM202.3 490.2h0.5v0.5h-0.5zM200.7 549.7h0.5v0.5h-0.5zM204.1 502.1h0.5v0.5h-0.5zM224.6 503.1h0.5v0.5h-0.5zM186.5 513.8h0.5v0.5h-0.5zM196.3 526.9h0.5v0.5h-0.5zM210.5 540.7h0.5v0.5h-0.5zM233.2 522.4h0.5v0.5h-0.5zM189.8 519.0h0.5v0.5h-0.5zM208.2 499.7h0.5v0.5h-0.5zM191.2 515.8h0.5v0.5h-0.5zM226.0 530.0h0.5v0.5h-0.5zM191.8 534.6h0.5v0.5h-0.5zM208.8 493.8h0.5v0.5h-0.5zM230.2 509.6h0.5v0.5h-0.5zM232.8 516.5h0.5v0.5h-0.5zM213.8 540.8h0.5v0.5h-0.5zM198.6 519.0h0.5v0.5h-0.5zM191.1 515.1h0.5v0.5h-0.5zM209.5 538.6h0.5v0.5h-0.5zM208.3 501.9h0.5v0.5h-0.5zM208.1 497.6h0.5v0.5h-0.5zM215.0 500.9h0.5v0.5h-0.5zM218.5 501.4h0.5v0.5h-0.5zM197.4 525.8h0.5v0.5h-0.5zM212.8 498.0h0.5v0.5h-0.5zM194.1 527.8h0.5v0.5h-0.5zM231.4 508.9h0.5v0.5h-0.5zM202.0 498.9h0.5v0.5h-0.5zM225.7 499.7h0.5v0.5h-0.5zM217.4 491.4h0.5v0.5h-0.5zM209.8 538.5h0.5v0.5h-0.5zM188.9 534.5h0.5v0.5h-0.5zM225.4 505.7h0.5v0.5h-0.5zM197.6 509.6h0.5v0.5h-0.5zM226.8 536.5h0.5v0.5h-0.5zM211.0 496.0h0.5v0.5h-0.5zM222.8 499.2h0.5v0.5h-0.5zM233.9 505.8h0.5v0.5h-0.5zM206.1 536.9h0.5v0.5h-0.5zM188.9 517.7h0.5v0.5h-0.5zM220.5 499.0h0.5v0.5h-0.5zM195.1 513.7h0.5v0.5h-0.5zM188.4 518.5h0.5v0.5h-0.5zM228.2 503.6h0.5v0.5h-0.5zM184.6 495.4h0.5v0.5h-0.5zM226.6 496.1h0.5v0.5h-0.5zM202.1 535.8h0.5v0.5h-0.5zM213.9 499.2h0.5v0.5h-0.5zM213.0 500.5h0.5v0.5h-0.5zM211.4 536.0h0.5v0.5h-0.5zM234.5 521.4h0.5v0.5h-0.5zM210.2 494.7h0.5v0.5h-0.5zM204.1 493.7h0.5v0.5h-0.5zM220.1 534.8h0.5v0.5h-0.5zM229.4 518.9h0.5v0.5h-0.5zM186.2 530.9h0.5v0.5h-0.5zM205.8 547.9h0.5v0.5h-0.5zM198.0 504.9h0.5v0.5h-0.5zM194.9 527.3h0.5v0.5h-0.5zM234.9 512.8h0.5v0.5h-0.5zM233.2 508.9h0.5v0.5h-0.5zM230.8 522.8h0.5v0.5h-0.5zM210.1 532.3h0.5v0.5h-0.5zM220.9 535.7h0.5v0.5h-0.5zM189.3 494.3h0.5v0.5h-0.5zM202.9 505.3h0.5v0.5h-0.5zM198.3 518.0h0.5v0.5h-0.5zM229.1 529.5h0.5v0.5h-0.5zM212.2 534.2h0.5v0.5h-0.5zM205.3 494.8h0.5v0.5h-0.5zM216.3 542.3h0.5v0.5h-0.5zM215.2 493.8h0.5v0.5h-0.5zM232.5 524.3h0.5v0.5h-0.5zM200.2 509.0h0.5v0.5h-0.5zM201.2 505.0h0.5v0.5h-0.5zM225.2 504.0h0.5v0.5h-0.5zM223.6 537.3h0.5v0.5h-0.5zM234.3 534.9h0.5v0.5h-0.5zM231.4 529.7h0.5v0.5h-0.5zM235.1 518.9h0.5v0.5h-0.5zM234.2 519.0h0.5v0.5h-0.5zM228.5 517.2h0.5v0.5h-0.5zM214.7 531.6h0.5v0.5h-0.5zM219.7 496.6h0.5v0.5h-0.5zM206.3 502.3h0.5v0.5h-0.5zM234.9 519.4h0.5v0.5h-0.5zM222.5 533.1h0.5v0.5h-0.5zM193.7 520.7h0.5v0.5h-0.5zM203.3 505.2h0.5v0.5h-0.5zM195.8 514.6h0.5v0.5h-0.5zM206.8 497.9h0.5v0.5h-0.5zM196.4 518.8h0.5v0.5h-0.5zM190.1 520.7h0.5v0.5h-0.5zM206.9 537.2h0.5v0.5h-0.5zM203.6 493.1h0.5v0.5h-0.5zM216.4 537.6h0.5v0.5h-0.5zM202.6 495.5h0.5v0.5h-0.5zM228.0 504.2h0.5v0.5h-0.5zM202.8 500.4h0.5v0.5h-0.5zM208.9 495.3h0.5v0.5h-0.5zM234.2 525.7h0.5v0.5h-0.5z" fill="#555" opacity="0.85"/>
<path d="M232.0 499.9h0.5v0.5h-0.5zM225.4 486.7h0.5v0.5h-0.5zM180.2 510.9h0.5v0.5h-0.5zM193.7 488.2h0.5v0.5h-0.5zM211.8 488.6h0.5v0.5h-0.5zM187.0 507.9h0.5v0.5h-0.5zM189.6 497.2h0.5v0.5h-0.5zM211.0 538.6h0.5v0.5h-0.5zM173.4 492.0h0.5v0.5h-0.5zM236.1 524.2h0.5v0.5h-0.5zM230.2 516.6h0.5v0.5h-0.5zM230.6 517.8h0.5v0.5h-0.5zM192.5 514.9h0.5v0.5h-0.5zM173.0 526.7h0.5v0.5h-0.5zM233.4 517.8h0.5v0.5h-0.5zM181.8 549.7h0.5v0.5h-0.5zM181.8 519.4h0.5v0.5h-0.5zM188.4 510.3h0.5v0.5h-0.5zM184.3 520.9h0.5v0.5h-0.5zM201.0 549.3h0.5v0.5h-0.5zM235.6 530.1h0.5v0.5h-0.5zM185.2 534.5h0.5v0.5h-0.5zM224.0 501.7h0.5v0.5h-0.5zM178.1 505.1h0.5v0.5h-0.5zM231.3 500.0h0.5v0.5h-0.5zM187.3 512.9h0.5v0.5h-0.5zM180.8 488.5h0.5v0.5h-0.5zM196.4 493.5h0.5v0.5h-0.5zM179.6 540.3h0.5v0.5h-0.5zM201.2 546.4h0.5v0.5h-0.5zM178.9 544.0h0.5v0.5h-0.5zM196.0 489.0h0.5v0.5h-0.5zM221.1 493.7h0.5v0.5h-0.5zM183.9 547.5h0.5v0.5h-0.5zM175.7 531.7h0.5v0.5h-0.5zM181.0 525.1h0.5v0.5h-0.5zM209.8 545.7h0.5v0.5h-0.5zM196.8 538.7h0.5v0.5h-0.5zM171.7 527.5h0.5v0.5h-0.5zM222.4 530.2h0.5v0.5h-0.5zM229.9 498.5h0.5v0.5h-0.5zM190.0 500.0h0.5v0.5h-0.5zM188.6 516.3h0.5v0.5h-0.5zM222.1 546.8h0.5v0.5h-0.5zM176.9 551.9h0.5v0.5h-0.5zM195.4 487.2h0.5v0.5h-0.5zM224.1 496.5h0.5v0.5h-0.5zM190.6 551.6h0.5v0.5h-0.5zM204.8 494.7h0.5v0.5h-0.5zM196.5 503.4h0.5v0.5h-0.5z" fill="#666" opacity="0.8"/>
<clipPath id="cp8"><rect x="168.4" y="485" width="69.19999999999999" height="68"/></clipPath><g clip-path="url(#cp8)"><path d="M213.4 531.5 205.9 531.0 203.9 530.6 201.9 529.8 200.3 528.8 199.0 527.2 198.3 525.5 198.0 523.5 198.9 519.0 199.3 514.5 199.7 512.2 200.6 509.8 202.0 507.2 204.4 504.6 207.2 502.6 210.4 501.4 212.2 501.1 214.2 501.0 217.2 501.4 219.9 502.4 222.4 503.9 224.4 505.7 226.1 508.0 227.3 510.5 228.1 513.2 228.4 516.5 228.0 519.5 227.1 522.5 225.7 525.0 223.9 527.2 221.7 529.0 219.2 530.4 216.4 531.2 213.4 531.5M215.2 530.3 212.4 530.4 208.2 530.1 205.4 529.7 203.7 529.2 201.9 528.2 200.7 527.0 199.8 525.5 199.5 524.0 200.6 513.5 201.3 511.0 202.4 508.8 204.4 506.1 206.9 504.1 209.7 502.8 212.7 502.2 215.2 502.2 217.7 502.7 220.2 503.8 222.4 505.3 224.2 507.2 225.8 509.8 226.7 512.2 227.2 515.0 227.2 517.5 226.7 520.2 225.7 522.8 224.1 525.2 222.4 527.1 220.2 528.6 217.9 529.6 215.2 530.3M212.9 529.5 206.7 529.0 204.9 528.6 203.4 527.9 202.1 527.0 201.2 525.8 200.7 524.5 200.6 522.8 201.0 519.5 201.2 515.2 201.5 513.2 202.3 510.8 203.7 508.2 205.9 505.9 208.7 504.1 211.7 503.2 214.7 503.0 216.9 503.4 219.4 504.3 221.4 505.6 223.3 507.5 224.8 509.8 225.8 512.0 226.3 514.5 226.4 517.0 226.0 519.5 225.2 522.0 223.8 524.2 222.2 526.1 220.2 527.6 217.9 528.7 215.4 529.3 212.9 529.5M213.9 528.8 208.2 528.5 206.2 528.1 204.7 527.6 203.2 526.8 202.3 525.8 201.7 524.5 201.5 523.0 202.0 514.0 202.7 511.5 203.9 509.2 205.7 507.0 208.2 505.2 210.9 504.1 213.7 503.7 215.9 503.9 218.2 504.6 220.2 505.6 222.1 507.2 223.6 509.0 224.8 511.2 225.5 513.5 225.7 516.0 225.5 518.5 224.9 520.8 223.8 523.0 222.4 524.9 220.7 526.4 218.7 527.6 216.4 528.4 213.9 528.8M214.9 528.0 212.7 528.2 209.7 528.0 207.2 527.6 205.4 527.1 204.2 526.5 203.2 525.5 202.5 524.2 202.3 523.0 202.5 514.8 203.0 512.5 204.0 510.2 205.7 508.0 207.9 506.1 210.4 504.9 212.9 504.4 215.2 504.4 217.4 505.0 219.4 505.9 221.2 507.2 222.7 508.8 223.9 510.8 224.7 513.0 225.1 515.2 225.1 517.5 224.6 519.8 223.8 521.8 222.5 523.8 220.9 525.4 219.2 526.6 217.2 527.5 214.9 528.0M214.2 527.5 211.9 527.5 208.9 527.3 206.9 526.9 205.4 526.3 204.4 525.7 203.6 524.8 203.1 523.5 203.0 522.0 203.0 516.5 203.2 514.5 203.7 512.2 204.8 510.0 206.5 508.0 208.7 506.3 211.2 505.3 213.7 505.0 215.7 505.1 217.7 505.7 219.4 506.6 221.2 508.0 222.6 509.8 223.6 511.5 224.3 513.8 224.5 516.0 224.4 518.2 223.8 520.2 222.9 522.2 221.7 523.9 220.2 525.3 218.4 526.4 216.4 527.1 214.2 527.5M215.4 527.0 213.4 527.2 210.9 527.2 208.2 526.8 206.4 526.4 205.2 525.8 204.3 525.0 203.7 524.0 203.4 522.8 203.4 515.2 203.8 513.0 204.6 511.0 205.9 509.0 207.9 507.2 210.2 506.0 212.4 505.4 214.4 505.3 216.4 505.6 218.2 506.2 219.9 507.3 221.5 508.8 222.7 510.5 223.6 512.5 224.1 514.5 224.2 516.8 224.0 518.8 223.3 520.8 222.3 522.5 220.9 524.2 219.4 525.4 217.4 526.5 215.4 527.0M215.2 526.8 213.2 527.0 210.9 526.9 208.4 526.6 206.7 526.1 205.4 525.5 204.6 524.8 204.0 523.8 203.7 522.5 203.6 515.2 204.1 513.0 204.9 511.0 206.3 509.0 208.2 507.4 210.4 506.2 212.7 505.6 214.7 505.6 216.7 506.0 218.4 506.7 220.2 507.9 221.5 509.2 222.7 511.0 223.5 513.0 223.9 515.0 223.9 517.0 223.6 519.0 222.9 521.0 221.8 522.8 220.4 524.2 218.9 525.4 217.2 526.2 215.2 526.8M215.2 526.5 213.2 526.7 210.9 526.6 208.7 526.3 206.9 525.9 205.7 525.2 204.9 524.5 204.3 523.5 204.0 522.2 203.9 515.5 204.3 513.2 205.1 511.2 206.5 509.2 208.2 507.7 210.4 506.5 212.7 505.9 214.7 505.9 216.4 506.2 218.2 506.9 219.9 508.0 221.4 509.5 222.5 511.2 223.2 513.0 223.6 515.0 223.7 517.0 223.3 519.0 222.7 520.8 221.7 522.5 220.4 523.9 218.9 525.1 217.2 526.0 215.2 526.5M214.9 526.3 212.9 526.4 210.7 526.3 208.4 526.0 206.9 525.5 205.7 524.8 205.0 524.0 204.5 523.0 204.3 521.8 204.1 517.5 204.2 515.2 204.6 513.2 205.4 511.2 206.8 509.2 208.7 507.7 210.7 506.7 212.9 506.1 214.9 506.2 216.7 506.5 218.4 507.3 219.9 508.3 221.2 509.8 222.3 511.5 223.0 513.2 223.4 515.2 223.4 517.0 223.1 519.0 222.4 520.8 221.3 522.5 219.9 524.0 218.4 525.1 216.7 525.9 214.9 526.3M214.9 526.0 213.2 526.2 210.9 526.1 208.7 525.8 207.2 525.3 206.1 524.8 205.4 524.0 204.9 523.0 204.6 521.5 204.3 517.5 204.4 515.2 204.8 513.2 205.7 511.2 206.9 509.5 208.7 508.0 210.7 506.9 212.9 506.4 214.9 506.4 216.7 506.8 218.2 507.4 219.7 508.5 221.1 510.0 222.1 511.5 222.8 513.2 223.2 515.2 223.2 517.2 222.8 519.0 222.1 520.8 221.2 522.3 219.9 523.7 218.4 524.8 216.7 525.6 214.9 526.0M214.9 525.8 212.9 525.9 210.7 525.8 208.7 525.5 207.2 525.0 206.2 524.4 205.4 523.5 205.0 522.5 204.8 521.2 204.6 515.5 205.0 513.5 205.8 511.5 207.2 509.6 208.9 508.1 210.9 507.1 212.9 506.7 214.9 506.7 216.7 507.0 218.2 507.7 219.6 508.8 220.9 510.1 221.9 511.8 222.6 513.5 222.9 515.2 222.9 517.2 222.6 519.0 221.9 520.8 220.9 522.2 219.7 523.6 218.2 524.6 216.7 525.3 214.9 525.8M214.9 525.5 213.2 525.7 210.9 525.6 208.9 525.3 207.4 524.8 206.4 524.2 205.7 523.2 205.3 522.2 205.0 520.8 204.8 517.5 204.9 515.2 205.3 513.2 206.1 511.5 207.3 509.8 208.9 508.4 210.9 507.4 212.9 506.9 214.7 506.9 216.4 507.2 217.9 507.8 219.4 508.9 220.7 510.2 221.7 511.8 222.4 513.5 222.7 515.2 222.7 517.0 222.4 518.8 221.7 520.5 220.8 522.0 219.7 523.3 218.2 524.4 216.7 525.1 214.9 525.5M214.9 525.3 212.9 525.5 210.9 525.4 208.9 525.1 207.4 524.5 206.4 523.8 205.9 523.0 205.3 520.5 205.0 517.2 205.1 515.2 205.6 513.2 206.3 511.5 207.7 509.8 209.2 508.5 210.9 507.6 212.9 507.1 214.7 507.1 216.4 507.4 217.9 508.1 219.2 508.9 220.4 510.2 221.4 511.8 222.1 513.5 222.5 515.2 222.5 517.0 222.2 518.8 221.6 520.2 220.7 521.8 219.6 523.0 218.2 524.1 216.7 524.8 214.9 525.3M212.7 525.3 210.4 525.1 208.7 524.7 207.4 524.2 206.4 523.2 205.9 522.2 205.5 520.5 205.3 517.2 205.4 515.0 205.8 513.2 206.5 511.8 207.4 510.4 208.7 509.2 210.2 508.2 211.7 507.6 213.4 507.3 215.2 507.4 216.7 507.8 218.2 508.5 219.4 509.5 220.5 510.8 221.4 512.2 222.0 514.0 222.3 515.8 222.2 517.5 221.8 519.2 221.1 520.8 220.2 522.1 218.9 523.2 217.7 524.1 216.2 524.7 214.4 525.1 212.7 525.3M213.4 525.0 211.2 525.0 209.2 524.6 207.7 524.0 206.8 523.2 206.2 522.2 205.9 521.0 205.5 518.2 205.5 516.0 205.7 514.2 206.3 512.5 207.2 511.0 208.3 509.8 209.7 508.7 211.2 508.0 212.7 507.6 214.4 507.6 215.9 507.8 217.4 508.3 218.7 509.1 219.9 510.3 220.9 511.8 221.6 513.2 222.0 515.0 222.0 516.8 221.8 518.5 221.2 520.0 220.4 521.4 219.4 522.5 218.2 523.5 216.7 524.3 215.2 524.8 213.4 525.0M213.7 524.8 211.7 524.8 209.7 524.5 208.2 523.9 207.2 523.2 206.5 522.2 206.1 521.0 205.8 518.5 205.7 516.2 205.9 514.5 206.5 512.8 207.3 511.2 208.4 510.0 209.7 509.0 211.2 508.3 212.7 507.9 214.4 507.8 215.9 508.0 217.4 508.5 218.7 509.4 219.7 510.4 220.6 511.8 221.3 513.2 221.7 514.8 221.8 516.5 221.6 518.0 221.2 519.6 220.4 521.0 219.4 522.2 218.2 523.2 216.9 524.0 215.4 524.5 213.7 524.8M213.9 524.5 211.9 524.6 209.9 524.3 208.4 523.8 207.4 523.0 206.8 522.2 206.4 521.0 205.9 516.5 206.1 514.8 206.6 513.0 207.4 511.5 208.4 510.3 209.7 509.3 211.2 508.5 212.7 508.1 214.2 508.0 215.7 508.2 216.9 508.6 218.2 509.3 219.3 510.2 220.2 511.5 221.0 513.0 221.4 514.5 221.6 516.2 221.5 517.8 221.0 519.2 220.4 520.6 219.4 521.9 218.2 523.0 216.9 523.7 215.4 524.2 213.9 524.5M213.9 524.3 211.9 524.3 210.2 524.1 208.7 523.6 207.7 522.9 207.0 522.0 206.6 520.8 206.2 516.5 206.3 514.8 206.8 513.2 207.4 512.0 208.4 510.6 209.7 509.6 210.9 508.9 212.4 508.4 214.2 508.2 215.7 508.4 216.9 508.8 218.1 509.5 219.2 510.4 220.1 511.8 220.8 513.2 221.2 514.8 221.4 516.2 221.2 517.8 220.8 519.2 220.2 520.5 219.2 521.8 218.2 522.7 216.9 523.4 215.4 524.0 213.9 524.3M214.2 524.0 212.2 524.1 210.4 523.9 209.1 523.5 208.0 522.8 207.4 522.0 206.9 520.8 206.4 516.8 206.5 515.0 206.9 513.5 207.7 512.0 208.6 510.8 209.8 509.8 211.2 509.0 212.7 508.6 214.2 508.5 215.7 508.6 216.9 509.0 217.9 509.6 218.9 510.5 219.9 511.8 220.6 513.2 221.0 514.8 221.1 516.2 221.0 517.8 220.6 519.0 220.0 520.2 219.2 521.5 218.2 522.4 216.9 523.2 214.2 524.0M214.2 523.8 212.4 523.9 210.7 523.7 209.2 523.2 208.2 522.5 207.6 521.8 207.1 520.5 206.6 516.8 206.8 515.0 207.2 513.6 207.8 512.2 208.7 511.0 209.9 510.0 211.2 509.3 212.7 508.8 214.2 508.7 215.7 508.8 216.9 509.2 217.9 509.9 218.8 510.8 219.7 512.0 220.3 513.2 220.8 514.8 220.9 516.2 220.7 517.8 220.4 519.0 219.0 521.2 217.9 522.2 216.9 522.9 215.7 523.4 214.2 523.8M214.2 523.5 212.4 523.7 210.8 523.5 209.4 523.0 208.4 522.3 207.8 521.5 207.3 520.2 206.9 516.5 207.0 515.0 207.4 513.5 208.2 512.1 209.1 511.0 210.2 510.1 211.4 509.5 212.9 509.0 214.4 508.9 215.7 509.1 216.9 509.5 217.9 510.1 218.8 511.0 219.6 512.2 220.2 513.5 220.5 514.8 220.7 516.2 220.2 518.8 218.9 521.0 216.9 522.6 215.7 523.2 214.2 523.5M214.2 523.3 212.4 523.4 210.9 523.3 209.7 522.8 208.7 522.1 208.0 521.2 207.5 520.0 207.1 516.5 207.3 515.0 207.7 513.7 208.4 512.2 209.2 511.2 210.2 510.4 211.4 509.8 212.9 509.3 214.4 509.2 216.7 509.6 217.7 510.2 218.5 511.0 219.4 512.2 219.9 513.5 220.3 514.8 220.4 516.2 219.9 518.8 218.7 520.9 216.7 522.5 214.2 523.3M214.2 523.0 212.7 523.2 211.2 523.1 209.9 522.7 208.9 522.0 208.2 521.0 207.8 519.8 207.5 518.0 207.4 516.2 207.6 514.8 208.0 513.5 208.7 512.2 209.6 511.2 210.7 510.4 211.9 509.8 213.2 509.5 214.7 509.4 215.9 509.6 216.9 510.0 217.9 510.7 218.6 511.5 219.4 512.8 219.8 514.0 220.1 516.5 219.6 518.8 218.4 520.8 216.5 522.2 214.2 523.0M214.2 522.8 212.7 522.9 211.2 522.8 209.9 522.3 209.1 521.8 208.6 521.0 208.1 519.8 207.7 518.0 207.7 516.2 207.9 514.8 208.3 513.5 209.1 512.2 209.9 511.4 210.9 510.6 212.2 510.0 213.7 509.7 214.9 509.6 216.9 510.2 218.4 511.6 219.6 514.0 219.9 516.5 219.3 518.8 218.2 520.6 216.4 522.0 214.2 522.8M214.2 522.5 212.7 522.7 211.4 522.6 210.3 522.2 209.4 521.6 208.8 520.8 208.3 519.5 208.0 518.0 208.0 516.2 208.2 514.8 208.7 513.5 209.3 512.5 210.2 511.5 211.2 510.8 212.4 510.2 213.7 509.9 214.9 509.9 216.7 510.3 217.6 511.0 218.2 511.8 219.3 514.0 219.6 516.5 219.1 518.5 217.9 520.4 216.2 521.8 214.2 522.5M213.9 522.3 212.7 522.4 211.4 522.3 210.4 522.0 209.5 521.2 208.9 520.2 208.5 519.0 208.3 516.0 208.9 513.7 209.5 512.8 210.4 511.7 211.4 511.0 212.7 510.5 213.9 510.2 215.2 510.1 216.9 510.8 218.3 512.2 219.1 514.5 219.2 516.8 218.7 518.8 217.7 520.3 216.0 521.5 213.9 522.3M213.9 522.0 212.7 522.2 211.4 522.1 210.4 521.6 209.7 521.0 209.2 520.1 208.8 519.0 208.6 516.0 209.3 513.8 210.7 512.0 211.7 511.2 212.9 510.7 215.2 510.4 216.9 511.0 218.0 512.2 218.8 514.2 218.9 516.5 218.4 518.5 217.4 520.0 215.9 521.2 213.9 522.0M213.7 521.8 212.4 521.9 211.4 521.8 210.7 521.4 209.9 520.8 209.4 519.8 209.0 518.5 209.0 515.8 209.7 513.8 211.2 512.0 212.3 511.2 213.4 510.8 215.4 510.7 216.9 511.3 218.0 512.8 218.6 514.8 218.6 516.8 218.0 518.5 217.0 520.0 215.4 521.2 213.7 521.8M213.7 521.5 212.7 521.6 211.7 521.5 210.9 521.2 210.2 520.5 209.7 519.6 209.4 518.5 209.3 516.0 210.0 514.0 211.4 512.2 213.4 511.1 214.4 510.9 215.4 510.9 216.7 511.5 217.7 512.8 218.3 514.5 218.3 516.5 217.7 518.2 216.7 519.8 215.4 520.8 213.7 521.5M213.4 521.3 211.7 521.2 210.9 520.8 210.3 520.2 209.7 518.5 209.7 516.0 210.4 514.0 211.7 512.5 213.7 511.3 215.4 511.2 216.7 511.7 217.6 513.0 218.0 514.8 217.9 516.5 217.3 518.2 216.4 519.6 214.9 520.7 213.4 521.3M213.2 521.0 212.2 521.0 211.4 520.8 210.4 519.8 210.0 518.0 210.1 515.8 210.9 514.0 212.1 512.5 213.9 511.5 215.4 511.4 216.6 512.0 217.4 513.2 217.7 514.8 217.6 516.5 217.1 518.0 216.0 519.5 214.7 520.5 213.2 521.0M212.9 520.8 211.6 520.5 210.7 519.5 210.3 517.8 210.6 515.5 211.5 513.8 212.7 512.5 214.2 511.7 215.7 511.8 216.7 512.5 217.2 513.5 217.4 515.0 217.2 516.8 216.5 518.2 215.5 519.5 214.2 520.4 212.9 520.8M213.7 520.3 212.2 520.4 211.2 519.7 210.6 518.2 210.7 516.2 211.4 514.5 212.5 513.0 213.9 512.1 215.4 512.0 216.3 512.5 216.9 513.4 217.2 514.5 217.1 516.0 216.6 517.5 215.8 518.8 214.7 519.8 213.7 520.3M213.7 520.0 212.4 520.1 211.4 519.5 210.9 518.2 211.0 516.5 211.6 514.8 212.7 513.3 213.9 512.4 215.2 512.2 216.2 512.7 216.7 513.5 216.9 514.5 216.8 515.8 216.4 517.2 215.7 518.4 214.7 519.5 213.7 520.0M213.4 519.8 212.4 519.7 211.5 519.0 211.2 517.8 211.3 516.2 211.9 514.8 212.9 513.4 213.9 512.7 215.2 512.5 215.9 512.9 216.5 513.8 216.6 514.8 216.5 516.0 216.0 517.2 215.2 518.5 214.4 519.3 213.4 519.8M213.7 519.3 212.7 519.4 211.9 518.9 211.5 518.0 211.6 516.5 212.1 515.0 213.0 513.8 214.2 512.9 215.2 512.8 215.8 513.2 216.2 514.0 216.4 515.0 216.2 516.0 215.7 517.2 215.2 518.2 214.4 518.9 213.7 519.3M213.4 519.1 212.6 519.0 211.9 518.2 211.8 517.2 212.0 516.0 212.6 514.8 213.4 513.7 214.4 513.2 215.2 513.2 215.7 513.6 216.0 514.2 216.1 515.2 215.9 516.2 214.9 518.0 214.2 518.7 213.4 519.1M213.7 518.6 212.9 518.6 212.4 518.2 212.1 517.5 212.2 516.2 212.7 515.2 213.4 514.1 214.2 513.6 214.9 513.5 215.4 513.8 215.7 514.2 215.8 515.0 215.7 516.0 214.9 517.6 213.7 518.6M213.9 518.1 213.2 518.2 212.8 518.0 212.5 517.5 212.5 516.5 212.8 515.5 213.4 514.6 214.2 514.0 214.7 513.9 215.2 514.2 215.4 514.5 215.4 515.8 214.9 517.0 213.9 518.1M213.9 517.5 213.4 517.7 213.1 517.5 212.9 517.0 212.9 516.2 213.7 514.9 214.2 514.5 214.7 514.5 215.0 515.0 215.0 516.0 214.7 516.8 213.9 517.5" fill="none" stroke="#000" stroke-width="0.7" stroke-linejoin="round"/></g>
<path d="M212.6 520 C213.2 516 214.5 513 216 511" stroke="#fff" stroke-width="1.1" fill="none" stroke-linecap="round"/>
<path d="M170.0 553.0v1.5M172.2 553.0v1.5M174.4 553.0v1.5M176.6 553.0v1.5M178.8 553.0v1.5M181.0 553.0v1.5M183.2 553.0v1.5M185.4 553.0v1.5M187.6 553.0v1.5M189.8 553.0v1.5M192.0 553.0v1.5M194.2 553.0v1.5M196.4 553.0v1.5M198.6 553.0v1.5M200.8 553.0v1.5M203.0 553.0v1.5M205.2 553.0v1.5M207.4 553.0v1.5M209.6 553.0v1.5M211.8 553.0v1.5M214.0 553.0v1.5M216.2 553.0v1.5M218.4 553.0v1.5M220.6 553.0v1.5M222.8 553.0v1.5M225.0 553.0v1.5M227.2 553.0v1.5M229.4 553.0v1.5M231.6 553.0v1.5M233.8 553.0v1.5M236.0 553.0v1.5" stroke="#777" stroke-width="0.5" fill="none"/>
<path d="M172 553.4 h9" stroke="#222" stroke-width="1.2"/>
<rect x="53.50" y="363.80" width="67.30" height="68.20" fill="none" stroke="#777" stroke-width="0.8" />
<text transform="translate(49.20 370.80) scale(0.85 1)" font-size="9.3" fill="#333" text-anchor="end" stroke="#333" stroke-width="0.25" >250K</text>
<text transform="translate(49.20 382.30) scale(0.85 1)" font-size="9.3" fill="#333" text-anchor="end" stroke="#333" stroke-width="0.25" >200K</text>
<text transform="translate(49.20 394.80) scale(0.85 1)" font-size="9.3" fill="#333" text-anchor="end" stroke="#333" stroke-width="0.25" >150K</text>
<text transform="translate(49.20 408.10) scale(0.85 1)" font-size="9.3" fill="#333" text-anchor="end" stroke="#333" stroke-width="0.25" >100K</text>
<text transform="translate(49.20 421.70) scale(0.85 1)" font-size="9.3" fill="#333" text-anchor="end" stroke="#333" stroke-width="0.25" >50K</text>
<text transform="translate(49.20 434.60) scale(0.85 1)" font-size="9.3" fill="#333" text-anchor="end" stroke="#333" stroke-width="0.25" >0</text>
<text transform="translate(57.30 444.40) scale(0.85 1)" font-size="9.3" fill="#333" text-anchor="middle" stroke="#333" stroke-width="0.25" >0</text>
<text transform="translate(69.70 444.40) scale(0.85 1)" font-size="9.3" fill="#333" text-anchor="middle" stroke="#333" stroke-width="0.25" >10<tspan dy="-3.6" font-size="6.4">2</tspan></text>
<text transform="translate(84.10 444.40) scale(0.85 1)" font-size="9.3" fill="#333" text-anchor="middle" stroke="#333" stroke-width="0.25" >10<tspan dy="-3.6" font-size="6.4">3</tspan></text>
<text transform="translate(98.50 444.40) scale(0.85 1)" font-size="9.3" fill="#333" text-anchor="middle" stroke="#333" stroke-width="0.25" >10<tspan dy="-3.6" font-size="6.4">4</tspan></text>
<text transform="translate(113.90 444.40) scale(0.85 1)" font-size="9.3" fill="#333" text-anchor="middle" stroke="#333" stroke-width="0.25" >10<tspan dy="-3.6" font-size="6.4">5</tspan></text>
<line x1="21.30" y1="453.80" x2="21.30" y2="430.30" stroke="#222" stroke-width="1.1" />
<line x1="20.75" y1="453.80" x2="55.50" y2="453.80" stroke="#222" stroke-width="1.1" />
<polygon points="21.30,426.30 18.70,432.30 23.90,432.30" fill="#222"/>
<polygon points="59.50,453.80 53.50,451.20 53.50,456.40" fill="#222"/>
<text transform="translate(24.90 425.50) rotate(-90)" font-size="10" fill="#222" textLength="20.5" lengthAdjust="spacingAndGlyphs" stroke="#222" stroke-width="0.22" >FSC-A</text>
<text transform="translate(62.50 457.40)" font-size="9.6" fill="#222" textLength="27" lengthAdjust="spacingAndGlyphs" stroke="#222" stroke-width="0.22" >Lineage</text>
<rect x="53.50" y="372.50" width="43.80" height="42.90" fill="none" stroke="#2b2bf0" stroke-width="0.95" />
<text transform="translate(58.50 389.80)" font-size="8.4" fill="#2b2bf0" textLength="30" lengthAdjust="spacingAndGlyphs" stroke="#2b2bf0" stroke-width="0.22" >Lineage<tspan dy="-3" font-size="5">-</tspan></text>
<text transform="translate(60.80 399.40)" font-size="8.4" fill="#2b2bf0" textLength="22.5" lengthAdjust="spacingAndGlyphs" stroke="#2b2bf0" stroke-width="0.22" >3.66%</text>
<line x1="97.30" y1="374.60" x2="160.50" y2="374.60" stroke="#2b2bf0" stroke-width="0.95" />
<polygon points="166.60,374.60 160.60,372.00 160.60,377.20" fill="#2b2bf0"/>
<rect x="168.00" y="363.90" width="67.80" height="67.30" fill="none" stroke="#777" stroke-width="0.8" />
<text transform="translate(164.20 374.00) scale(0.85 1)" font-size="9.3" fill="#333" text-anchor="end" stroke="#333" stroke-width="0.25" >10<tspan dy="-3.6" font-size="6.4">5</tspan></text>
<text transform="translate(164.20 389.80) scale(0.85 1)" font-size="9.3" fill="#333" text-anchor="end" stroke="#333" stroke-width="0.25" >10<tspan dy="-3.6" font-size="6.4">4</tspan></text>
<text transform="translate(164.20 408.40) scale(0.85 1)" font-size="9.3" fill="#333" text-anchor="end" stroke="#333" stroke-width="0.25" >10<tspan dy="-3.6" font-size="6.4">3</tspan></text>
<text transform="translate(164.20 419.40) scale(0.85 1)" font-size="9.3" fill="#333" text-anchor="end" stroke="#333" stroke-width="0.25" >0</text>
<text transform="translate(164.20 433.10) scale(0.85 1)" font-size="9.3" fill="#333" text-anchor="end" stroke="#333" stroke-width="0.25" >-10<tspan dy="-3.6" font-size="6.4">3</tspan></text>
<text transform="translate(172.45 444.00) scale(0.85 1)" font-size="9.3" fill="#333" text-anchor="middle" stroke="#333" stroke-width="0.25" >-10<tspan dy="-3.6" font-size="6.4">3</tspan></text>
<text transform="translate(182.90 444.00) scale(0.85 1)" font-size="9.3" fill="#333" text-anchor="middle" stroke="#333" stroke-width="0.25" >0</text>
<text transform="translate(196.80 444.00) scale(0.85 1)" font-size="9.3" fill="#333" text-anchor="middle" stroke="#333" stroke-width="0.25" >10<tspan dy="-3.6" font-size="6.4">3</tspan></text>
<text transform="translate(213.70 444.00) scale(0.85 1)" font-size="9.3" fill="#333" text-anchor="middle" stroke="#333" stroke-width="0.25" >10<tspan dy="-3.6" font-size="6.4">4</tspan></text>
<text transform="translate(229.60 444.00) scale(0.85 1)" font-size="9.3" fill="#333" text-anchor="middle" stroke="#333" stroke-width="0.25" >10<tspan dy="-3.6" font-size="6.4">5</tspan></text>
<line x1="138.90" y1="454.40" x2="138.90" y2="431.00" stroke="#222" stroke-width="1.1" />
<line x1="138.35" y1="454.40" x2="173.60" y2="454.40" stroke="#222" stroke-width="1.1" />
<polygon points="138.90,427.00 136.30,433.00 141.50,433.00" fill="#222"/>
<polygon points="177.60,454.40 171.60,451.80 171.60,457.00" fill="#222"/>
<text transform="translate(142.50 425.00) rotate(-90)" font-size="10" fill="#222" textLength="16.5" lengthAdjust="spacingAndGlyphs" stroke="#222" stroke-width="0.22" >C-Kit</text>
<text transform="translate(179.70 457.90)" font-size="9.8" fill="#222" textLength="18.2" lengthAdjust="spacingAndGlyphs" stroke="#222" stroke-width="0.22" >Sca-1</text>
<rect x="168.00" y="367.70" width="42.00" height="20.10" fill="none" stroke="#2b2bf0" stroke-width="0.95" />
<rect x="210.00" y="367.70" width="25.80" height="20.10" fill="none" stroke="#2b2bf0" stroke-width="0.95" />
<text transform="translate(184.00 376.20)" font-size="8.4" fill="#2b2bf0" textLength="10.5" lengthAdjust="spacingAndGlyphs" stroke="#2b2bf0" stroke-width="0.22" >LK</text>
<text transform="translate(175.50 386.30)" font-size="8.4" fill="#2b2bf0" textLength="22.5" lengthAdjust="spacingAndGlyphs" stroke="#2b2bf0" stroke-width="0.22" >15.4%</text>
<text transform="translate(212.00 375.20)" font-size="8.4" fill="#2b2bf0" textLength="15" lengthAdjust="spacingAndGlyphs" stroke="#2b2bf0" stroke-width="0.22" >LSK</text>
<text transform="translate(211.40 385.70)" font-size="8.4" fill="#2b2bf0" textLength="22.5" lengthAdjust="spacingAndGlyphs" stroke="#2b2bf0" stroke-width="0.22" >1.96%</text>
<line x1="219.50" y1="387.80" x2="219.50" y2="474.60" stroke="#2b2bf0" stroke-width="0.95" />
<line x1="87.30" y1="474.60" x2="220.00" y2="474.60" stroke="#2b2bf0" stroke-width="0.95" />
<line x1="87.30" y1="474.10" x2="87.30" y2="478.00" stroke="#2b2bf0" stroke-width="0.95" />
<polygon points="87.30,483.00 84.70,477.00 89.90,477.00" fill="#2b2bf0"/>
<rect x="53.40" y="484.30" width="69.20" height="68.30" fill="none" stroke="#777" stroke-width="0.8" />
<text transform="translate(48.20 495.10) scale(0.85 1)" font-size="9.3" fill="#333" text-anchor="end" stroke="#333" stroke-width="0.25" >10<tspan dy="-3.6" font-size="6.4">5</tspan></text>
<text transform="translate(48.20 511.10) scale(0.85 1)" font-size="9.3" fill="#333" text-anchor="end" stroke="#333" stroke-width="0.25" >10<tspan dy="-3.6" font-size="6.4">4</tspan></text>
<text transform="translate(48.20 529.60) scale(0.85 1)" font-size="9.3" fill="#333" text-anchor="end" stroke="#333" stroke-width="0.25" >10<tspan dy="-3.6" font-size="6.4">3</tspan></text>
<text transform="translate(48.20 540.50) scale(0.85 1)" font-size="9.3" fill="#333" text-anchor="end" stroke="#333" stroke-width="0.25" >0</text>
<text transform="translate(48.20 553.90) scale(0.85 1)" font-size="9.3" fill="#333" text-anchor="end" stroke="#333" stroke-width="0.25" >-10<tspan dy="-3.6" font-size="6.4">3</tspan></text>
<text transform="translate(58.50 564.80) scale(0.85 1)" font-size="9.3" fill="#333" text-anchor="middle" stroke="#333" stroke-width="0.25" >-10<tspan dy="-3.6" font-size="6.4">3</tspan></text>
<text transform="translate(68.80 564.80) scale(0.85 1)" font-size="9.3" fill="#333" text-anchor="middle" stroke="#333" stroke-width="0.25" >0</text>
<text transform="translate(81.60 564.80) scale(0.85 1)" font-size="9.3" fill="#333" text-anchor="middle" stroke="#333" stroke-width="0.25" >10<tspan dy="-3.6" font-size="6.4">3</tspan></text>
<text transform="translate(100.00 564.80) scale(0.85 1)" font-size="9.3" fill="#333" text-anchor="middle" stroke="#333" stroke-width="0.25" >10<tspan dy="-3.6" font-size="6.4">4</tspan></text>
<text transform="translate(116.20 564.80) scale(0.85 1)" font-size="9.3" fill="#333" text-anchor="middle" stroke="#333" stroke-width="0.25" >10<tspan dy="-3.6" font-size="6.4">5</tspan></text>
<line x1="24.50" y1="575.70" x2="24.50" y2="551.30" stroke="#222" stroke-width="1.1" />
<line x1="23.95" y1="575.70" x2="55.00" y2="575.70" stroke="#222" stroke-width="1.1" />
<polygon points="24.50,547.30 21.90,553.30 27.10,553.30" fill="#222"/>
<polygon points="59.00,575.70 53.00,573.10 53.00,578.30" fill="#222"/>
<text transform="translate(28.10 541.50) rotate(-90)" font-size="10" fill="#222" textLength="19.0" lengthAdjust="spacingAndGlyphs" stroke="#222" stroke-width="0.22" >CD48</text>
<text transform="translate(62.60 578.80)" font-size="9.8" fill="#222" textLength="24.5" lengthAdjust="spacingAndGlyphs" stroke="#222" stroke-width="0.22" >CD150</text>
<rect x="53.40" y="485.70" width="69.20" height="33.90" fill="none" stroke="#2b2bf0" stroke-width="0.95" />
<rect x="53.40" y="522.00" width="41.60" height="30.60" fill="none" stroke="#2b2bf0" stroke-width="0.95" />
<rect x="95.00" y="522.00" width="27.60" height="30.60" fill="none" stroke="#2b2bf0" stroke-width="0.95" />
<text transform="translate(81.00 496.50)" font-size="8.4" fill="#2b2bf0" textLength="12" lengthAdjust="spacingAndGlyphs" stroke="#2b2bf0" stroke-width="0.22" >MP</text>
<text transform="translate(77.00 507.00)" font-size="8.4" fill="#2b2bf0" textLength="22.5" lengthAdjust="spacingAndGlyphs" stroke="#2b2bf0" stroke-width="0.22" >75.1%</text>
<text transform="translate(67.20 531.80)" font-size="8.4" fill="#2b2bf0" textLength="17" lengthAdjust="spacingAndGlyphs" stroke="#2b2bf0" stroke-width="0.22" >MPP</text>
<text transform="translate(63.50 541.50)" font-size="8.4" fill="#2b2bf0" textLength="22.5" lengthAdjust="spacingAndGlyphs" stroke="#2b2bf0" stroke-width="0.22" >12.2%</text>
<text transform="translate(101.80 533.50)" font-size="8.4" fill="#2b2bf0" textLength="16" lengthAdjust="spacingAndGlyphs" stroke="#2b2bf0" stroke-width="0.22" >HSC</text>
<text transform="translate(98.20 542.70)" font-size="8.4" fill="#2b2bf0" textLength="22.5" lengthAdjust="spacingAndGlyphs" stroke="#2b2bf0" stroke-width="0.22" >10.1%</text>
<line x1="122.60" y1="521.00" x2="132.65" y2="510.01" stroke="#2b2bf0" stroke-width="0.95" />
<polygon points="136.50,505.80 134.37,511.98 130.53,508.47" fill="#2b2bf0"/>
<rect x="168.40" y="485.00" width="69.20" height="68.00" fill="none" stroke="#777" stroke-width="0.8" />
<text transform="translate(163.40 490.40) scale(0.85 1)" font-size="9.3" fill="#333" text-anchor="end" stroke="#333" stroke-width="0.25" >250K</text>
<text transform="translate(163.40 503.60) scale(0.85 1)" font-size="9.3" fill="#333" text-anchor="end" stroke="#333" stroke-width="0.25" >200K</text>
<text transform="translate(163.40 516.90) scale(0.85 1)" font-size="9.3" fill="#333" text-anchor="end" stroke="#333" stroke-width="0.25" >150K</text>
<text transform="translate(163.40 530.10) scale(0.85 1)" font-size="9.3" fill="#333" text-anchor="end" stroke="#333" stroke-width="0.25" >100K</text>
<text transform="translate(163.40 543.10) scale(0.85 1)" font-size="9.3" fill="#333" text-anchor="end" stroke="#333" stroke-width="0.25" >50K</text>
<text transform="translate(163.40 555.70) scale(0.85 1)" font-size="9.3" fill="#333" text-anchor="end" stroke="#333" stroke-width="0.25" >0</text>
<text transform="translate(172.30 565.20) scale(0.85 1)" font-size="9.3" fill="#333" text-anchor="middle" stroke="#333" stroke-width="0.25" >0</text>
<text transform="translate(185.00 565.20) scale(0.85 1)" font-size="9.3" fill="#333" text-anchor="middle" stroke="#333" stroke-width="0.25" >10<tspan dy="-3.6" font-size="6.4">2</tspan></text>
<text transform="translate(201.20 565.20) scale(0.85 1)" font-size="9.3" fill="#333" text-anchor="middle" stroke="#333" stroke-width="0.25" >10<tspan dy="-3.6" font-size="6.4">3</tspan></text>
<text transform="translate(216.70 565.20) scale(0.85 1)" font-size="9.3" fill="#333" text-anchor="middle" stroke="#333" stroke-width="0.25" >10<tspan dy="-3.6" font-size="6.4">4</tspan></text>
<text transform="translate(232.40 565.20) scale(0.85 1)" font-size="9.3" fill="#333" text-anchor="middle" stroke="#333" stroke-width="0.25" >10<tspan dy="-3.6" font-size="6.4">5</tspan></text>
<line x1="135.00" y1="576.60" x2="135.00" y2="550.00" stroke="#222" stroke-width="1.1" />
<line x1="134.45" y1="576.60" x2="174.00" y2="576.60" stroke="#222" stroke-width="1.1" />
<polygon points="135.00,546.00 132.40,552.00 137.60,552.00" fill="#222"/>
<polygon points="178.00,576.60 172.00,574.00 172.00,579.20" fill="#222"/>
<text transform="translate(138.60 542.00) rotate(-90)" font-size="10" fill="#222" textLength="19.399999999999977" lengthAdjust="spacingAndGlyphs" stroke="#222" stroke-width="0.22" >FSC-A</text>
<text transform="translate(181.50 579.30)" font-size="9.8" fill="#222" textLength="22.5" lengthAdjust="spacingAndGlyphs" stroke="#222" stroke-width="0.22" >TMRM</text>
<rect x="185.70" y="491.20" width="27.00" height="45.30" fill="none" stroke="#2b2bf0" stroke-width="0.9" />
<rect x="217.30" y="491.20" width="18.50" height="45.30" fill="none" stroke="#2b2bf0" stroke-width="0.9" />
<text transform="translate(175.30 543.40)" font-size="7.2" fill="#2b2bf0" textLength="24" lengthAdjust="spacingAndGlyphs" stroke="#2b2bf0" stroke-width="0.22" >TMRM<tspan dy="-2.6" font-size="4.5">low</tspan></text>
<text transform="translate(175.30 551.20)" font-size="7.2" fill="#2b2bf0" textLength="22" lengthAdjust="spacingAndGlyphs" stroke="#2b2bf0" stroke-width="0.22" >~33.3%</text>
<text transform="translate(210.90 543.80)" font-size="7.2" fill="#2b2bf0" textLength="25" lengthAdjust="spacingAndGlyphs" stroke="#2b2bf0" stroke-width="0.22" >TMRM<tspan dy="-2.6" font-size="4.5">high</tspan></text>
<text transform="translate(211.50 551.60)" font-size="7.2" fill="#2b2bf0" textLength="22" lengthAdjust="spacingAndGlyphs" stroke="#2b2bf0" stroke-width="0.22" >~33.3%</text>
<text transform="translate(255.20 348.70)" font-size="12" fill="#000" font-weight="bold" >F</text>
<text transform="translate(297.60 386.20)" font-size="10" fill="#222" textLength="93.2" lengthAdjust="spacingAndGlyphs" stroke="#222" stroke-width="0.08" >TMRM<tspan dy="-3.8" font-size="6.5">high</tspan><tspan dy="3.8">/TMRM</tspan><tspan dy="-3.8" font-size="6.5">Low</tspan></text>
<text transform="translate(343.70 394.80)" font-size="7.2" fill="#333" text-anchor="middle" textLength="18" lengthAdjust="spacingAndGlyphs" stroke="#333" stroke-width="0.08" >(n=6)</text>
<line x1="293.30" y1="461.20" x2="394.10" y2="461.20" stroke="#c8304a" stroke-width="1.1" stroke-dasharray="1.1 1.3"/>
<line x1="292.80" y1="416.50" x2="292.80" y2="503.50" stroke="#222" stroke-width="1.1" />
<line x1="292.30" y1="503.00" x2="394.70" y2="503.00" stroke="#222" stroke-width="1.1" />
<line x1="289.80" y1="417.80" x2="292.80" y2="417.80" stroke="#222" stroke-width="1" />
<text transform="translate(287.40 420.70)" font-size="8.8" fill="#333" text-anchor="end" stroke="#333" stroke-width="0.08" >2.0</text>
<line x1="289.80" y1="439.20" x2="292.80" y2="439.20" stroke="#222" stroke-width="1" />
<text transform="translate(287.40 442.10)" font-size="8.8" fill="#333" text-anchor="end" stroke="#333" stroke-width="0.08" >1.5</text>
<line x1="289.80" y1="460.50" x2="292.80" y2="460.50" stroke="#222" stroke-width="1" />
<text transform="translate(287.40 463.40)" font-size="8.8" fill="#333" text-anchor="end" stroke="#333" stroke-width="0.08" >1.0</text>
<line x1="289.80" y1="482.00" x2="292.80" y2="482.00" stroke="#222" stroke-width="1" />
<text transform="translate(287.40 484.90)" font-size="8.8" fill="#333" text-anchor="end" stroke="#333" stroke-width="0.08" >0.5</text>
<line x1="289.80" y1="502.70" x2="292.80" y2="502.70" stroke="#222" stroke-width="1" />
<text transform="translate(287.40 505.60)" font-size="8.8" fill="#333" text-anchor="end" stroke="#333" stroke-width="0.08" >0.0</text>
<line x1="310.80" y1="503.00" x2="310.80" y2="506.00" stroke="#222" stroke-width="1" />
<line x1="310.80" y1="465.30" x2="310.80" y2="481.20" stroke="#222" stroke-width="1.0" />
<line x1="307.55" y1="465.30" x2="314.05" y2="465.30" stroke="#222" stroke-width="1.0" />
<line x1="307.55" y1="481.20" x2="314.05" y2="481.20" stroke="#222" stroke-width="1.0" />
<line x1="304.30" y1="473.80" x2="317.30" y2="473.80" stroke="#222" stroke-width="1.3" />
<circle cx="310.80" cy="457.20" r="1.7" fill="#111"/>
<circle cx="310.80" cy="475.00" r="1.7" fill="#111"/>
<circle cx="310.80" cy="477.00" r="1.7" fill="#111"/>
<circle cx="310.80" cy="478.50" r="1.7" fill="#111"/>
<line x1="328.50" y1="503.00" x2="328.50" y2="506.00" stroke="#222" stroke-width="1" />
<line x1="328.50" y1="456.50" x2="328.50" y2="474.30" stroke="#222" stroke-width="1.0" />
<line x1="325.25" y1="456.50" x2="331.75" y2="456.50" stroke="#222" stroke-width="1.0" />
<line x1="325.25" y1="474.30" x2="331.75" y2="474.30" stroke="#222" stroke-width="1.0" />
<line x1="322.00" y1="465.80" x2="335.00" y2="465.80" stroke="#222" stroke-width="1.3" />
<circle cx="328.50" cy="449.60" r="1.7" fill="#111"/>
<circle cx="328.50" cy="463.50" r="1.7" fill="#111"/>
<circle cx="328.50" cy="470.40" r="1.7" fill="#111"/>
<circle cx="328.50" cy="473.40" r="1.7" fill="#111"/>
<line x1="345.80" y1="503.00" x2="345.80" y2="506.00" stroke="#222" stroke-width="1" />
<line x1="345.80" y1="460.50" x2="345.80" y2="475.70" stroke="#222" stroke-width="1.0" />
<line x1="342.55" y1="460.50" x2="349.05" y2="460.50" stroke="#222" stroke-width="1.0" />
<line x1="342.55" y1="475.70" x2="349.05" y2="475.70" stroke="#222" stroke-width="1.0" />
<line x1="339.30" y1="468.30" x2="352.30" y2="468.30" stroke="#222" stroke-width="1.3" />
<circle cx="345.80" cy="458.20" r="1.7" fill="#111"/>
<circle cx="345.80" cy="461.00" r="1.7" fill="#111"/>
<circle cx="345.80" cy="466.00" r="1.7" fill="#111"/>
<circle cx="345.80" cy="469.20" r="1.7" fill="#111"/>
<circle cx="345.80" cy="473.50" r="1.7" fill="#111"/>
<circle cx="345.80" cy="477.30" r="1.7" fill="#111"/>
<line x1="363.40" y1="503.00" x2="363.40" y2="506.00" stroke="#222" stroke-width="1" />
<line x1="363.40" y1="448.00" x2="363.40" y2="469.90" stroke="#222" stroke-width="1.0" />
<line x1="360.15" y1="448.00" x2="366.65" y2="448.00" stroke="#222" stroke-width="1.0" />
<line x1="360.15" y1="469.90" x2="366.65" y2="469.90" stroke="#222" stroke-width="1.0" />
<line x1="356.90" y1="459.30" x2="369.90" y2="459.30" stroke="#222" stroke-width="1.3" />
<circle cx="363.40" cy="437.40" r="1.7" fill="#111"/>
<circle cx="363.40" cy="460.00" r="1.7" fill="#111"/>
<circle cx="363.40" cy="464.60" r="1.7" fill="#111"/>
<circle cx="363.40" cy="469.20" r="1.7" fill="#111"/>
<line x1="380.90" y1="503.00" x2="380.90" y2="506.00" stroke="#222" stroke-width="1" />
<line x1="380.90" y1="437.60" x2="380.90" y2="484.00" stroke="#222" stroke-width="1.0" />
<line x1="377.65" y1="437.60" x2="384.15" y2="437.60" stroke="#222" stroke-width="1.0" />
<line x1="377.65" y1="484.00" x2="384.15" y2="484.00" stroke="#222" stroke-width="1.0" />
<line x1="374.40" y1="460.60" x2="387.40" y2="460.60" stroke="#222" stroke-width="1.3" />
<circle cx="380.90" cy="431.10" r="1.7" fill="#111"/>
<circle cx="380.90" cy="469.20" r="1.7" fill="#111"/>
<circle cx="380.90" cy="475.70" r="1.7" fill="#111"/>
<circle cx="380.90" cy="476.80" r="1.7" fill="#111"/>
<circle cx="380.90" cy="483.00" r="1.7" fill="#111"/>
<text transform="translate(315.20 447.30) rotate(-90)" font-size="8.4" fill="#333" font-style="italic" textLength="33.5" lengthAdjust="spacingAndGlyphs" stroke="#333" stroke-width="0.08" >p=0.0028</text>
<text transform="translate(332.20 440.40) rotate(-90)" font-size="8.4" fill="#333" font-style="italic" textLength="25.399999999999977" lengthAdjust="spacingAndGlyphs" stroke="#333" stroke-width="0.08" >p=0.19</text>
<text transform="translate(349.50 446.00) rotate(-90)" font-size="8.4" fill="#333" font-style="italic" textLength="30" lengthAdjust="spacingAndGlyphs" stroke="#333" stroke-width="0.08" >p=0.029</text>
<text transform="translate(366.20 430.50) rotate(-90)" font-size="8.4" fill="#333" font-style="italic" textLength="24.100000000000023" lengthAdjust="spacingAndGlyphs" stroke="#333" stroke-width="0.08" >p=0.76</text>
<text transform="translate(384.90 424.40) rotate(-90)" font-size="8.4" fill="#333" font-style="italic" textLength="25.19999999999999" lengthAdjust="spacingAndGlyphs" stroke="#333" stroke-width="0.08" >p=0.97</text>
<text transform="translate(316.30 513.50) rotate(-45)" font-size="8.6" fill="#333" text-anchor="end" font-style="italic" stroke="#333" stroke-width="0.08" >Sel1l</text>
<text transform="translate(334.00 513.50) rotate(-45)" font-size="8.6" fill="#333" text-anchor="end" font-style="italic" stroke="#333" stroke-width="0.08" >Herpud1</text>
<text transform="translate(351.30 513.50) rotate(-45)" font-size="8.6" fill="#333" text-anchor="end" font-style="italic" stroke="#333" stroke-width="0.08" >Gp78</text>
<text transform="translate(368.90 513.50) rotate(-45)" font-size="8.6" fill="#333" text-anchor="end" font-style="italic" stroke="#333" stroke-width="0.08" >Vcp</text>
<text transform="translate(386.40 513.50) rotate(-45)" font-size="8.6" fill="#333" text-anchor="end" font-style="italic" stroke="#333" stroke-width="0.08" >Hrd1</text>
<text transform="translate(268.84 515.00) rotate(-90)" font-size="9" fill="#333" textLength="112.69999999999999" lengthAdjust="spacingAndGlyphs" stroke="#333" stroke-width="0.08" >Relative expression(fold change)</text>
<text transform="translate(410.40 349.00)" font-size="12" fill="#000" font-weight="bold" >G</text>
<text transform="translate(458.20 380.80)" font-size="10" fill="#222" textLength="53" lengthAdjust="spacingAndGlyphs" stroke="#222" stroke-width="0.08" >SLAM HSCs</text>
<circle cx="433.50" cy="390.50" r="1.6" fill="#1d3f8a"/>
<text transform="translate(438.00 392.90)" font-size="8.2" fill="#333" textLength="18.5" lengthAdjust="spacingAndGlyphs" stroke="#333" stroke-width="0.08" >Fresh</text>
<rect x="463.60" y="388.80" width="3.50" height="3.50" fill="#c0102a" />
<text transform="translate(469.20 392.90)" font-size="8.2" fill="#333" textLength="31.2" lengthAdjust="spacingAndGlyphs" stroke="#333" stroke-width="0.08" >Cultured</text>
<text transform="translate(476.00 404.20)" font-size="7.2" fill="#333" text-anchor="middle" textLength="19" lengthAdjust="spacingAndGlyphs" stroke="#333" stroke-width="0.08" >(n=5)</text>
<text transform="translate(464.20 415.40)" font-size="8.2" fill="#333" font-style="italic" textLength="42" lengthAdjust="spacingAndGlyphs" stroke="#333" stroke-width="0.08" >p=0.000011</text>
<line x1="478.00" y1="418.80" x2="492.30" y2="418.80" stroke="#222" stroke-width="1" />
<line x1="456.30" y1="408.00" x2="456.30" y2="503.80" stroke="#222" stroke-width="1.1" />
<line x1="455.80" y1="503.30" x2="513.00" y2="503.30" stroke="#222" stroke-width="1.1" />
<line x1="453.30" y1="409.50" x2="456.30" y2="409.50" stroke="#222" stroke-width="1" />
<text transform="translate(450.50 412.40)" font-size="8.6" fill="#333" text-anchor="end" stroke="#333" stroke-width="0.08" >0.08</text>
<line x1="453.30" y1="433.20" x2="456.30" y2="433.20" stroke="#222" stroke-width="1" />
<text transform="translate(450.50 436.10)" font-size="8.6" fill="#333" text-anchor="end" stroke="#333" stroke-width="0.08" >0.06</text>
<line x1="453.30" y1="456.70" x2="456.30" y2="456.70" stroke="#222" stroke-width="1" />
<text transform="translate(450.50 459.60)" font-size="8.6" fill="#333" text-anchor="end" stroke="#333" stroke-width="0.08" >0.04</text>
<line x1="453.30" y1="480.00" x2="456.30" y2="480.00" stroke="#222" stroke-width="1" />
<text transform="translate(450.50 482.90)" font-size="8.6" fill="#333" text-anchor="end" stroke="#333" stroke-width="0.08" >0.02</text>
<line x1="453.30" y1="503.50" x2="456.30" y2="503.50" stroke="#222" stroke-width="1" />
<text transform="translate(450.50 506.40)" font-size="8.6" fill="#333" text-anchor="end" stroke="#333" stroke-width="0.08" >0</text>
<line x1="484.00" y1="503.30" x2="484.00" y2="506.50" stroke="#222" stroke-width="1" />
<text transform="translate(475.20 516.60)" font-size="8.4" fill="#333" font-style="italic" textLength="18.4" lengthAdjust="spacingAndGlyphs" stroke="#333" stroke-width="0.08" >Sel1l</text>
<text transform="translate(428.04 505.70) rotate(-90)" font-size="9" fill="#333" textLength="101.09999999999997" lengthAdjust="spacingAndGlyphs" stroke="#333" stroke-width="0.08" >Relative expression to β-actin</text>
<line x1="473.50" y1="425.80" x2="473.50" y2="443.40" stroke="#222" stroke-width="1.1" />
<line x1="469.50" y1="425.80" x2="477.50" y2="425.80" stroke="#222" stroke-width="1.1" />
<line x1="469.50" y1="443.40" x2="477.50" y2="443.40" stroke="#222" stroke-width="1.1" />
<line x1="466.00" y1="434.90" x2="481.00" y2="434.90" stroke="#222" stroke-width="1.4300000000000002" />
<circle cx="476.60" cy="424.30" r="1.9" fill="#1d3f8a"/>
<circle cx="473.00" cy="431.30" r="1.9" fill="#1d3f8a"/>
<circle cx="477.70" cy="431.30" r="1.9" fill="#1d3f8a"/>
<circle cx="473.50" cy="444.80" r="1.9" fill="#1d3f8a"/>
<circle cx="478.80" cy="443.40" r="1.9" fill="#1d3f8a"/>
<line x1="492.50" y1="474.50" x2="492.50" y2="483.00" stroke="#222" stroke-width="1.1" />
<line x1="488.50" y1="474.50" x2="496.50" y2="474.50" stroke="#222" stroke-width="1.1" />
<line x1="488.50" y1="483.00" x2="496.50" y2="483.00" stroke="#222" stroke-width="1.1" />
<line x1="485.50" y1="478.70" x2="499.50" y2="478.70" stroke="#222" stroke-width="1.4300000000000002" />
<rect x="490.70" y="468.60" width="3.60" height="3.60" fill="#c0102a" />
<rect x="484.40" y="478.20" width="3.60" height="3.60" fill="#c0102a" />
<rect x="487.70" y="479.70" width="3.60" height="3.60" fill="#c0102a" />
<rect x="493.70" y="478.70" width="3.60" height="3.60" fill="#c0102a" />
<rect x="497.00" y="477.50" width="3.60" height="3.60" fill="#c0102a" />
<rect x="490.20" y="480.20" width="3.60" height="3.60" fill="#c0102a" />
<rect x="0.00" y="0.00" width="1.00" height="589.00" fill="#000" />
<rect x="0.00" y="0.00" width="520.00" height="1.00" fill="#000" />
<rect x="518.70" y="0.00" width="1.30" height="589.00" fill="#000" />
<rect x="0.00" y="587.70" width="520.00" height="1.30" fill="#000" />
</svg>
</body></html>
